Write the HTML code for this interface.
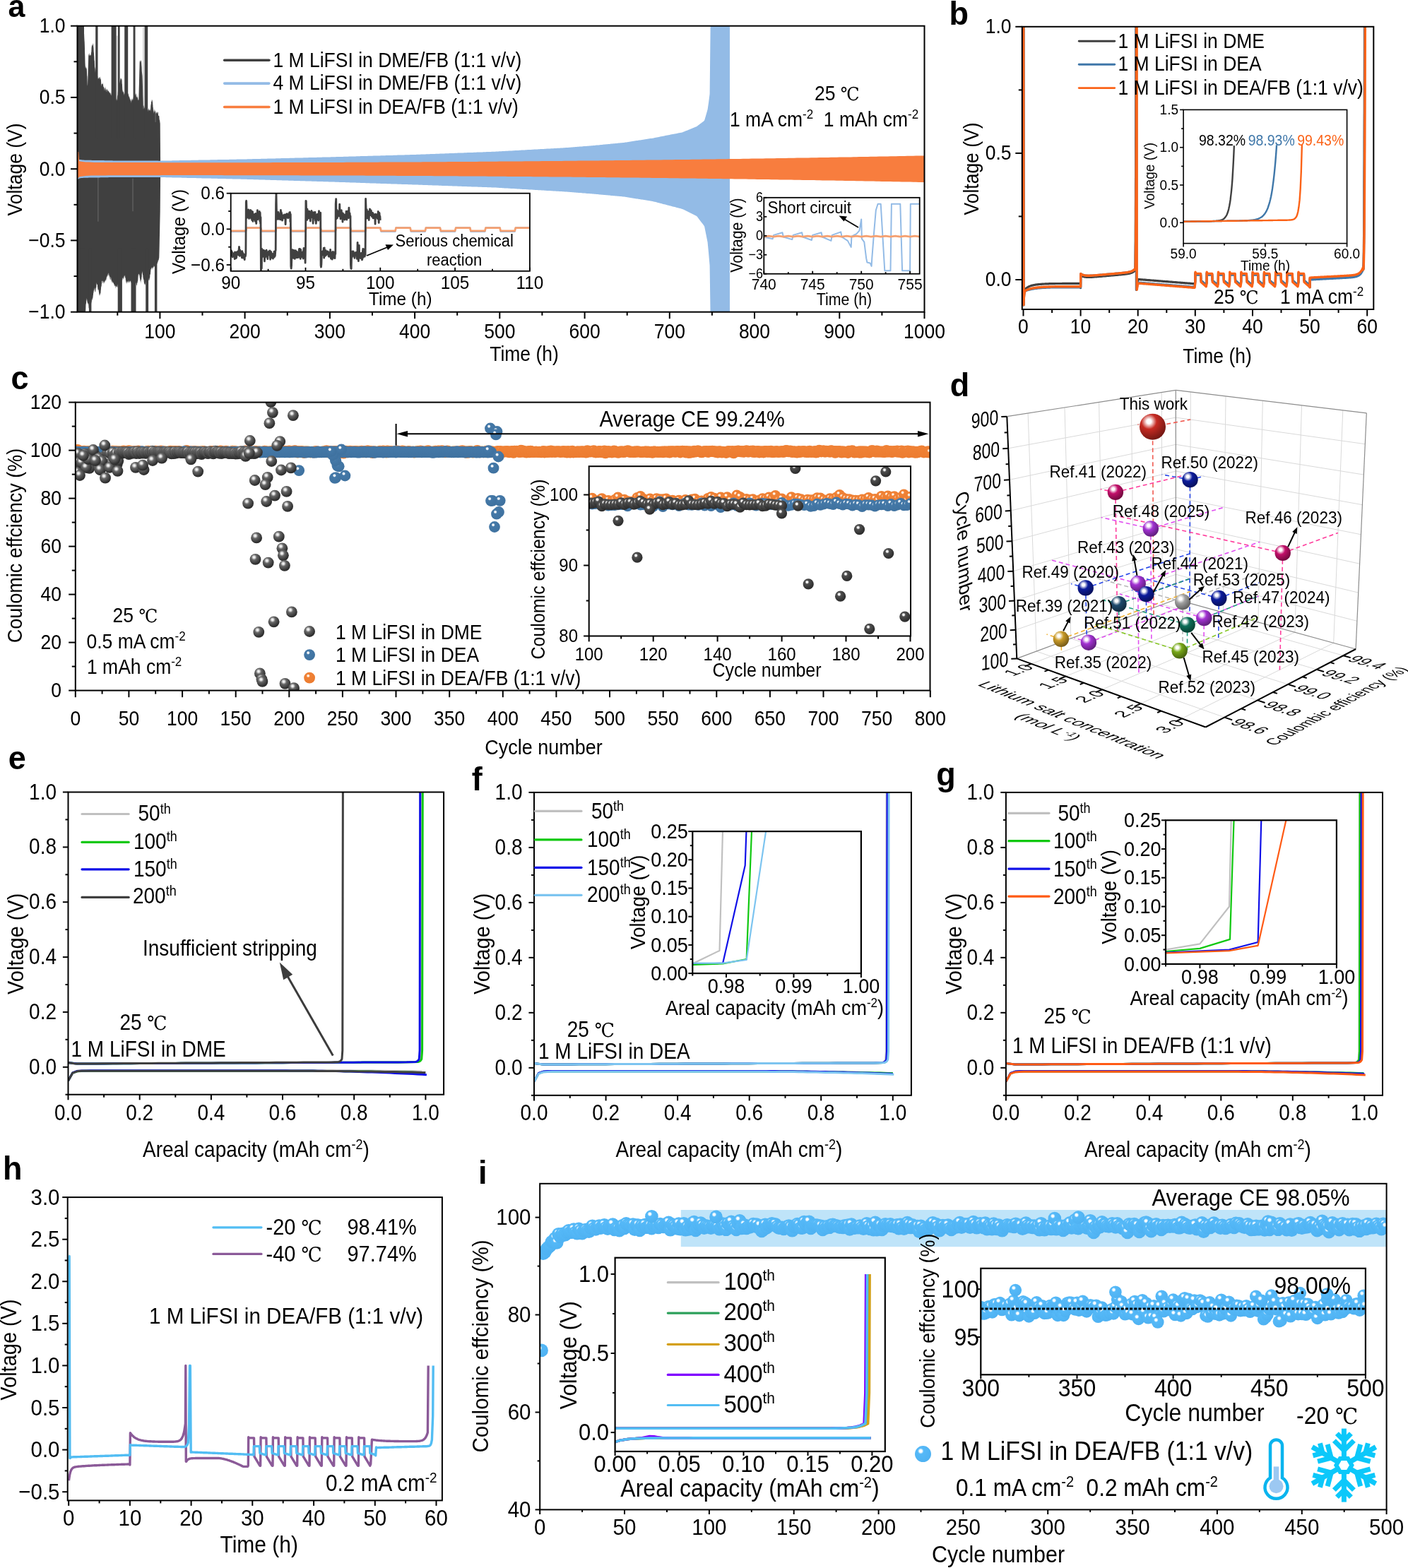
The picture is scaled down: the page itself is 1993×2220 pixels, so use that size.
<!DOCTYPE html><html><head><meta charset="utf-8"><style>html,body{margin:0;padding:0;background:#fff;overflow:hidden}svg{display:block}</style></head><body><svg width="1993" height="2220" viewBox="0 0 1993 2220"><defs><clipPath id="clipa"><rect x="109.5" y="36.7" width="1199" height="405"/></clipPath><clipPath id="clipa1"><rect x="326.7" y="273.7" width="423.2" height="110.1"/></clipPath><clipPath id="clipa2"><rect x="1081.3" y="279.8" width="220.4" height="107.9"/></clipPath><clipPath id="clipb"><rect x="1446.8" y="37.8" width="497.5" height="400.2"/></clipPath><clipPath id="clipbi"><rect x="1675.1" y="155.4" width="231.5" height="189.2"/></clipPath><radialGradient id="gG" cx="0.38" cy="0.32" r="0.62" fx="0.38" fy="0.32"><stop offset="0" stop-color="#f0f0f0"/><stop offset="0.12" stop-color="#f0f0f0"/><stop offset="0.4" stop-color="#666666"/><stop offset="1" stop-color="#2e2e2e"/></radialGradient><radialGradient id="gGd" cx="0.38" cy="0.32" r="0.62" fx="0.38" fy="0.32"><stop offset="0" stop-color="#ffffff"/><stop offset="0.12" stop-color="#ffffff"/><stop offset="0.3" stop-color="#505050"/><stop offset="1" stop-color="#2e2e2e"/></radialGradient><radialGradient id="gB" cx="0.38" cy="0.32" r="0.62" fx="0.38" fy="0.32"><stop offset="0" stop-color="#ffffff"/><stop offset="0.12" stop-color="#ffffff"/><stop offset="0.26" stop-color="#4579a8"/><stop offset="1" stop-color="#3f72a0"/></radialGradient><radialGradient id="gO" cx="0.38" cy="0.32" r="0.62" fx="0.38" fy="0.32"><stop offset="0" stop-color="#fff4ea"/><stop offset="0.12" stop-color="#fff4ea"/><stop offset="0.26" stop-color="#f08236"/><stop offset="1" stop-color="#ec7c30"/></radialGradient><clipPath id="clipc"><rect x="106.8" y="569.6" width="1209.7" height="408"/></clipPath><clipPath id="clipci"><rect x="833.7" y="660.2" width="455.3" height="240.3"/></clipPath><radialGradient id="gdThiswork" cx="0.36" cy="0.3" r="0.7" fx="0.36" fy="0.3"><stop offset="0" stop-color="#ffffff"/><stop offset="0.12" stop-color="#ffffff"/><stop offset="0.42" stop-color="#c62a22"/><stop offset="1" stop-color="#761914"/></radialGradient><radialGradient id="gdRef50" cx="0.36" cy="0.3" r="0.7" fx="0.36" fy="0.3"><stop offset="0" stop-color="#ffffff"/><stop offset="0.12" stop-color="#ffffff"/><stop offset="0.42" stop-color="#0c1c9c"/><stop offset="1" stop-color="#07105d"/></radialGradient><radialGradient id="gdRef41" cx="0.36" cy="0.3" r="0.7" fx="0.36" fy="0.3"><stop offset="0" stop-color="#ffffff"/><stop offset="0.12" stop-color="#ffffff"/><stop offset="0.42" stop-color="#c2106a"/><stop offset="1" stop-color="#74093f"/></radialGradient><radialGradient id="gdRef48" cx="0.36" cy="0.3" r="0.7" fx="0.36" fy="0.3"><stop offset="0" stop-color="#ffffff"/><stop offset="0.12" stop-color="#ffffff"/><stop offset="0.42" stop-color="#a232d2"/><stop offset="1" stop-color="#611e7e"/></radialGradient><radialGradient id="gdRef46" cx="0.36" cy="0.3" r="0.7" fx="0.36" fy="0.3"><stop offset="0" stop-color="#ffffff"/><stop offset="0.12" stop-color="#ffffff"/><stop offset="0.42" stop-color="#c2106a"/><stop offset="1" stop-color="#74093f"/></radialGradient><radialGradient id="gdRef43" cx="0.36" cy="0.3" r="0.7" fx="0.36" fy="0.3"><stop offset="0" stop-color="#ffffff"/><stop offset="0.12" stop-color="#ffffff"/><stop offset="0.42" stop-color="#a232d2"/><stop offset="1" stop-color="#611e7e"/></radialGradient><radialGradient id="gdRef44" cx="0.36" cy="0.3" r="0.7" fx="0.36" fy="0.3"><stop offset="0" stop-color="#ffffff"/><stop offset="0.12" stop-color="#ffffff"/><stop offset="0.42" stop-color="#0c1c9c"/><stop offset="1" stop-color="#07105d"/></radialGradient><radialGradient id="gdRef49" cx="0.36" cy="0.3" r="0.7" fx="0.36" fy="0.3"><stop offset="0" stop-color="#ffffff"/><stop offset="0.12" stop-color="#ffffff"/><stop offset="0.42" stop-color="#0c1c9c"/><stop offset="1" stop-color="#07105d"/></radialGradient><radialGradient id="gdRef53" cx="0.36" cy="0.3" r="0.7" fx="0.36" fy="0.3"><stop offset="0" stop-color="#ffffff"/><stop offset="0.12" stop-color="#ffffff"/><stop offset="0.42" stop-color="#a0a0a0"/><stop offset="1" stop-color="#606060"/></radialGradient><radialGradient id="gdRef47" cx="0.36" cy="0.3" r="0.7" fx="0.36" fy="0.3"><stop offset="0" stop-color="#ffffff"/><stop offset="0.12" stop-color="#ffffff"/><stop offset="0.42" stop-color="#0c1c9c"/><stop offset="1" stop-color="#07105d"/></radialGradient><radialGradient id="gdRef51" cx="0.36" cy="0.3" r="0.7" fx="0.36" fy="0.3"><stop offset="0" stop-color="#ffffff"/><stop offset="0.12" stop-color="#ffffff"/><stop offset="0.42" stop-color="#1e4a6c"/><stop offset="1" stop-color="#122c40"/></radialGradient><radialGradient id="gdRef39" cx="0.36" cy="0.3" r="0.7" fx="0.36" fy="0.3"><stop offset="0" stop-color="#ffffff"/><stop offset="0.12" stop-color="#ffffff"/><stop offset="0.42" stop-color="#c89a28"/><stop offset="1" stop-color="#785c18"/></radialGradient><radialGradient id="gdRef35" cx="0.36" cy="0.3" r="0.7" fx="0.36" fy="0.3"><stop offset="0" stop-color="#ffffff"/><stop offset="0.12" stop-color="#ffffff"/><stop offset="0.42" stop-color="#a232d2"/><stop offset="1" stop-color="#611e7e"/></radialGradient><radialGradient id="gdRef42" cx="0.36" cy="0.3" r="0.7" fx="0.36" fy="0.3"><stop offset="0" stop-color="#ffffff"/><stop offset="0.12" stop-color="#ffffff"/><stop offset="0.42" stop-color="#a232d2"/><stop offset="1" stop-color="#611e7e"/></radialGradient><radialGradient id="gdRef45" cx="0.36" cy="0.3" r="0.7" fx="0.36" fy="0.3"><stop offset="0" stop-color="#ffffff"/><stop offset="0.12" stop-color="#ffffff"/><stop offset="0.42" stop-color="#0e6e58"/><stop offset="1" stop-color="#084234"/></radialGradient><radialGradient id="gdRef52" cx="0.36" cy="0.3" r="0.7" fx="0.36" fy="0.3"><stop offset="0" stop-color="#ffffff"/><stop offset="0.12" stop-color="#ffffff"/><stop offset="0.42" stop-color="#78a818"/><stop offset="1" stop-color="#48640e"/></radialGradient><clipPath id="clipe"><rect x="96.5" y="1121.5" width="531.6" height="428.2"/></clipPath><clipPath id="clipf"><rect x="756" y="1121.9" width="533.9" height="428.9"/></clipPath><clipPath id="clipif"><rect x="980.3" y="1177.1" width="238.6" height="201"/></clipPath><clipPath id="clipg"><rect x="1423.9" y="1121.9" width="533.1" height="428.9"/></clipPath><clipPath id="clipig"><rect x="1650" y="1161.3" width="241.9" height="203.6"/></clipPath><clipPath id="cliph"><rect x="95.7" y="1695.1" width="530.2" height="429.3"/></clipPath><radialGradient id="gS" cx="0.36" cy="0.32" r="0.66" fx="0.36" fy="0.32"><stop offset="0" stop-color="#ffffff"/><stop offset="0.12" stop-color="#ffffff"/><stop offset="0.28" stop-color="#55b9f8"/><stop offset="1" stop-color="#4fb2f2"/></radialGradient><clipPath id="clipim"><rect x="764.2" y="1675.8" width="1198.4" height="461.6"/></clipPath><clipPath id="clipi1"><rect x="870.6" y="1780.7" width="382.2" height="274.3"/></clipPath><clipPath id="clipi2"><rect x="1388.3" y="1795.8" width="544.6" height="150.5"/></clipPath></defs><text x="11.6" y="23.6" font-size="43" font-weight="bold" fill="#000" font-family='"Liberation Sans", Arial, sans-serif' transform="translate(11.6 23.6) scale(1 1.03) translate(-11.6 -23.6)" >a</text>
<g clip-path="url(#clipa)">
<path d="M109.3 36.8 L109.5 37.7 L109.7 37 L109.9 34.5 L110.1 38.3 L110.4 37.6 L110.6 36.2 L110.8 38.1 L111 37.9 L111.2 37.9 L111.4 37.6 L111.6 38.6 L111.8 36.6 L112 37.7 L112.2 37.3 L112.4 39.3 L112.6 38.5 L112.8 38.1 L113 37.4 L113.3 38.4 L113.5 39 L113.7 38.7 L113.9 41.4 L114.1 41.1 L114.3 35 L114.5 36.5 L114.7 39.5 L114.9 39.2 L115.1 40.4 L115.3 40.6 L115.5 43.9 L115.7 38.6 L115.9 40 L116.2 44.2 L116.4 42 L116.6 42.1 L116.8 40.3 L117 38.6 L117.2 41.7 L117.4 41.8 L117.6 39.7 L117.8 40.7 L118 41.9 L118.2 40.6 L118.4 42.1 L118.6 42.6 L118.8 45.8 L119.1 48.2 L119.3 53.3 L119.5 57.2 L119.7 59.5 L119.9 64.7 L120.1 74.3 L120.3 79.3 L120.5 88.6 L120.7 92.4 L120.9 96.1 L121.1 95 L121.3 93.4 L121.5 95.3 L121.7 96.4 L122 97.1 L122.2 95.5 L122.4 95.7 L122.6 98.3 L122.8 97.6 L123 102.7 L123.2 107.5 L123.4 107.5 L123.6 114.6 L123.8 120.2 L124 121.7 L124.2 113.4 L124.4 108.6 L124.6 100.3 L124.8 94 L125.1 84.5 L125.3 75.2 L125.5 77.4 L125.7 76.9 L125.9 78.9 L126.1 77.9 L126.3 74.9 L126.5 75.6 L126.7 79.1 L126.9 78.8 L127.1 76.6 L127.3 77.6 L127.5 78.4 L127.7 78.4 L128 79.1 L128.2 78.1 L128.4 77.5 L128.6 77.2 L128.8 79.4 L129 73.9 L129.2 74.5 L129.4 71.9 L129.6 66.6 L129.8 66.6 L130 62.1 L130.2 64.6 L130.4 62.9 L130.6 64.2 L130.9 65.2 L131.1 63.8 L131.3 61.7 L131.5 60.6 L131.7 66 L131.9 62.9 L132.1 62 L132.3 66.3 L132.5 68.6 L132.7 73.2 L132.9 74.8 L133.1 77.7 L133.3 79.9 L133.5 85.3 L133.8 86.3 L134 92.5 L134.2 97.4 L134.4 95.8 L134.6 94.5 L134.8 99.8 L135 103.2 L135.2 97.5 L135.4 97.3 L135.6 100.6 L135.8 98.4 L136 99.2 L136.2 99.6 L136.4 101.3 L136.7 100.9 L136.9 103.2 L137.1 103.6 L137.3 103.6 L137.5 105.6 L137.7 105.7 L137.9 108.5 L138.1 107.7 L138.3 109 L138.5 113.2 L138.7 110.7 L138.9 110.7 L139.1 111.6 L139.3 110.1 L139.6 110.4 L139.8 111.5 L140 111.2 L140.2 108.8 L140.4 112.1 L140.6 109.8 L140.8 109 L141 109.3 L141.2 110.1 L141.4 113.5 L141.6 108.8 L141.8 111 L142 107.2 L142.2 110.8 L142.5 112.3 L142.7 112 L142.9 113 L143.1 116.1 L143.3 118.5 L143.5 120.1 L143.7 122.3 L143.9 119.4 L144.1 118.1 L144.3 118.8 L144.5 118.9 L144.7 119.2 L144.9 119 L145.1 119.3 L145.4 116.3 L145.6 120.4 L145.8 118.7 L146 118.3 L146.2 122 L146.4 123.7 L146.6 123 L146.8 123 L147 121.8 L147.2 128.8 L147.4 126.1 L147.6 123.4 L147.8 124.1 L148 125.6 L148.3 123 L148.5 126 L148.7 125 L148.9 127.9 L149.1 127.6 L149.3 121.6 L149.5 126.3 L149.7 123.6 L149.9 128.2 L150.1 126.8 L150.3 127.5 L150.5 124.9 L150.7 129.8 L150.9 130.3 L151.1 125.3 L151.4 127.7 L151.6 126.1 L151.8 127.3 L152 125.5 L152.2 130.9 L152.4 126.5 L152.6 127.9 L152.8 129.5 L153 127.8 L153.2 128.7 L153.4 128.5 L153.6 129.4 L153.8 128 L154 129.5 L154.3 130.1 L154.5 130.1 L154.7 131 L154.9 130.7 L155.1 132.7 L155.3 131.2 L155.5 131.8 L155.7 131.1 L155.9 131.6 L156.1 130.7 L156.3 133.9 L156.5 131.4 L156.7 132.3 L156.9 134.4 L157.2 134.7 L157.4 133.7 L157.6 131.2 L157.8 135.5 L158 135.5 L158.2 133 L158.4 136.9 L158.6 134.7 L158.8 134.3 L159 136.5 L159.2 136.4 L159.4 137.2 L159.6 134.5 L159.8 140.4 L160.1 136.7 L160.3 135.3 L160.5 139 L160.7 137.6 L160.9 138.9 L161.1 137.9 L161.3 138.6 L161.5 139.2 L161.7 137.8 L161.9 140.3 L162.1 138.6 L162.3 138.1 L162.5 139.8 L162.7 140.6 L163 139.6 L163.2 138.7 L163.4 141.4 L163.6 137.6 L163.8 139 L164 140.9 L164.2 138.7 L164.4 141.2 L164.6 141.2 L164.8 143 L165 140.1 L165.2 140.8 L165.4 141.1 L165.6 135.3 L165.9 143.2 L166.1 135.7 L166.3 134.4 L166.5 135.8 L166.7 133.1 L166.9 128.9 L167.1 131.7 L167.3 130.8 L167.5 127.4 L167.7 126.4 L167.9 126.5 L168.1 122.9 L168.3 123.9 L168.5 122.3 L168.8 119.6 L169 117.2 L169.2 117.8 L169.4 115.5 L169.6 117.4 L169.8 114.7 L170 114.5 L170.2 112.2 L170.4 111.2 L170.6 109.7 L170.8 112.3 L171 114.3 L171.2 111.1 L171.4 110.8 L171.7 111.7 L171.9 111.4 L172.1 111.3 L172.3 112.9 L172.5 112.4 L172.7 118.3 L172.9 119 L173.1 122.7 L173.3 126.8 L173.5 127.9 L173.7 131.3 L173.9 128.4 L174.1 128.6 L174.3 129.8 L174.5 130.8 L174.8 129.1 L175 131.9 L175.2 129.7 L175.4 135.3 L175.6 133.4 L175.8 132.5 L176 132 L176.2 132.9 L176.4 133.2 L176.6 131.8 L176.8 132 L177 133.2 L177.2 132.7 L177.4 135.1 L177.7 135.4 L177.9 133.6 L178.1 134.3 L178.3 131.3 L178.5 134.6 L178.7 133.5 L178.9 134.3 L179.1 136.2 L179.3 129.8 L179.5 134 L179.7 131.7 L179.9 134.5 L180.1 131.4 L180.3 132.7 L180.6 133.9 L180.8 134.6 L181 133.7 L181.2 132.2 L181.4 132.6 L181.6 135 L181.8 133.5 L182 131.4 L182.2 136.2 L182.4 136.1 L182.6 137.5 L182.8 136.1 L183 138.6 L183.2 136.1 L183.5 139.5 L183.7 138.3 L183.9 140.9 L184.1 141.7 L184.3 139.2 L184.5 140.6 L184.7 141.1 L184.9 143.3 L185.1 142.8 L185.3 139.9 L185.5 143 L185.7 143.8 L185.9 146.4 L186.1 139.8 L186.4 141.4 L186.6 144.1 L186.8 139.4 L187 139.3 L187.2 141.9 L187.4 142.4 L187.6 139.3 L187.8 141 L188 139.9 L188.2 142 L188.4 139.1 L188.6 140.5 L188.8 137 L189 137.9 L189.3 137.7 L189.5 139.5 L189.7 138.2 L189.9 135.7 L190.1 137.8 L190.3 137.6 L190.5 135.8 L190.7 135.3 L190.9 135.1 L191.1 132.3 L191.3 135.1 L191.5 134.9 L191.7 132.7 L191.9 135.1 L192.2 131.3 L192.4 133 L192.6 133.6 L192.8 138.1 L193 132.5 L193.2 136.5 L193.4 137.6 L193.6 137.1 L193.8 138.8 L194 135.6 L194.2 133.9 L194.4 139.4 L194.6 136.5 L194.8 138.4 L195.1 137.4 L195.3 141.5 L195.5 141.6 L195.7 139.4 L195.9 142.5 L196.1 141.6 L196.3 141.6 L196.5 133.9 L196.7 125.5 L196.9 118.9 L197.1 110.4 L197.3 101.3 L197.5 95.6 L197.7 84.9 L197.9 86.4 L198.2 86.6 L198.4 88.4 L198.6 85.1 L198.8 88.8 L199 86.2 L199.2 85.6 L199.4 84.8 L199.6 86.9 L199.8 86 L200 86.7 L200.2 89.2 L200.4 92.8 L200.6 95.1 L200.8 100.7 L201.1 103.7 L201.3 105.5 L201.5 107.2 L201.7 112.1 L201.9 119.1 L202.1 126.7 L202.3 135 L202.5 139.2 L202.7 143.4 L202.9 150.2 L203.1 149.4 L203.3 149.1 L203.5 150.2 L203.7 150.9 L204 153.8 L204.2 150.9 L204.4 153.2 L204.6 154 L204.8 151.4 L205 154 L205.2 152.7 L205.4 150.9 L205.6 152.2 L205.8 151.9 L206 151.6 L206.2 151.8 L206.4 152.5 L206.6 153.1 L206.9 151 L207.1 152.6 L207.3 150.2 L207.5 153.3 L207.7 154 L207.9 153.4 L208.1 153.7 L208.3 154.3 L208.5 152.4 L208.7 153.2 L208.9 154.6 L209.1 155.5 L209.3 154.7 L209.5 158.4 L209.8 154.1 L210 156 L210.2 156.6 L210.4 154.4 L210.6 153.4 L210.8 153 L211 155.3 L211.2 157.1 L211.4 155.8 L211.6 155.8 L211.8 155 L212 156.7 L212.2 152.4 L212.4 156.4 L212.7 156.2 L212.9 154 L213.1 158 L213.3 150.2 L213.5 148.8 L213.7 146.6 L213.9 148.5 L214.1 143.3 L214.3 144 L214.5 143.8 L214.7 143.3 L214.9 140.7 L215.1 141.8 L215.3 145.6 L215.6 140.7 L215.8 141.5 L216 142.6 L216.2 146.9 L216.4 148.7 L216.6 152.2 L216.8 151.9 L217 157.9 L217.2 157.4 L217.4 154 L217.6 159.3 L217.8 160.7 L218 155.7 L218.2 157.2 L218.5 159.6 L218.7 155 L218.9 154.3 L219.1 155.6 L219.3 156.9 L219.5 157 L219.7 159.1 L219.9 158.7 L220.1 156.3 L220.3 159.4 L220.5 161.6 L220.7 160.6 L220.9 160.3 L221.1 158.8 L221.4 160.4 L221.6 157.3 L221.8 160.2 L222 158.9 L222.2 161 L222.4 159.9 L222.6 157.4 L222.8 159.5 L223 161.4 L223.2 157.6 L223.4 159 L223.6 159.2 L223.8 158.5 L224 163.1 L224.2 164.2 L224.5 163.9 L224.7 163.5 L224.9 163.5 L225.1 164.5 L225.3 163.4 L225.5 167.6 L225.7 169.3 L225.9 170.6 L226.1 169.6 L226.3 172 L226.5 173.5 L226.7 175 L226.9 201.9 L227.1 228.8 L227.1 249.5 L226.9 274.4 L226.7 299.2 L226.5 308.7 L226.3 318.1 L226.1 329 L225.9 337.2 L225.7 347.8 L225.5 356.1 L225.3 363.8 L225.1 366 L224.9 366 L224.7 368 L224.5 367.9 L224.2 369.7 L224 367.6 L223.8 369.3 L223.6 370.4 L223.4 371.5 L223.2 371.6 L223 370.6 L222.8 373.7 L222.6 372.8 L222.4 373.9 L222.2 372.4 L222 373.6 L221.8 376.3 L221.6 373.7 L221.4 376.1 L221.1 378.2 L220.9 375.6 L220.7 374.9 L220.5 374 L220.3 377.8 L220.1 374.3 L219.9 378.5 L219.7 375.9 L219.5 377.7 L219.3 376.7 L219.1 376.3 L218.9 376.1 L218.7 378.5 L218.5 376.8 L218.2 377.5 L218 377.5 L217.8 375.3 L217.6 379.1 L217.4 378.3 L217.2 377.4 L217 378.5 L216.8 380.5 L216.6 378.8 L216.4 378 L216.2 382.7 L216 379 L215.8 382.2 L215.6 379.6 L215.3 378.9 L215.1 378.1 L214.9 379.5 L214.7 380.3 L214.5 382.6 L214.3 379.1 L214.1 378.7 L213.9 381 L213.7 381.7 L213.5 380.5 L213.3 384.1 L213.1 385.8 L212.9 389.2 L212.7 387.9 L212.4 389.1 L212.2 393 L212 393.9 L211.8 397.6 L211.6 397 L211.4 395.3 L211.2 392.6 L211 397 L210.8 393.2 L210.6 396.7 L210.4 396.4 L210.2 397.8 L210 395.7 L209.8 393.3 L209.5 398.4 L209.3 397.6 L209.1 396.1 L208.9 396.1 L208.7 396 L208.5 396.8 L208.3 400.1 L208.1 396.7 L207.9 399.9 L207.7 400.1 L207.5 399.9 L207.3 394.9 L207.1 399.7 L206.9 396.1 L206.6 399.9 L206.4 399.9 L206.2 400 L206 398.8 L205.8 403.7 L205.6 402.8 L205.4 402.6 L205.2 401.6 L205 405.6 L204.8 401.2 L204.6 401.8 L204.4 403.2 L204.2 401.6 L204 400.9 L203.7 398.4 L203.5 396.2 L203.3 395.7 L203.1 395.7 L202.9 393.8 L202.7 392.6 L202.5 395.9 L202.3 388.9 L202.1 390 L201.9 387.8 L201.7 387.2 L201.5 383.4 L201.3 385.4 L201.1 385.9 L200.8 388.1 L200.6 393.2 L200.4 391.9 L200.2 396 L200 395.8 L199.8 395.7 L199.6 402.1 L199.4 398.8 L199.2 395.4 L199 400 L198.8 397.7 L198.6 398.2 L198.4 396.2 L198.2 395.3 L197.9 393.3 L197.7 392.8 L197.5 388 L197.3 390.5 L197.1 389.5 L196.9 388.7 L196.7 387.5 L196.5 388.1 L196.3 387.8 L196.1 391.5 L195.9 387.8 L195.7 389.8 L195.5 392.4 L195.3 396 L195.1 397.9 L194.8 398.2 L194.6 400.9 L194.4 399.4 L194.2 401.5 L194 400.6 L193.8 406.3 L193.6 403.1 L193.4 403.5 L193.2 404 L193 403.7 L192.8 400.6 L192.6 400.1 L192.4 403.1 L192.2 400.1 L191.9 401.3 L191.7 401.4 L191.5 400.3 L191.3 401.7 L191.1 399.7 L190.9 402.9 L190.7 400.4 L190.5 402.3 L190.3 400 L190.1 400.4 L189.9 402.7 L189.7 399.4 L189.5 404.1 L189.3 401 L189 402.2 L188.8 401.9 L188.6 399.9 L188.4 401.2 L188.2 399.3 L188 397 L187.8 400.3 L187.6 401.8 L187.4 401.8 L187.2 401.4 L187 400.9 L186.8 401.4 L186.6 400.1 L186.4 397.5 L186.1 399.7 L185.9 401 L185.7 396.6 L185.5 400.8 L185.3 400.1 L185.1 399.6 L184.9 396.9 L184.7 398 L184.5 397.8 L184.3 398.4 L184.1 399.2 L183.9 398.5 L183.7 397.7 L183.5 399.1 L183.2 401 L183 398.4 L182.8 401.6 L182.6 398 L182.4 396.6 L182.2 400.6 L182 398.3 L181.8 399.4 L181.6 401.2 L181.4 397 L181.2 399.4 L181 397.2 L180.8 400.9 L180.6 399.5 L180.3 397.9 L180.1 399.4 L179.9 403 L179.7 397.9 L179.5 401.8 L179.3 400.2 L179.1 397.8 L178.9 400.3 L178.7 397.7 L178.5 401.5 L178.3 400 L178.1 396.1 L177.9 397.5 L177.7 393.6 L177.4 392.7 L177.2 394.6 L177 388.8 L176.8 391.4 L176.6 390.6 L176.4 394.1 L176.2 390 L176 390.6 L175.8 390.4 L175.6 392.3 L175.4 395.7 L175.2 391 L175 393.9 L174.8 394.9 L174.5 396 L174.3 393 L174.1 393.4 L173.9 394.3 L173.7 393.8 L173.5 392.2 L173.3 397.2 L173.1 396 L172.9 394.3 L172.7 396.5 L172.5 396.6 L172.3 397.3 L172.1 395.7 L171.9 396.1 L171.7 396 L171.4 400.9 L171.2 401.5 L171 399.5 L170.8 402.2 L170.6 399.1 L170.4 401.5 L170.2 402.1 L170 402 L169.8 400.6 L169.6 401.4 L169.4 407.9 L169.2 401.3 L169 404.7 L168.8 404.4 L168.5 402.6 L168.3 403.2 L168.1 402.3 L167.9 405.2 L167.7 404.8 L167.5 404.7 L167.3 403 L167.1 400.4 L166.9 404.2 L166.7 401.9 L166.5 406.5 L166.3 407 L166.1 406 L165.9 406.5 L165.6 405.3 L165.4 407.8 L165.2 403.8 L165 406.2 L164.8 405.8 L164.6 404.9 L164.4 407.1 L164.2 404.2 L164 407.5 L163.8 408.4 L163.6 406.6 L163.4 403.5 L163.2 405.6 L163 405.1 L162.7 405.1 L162.5 405.7 L162.3 403.6 L162.1 403.3 L161.9 405.2 L161.7 402.5 L161.5 401.8 L161.3 403.5 L161.1 402 L160.9 401.6 L160.7 400.5 L160.5 401.2 L160.3 399.4 L160.1 400.3 L159.8 400.3 L159.6 400.6 L159.4 399 L159.2 399.5 L159 397.2 L158.8 401.9 L158.6 399.6 L158.4 396.7 L158.2 398.4 L158 398.5 L157.8 399.1 L157.6 394.4 L157.4 392.8 L157.2 396.6 L156.9 395.4 L156.7 395.8 L156.5 397.6 L156.3 391.9 L156.1 392.4 L155.9 392.6 L155.7 396.2 L155.5 394.9 L155.3 392.2 L155.1 391.1 L154.9 389 L154.7 393.1 L154.5 389.7 L154.3 391 L154 386.3 L153.8 386.7 L153.6 387.5 L153.4 390.3 L153.2 389 L153 392.4 L152.8 389.9 L152.6 387.2 L152.4 390.7 L152.2 387.9 L152 391.4 L151.8 389.4 L151.6 392.7 L151.4 390.7 L151.1 392.4 L150.9 395.6 L150.7 396 L150.5 391.9 L150.3 393.6 L150.1 398.5 L149.9 396.5 L149.7 397.8 L149.5 395.6 L149.3 396 L149.1 398 L148.9 397.5 L148.7 397.7 L148.5 399.3 L148.3 399.7 L148 397.4 L147.8 400.6 L147.6 400 L147.4 399.5 L147.2 400.9 L147 402.2 L146.8 400.9 L146.6 398 L146.4 399.2 L146.2 397.6 L146 399.8 L145.8 401.4 L145.6 400.2 L145.4 400.7 L145.1 397.2 L144.9 398 L144.7 397.7 L144.5 398.3 L144.3 397.1 L144.1 402.3 L143.9 400.9 L143.7 404.6 L143.5 406.2 L143.3 405 L143.1 407.3 L142.9 410.1 L142.7 411 L142.5 414.5 L142.2 415.3 L142 416.8 L141.8 414.9 L141.6 416.9 L141.4 417.8 L141.2 417.2 L141 419.4 L140.8 416.2 L140.6 418.9 L140.4 416.7 L140.2 415.2 L140 413.5 L139.8 413.1 L139.6 409.9 L139.3 411.3 L139.1 409.3 L138.9 409.8 L138.7 411.1 L138.5 410.5 L138.3 405.1 L138.1 409.4 L137.9 401.4 L137.7 403 L137.5 402.6 L137.3 403.2 L137.1 402.9 L136.9 401.5 L136.7 400 L136.4 405.8 L136.2 407 L136 408 L135.8 407.2 L135.6 408.8 L135.4 410.9 L135.2 414 L135 412.2 L134.8 413.9 L134.6 412.6 L134.4 413.2 L134.2 409.3 L134 406.1 L133.8 411.6 L133.5 409 L133.3 408 L133.1 411.3 L132.9 410.8 L132.7 414.3 L132.5 411.5 L132.3 415.6 L132.1 414.7 L131.9 418.7 L131.7 417.7 L131.5 422 L131.3 421.1 L131.1 423.9 L130.9 425.2 L130.6 421.9 L130.4 424 L130.2 425.9 L130 422 L129.8 425.8 L129.6 428.3 L129.4 426.9 L129.2 430.2 L129 427.8 L128.8 424.7 L128.6 427.5 L128.4 429.6 L128.2 426.3 L128 430 L127.7 427.3 L127.5 433.1 L127.3 431.2 L127.1 430.2 L126.9 432.2 L126.7 433 L126.5 433.3 L126.3 433 L126.1 434.3 L125.9 436.2 L125.7 436.8 L125.5 433.3 L125.3 430.7 L125.1 429.6 L124.8 429.4 L124.6 429.7 L124.4 431.9 L124.2 429.3 L124 429.4 L123.8 428.3 L123.6 427 L123.4 427 L123.2 424.5 L123 423.5 L122.8 421.9 L122.6 426.3 L122.4 425.2 L122.2 424.1 L122 431.2 L121.7 429.1 L121.5 431.8 L121.3 437.7 L121.1 441.6 L120.9 439.1 L120.7 442.9 L120.5 440.7 L120.3 441 L120.1 441.6 L119.9 443.4 L119.7 444.9 L119.5 442.8 L119.3 443.3 L119.1 443.3 L118.8 441.7 L118.6 443.6 L118.4 442.3 L118.2 439.8 L118 442.1 L117.8 439.7 L117.6 445.7 L117.4 441.2 L117.2 439.8 L117 441.6 L116.8 442.1 L116.6 445.2 L116.4 442.6 L116.2 442.7 L115.9 445.2 L115.7 443.3 L115.5 440.7 L115.3 439.5 L115.1 442.7 L114.9 444.2 L114.7 441.2 L114.5 441.3 L114.3 439.6 L114.1 439.7 L113.9 441.5 L113.7 441.5 L113.5 437 L113.3 442.2 L113 440.3 L112.8 437.6 L112.6 440.6 L112.4 443.5 L112.2 440.9 L112 441.6 L111.8 443.7 L111.6 441.5 L111.4 443.2 L111.2 442.6 L111 441.9 L110.8 440 L110.6 439.1 L110.4 438.8 L110.1 442.2 L109.9 443.6 L109.7 443.2 L109.5 445.2 L109.3 442.8Z" stroke="none" stroke-width="0" fill="#404040" stroke-linejoin="round" />
<rect x="109.3" y="36.7" width="9.7" height="160" fill="#404040" stroke="none" stroke-width="0" />
<rect x="135.2" y="36.7" width="3.3" height="160" fill="#404040" stroke="none" stroke-width="0" />
<rect x="157.6" y="36.7" width="7" height="160" fill="#404040" stroke="none" stroke-width="0" />
<rect x="166.9" y="36.7" width="2.7" height="160" fill="#404040" stroke="none" stroke-width="0" />
<rect x="176.2" y="36.7" width="5" height="160" fill="#404040" stroke="none" stroke-width="0" />
<rect x="188.6" y="36.7" width="2.9" height="160" fill="#404040" stroke="none" stroke-width="0" />
<rect x="204.6" y="36.7" width="4.6" height="160" fill="#404040" stroke="none" stroke-width="0" />
<rect x="109.3" y="351.7" width="11.4" height="92" fill="#404040" stroke="none" stroke-width="0" />
<rect x="125.9" y="351.7" width="3.5" height="92" fill="#404040" stroke="none" stroke-width="0" />
<rect x="166.7" y="351.7" width="6.2" height="92" fill="#404040" stroke="none" stroke-width="0" />
<rect x="185.5" y="351.7" width="7" height="92" fill="#404040" stroke="none" stroke-width="0" />
<rect x="206.2" y="351.7" width="3.9" height="92" fill="#404040" stroke="none" stroke-width="0" />
<rect x="218.9" y="351.7" width="3.5" height="92" fill="#404040" stroke="none" stroke-width="0" />
<line x1="138.9" y1="249.5" x2="138.9" y2="313.7" stroke="#8a8a8a" stroke-width="0.6" />
<line x1="188" y1="252.6" x2="188" y2="299.2" stroke="#8a8a8a" stroke-width="0.6" />
<line x1="165.9" y1="50.7" x2="165.9" y2="141.8" stroke="#8a8a8a" stroke-width="0.6" />
<line x1="202.9" y1="38.3" x2="202.9" y2="154.2" stroke="#8a8a8a" stroke-width="0.6" />
<line x1="220.1" y1="158.4" x2="220.1" y2="172.9" stroke="#8a8a8a" stroke-width="0.6" />
<path d="M109.4 224 L110.9 225 L112.4 225.9 L113.9 226.1 L115.4 226.3 L116.9 226.5 L118.4 226.6 L119.9 226.7 L121.4 226.7 L122.9 226.7 L124.4 226.7 L125.9 226.8 L127.4 226.8 L128.9 226.8 L130.4 226.9 L131.9 226.9 L133.4 226.9 L134.9 226.9 L136.4 227 L137.9 227 L139.4 227 L140.8 227 L142.3 227.1 L143.8 227.1 L145.3 227.1 L146.8 227.1 L148.3 227.2 L149.8 227.2 L151.3 227.2 L152.8 227.2 L154.3 227.3 L155.8 227.3 L157.3 227.3 L158.8 227.3 L160.3 227.4 L161.8 227.4 L163.3 227.4 L164.8 227.4 L166.3 227.5 L167.8 227.5 L169.3 227.5 L170.8 227.5 L172.3 227.5 L173.8 227.5 L175.3 227.5 L176.8 227.5 L178.3 227.5 L179.8 227.5 L181.3 227.5 L182.8 227.5 L184.3 227.5 L185.8 227.5 L187.3 227.5 L188.8 227.5 L190.3 227.5 L191.7 227.5 L193.2 227.5 L194.7 227.6 L196.2 227.6 L197.7 227.6 L199.2 227.6 L200.7 227.6 L202.2 227.6 L203.7 227.6 L205.2 227.6 L206.7 227.6 L208.2 227.6 L209.7 227.6 L211.2 227.6 L212.7 227.6 L214.2 227.6 L215.7 227.6 L217.2 227.6 L218.7 227.6 L220.2 227.6 L221.7 227.6 L223.2 227.6 L224.7 227.7 L226.2 227.7 L227.7 227.6 L229.2 227.6 L230.7 227.6 L232.2 227.6 L233.7 227.5 L235.2 227.5 L236.7 227.5 L238.2 227.4 L239.7 227.4 L241.1 227.4 L242.6 227.4 L244.1 227.3 L245.6 227.3 L247.1 227.3 L248.6 227.2 L250.1 227.2 L251.6 227.2 L253.1 227.2 L254.6 227.1 L256.1 227.1 L257.6 227.1 L259.1 227.1 L260.6 227 L262.1 227 L263.6 227 L265.1 226.9 L266.6 226.9 L268.1 226.9 L269.6 226.9 L271.1 226.8 L272.6 226.8 L274.1 226.8 L275.6 226.7 L277.1 226.7 L278.6 226.7 L280.1 226.7 L281.6 226.6 L283.1 226.6 L284.6 226.6 L286.1 226.6 L287.6 226.5 L289.1 226.5 L290.5 226.5 L292 226.4 L293.5 226.4 L295 226.4 L296.5 226.4 L298 226.3 L299.5 226.3 L301 226.3 L302.5 226.2 L304 226.2 L305.5 226.2 L307 226.2 L308.5 226.1 L310 226.1 L311.5 226.1 L313 226.1 L314.5 226 L316 226 L317.5 226 L319 225.9 L320.5 225.9 L322 225.9 L323.5 225.9 L325 225.8 L326.5 225.8 L328 225.8 L329.5 225.7 L331 225.7 L332.5 225.7 L334 225.7 L335.5 225.6 L337 225.6 L338.5 225.6 L340 225.6 L341.4 225.5 L342.9 225.5 L344.4 225.5 L345.9 225.4 L347.4 225.4 L348.9 225.4 L350.4 225.3 L351.9 225.3 L353.4 225.3 L354.9 225.2 L356.4 225.2 L357.9 225.1 L359.4 225.1 L360.9 225.1 L362.4 225 L363.9 225 L365.4 225 L366.9 224.9 L368.4 224.9 L369.9 224.8 L371.4 224.8 L372.9 224.8 L374.4 224.7 L375.9 224.7 L377.4 224.7 L378.9 224.6 L380.4 224.6 L381.9 224.5 L383.4 224.5 L384.9 224.5 L386.4 224.4 L387.9 224.4 L389.4 224.4 L390.8 224.3 L392.3 224.3 L393.8 224.2 L395.3 224.2 L396.8 224.2 L398.3 224.1 L399.8 224.1 L401.3 224 L402.8 224 L404.3 224 L405.8 223.9 L407.3 223.9 L408.8 223.9 L410.3 223.8 L411.8 223.8 L413.3 223.7 L414.8 223.7 L416.3 223.7 L417.8 223.6 L419.3 223.6 L420.8 223.6 L422.3 223.5 L423.8 223.5 L425.3 223.4 L426.8 223.4 L428.3 223.4 L429.8 223.3 L431.3 223.3 L432.8 223.3 L434.3 223.2 L435.8 223.2 L437.3 223.1 L438.8 223.1 L440.2 223.1 L441.7 223 L443.2 223 L444.7 223 L446.2 222.9 L447.7 222.9 L449.2 222.8 L450.7 222.8 L452.2 222.8 L453.7 222.7 L455.2 222.7 L456.7 222.6 L458.2 222.6 L459.7 222.6 L461.2 222.5 L462.7 222.5 L464.2 222.5 L465.7 222.4 L467.2 222.4 L468.7 222.3 L470.2 222.3 L471.7 222.3 L473.2 222.2 L474.7 222.2 L476.2 222.1 L477.7 222.1 L479.2 222 L480.7 222 L482.2 222 L483.7 221.9 L485.2 221.9 L486.7 221.8 L488.2 221.8 L489.6 221.7 L491.1 221.7 L492.6 221.7 L494.1 221.6 L495.6 221.6 L497.1 221.5 L498.6 221.5 L500.1 221.4 L501.6 221.4 L503.1 221.4 L504.6 221.3 L506.1 221.3 L507.6 221.2 L509.1 221.2 L510.6 221.1 L512.1 221.1 L513.6 221.1 L515.1 221 L516.6 221 L518.1 220.9 L519.6 220.9 L521.1 220.8 L522.6 220.8 L524.1 220.8 L525.6 220.7 L527.1 220.7 L528.6 220.6 L530.1 220.6 L531.6 220.5 L533.1 220.5 L534.6 220.5 L536.1 220.4 L537.6 220.4 L539.1 220.3 L540.5 220.3 L542 220.2 L543.5 220.2 L545 220.2 L546.5 220.1 L548 220.1 L549.5 220 L551 220 L552.5 219.9 L554 219.9 L555.5 219.9 L557 219.8 L558.5 219.8 L560 219.7 L561.5 219.7 L563 219.6 L564.5 219.6 L566 219.6 L567.5 219.5 L569 219.5 L570.5 219.4 L572 219.4 L573.5 219.3 L575 219.3 L576.5 219.3 L578 219.2 L579.5 219.2 L581 219.1 L582.5 219.1 L584 219 L585.5 219 L587 219 L588.5 218.9 L589.9 218.8 L591.4 218.8 L592.9 218.7 L594.4 218.7 L595.9 218.6 L597.4 218.6 L598.9 218.5 L600.4 218.4 L601.9 218.4 L603.4 218.3 L604.9 218.3 L606.4 218.2 L607.9 218.2 L609.4 218.1 L610.9 218.1 L612.4 218 L613.9 217.9 L615.4 217.9 L616.9 217.8 L618.4 217.8 L619.9 217.7 L621.4 217.7 L622.9 217.6 L624.4 217.5 L625.9 217.5 L627.4 217.4 L628.9 217.4 L630.4 217.3 L631.9 217.3 L633.4 217.2 L634.9 217.2 L636.4 217.1 L637.9 217 L639.3 217 L640.8 216.9 L642.3 216.9 L643.8 216.8 L645.3 216.8 L646.8 216.7 L648.3 216.6 L649.8 216.6 L651.3 216.5 L652.8 216.5 L654.3 216.4 L655.8 216.4 L657.3 216.3 L658.8 216.3 L660.3 216.2 L661.8 216.1 L663.3 216.1 L664.8 216 L666.3 216 L667.8 215.9 L669.3 215.9 L670.8 215.8 L672.3 215.7 L673.8 215.7 L675.3 215.6 L676.8 215.6 L678.3 215.5 L679.8 215.5 L681.3 215.4 L682.8 215.4 L684.3 215.3 L685.8 215.2 L687.3 215.2 L688.8 215.1 L690.2 215.1 L691.7 215 L693.2 215 L694.7 214.9 L696.2 214.8 L697.7 214.8 L699.2 214.7 L700.7 214.7 L702.2 214.6 L703.7 214.5 L705.2 214.4 L706.7 214.3 L708.2 214.3 L709.7 214.2 L711.2 214.1 L712.7 214 L714.2 213.9 L715.7 213.8 L717.2 213.8 L718.7 213.7 L720.2 213.6 L721.7 213.5 L723.2 213.4 L724.7 213.4 L726.2 213.3 L727.7 213.2 L729.2 213.1 L730.7 213 L732.2 212.9 L733.7 212.9 L735.2 212.8 L736.7 212.7 L738.2 212.6 L739.6 212.5 L741.1 212.4 L742.6 212.4 L744.1 212.3 L745.6 212.2 L747.1 212.1 L748.6 212 L750.1 212 L751.6 211.9 L753.1 211.8 L754.6 211.7 L756.1 211.6 L757.6 211.5 L759.1 211.5 L760.6 211.4 L762.1 211.3 L763.6 211.2 L765.1 211.1 L766.6 211.1 L768.1 211 L769.6 210.9 L771.1 210.8 L772.6 210.7 L774.1 210.6 L775.6 210.6 L777.1 210.5 L778.6 210.4 L780.1 210.3 L781.6 210.2 L783.1 210.2 L784.6 210.1 L786.1 210 L787.6 209.9 L789 209.8 L790.5 209.7 L792 209.7 L793.5 209.6 L795 209.5 L796.5 209.4 L798 209.3 L799.5 209.3 L801 209.1 L802.5 209 L804 208.9 L805.5 208.8 L807 208.7 L808.5 208.5 L810 208.4 L811.5 208.3 L813 208.2 L814.5 208.1 L816 208 L817.5 207.8 L819 207.7 L820.5 207.6 L822 207.5 L823.5 207.4 L825 207.2 L826.5 207.1 L828 207 L829.5 206.9 L831 206.8 L832.5 206.7 L834 206.5 L835.5 206.4 L837 206.3 L838.4 206.2 L839.9 206.1 L841.4 205.9 L842.9 205.8 L844.4 205.6 L845.9 205.5 L847.4 205.4 L848.9 205.2 L850.4 205.1 L851.9 204.9 L853.4 204.8 L854.9 204.6 L856.4 204.5 L857.9 204.3 L859.4 204.2 L860.9 204.1 L862.4 203.9 L863.9 203.8 L865.4 203.6 L866.9 203.5 L868.4 203.3 L869.9 203.2 L871.4 203 L872.9 202.9 L874.4 202.8 L875.9 202.6 L877.4 202.5 L878.9 202.3 L880.4 202.2 L881.9 202 L883.4 201.9 L884.9 201.6 L886.4 201.4 L887.9 201.2 L889.3 200.9 L890.8 200.7 L892.3 200.5 L893.8 200.3 L895.3 200 L896.8 199.8 L898.3 199.6 L899.8 199.3 L901.3 199.1 L902.8 198.9 L904.3 198.6 L905.8 198.4 L907.3 198.2 L908.8 198 L910.3 197.7 L911.8 197.5 L913.3 197.3 L914.8 197 L916.3 196.8 L917.8 196.6 L919.3 196.3 L920.8 196.1 L922.3 195.9 L923.8 195.7 L925.3 195.4 L926.8 195.1 L928.3 194.8 L929.8 194.5 L931.3 194.2 L932.8 193.9 L934.3 193.6 L935.8 193.3 L937.3 193 L938.7 192.7 L940.2 192.4 L941.7 192.1 L943.2 191.8 L944.7 191.5 L946.2 191.2 L947.7 190.9 L949.2 190.6 L950.7 190.3 L952.2 190 L953.7 189.8 L955.2 189.5 L956.7 189.2 L958.2 188.9 L959.7 188.6 L961.2 188.3 L962.7 188 L964.2 187.7 L965.7 187.4 L967.2 186.8 L968.7 186.2 L970.2 185.6 L971.7 185 L973.2 184.4 L974.7 183.8 L976.2 183.2 L977.7 182.6 L979.2 181.9 L980.7 181.3 L982.2 180.7 L983.7 180.1 L985.2 179.5 L986.7 178.8 L988.1 177.6 L989.6 176.5 L991.1 175.3 L992.6 174.2 L994.1 173 L995.6 171.9 L997.1 170.6 L998.6 165.5 L1000.1 160.3 L1001.6 155.1 L1003.1 144.7 L1004.6 133.1 L1006.1 -3.8 L1033 -3.8 L1033 482.2 L1006.1 482.2 L1004.6 376.1 L1003.1 358.7 L1001.6 343.1 L1000.1 335.5 L998.6 327.9 L997.1 320.4 L995.6 318.3 L994.1 316.3 L992.6 314.4 L991.1 312.4 L989.6 310.4 L988.1 308.5 L986.7 306.5 L985.2 305.5 L983.7 304.7 L982.2 304 L980.7 303.2 L979.2 302.5 L977.7 301.8 L976.2 301 L974.7 300.3 L973.2 299.5 L971.7 298.8 L970.2 298.1 L968.7 297.3 L967.2 296.6 L965.7 295.9 L964.2 295.5 L962.7 295.1 L961.2 294.7 L959.7 294.3 L958.2 293.9 L956.7 293.5 L955.2 293.1 L953.7 292.8 L952.2 292.4 L950.7 292 L949.2 291.6 L947.7 291.2 L946.2 290.8 L944.7 290.4 L943.2 290 L941.7 289.6 L940.2 289.3 L938.7 288.9 L937.3 288.5 L935.8 288.1 L934.3 287.7 L932.8 287.3 L931.3 286.9 L929.8 286.5 L928.3 286.1 L926.8 285.7 L925.3 285.4 L923.8 285 L922.3 284.7 L920.8 284.5 L919.3 284.3 L917.8 284 L916.3 283.8 L914.8 283.5 L913.3 283.3 L911.8 283.1 L910.3 282.8 L908.8 282.6 L907.3 282.4 L905.8 282.1 L904.3 281.9 L902.8 281.6 L901.3 281.4 L899.8 281.2 L898.3 280.9 L896.8 280.7 L895.3 280.5 L893.8 280.2 L892.3 280 L890.8 279.7 L889.3 279.5 L887.9 279.3 L886.4 279 L884.9 278.8 L883.4 278.6 L881.9 278.4 L880.4 278.3 L878.9 278.1 L877.4 278 L875.9 277.8 L874.4 277.7 L872.9 277.6 L871.4 277.4 L869.9 277.3 L868.4 277.2 L866.9 277 L865.4 276.9 L863.9 276.8 L862.4 276.6 L860.9 276.5 L859.4 276.3 L857.9 276.2 L856.4 276.1 L854.9 275.9 L853.4 275.8 L851.9 275.7 L850.4 275.5 L848.9 275.4 L847.4 275.2 L845.9 275.1 L844.4 275 L842.9 274.8 L841.4 274.7 L839.9 274.6 L838.4 274.5 L837 274.3 L835.5 274.2 L834 274.1 L832.5 274 L831 273.9 L829.5 273.7 L828 273.6 L826.5 273.5 L825 273.4 L823.5 273.3 L822 273.1 L820.5 273 L819 272.9 L817.5 272.8 L816 272.7 L814.5 272.6 L813 272.4 L811.5 272.3 L810 272.2 L808.5 272.1 L807 272 L805.5 271.8 L804 271.7 L802.5 271.6 L801 271.5 L799.5 271.4 L798 271.3 L796.5 271.2 L795 271.1 L793.5 271 L792 270.9 L790.5 270.8 L789 270.8 L787.6 270.7 L786.1 270.6 L784.6 270.5 L783.1 270.4 L781.6 270.3 L780.1 270.2 L778.6 270.1 L777.1 270.1 L775.6 270 L774.1 269.9 L772.6 269.8 L771.1 269.7 L769.6 269.6 L768.1 269.5 L766.6 269.4 L765.1 269.3 L763.6 269.3 L762.1 269.2 L760.6 269.1 L759.1 269 L757.6 268.9 L756.1 268.8 L754.6 268.7 L753.1 268.6 L751.6 268.6 L750.1 268.5 L748.6 268.4 L747.1 268.3 L745.6 268.2 L744.1 268.1 L742.6 268 L741.1 267.9 L739.6 267.9 L738.2 267.8 L736.7 267.7 L735.2 267.6 L733.7 267.5 L732.2 267.4 L730.7 267.3 L729.2 267.2 L727.7 267.1 L726.2 267.1 L724.7 267 L723.2 266.9 L721.7 266.8 L720.2 266.7 L718.7 266.6 L717.2 266.5 L715.7 266.4 L714.2 266.4 L712.7 266.3 L711.2 266.2 L709.7 266.1 L708.2 266 L706.7 265.9 L705.2 265.8 L703.7 265.7 L702.2 265.6 L700.7 265.6 L699.2 265.5 L697.7 265.4 L696.2 265.4 L694.7 265.3 L693.2 265.3 L691.7 265.2 L690.2 265.2 L688.8 265.1 L687.3 265.1 L685.8 265 L684.3 265 L682.8 264.9 L681.3 264.8 L679.8 264.8 L678.3 264.7 L676.8 264.7 L675.3 264.6 L673.8 264.6 L672.3 264.5 L670.8 264.5 L669.3 264.4 L667.8 264.4 L666.3 264.3 L664.8 264.3 L663.3 264.2 L661.8 264.2 L660.3 264.1 L658.8 264 L657.3 264 L655.8 263.9 L654.3 263.9 L652.8 263.8 L651.3 263.8 L649.8 263.7 L648.3 263.7 L646.8 263.6 L645.3 263.6 L643.8 263.5 L642.3 263.5 L640.8 263.4 L639.3 263.3 L637.9 263.3 L636.4 263.2 L634.9 263.2 L633.4 263.1 L631.9 263.1 L630.4 263 L628.9 263 L627.4 262.9 L625.9 262.9 L624.4 262.8 L622.9 262.8 L621.4 262.7 L619.9 262.6 L618.4 262.6 L616.9 262.5 L615.4 262.5 L613.9 262.4 L612.4 262.4 L610.9 262.3 L609.4 262.3 L607.9 262.2 L606.4 262.2 L604.9 262.1 L603.4 262.1 L601.9 262 L600.4 262 L598.9 261.9 L597.4 261.8 L595.9 261.8 L594.4 261.7 L592.9 261.7 L591.4 261.6 L589.9 261.6 L588.5 261.5 L587 261.5 L585.5 261.4 L584 261.4 L582.5 261.3 L581 261.3 L579.5 261.2 L578 261.2 L576.5 261.1 L575 261.1 L573.5 261 L572 261 L570.5 260.9 L569 260.9 L567.5 260.8 L566 260.8 L564.5 260.7 L563 260.7 L561.5 260.6 L560 260.6 L558.5 260.5 L557 260.5 L555.5 260.4 L554 260.4 L552.5 260.3 L551 260.3 L549.5 260.2 L548 260.2 L546.5 260.1 L545 260.1 L543.5 260 L542 260 L540.5 259.9 L539.1 259.9 L537.6 259.8 L536.1 259.8 L534.6 259.7 L533.1 259.7 L531.6 259.6 L530.1 259.6 L528.6 259.5 L527.1 259.5 L525.6 259.4 L524.1 259.4 L522.6 259.3 L521.1 259.3 L519.6 259.2 L518.1 259.2 L516.6 259.1 L515.1 259 L513.6 259 L512.1 258.9 L510.6 258.9 L509.1 258.8 L507.6 258.8 L506.1 258.7 L504.6 258.7 L503.1 258.6 L501.6 258.6 L500.1 258.5 L498.6 258.5 L497.1 258.4 L495.6 258.4 L494.1 258.3 L492.6 258.3 L491.1 258.2 L489.6 258.2 L488.2 258.1 L486.7 258.1 L485.2 258 L483.7 258 L482.2 257.9 L480.7 257.9 L479.2 257.8 L477.7 257.8 L476.2 257.7 L474.7 257.7 L473.2 257.6 L471.7 257.6 L470.2 257.5 L468.7 257.5 L467.2 257.4 L465.7 257.4 L464.2 257.3 L462.7 257.3 L461.2 257.3 L459.7 257.2 L458.2 257.2 L456.7 257.1 L455.2 257.1 L453.7 257 L452.2 257 L450.7 256.9 L449.2 256.9 L447.7 256.8 L446.2 256.8 L444.7 256.8 L443.2 256.7 L441.7 256.7 L440.2 256.6 L438.8 256.6 L437.3 256.5 L435.8 256.5 L434.3 256.4 L432.8 256.4 L431.3 256.3 L429.8 256.3 L428.3 256.3 L426.8 256.2 L425.3 256.2 L423.8 256.1 L422.3 256.1 L420.8 256 L419.3 256 L417.8 255.9 L416.3 255.9 L414.8 255.8 L413.3 255.8 L411.8 255.8 L410.3 255.7 L408.8 255.7 L407.3 255.6 L405.8 255.6 L404.3 255.5 L402.8 255.5 L401.3 255.4 L399.8 255.4 L398.3 255.3 L396.8 255.3 L395.3 255.3 L393.8 255.2 L392.3 255.2 L390.8 255.1 L389.4 255.1 L387.9 255 L386.4 255 L384.9 254.9 L383.4 254.9 L381.9 254.8 L380.4 254.8 L378.9 254.8 L377.4 254.7 L375.9 254.7 L374.4 254.6 L372.9 254.6 L371.4 254.5 L369.9 254.5 L368.4 254.4 L366.9 254.4 L365.4 254.3 L363.9 254.3 L362.4 254.3 L360.9 254.2 L359.4 254.2 L357.9 254.1 L356.4 254.1 L354.9 254 L353.4 254 L351.9 253.9 L350.4 253.9 L348.9 253.8 L347.4 253.8 L345.9 253.8 L344.4 253.7 L342.9 253.7 L341.4 253.7 L340 253.6 L338.5 253.6 L337 253.6 L335.5 253.5 L334 253.5 L332.5 253.4 L331 253.4 L329.5 253.4 L328 253.3 L326.5 253.3 L325 253.3 L323.5 253.2 L322 253.2 L320.5 253.2 L319 253.1 L317.5 253.1 L316 253.1 L314.5 253 L313 253 L311.5 253 L310 252.9 L308.5 252.9 L307 252.8 L305.5 252.8 L304 252.8 L302.5 252.7 L301 252.7 L299.5 252.7 L298 252.6 L296.5 252.6 L295 252.6 L293.5 252.5 L292 252.5 L290.5 252.5 L289.1 252.4 L287.6 252.4 L286.1 252.4 L284.6 252.3 L283.1 252.3 L281.6 252.2 L280.1 252.2 L278.6 252.2 L277.1 252.1 L275.6 252.1 L274.1 252.1 L272.6 252 L271.1 252 L269.6 252 L268.1 251.9 L266.6 251.9 L265.1 251.9 L263.6 251.8 L262.1 251.8 L260.6 251.8 L259.1 251.7 L257.6 251.7 L256.1 251.6 L254.6 251.6 L253.1 251.6 L251.6 251.5 L250.1 251.5 L248.6 251.5 L247.1 251.4 L245.6 251.4 L244.1 251.4 L242.6 251.3 L241.1 251.3 L239.7 251.3 L238.2 251.2 L236.7 251.2 L235.2 251.2 L233.7 251.1 L232.2 251.1 L230.7 251 L229.2 251 L227.7 251 L226.2 250.9 L224.7 250.9 L223.2 250.9 L221.7 250.9 L220.2 250.9 L218.7 250.9 L217.2 250.9 L215.7 250.9 L214.2 250.9 L212.7 250.9 L211.2 250.9 L209.7 250.9 L208.2 250.9 L206.7 250.9 L205.2 250.9 L203.7 250.9 L202.2 250.9 L200.7 250.9 L199.2 250.9 L197.7 250.9 L196.2 250.9 L194.7 250.9 L193.2 250.9 L191.7 250.9 L190.3 250.9 L188.8 250.9 L187.3 250.9 L185.8 250.9 L184.3 250.9 L182.8 250.9 L181.3 250.9 L179.8 250.9 L178.3 250.9 L176.8 250.9 L175.3 250.9 L173.8 250.9 L172.3 250.9 L170.8 250.9 L169.3 250.9 L167.8 250.9 L166.3 250.9 L164.8 251 L163.3 251 L161.8 251 L160.3 251 L158.8 251.1 L157.3 251.1 L155.8 251.1 L154.3 251.1 L152.8 251.2 L151.3 251.2 L149.8 251.2 L148.3 251.2 L146.8 251.3 L145.3 251.3 L143.8 251.3 L142.3 251.3 L140.8 251.4 L139.4 251.4 L137.9 251.4 L136.4 251.4 L134.9 251.5 L133.4 251.5 L131.9 251.5 L130.4 251.5 L128.9 251.6 L127.4 251.6 L125.9 251.6 L124.4 251.7 L122.9 251.7 L121.4 251.7 L119.9 251.7 L118.4 251.8 L116.9 251.9 L115.4 252.1 L113.9 252.3 L112.4 252.5 L110.9 253.4 L109.4 254.4Z" stroke="none" stroke-width="0" fill="#93bbe6" stroke-linejoin="round" />
<path d="M109.4 227.7 L113.4 228.5 L117.4 229 L121.4 229.4 L125.5 229.6 L129.5 229.8 L133.5 229.9 L137.5 230 L141.5 230 L145.5 230 L149.5 230 L153.5 230.1 L157.5 230.1 L161.5 230.1 L165.6 230.1 L169.6 230.1 L173.6 230.1 L177.6 230.1 L181.6 230.1 L185.6 230.1 L189.6 230.1 L193.6 230.1 L197.6 230.1 L201.7 230.1 L205.7 230.1 L209.7 230.1 L213.7 230.1 L217.7 230.1 L221.7 230.1 L225.7 230.1 L229.7 230.3 L233.7 230.3 L237.7 230.3 L241.8 230.3 L245.8 230.3 L249.8 230.3 L253.8 230.3 L257.8 230.3 L261.8 230.3 L265.8 230.3 L269.8 230.3 L273.8 230.3 L277.8 230.3 L281.9 230.3 L285.9 230.3 L289.9 230.3 L293.9 230.3 L297.9 230.3 L301.9 230.3 L305.9 230.3 L309.9 230.3 L313.9 230.3 L317.9 230.2 L322 230.2 L326 230.2 L330 230.2 L334 230.2 L338 230.2 L342 230.2 L346 230.2 L350 230.2 L354 230.2 L358.1 230.2 L362.1 230.2 L366.1 230.2 L370.1 230.2 L374.1 230.2 L378.1 230.2 L382.1 230.2 L386.1 230.1 L390.1 230.1 L394.1 230.1 L398.2 230.1 L402.2 230.1 L406.2 230.1 L410.2 230.1 L414.2 230.1 L418.2 230.1 L422.2 230.1 L426.2 230 L430.2 230 L434.2 230 L438.3 230 L442.3 230 L446.3 230 L450.3 230 L454.3 230 L458.3 230 L462.3 229.9 L466.3 229.9 L470.3 229.9 L474.4 229.9 L478.4 229.9 L482.4 229.9 L486.4 229.9 L490.4 229.8 L494.4 229.8 L498.4 229.8 L502.4 229.8 L506.4 229.8 L510.4 229.8 L514.5 229.8 L518.5 229.7 L522.5 229.7 L526.5 229.7 L530.5 229.7 L534.5 229.7 L538.5 229.6 L542.5 229.6 L546.5 229.6 L550.5 229.6 L554.6 229.6 L558.6 229.6 L562.6 229.5 L566.6 229.5 L570.6 229.5 L574.6 229.5 L578.6 229.5 L582.6 229.4 L586.6 229.4 L590.7 229.4 L594.7 229.4 L598.7 229.3 L602.7 229.3 L606.7 229.3 L610.7 229.3 L614.7 229.2 L618.7 229.2 L622.7 229.2 L626.7 229.2 L630.8 229.2 L634.8 229.1 L638.8 229.1 L642.8 229.1 L646.8 229.1 L650.8 229 L654.8 229 L658.8 229 L662.8 228.9 L666.8 228.9 L670.9 228.9 L674.9 228.9 L678.9 228.8 L682.9 228.8 L686.9 228.8 L690.9 228.7 L694.9 228.7 L698.9 228.7 L702.9 228.7 L707 228.6 L711 228.6 L715 228.6 L719 228.5 L723 228.5 L727 228.5 L731 228.4 L735 228.4 L739 228.4 L743 228.3 L747.1 228.3 L751.1 228.3 L755.1 228.2 L759.1 228.2 L763.1 228.2 L767.1 228.1 L771.1 228.1 L775.1 228.1 L779.1 228 L783.1 228 L787.2 228 L791.2 227.9 L795.2 227.9 L799.2 227.8 L803.2 227.8 L807.2 227.8 L811.2 227.7 L815.2 227.7 L819.2 227.6 L823.3 227.6 L827.3 227.6 L831.3 227.5 L835.3 227.5 L839.3 227.4 L843.3 227.4 L847.3 227.4 L851.3 227.3 L855.3 227.3 L859.3 227.2 L863.4 227.2 L867.4 227.2 L871.4 227.1 L875.4 227.1 L879.4 227 L883.4 227 L887.4 226.9 L891.4 226.9 L895.4 226.8 L899.4 226.8 L903.5 226.8 L907.5 226.7 L911.5 226.7 L915.5 226.6 L919.5 226.6 L923.5 226.5 L927.5 226.5 L931.5 226.4 L935.5 226.4 L939.6 226.3 L943.6 226.3 L947.6 226.2 L951.6 226.2 L955.6 226.1 L959.6 226.1 L963.6 226 L967.6 226 L971.6 225.9 L975.6 225.9 L979.7 225.8 L983.7 225.8 L987.7 225.7 L991.7 225.7 L995.7 225.6 L999.7 225.6 L1003.7 225.5 L1007.7 225.4 L1011.7 225.4 L1015.7 225.3 L1019.8 225.3 L1023.8 225.2 L1027.8 225.2 L1031.8 225.1 L1035.8 225.1 L1039.8 225 L1043.8 224.9 L1047.8 224.9 L1051.8 224.8 L1055.8 224.8 L1059.9 224.7 L1063.9 224.6 L1067.9 224.6 L1071.9 224.5 L1075.9 224.5 L1079.9 224.4 L1083.9 224.3 L1087.9 224.3 L1091.9 224.2 L1096 224.2 L1100 224.1 L1104 224 L1108 224 L1112 223.9 L1116 223.8 L1120 223.8 L1124 223.7 L1128 223.6 L1132 223.6 L1136.1 223.5 L1140.1 223.5 L1144.1 223.4 L1148.1 223.3 L1152.1 223.3 L1156.1 223.2 L1160.1 223.1 L1164.1 223 L1168.1 223 L1172.1 222.9 L1176.2 222.8 L1180.2 222.8 L1184.2 222.7 L1188.2 222.6 L1192.2 222.6 L1196.2 222.5 L1200.2 222.4 L1204.2 222.4 L1208.2 222.3 L1212.3 222.2 L1216.3 222.1 L1220.3 222.1 L1224.3 222 L1228.3 221.9 L1232.3 221.8 L1236.3 221.8 L1240.3 221.7 L1244.3 221.6 L1248.3 221.5 L1252.4 221.5 L1256.4 221.4 L1260.4 221.3 L1264.4 221.2 L1268.4 221.2 L1272.4 221.1 L1276.4 221 L1280.4 220.9 L1284.4 220.8 L1288.4 220.8 L1292.5 220.7 L1296.5 220.6 L1300.5 220.5 L1304.5 220.4 L1308.5 220.4 L1308.5 258 L1304.5 258 L1300.5 257.9 L1296.5 257.8 L1292.5 257.7 L1288.4 257.6 L1284.4 257.6 L1280.4 257.5 L1276.4 257.4 L1272.4 257.3 L1268.4 257.2 L1264.4 257.2 L1260.4 257.1 L1256.4 257 L1252.4 256.9 L1248.3 256.9 L1244.3 256.8 L1240.3 256.7 L1236.3 256.6 L1232.3 256.6 L1228.3 256.5 L1224.3 256.4 L1220.3 256.3 L1216.3 256.3 L1212.3 256.2 L1208.2 256.1 L1204.2 256 L1200.2 256 L1196.2 255.9 L1192.2 255.8 L1188.2 255.8 L1184.2 255.7 L1180.2 255.6 L1176.2 255.6 L1172.1 255.5 L1168.1 255.4 L1164.1 255.4 L1160.1 255.3 L1156.1 255.2 L1152.1 255.1 L1148.1 255.1 L1144.1 255 L1140.1 254.9 L1136.1 254.9 L1132 254.8 L1128 254.8 L1124 254.7 L1120 254.6 L1116 254.6 L1112 254.5 L1108 254.4 L1104 254.4 L1100 254.3 L1096 254.2 L1091.9 254.2 L1087.9 254.1 L1083.9 254.1 L1079.9 254 L1075.9 253.9 L1071.9 253.9 L1067.9 253.8 L1063.9 253.8 L1059.9 253.7 L1055.8 253.6 L1051.8 253.6 L1047.8 253.5 L1043.8 253.5 L1039.8 253.4 L1035.8 253.3 L1031.8 253.3 L1027.8 253.2 L1023.8 253.2 L1019.8 253.1 L1015.7 253.1 L1011.7 253 L1007.7 253 L1003.7 252.9 L999.7 252.8 L995.7 252.8 L991.7 252.7 L987.7 252.7 L983.7 252.6 L979.7 252.6 L975.6 252.5 L971.6 252.5 L967.6 252.4 L963.6 252.4 L959.6 252.3 L955.6 252.3 L951.6 252.2 L947.6 252.2 L943.6 252.1 L939.6 252.1 L935.5 252 L931.5 252 L927.5 251.9 L923.5 251.9 L919.5 251.8 L915.5 251.8 L911.5 251.7 L907.5 251.7 L903.5 251.6 L899.4 251.6 L895.4 251.6 L891.4 251.5 L887.4 251.5 L883.4 251.4 L879.4 251.4 L875.4 251.3 L871.4 251.3 L867.4 251.2 L863.4 251.2 L859.3 251.2 L855.3 251.1 L851.3 251.1 L847.3 251 L843.3 251 L839.3 251 L835.3 250.9 L831.3 250.9 L827.3 250.8 L823.3 250.8 L819.2 250.8 L815.2 250.7 L811.2 250.7 L807.2 250.6 L803.2 250.6 L799.2 250.6 L795.2 250.5 L791.2 250.5 L787.2 250.4 L783.1 250.4 L779.1 250.4 L775.1 250.3 L771.1 250.3 L767.1 250.3 L763.1 250.2 L759.1 250.2 L755.1 250.2 L751.1 250.1 L747.1 250.1 L743 250.1 L739 250 L735 250 L731 250 L727 249.9 L723 249.9 L719 249.9 L715 249.8 L711 249.8 L707 249.8 L702.9 249.7 L698.9 249.7 L694.9 249.7 L690.9 249.7 L686.9 249.6 L682.9 249.6 L678.9 249.6 L674.9 249.5 L670.9 249.5 L666.8 249.5 L662.8 249.5 L658.8 249.4 L654.8 249.4 L650.8 249.4 L646.8 249.3 L642.8 249.3 L638.8 249.3 L634.8 249.3 L630.8 249.2 L626.7 249.2 L622.7 249.2 L618.7 249.2 L614.7 249.2 L610.7 249.1 L606.7 249.1 L602.7 249.1 L598.7 249.1 L594.7 249 L590.7 249 L586.6 249 L582.6 249 L578.6 248.9 L574.6 248.9 L570.6 248.9 L566.6 248.9 L562.6 248.9 L558.6 248.8 L554.6 248.8 L550.5 248.8 L546.5 248.8 L542.5 248.8 L538.5 248.8 L534.5 248.7 L530.5 248.7 L526.5 248.7 L522.5 248.7 L518.5 248.7 L514.5 248.6 L510.4 248.6 L506.4 248.6 L502.4 248.6 L498.4 248.6 L494.4 248.6 L490.4 248.6 L486.4 248.5 L482.4 248.5 L478.4 248.5 L474.4 248.5 L470.3 248.5 L466.3 248.5 L462.3 248.5 L458.3 248.4 L454.3 248.4 L450.3 248.4 L446.3 248.4 L442.3 248.4 L438.3 248.4 L434.2 248.4 L430.2 248.4 L426.2 248.4 L422.2 248.3 L418.2 248.3 L414.2 248.3 L410.2 248.3 L406.2 248.3 L402.2 248.3 L398.2 248.3 L394.1 248.3 L390.1 248.3 L386.1 248.3 L382.1 248.2 L378.1 248.2 L374.1 248.2 L370.1 248.2 L366.1 248.2 L362.1 248.2 L358.1 248.2 L354 248.2 L350 248.2 L346 248.2 L342 248.2 L338 248.2 L334 248.2 L330 248.2 L326 248.2 L322 248.2 L317.9 248.2 L313.9 248.1 L309.9 248.1 L305.9 248.1 L301.9 248.1 L297.9 248.1 L293.9 248.1 L289.9 248.1 L285.9 248.1 L281.9 248.1 L277.8 248.1 L273.8 248.1 L269.8 248.1 L265.8 248.1 L261.8 248.1 L257.8 248.1 L253.8 248.1 L249.8 248.1 L245.8 248.1 L241.8 248.1 L237.7 248.1 L233.7 248.1 L229.7 248.1 L225.7 248.3 L221.7 248.3 L217.7 248.3 L213.7 248.3 L209.7 248.3 L205.7 248.3 L201.7 248.3 L197.6 248.3 L193.6 248.3 L189.6 248.3 L185.6 248.3 L181.6 248.3 L177.6 248.3 L173.6 248.3 L169.6 248.3 L165.6 248.3 L161.5 248.3 L157.5 248.3 L153.5 248.3 L149.5 248.4 L145.5 248.4 L141.5 248.4 L137.5 248.4 L133.5 248.5 L129.5 248.6 L125.5 248.8 L121.4 249 L117.4 249.4 L113.4 249.9 L109.4 250.7Z" stroke="none" stroke-width="0" fill="#f87d3e" stroke-linejoin="round" />
<path d="M109.7 239.2 L109.7 214.9 L111.2 214.9 L112.2 229.1 L112.2 251.4 L109.7 251.4Z" stroke="none" stroke-width="0" fill="#f87d3e" stroke-linejoin="round" />
</g>
<rect x="109.5" y="36.7" width="1199" height="405" fill="none" stroke="#000" stroke-width="2" />
<line x1="109.5" y1="441.7" x2="100" y2="441.7" stroke="#000" stroke-width="2" />
<line x1="109.5" y1="340.4" x2="100" y2="340.4" stroke="#000" stroke-width="2" />
<line x1="109.5" y1="239.2" x2="100" y2="239.2" stroke="#000" stroke-width="2" />
<line x1="109.5" y1="137.9" x2="100" y2="137.9" stroke="#000" stroke-width="2" />
<line x1="109.5" y1="36.7" x2="100" y2="36.7" stroke="#000" stroke-width="2" />
<line x1="109.5" y1="391.1" x2="104.5" y2="391.1" stroke="#000" stroke-width="2" />
<line x1="109.5" y1="289.8" x2="104.5" y2="289.8" stroke="#000" stroke-width="2" />
<line x1="109.5" y1="188.6" x2="104.5" y2="188.6" stroke="#000" stroke-width="2" />
<line x1="109.5" y1="87.3" x2="104.5" y2="87.3" stroke="#000" stroke-width="2" />
<line x1="226.4" y1="441.7" x2="226.4" y2="451.2" stroke="#000" stroke-width="2" />
<line x1="346.6" y1="441.7" x2="346.6" y2="451.2" stroke="#000" stroke-width="2" />
<line x1="466.9" y1="441.7" x2="466.9" y2="451.2" stroke="#000" stroke-width="2" />
<line x1="587.1" y1="441.7" x2="587.1" y2="451.2" stroke="#000" stroke-width="2" />
<line x1="707.3" y1="441.7" x2="707.3" y2="451.2" stroke="#000" stroke-width="2" />
<line x1="827.6" y1="441.7" x2="827.6" y2="451.2" stroke="#000" stroke-width="2" />
<line x1="947.8" y1="441.7" x2="947.8" y2="451.2" stroke="#000" stroke-width="2" />
<line x1="1068" y1="441.7" x2="1068" y2="451.2" stroke="#000" stroke-width="2" />
<line x1="1188.3" y1="441.7" x2="1188.3" y2="451.2" stroke="#000" stroke-width="2" />
<line x1="1308.5" y1="441.7" x2="1308.5" y2="451.2" stroke="#000" stroke-width="2" />
<line x1="166.3" y1="441.7" x2="166.3" y2="446.7" stroke="#000" stroke-width="2" />
<line x1="286.5" y1="441.7" x2="286.5" y2="446.7" stroke="#000" stroke-width="2" />
<line x1="406.8" y1="441.7" x2="406.8" y2="446.7" stroke="#000" stroke-width="2" />
<line x1="527" y1="441.7" x2="527" y2="446.7" stroke="#000" stroke-width="2" />
<line x1="647.2" y1="441.7" x2="647.2" y2="446.7" stroke="#000" stroke-width="2" />
<line x1="767.4" y1="441.7" x2="767.4" y2="446.7" stroke="#000" stroke-width="2" />
<line x1="887.7" y1="441.7" x2="887.7" y2="446.7" stroke="#000" stroke-width="2" />
<line x1="1007.9" y1="441.7" x2="1007.9" y2="446.7" stroke="#000" stroke-width="2" />
<line x1="1128.1" y1="441.7" x2="1128.1" y2="446.7" stroke="#000" stroke-width="2" />
<line x1="1248.4" y1="441.7" x2="1248.4" y2="446.7" stroke="#000" stroke-width="2" />
<text x="226.4" y="479.5" font-size="26.5" text-anchor="middle" fill="#000" font-family='"Liberation Sans", Arial, sans-serif' transform="translate(226.4 479.5) scale(1 1.09) translate(-226.4 -479.5)" >100</text>
<text x="346.6" y="479.5" font-size="26.5" text-anchor="middle" fill="#000" font-family='"Liberation Sans", Arial, sans-serif' transform="translate(346.6 479.5) scale(1 1.09) translate(-346.6 -479.5)" >200</text>
<text x="466.9" y="479.5" font-size="26.5" text-anchor="middle" fill="#000" font-family='"Liberation Sans", Arial, sans-serif' transform="translate(466.9 479.5) scale(1 1.09) translate(-466.9 -479.5)" >300</text>
<text x="587.1" y="479.5" font-size="26.5" text-anchor="middle" fill="#000" font-family='"Liberation Sans", Arial, sans-serif' transform="translate(587.1 479.5) scale(1 1.09) translate(-587.1 -479.5)" >400</text>
<text x="707.3" y="479.5" font-size="26.5" text-anchor="middle" fill="#000" font-family='"Liberation Sans", Arial, sans-serif' transform="translate(707.3 479.5) scale(1 1.09) translate(-707.3 -479.5)" >500</text>
<text x="827.6" y="479.5" font-size="26.5" text-anchor="middle" fill="#000" font-family='"Liberation Sans", Arial, sans-serif' transform="translate(827.6 479.5) scale(1 1.09) translate(-827.6 -479.5)" >600</text>
<text x="947.8" y="479.5" font-size="26.5" text-anchor="middle" fill="#000" font-family='"Liberation Sans", Arial, sans-serif' transform="translate(947.8 479.5) scale(1 1.09) translate(-947.8 -479.5)" >700</text>
<text x="1068" y="479.5" font-size="26.5" text-anchor="middle" fill="#000" font-family='"Liberation Sans", Arial, sans-serif' transform="translate(1068 479.5) scale(1 1.09) translate(-1068 -479.5)" >800</text>
<text x="1188.3" y="479.5" font-size="26.5" text-anchor="middle" fill="#000" font-family='"Liberation Sans", Arial, sans-serif' transform="translate(1188.3 479.5) scale(1 1.09) translate(-1188.3 -479.5)" >900</text>
<text x="1308.5" y="479.5" font-size="26.5" text-anchor="middle" fill="#000" font-family='"Liberation Sans", Arial, sans-serif' transform="translate(1308.5 479.5) scale(1 1.09) translate(-1308.5 -479.5)" >1000</text>
<text x="92.5" y="46.2" font-size="26.5" text-anchor="end" fill="#000" font-family='"Liberation Sans", Arial, sans-serif' transform="translate(92.5 46.2) scale(1 1.09) translate(-92.5 -46.2)" >1.0</text>
<text x="92.5" y="147.5" font-size="26.5" text-anchor="end" fill="#000" font-family='"Liberation Sans", Arial, sans-serif' transform="translate(92.5 147.5) scale(1 1.09) translate(-92.5 -147.5)" >0.5</text>
<text x="92.5" y="248.7" font-size="26.5" text-anchor="end" fill="#000" font-family='"Liberation Sans", Arial, sans-serif' transform="translate(92.5 248.7) scale(1 1.09) translate(-92.5 -248.7)" >0.0</text>
<text x="92.5" y="350" font-size="26.5" text-anchor="end" fill="#000" font-family='"Liberation Sans", Arial, sans-serif' transform="translate(92.5 350) scale(1 1.09) translate(-92.5 -350)" >−0.5</text>
<text x="92.5" y="451.2" font-size="26.5" text-anchor="end" fill="#000" font-family='"Liberation Sans", Arial, sans-serif' transform="translate(92.5 451.2) scale(1 1.09) translate(-92.5 -451.2)" >−1.0</text>
<text x="31" y="240" font-size="26.5" text-anchor="middle" fill="#000" font-family='"Liberation Sans", Arial, sans-serif' transform="rotate(-90 31 240) translate(31 240) scale(1 1.09) translate(-31 -240)" >Voltage (V)</text>
<text x="742" y="511" font-size="26.5" text-anchor="middle" fill="#000" font-family='"Liberation Sans", Arial, sans-serif' transform="translate(742 511) scale(1 1.09) translate(-742 -511)" >Time (h)</text>
<line x1="317.7" y1="85.3" x2="380.9" y2="85.3" stroke="#404040" stroke-width="3.6" stroke-linecap="round"/>
<text x="386.5" y="94.6" font-size="26.5" fill="#000" font-family='"Liberation Sans", Arial, sans-serif' transform="translate(386.5 94.6) scale(1 1.09) translate(-386.5 -94.6)" >1 M LiFSI in DME/FB (1:1 v/v)</text>
<line x1="317.7" y1="118.1" x2="380.9" y2="118.1" stroke="#93bbe6" stroke-width="3.6" stroke-linecap="round"/>
<text x="386.5" y="127.4" font-size="26.5" fill="#000" font-family='"Liberation Sans", Arial, sans-serif' transform="translate(386.5 127.4) scale(1 1.09) translate(-386.5 -127.4)" >4 M LiFSI in DME/FB (1:1 v/v)</text>
<line x1="317.7" y1="151.5" x2="380.9" y2="151.5" stroke="#f87d3e" stroke-width="3.6" stroke-linecap="round"/>
<text x="386.5" y="160.8" font-size="26.5" fill="#000" font-family='"Liberation Sans", Arial, sans-serif' transform="translate(386.5 160.8) scale(1 1.09) translate(-386.5 -160.8)" >1 M LiFSI in DEA/FB (1:1 v/v)</text>
<text x="1153" y="142.3" font-size="26.5" fill="#000" font-family='"Liberation Sans", Arial, sans-serif' transform="translate(1153 142.3) scale(1 1.09) translate(-1153 -142.3)" >25 <tspan font-family='"DejaVu Serif", serif' font-size="23.9">℃</tspan></text>
<text x="1033" y="178.8" font-size="26.5" fill="#000" font-family='"Liberation Sans", Arial, sans-serif' transform="translate(1033 178.8) scale(1 1.09) translate(-1033 -178.8)" >1 mA cm<tspan dy="-10" font-size="17">-2</tspan><tspan dy="10">  1 mAh cm</tspan><tspan dy="-10" font-size="17">-2</tspan></text>
<rect x="326.7" y="273.7" width="423.2" height="110.1" fill="#fff" stroke="none" stroke-width="0" />
<g clip-path="url(#clipa1)">
<path d="M326.7 328.1 L327.8 328.1 L328.8 328.1 L329.9 328.1 L330.9 328.1 L332 328.1 L333 328.1 L334.1 328.1 L335.2 328.1 L336.2 328.1 L337.3 328.1 L338.3 328.1 L339.4 328.1 L340.5 328.1 L341.5 328.1 L342.6 328.1 L343.6 328.1 L344.7 328.1 L345.7 328.1 L346.8 328.1 L347.9 328.1 L348.9 322.2 L350 322.2 L351 322.2 L352.1 322.2 L353.1 322.2 L354.2 322.2 L355.3 322.2 L356.3 322.2 L357.4 322.2 L358.4 322.2 L359.5 322.2 L360.6 322.2 L361.6 322.2 L362.7 322.2 L363.7 322.2 L364.8 322.2 L365.8 322.2 L366.9 322.2 L368 322.2 L369 322.2 L370.1 328.1 L371.1 328.1 L372.2 328.1 L373.3 328.1 L374.3 328.1 L375.4 328.1 L376.4 328.1 L377.5 328.1 L378.5 328.1 L379.6 328.1 L380.7 328.1 L381.7 328.1 L382.8 328.1 L383.8 328.1 L384.9 328.1 L385.9 328.1 L387 328.1 L388.1 328.1 L389.1 328.1 L390.2 328.1 L391.2 322.2 L392.3 322.2 L393.4 322.2 L394.4 322.2 L395.5 322.2 L396.5 322.2 L397.6 322.2 L398.6 322.2 L399.7 322.2 L400.8 322.2 L401.8 322.2 L402.9 322.2 L403.9 322.2 L405 322.2 L406 322.2 L407.1 322.2 L408.2 322.2 L409.2 322.2 L410.3 322.2 L411.3 322.2 L412.4 328.1 L413.5 328.1 L414.5 328.1 L415.6 328.1 L416.6 328.1 L417.7 328.1 L418.7 328.1 L419.8 328.1 L420.9 328.1 L421.9 328.1 L423 328.1 L424 328.1 L425.1 328.1 L426.2 328.1 L427.2 328.1 L428.3 328.1 L429.3 328.1 L430.4 328.1 L431.4 328.1 L432.5 328.1 L433.6 322.2 L434.6 322.2 L435.7 322.2 L436.7 322.2 L437.8 322.2 L438.8 322.2 L439.9 322.2 L441 322.2 L442 322.2 L443.1 322.2 L444.1 322.2 L445.2 322.2 L446.3 322.2 L447.3 322.2 L448.4 322.2 L449.4 322.2 L450.5 322.2 L451.5 322.2 L452.6 322.2 L453.7 322.2 L454.7 328.1 L455.8 328.1 L456.8 328.1 L457.9 328.1 L458.9 328.1 L460 328.1 L461.1 328.1 L462.1 328.1 L463.2 328.1 L464.2 328.1 L465.3 328.1 L466.4 328.1 L467.4 328.1 L468.5 328.1 L469.5 328.1 L470.6 328.1 L471.6 328.1 L472.7 328.1 L473.8 328.1 L474.8 328.1 L475.9 322.2 L476.9 322.2 L478 322.2 L479.1 322.2 L480.1 322.2 L481.2 322.2 L482.2 322.2 L483.3 322.2 L484.3 322.2 L485.4 322.2 L486.5 322.2 L487.5 322.2 L488.6 322.2 L489.6 322.2 L490.7 322.2 L491.7 322.2 L492.8 322.2 L493.9 322.2 L494.9 322.2 L496 322.2 L497 328.1 L498.1 328.1 L499.2 328.1 L500.2 328.1 L501.3 328.1 L502.3 328.1 L503.4 328.1 L504.4 328.1 L505.5 328.1 L506.6 328.1 L507.6 328.1 L508.7 328.1 L509.7 328.1 L510.8 328.1 L511.8 328.1 L512.9 328.1 L514 328.1 L515 328.1 L516.1 328.1 L517.1 328.1 L518.2 322.2 L519.3 322.2 L520.3 322.2 L521.4 322.2 L522.4 322.2 L523.5 322.2 L524.5 322.2 L525.6 322.2 L526.7 322.2 L527.7 322.2 L528.8 322.2 L529.8 322.2 L530.9 322.2 L532 322.2 L533 322.2 L534.1 322.2 L535.1 322.2 L536.2 322.2 L537.2 322.2 L538.3 322.2 L539.4 328.1 L540.4 328.1 L541.5 328.1 L542.5 328.1 L543.6 328.1 L544.6 328.1 L545.7 328.1 L546.8 328.1 L547.8 328.1 L548.9 328.1 L549.9 328.1 L551 328.1 L552.1 328.1 L553.1 328.1 L554.2 328.1 L555.2 328.1 L556.3 328.1 L557.3 328.1 L558.4 328.1 L559.5 328.1 L560.5 322.2 L561.6 322.2 L562.6 322.2 L563.7 322.2 L564.7 322.2 L565.8 322.2 L566.9 322.2 L567.9 322.2 L569 322.2 L570 322.2 L571.1 322.2 L572.2 322.2 L573.2 322.2 L574.3 322.2 L575.3 322.2 L576.4 322.2 L577.4 322.2 L578.5 322.2 L579.6 322.2 L580.6 322.2 L581.7 328.1 L582.7 328.1 L583.8 328.1 L584.9 328.1 L585.9 328.1 L587 328.1 L588 328.1 L589.1 328.1 L590.1 328.1 L591.2 328.1 L592.3 328.1 L593.3 328.1 L594.4 328.1 L595.4 328.1 L596.5 328.1 L597.5 328.1 L598.6 328.1 L599.7 328.1 L600.7 328.1 L601.8 328.1 L602.8 322.2 L603.9 322.2 L605 322.2 L606 322.2 L607.1 322.2 L608.1 322.2 L609.2 322.2 L610.2 322.2 L611.3 322.2 L612.4 322.2 L613.4 322.2 L614.5 322.2 L615.5 322.2 L616.6 322.2 L617.6 322.2 L618.7 322.2 L619.8 322.2 L620.8 322.2 L621.9 322.2 L622.9 322.2 L624 328.1 L625.1 328.1 L626.1 328.1 L627.2 328.1 L628.2 328.1 L629.3 328.1 L630.3 328.1 L631.4 328.1 L632.5 328.1 L633.5 328.1 L634.6 328.1 L635.6 328.1 L636.7 328.1 L637.8 328.1 L638.8 328.1 L639.9 328.1 L640.9 328.1 L642 328.1 L643 328.1 L644.1 328.1 L645.2 322.2 L646.2 322.2 L647.3 322.2 L648.3 322.2 L649.4 322.2 L650.4 322.2 L651.5 322.2 L652.6 322.2 L653.6 322.2 L654.7 322.2 L655.7 322.2 L656.8 322.2 L657.9 322.2 L658.9 322.2 L660 322.2 L661 322.2 L662.1 322.2 L663.1 322.2 L664.2 322.2 L665.3 322.2 L666.3 328.1 L667.4 328.1 L668.4 328.1 L669.5 328.1 L670.5 328.1 L671.6 328.1 L672.7 328.1 L673.7 328.1 L674.8 328.1 L675.8 328.1 L676.9 328.1 L678 328.1 L679 328.1 L680.1 328.1 L681.1 328.1 L682.2 328.1 L683.2 328.1 L684.3 328.1 L685.4 328.1 L686.4 328.1 L687.5 322.2 L688.5 322.2 L689.6 322.2 L690.7 322.2 L691.7 322.2 L692.8 322.2 L693.8 322.2 L694.9 322.2 L695.9 322.2 L697 322.2 L698.1 322.2 L699.1 322.2 L700.2 322.2 L701.2 322.2 L702.3 322.2 L703.3 322.2 L704.4 322.2 L705.5 322.2 L706.5 322.2 L707.6 322.2 L708.6 328.1 L709.7 328.1 L710.8 328.1 L711.8 328.1 L712.9 328.1 L713.9 328.1 L715 328.1 L716 328.1 L717.1 328.1 L718.2 328.1 L719.2 328.1 L720.3 328.1 L721.3 328.1 L722.4 328.1 L723.4 328.1 L724.5 328.1 L725.6 328.1 L726.6 328.1 L727.7 328.1 L728.7 328.1 L729.8 322.2 L730.9 322.2 L731.9 322.2 L733 322.2 L734 322.2 L735.1 322.2 L736.1 322.2 L737.2 322.2 L738.3 322.2 L739.3 322.2 L740.4 322.2 L741.4 322.2 L742.5 322.2 L743.6 322.2 L744.6 322.2 L745.7 322.2 L746.7 322.2 L747.8 322.2 L748.8 322.2 L749.9 322.2" stroke="#93bbe6" stroke-width="2" fill="none" stroke-linejoin="round" />
<path d="M326.7 326.9 L327.8 326.9 L328.8 326.9 L329.9 326.9 L330.9 326.9 L332 326.9 L333 326.9 L334.1 326.9 L335.2 326.9 L336.2 326.9 L337.3 326.9 L338.3 326.9 L339.4 326.9 L340.5 326.9 L341.5 326.9 L342.6 326.9 L343.6 326.9 L344.7 326.9 L345.7 326.9 L346.8 326.9 L347.9 326.9 L348.9 322.7 L350 322.7 L351 322.7 L352.1 322.7 L353.1 322.7 L354.2 322.7 L355.3 322.7 L356.3 322.7 L357.4 322.7 L358.4 322.7 L359.5 322.7 L360.6 322.7 L361.6 322.7 L362.7 322.7 L363.7 322.7 L364.8 322.7 L365.8 322.7 L366.9 322.7 L368 322.7 L369 322.7 L370.1 326.9 L371.1 326.9 L372.2 326.9 L373.3 326.9 L374.3 326.9 L375.4 326.9 L376.4 326.9 L377.5 326.9 L378.5 326.9 L379.6 326.9 L380.7 326.9 L381.7 326.9 L382.8 326.9 L383.8 326.9 L384.9 326.9 L385.9 326.9 L387 326.9 L388.1 326.9 L389.1 326.9 L390.2 326.9 L391.2 322.7 L392.3 322.7 L393.4 322.7 L394.4 322.7 L395.5 322.7 L396.5 322.7 L397.6 322.7 L398.6 322.7 L399.7 322.7 L400.8 322.7 L401.8 322.7 L402.9 322.7 L403.9 322.7 L405 322.7 L406 322.7 L407.1 322.7 L408.2 322.7 L409.2 322.7 L410.3 322.7 L411.3 322.7 L412.4 326.9 L413.5 326.9 L414.5 326.9 L415.6 326.9 L416.6 326.9 L417.7 326.9 L418.7 326.9 L419.8 326.9 L420.9 326.9 L421.9 326.9 L423 326.9 L424 326.9 L425.1 326.9 L426.2 326.9 L427.2 326.9 L428.3 326.9 L429.3 326.9 L430.4 326.9 L431.4 326.9 L432.5 326.9 L433.6 322.7 L434.6 322.7 L435.7 322.7 L436.7 322.7 L437.8 322.7 L438.8 322.7 L439.9 322.7 L441 322.7 L442 322.7 L443.1 322.7 L444.1 322.7 L445.2 322.7 L446.3 322.7 L447.3 322.7 L448.4 322.7 L449.4 322.7 L450.5 322.7 L451.5 322.7 L452.6 322.7 L453.7 322.7 L454.7 326.9 L455.8 326.9 L456.8 326.9 L457.9 326.9 L458.9 326.9 L460 326.9 L461.1 326.9 L462.1 326.9 L463.2 326.9 L464.2 326.9 L465.3 326.9 L466.4 326.9 L467.4 326.9 L468.5 326.9 L469.5 326.9 L470.6 326.9 L471.6 326.9 L472.7 326.9 L473.8 326.9 L474.8 326.9 L475.9 322.7 L476.9 322.7 L478 322.7 L479.1 322.7 L480.1 322.7 L481.2 322.7 L482.2 322.7 L483.3 322.7 L484.3 322.7 L485.4 322.7 L486.5 322.7 L487.5 322.7 L488.6 322.7 L489.6 322.7 L490.7 322.7 L491.7 322.7 L492.8 322.7 L493.9 322.7 L494.9 322.7 L496 322.7 L497 326.9 L498.1 326.9 L499.2 326.9 L500.2 326.9 L501.3 326.9 L502.3 326.9 L503.4 326.9 L504.4 326.9 L505.5 326.9 L506.6 326.9 L507.6 326.9 L508.7 326.9 L509.7 326.9 L510.8 326.9 L511.8 326.9 L512.9 326.9 L514 326.9 L515 326.9 L516.1 326.9 L517.1 326.9 L518.2 322.7 L519.3 322.7 L520.3 322.7 L521.4 322.7 L522.4 322.7 L523.5 322.7 L524.5 322.7 L525.6 322.7 L526.7 322.7 L527.7 322.7 L528.8 322.7 L529.8 322.7 L530.9 322.7 L532 322.7 L533 322.7 L534.1 322.7 L535.1 322.7 L536.2 322.7 L537.2 322.7 L538.3 322.7 L539.4 326.9 L540.4 326.9 L541.5 326.9 L542.5 326.9 L543.6 326.9 L544.6 326.9 L545.7 326.9 L546.8 326.9 L547.8 326.9 L548.9 326.9 L549.9 326.9 L551 326.9 L552.1 326.9 L553.1 326.9 L554.2 326.9 L555.2 326.9 L556.3 326.9 L557.3 326.9 L558.4 326.9 L559.5 326.9 L560.5 322.7 L561.6 322.7 L562.6 322.7 L563.7 322.7 L564.7 322.7 L565.8 322.7 L566.9 322.7 L567.9 322.7 L569 322.7 L570 322.7 L571.1 322.7 L572.2 322.7 L573.2 322.7 L574.3 322.7 L575.3 322.7 L576.4 322.7 L577.4 322.7 L578.5 322.7 L579.6 322.7 L580.6 322.7 L581.7 326.9 L582.7 326.9 L583.8 326.9 L584.9 326.9 L585.9 326.9 L587 326.9 L588 326.9 L589.1 326.9 L590.1 326.9 L591.2 326.9 L592.3 326.9 L593.3 326.9 L594.4 326.9 L595.4 326.9 L596.5 326.9 L597.5 326.9 L598.6 326.9 L599.7 326.9 L600.7 326.9 L601.8 326.9 L602.8 322.7 L603.9 322.7 L605 322.7 L606 322.7 L607.1 322.7 L608.1 322.7 L609.2 322.7 L610.2 322.7 L611.3 322.7 L612.4 322.7 L613.4 322.7 L614.5 322.7 L615.5 322.7 L616.6 322.7 L617.6 322.7 L618.7 322.7 L619.8 322.7 L620.8 322.7 L621.9 322.7 L622.9 322.7 L624 326.9 L625.1 326.9 L626.1 326.9 L627.2 326.9 L628.2 326.9 L629.3 326.9 L630.3 326.9 L631.4 326.9 L632.5 326.9 L633.5 326.9 L634.6 326.9 L635.6 326.9 L636.7 326.9 L637.8 326.9 L638.8 326.9 L639.9 326.9 L640.9 326.9 L642 326.9 L643 326.9 L644.1 326.9 L645.2 322.7 L646.2 322.7 L647.3 322.7 L648.3 322.7 L649.4 322.7 L650.4 322.7 L651.5 322.7 L652.6 322.7 L653.6 322.7 L654.7 322.7 L655.7 322.7 L656.8 322.7 L657.9 322.7 L658.9 322.7 L660 322.7 L661 322.7 L662.1 322.7 L663.1 322.7 L664.2 322.7 L665.3 322.7 L666.3 326.9 L667.4 326.9 L668.4 326.9 L669.5 326.9 L670.5 326.9 L671.6 326.9 L672.7 326.9 L673.7 326.9 L674.8 326.9 L675.8 326.9 L676.9 326.9 L678 326.9 L679 326.9 L680.1 326.9 L681.1 326.9 L682.2 326.9 L683.2 326.9 L684.3 326.9 L685.4 326.9 L686.4 326.9 L687.5 322.7 L688.5 322.7 L689.6 322.7 L690.7 322.7 L691.7 322.7 L692.8 322.7 L693.8 322.7 L694.9 322.7 L695.9 322.7 L697 322.7 L698.1 322.7 L699.1 322.7 L700.2 322.7 L701.2 322.7 L702.3 322.7 L703.3 322.7 L704.4 322.7 L705.5 322.7 L706.5 322.7 L707.6 322.7 L708.6 326.9 L709.7 326.9 L710.8 326.9 L711.8 326.9 L712.9 326.9 L713.9 326.9 L715 326.9 L716 326.9 L717.1 326.9 L718.2 326.9 L719.2 326.9 L720.3 326.9 L721.3 326.9 L722.4 326.9 L723.4 326.9 L724.5 326.9 L725.6 326.9 L726.6 326.9 L727.7 326.9 L728.7 326.9 L729.8 322.7 L730.9 322.7 L731.9 322.7 L733 322.7 L734 322.7 L735.1 322.7 L736.1 322.7 L737.2 322.7 L738.3 322.7 L739.3 322.7 L740.4 322.7 L741.4 322.7 L742.5 322.7 L743.6 322.7 L744.6 322.7 L745.7 322.7 L746.7 322.7 L747.8 322.7 L748.8 322.7 L749.9 322.7" stroke="#f5a070" stroke-width="2.8" fill="none" stroke-linejoin="round" />
<path d="M326.7 363.2 L327.1 360.9 L327.5 355 L328 362.1 L328.4 356.6 L328.8 358.7 L329.2 363.8 L329.7 358.9 L330.1 360.2 L330.5 362.5 L330.9 362.8 L331.4 360.1 L331.8 358.1 L332.2 366.7 L332.6 356.8 L333 359.7 L333.5 361.1 L333.9 361.5 L334.3 365.5 L334.7 364.5 L335.2 356.8 L335.6 358.7 L336 359.7 L336.4 358.7 L336.9 355.7 L337.3 356.7 L337.7 361.2 L338.1 353.7 L338.5 349.5 L339 356.2 L339.4 362.4 L339.8 354.1 L340.2 359 L340.7 357.2 L341.1 360.4 L341.5 359.4 L341.9 356 L342.4 364.9 L342.8 355.7 L343.2 363.9 L343.6 358 L344.1 365.2 L344.5 364.9 L344.9 359.8 L345.3 360 L345.7 362 L346.2 367.6 L346.6 361.3 L347 361.8 L347.4 362.8 L347.9 359.1 L348.3 285.9 L348.7 284.3 L349.1 297 L349.6 308.3 L350 304.4 L350.4 307.2 L350.8 304.4 L351.2 306 L351.7 296.8 L352.1 303.7 L352.5 309.3 L352.9 305 L353.4 306.8 L353.8 303.8 L354.2 303.2 L354.6 297.5 L355.1 304.7 L355.5 309.2 L355.9 302 L356.3 298.9 L356.7 311.7 L357.2 301 L357.6 299.8 L358 313.4 L358.4 307.9 L358.9 309.2 L359.3 307.1 L359.7 304.2 L360.1 303.4 L360.6 311 L361 309.2 L361.4 313.3 L361.8 302.4 L362.2 302.6 L362.7 316.5 L363.1 308.2 L363.5 307.1 L363.9 306.9 L364.4 297.6 L364.8 310.7 L365.2 305.2 L365.6 309.3 L366.1 305 L366.5 305.4 L366.9 305 L367.3 299.3 L367.8 312.9 L368.2 301.2 L368.6 316.3 L369 307.5 L369.4 383.5 L369.9 375.9 L370.3 380 L370.7 352.5 L371.1 358.4 L371.6 360.4 L372 363.4 L372.4 360.2 L372.8 360.6 L373.3 354.2 L373.7 354.9 L374.1 359.4 L374.5 369.9 L374.9 355.3 L375.4 364.4 L375.8 362.1 L376.2 357.9 L376.6 362.6 L377.1 354.2 L377.5 356.4 L377.9 362.8 L378.3 359.4 L378.8 366.6 L379.2 361.2 L379.6 361.2 L380 358.6 L380.4 355.9 L380.9 356.4 L381.3 360 L381.7 361.1 L382.1 354.9 L382.6 367.3 L383 359.7 L383.4 365.4 L383.8 356.7 L384.3 361.3 L384.7 360.5 L385.1 364.5 L385.5 360 L385.9 359.4 L386.4 366.1 L386.8 361.2 L387.2 359.5 L387.6 364.3 L388.1 356.2 L388.5 363.6 L388.9 359.1 L389.3 362.3 L389.8 355.3 L390.2 354.2 L390.6 289.1 L391 273.2 L391.4 295.5 L391.9 309.2 L392.3 310.3 L392.7 307.6 L393.1 302.3 L393.6 310.2 L394 300.3 L394.4 302.8 L394.8 302.6 L395.3 310.1 L395.7 308.1 L396.1 308.1 L396.5 306.5 L397 310.8 L397.4 297.4 L397.8 302.5 L398.2 300.6 L398.6 302.3 L399.1 306.6 L399.5 312.1 L399.9 310.9 L400.3 304.8 L400.8 308.7 L401.2 308.1 L401.6 307.6 L402 307.8 L402.5 303.8 L402.9 308.9 L403.3 304.3 L403.7 306.4 L404.1 317.7 L404.6 305 L405 303.4 L405.4 306.5 L405.8 302.9 L406.3 302.6 L406.7 303 L407.1 308.4 L407.5 308.5 L408 308.5 L408.4 303.5 L408.8 303.7 L409.2 305.6 L409.6 300.9 L410.1 305.9 L410.5 300.5 L410.9 313.9 L411.3 303.4 L411.8 377 L412.2 380.2 L412.6 375.3 L413 358.9 L413.5 360.6 L413.9 353.7 L414.3 361.8 L414.7 356.8 L415.1 365.3 L415.6 359.8 L416 354.4 L416.4 358 L416.8 359.9 L417.3 366.4 L417.7 356.9 L418.1 356.4 L418.5 354.6 L419 358.9 L419.4 356.3 L419.8 364.8 L420.2 356.3 L420.7 360 L421.1 364.3 L421.5 364.6 L421.9 361.9 L422.3 359.6 L422.8 364.1 L423.2 355.3 L423.6 352.3 L424 359.4 L424.5 352.5 L424.9 357.6 L425.3 366.4 L425.7 353.5 L426.2 357.7 L426.6 362.1 L427 363.6 L427.4 362.8 L427.8 357.9 L428.3 357.1 L428.7 358.3 L429.1 366 L429.5 357.2 L430 351.3 L430.4 356.3 L430.8 356.6 L431.2 364.3 L431.7 360.3 L432.1 372.2 L432.5 349.4 L432.9 284.4 L433.3 284.6 L433.8 308.3 L434.2 298.1 L434.6 311.4 L435 296.1 L435.5 304.8 L435.9 308.6 L436.3 299 L436.7 309.2 L437.2 300 L437.6 299.1 L438 299.3 L438.4 307.4 L438.8 300.5 L439.3 313 L439.7 303.8 L440.1 307 L440.5 303.8 L441 298.5 L441.4 306.4 L441.8 300.4 L442.2 308.2 L442.7 305.3 L443.1 316.3 L443.5 303.3 L443.9 309.5 L444.3 300.6 L444.8 305.9 L445.2 308.8 L445.6 307.5 L446 300.4 L446.5 312.4 L446.9 309 L447.3 316.4 L447.7 310.7 L448.2 304.6 L448.6 306.6 L449 303.4 L449.4 310.5 L449.9 307.3 L450.3 307.9 L450.7 312.2 L451.1 302.1 L451.5 298.6 L452 306.3 L452.4 309.9 L452.8 309.7 L453.2 310.8 L453.7 301.1 L454.1 375.7 L454.5 378.2 L454.9 374.2 L455.4 359.1 L455.8 356.5 L456.2 359.1 L456.6 355.8 L457 355.7 L457.5 360.8 L457.9 356.6 L458.3 351.2 L458.7 365.2 L459.2 350.9 L459.6 362.4 L460 359.3 L460.4 362.4 L460.9 357 L461.3 354.6 L461.7 361.2 L462.1 357.9 L462.5 360 L463 357.5 L463.4 359.5 L463.8 355.9 L464.2 359 L464.7 356.6 L465.1 362.7 L465.5 363.2 L465.9 360.1 L466.4 362.2 L466.8 360.3 L467.2 363.1 L467.6 353.3 L468 362.1 L468.5 366 L468.9 361.4 L469.3 361 L469.7 358.5 L470.2 367.2 L470.6 356.6 L471 357.9 L471.4 356.4 L471.9 361.8 L472.3 365.2 L472.7 363.6 L473.1 357.6 L473.6 358 L474 365.6 L474.4 356.2 L474.8 359.7 L475.2 288.6 L475.7 281.6 L476.1 309.8 L476.5 303.1 L476.9 297.1 L477.4 308.6 L477.8 298.7 L478.2 300.9 L478.6 304.2 L479.1 303.4 L479.5 303.1 L479.9 305.9 L480.3 303.9 L480.7 289.1 L481.2 300.8 L481.6 304.7 L482 309.8 L482.4 306.4 L482.9 302.9 L483.3 297.7 L483.7 304.8 L484.1 306.9 L484.6 308.2 L485 314.2 L485.4 302 L485.8 305.5 L486.2 309.2 L486.7 305.2 L487.1 303.9 L487.5 304.5 L487.9 311.1 L488.4 310.3 L488.8 308.5 L489.2 309.7 L489.6 305.7 L490.1 299.2 L490.5 307.8 L490.9 311 L491.3 300.8 L491.7 303.9 L492.2 299 L492.6 298.8 L493 306 L493.4 308.5 L493.9 294.2 L494.3 303.2 L494.7 302.3 L495.1 301.8 L495.6 307.4 L496 305.9 L496.4 374.9 L496.8 380.1 L497.2 380.4 L497.7 358.6 L498.1 364.7 L498.5 358.1 L498.9 355.9 L499.4 361.2 L499.8 359.8 L500.2 356 L500.6 362.3 L501.1 360.9 L501.5 360.2 L501.9 365.3 L502.3 361.2 L502.8 357.9 L503.2 358 L503.6 360.8 L504 357.5 L504.4 358.2 L504.9 361.1 L505.3 366.4 L505.7 364.6 L506.1 343.4 L506.6 354.7 L507 363.8 L507.4 369.6 L507.8 362.3 L508.3 347.3 L508.7 359.8 L509.1 361.5 L509.5 361.2 L509.9 361.5 L510.4 365.6 L510.8 360.3 L511.2 358.3 L511.6 361.1 L512.1 358.8 L512.5 367.9 L512.9 366.6 L513.3 356.7 L513.8 352.5 L514.2 364.3 L514.6 361.6 L515 353 L515.4 361.6 L515.9 355.4 L516.3 363.2 L516.7 356.7 L517.1 361 L517.6 281.4 L518 292.4 L518.4 308.1 L518.8 301.5 L519.3 296.6 L519.7 309 L520.1 300.5 L520.5 305.2 L520.9 299.4 L521.4 301.3 L521.8 303.7 L522.2 311.5 L522.6 304.6 L523.1 301.2 L523.5 295.8 L523.9 304.5 L524.3 301.5 L524.8 304.7 L525.2 297.9 L525.6 299.9 L526 303.9 L526.5 306.7 L526.9 305.3 L527.3 304.4 L527.7 301.4 L528.1 308.9 L528.6 308.7 L529 303.8 L529.4 303.7 L529.8 307.9 L530.3 308.8 L530.7 305.6 L531.1 317.1 L531.5 303.1 L532 307.7 L532.4 306.3 L532.8 305.9 L533.2 303.9 L533.6 305.6 L534.1 308.1 L534.5 309.5 L534.9 304.3 L535.3 299.3 L535.8 307.7 L536.2 315.4 L536.6 304.8 L537 301.3 L537.5 307.9 L537.9 306.1 L538.3 311.8" stroke="#404040" stroke-width="2.8" fill="none" stroke-linejoin="round" />
</g>
<rect x="326.7" y="273.7" width="423.2" height="110.1" fill="none" stroke="#000" stroke-width="1.8" />
<line x1="326.7" y1="273.7" x2="320.7" y2="273.7" stroke="#000" stroke-width="1.8" />
<line x1="326.7" y1="324.4" x2="320.7" y2="324.4" stroke="#000" stroke-width="1.8" />
<line x1="326.7" y1="375" x2="320.7" y2="375" stroke="#000" stroke-width="1.8" />
<line x1="326.7" y1="299" x2="323.2" y2="299" stroke="#000" stroke-width="1.8" />
<line x1="326.7" y1="349.7" x2="323.2" y2="349.7" stroke="#000" stroke-width="1.8" />
<line x1="326.7" y1="383.8" x2="326.7" y2="378.8" stroke="#000" stroke-width="1.8" />
<line x1="432.5" y1="383.8" x2="432.5" y2="378.8" stroke="#000" stroke-width="1.8" />
<line x1="538.3" y1="383.8" x2="538.3" y2="378.8" stroke="#000" stroke-width="1.8" />
<line x1="644.1" y1="383.8" x2="644.1" y2="378.8" stroke="#000" stroke-width="1.8" />
<line x1="749.9" y1="383.8" x2="749.9" y2="378.8" stroke="#000" stroke-width="1.8" />
<line x1="379.6" y1="383.8" x2="379.6" y2="380.8" stroke="#000" stroke-width="1.8" />
<line x1="485.4" y1="383.8" x2="485.4" y2="380.8" stroke="#000" stroke-width="1.8" />
<line x1="591.2" y1="383.8" x2="591.2" y2="380.8" stroke="#000" stroke-width="1.8" />
<line x1="697" y1="383.8" x2="697" y2="380.8" stroke="#000" stroke-width="1.8" />
<text x="326.7" y="409.2" font-size="24.3" text-anchor="middle" fill="#000" font-family='"Liberation Sans", Arial, sans-serif' transform="translate(326.7 409.2) scale(1 1.09) translate(-326.7 -409.2)" >90</text>
<text x="432.5" y="409.2" font-size="24.3" text-anchor="middle" fill="#000" font-family='"Liberation Sans", Arial, sans-serif' transform="translate(432.5 409.2) scale(1 1.09) translate(-432.5 -409.2)" >95</text>
<text x="538.3" y="409.2" font-size="24.3" text-anchor="middle" fill="#000" font-family='"Liberation Sans", Arial, sans-serif' transform="translate(538.3 409.2) scale(1 1.09) translate(-538.3 -409.2)" >100</text>
<text x="644.1" y="409.2" font-size="24.3" text-anchor="middle" fill="#000" font-family='"Liberation Sans", Arial, sans-serif' transform="translate(644.1 409.2) scale(1 1.09) translate(-644.1 -409.2)" >105</text>
<text x="749.9" y="409.2" font-size="24.3" text-anchor="middle" fill="#000" font-family='"Liberation Sans", Arial, sans-serif' transform="translate(749.9 409.2) scale(1 1.09) translate(-749.9 -409.2)" >110</text>
<text x="318" y="282.4" font-size="24.3" text-anchor="end" fill="#000" font-family='"Liberation Sans", Arial, sans-serif' transform="translate(318 282.4) scale(1 1.09) translate(-318 -282.4)" >0.6</text>
<text x="318" y="333.1" font-size="24.3" text-anchor="end" fill="#000" font-family='"Liberation Sans", Arial, sans-serif' transform="translate(318 333.1) scale(1 1.09) translate(-318 -333.1)" >0.0</text>
<text x="318" y="383.7" font-size="24.3" text-anchor="end" fill="#000" font-family='"Liberation Sans", Arial, sans-serif' transform="translate(318 383.7) scale(1 1.09) translate(-318 -383.7)" >−0.6</text>
<text x="262" y="328" font-size="24.3" text-anchor="middle" fill="#000" font-family='"Liberation Sans", Arial, sans-serif' transform="rotate(-90 262 328) translate(262 328) scale(1 1.09) translate(-262 -328)" >Voltage (V)</text>
<text x="566.8" y="431.8" font-size="24.3" text-anchor="middle" fill="#000" font-family='"Liberation Sans", Arial, sans-serif' transform="translate(566.8 431.8) scale(1 1.09) translate(-566.8 -431.8)" >Time (h)</text>
<line x1="519" y1="362" x2="552" y2="348.5" stroke="#000" stroke-width="1.8" />
<path d="M557 346.5 L545.5 346.3 L549 354 Z" fill="#000"/>
<text x="559.5" y="348.8" font-size="22" fill="#000" font-family='"Liberation Sans", Arial, sans-serif' transform="translate(559.5 348.8) scale(1 1.09) translate(-559.5 -348.8)" >Serious chemical</text>
<text x="643" y="376.5" font-size="22" text-anchor="middle" fill="#000" font-family='"Liberation Sans", Arial, sans-serif' transform="translate(643 376.5) scale(1 1.09) translate(-643 -376.5)" >reaction</text>
<rect x="1081.3" y="279.8" width="220.4" height="107.9" fill="#fff" stroke="none" stroke-width="0" />
<g clip-path="url(#clipa2)">
<path d="M1081.3 335.5 L1093.7 338.2 L1095.1 332.9 L1107.5 329.3 L1108.9 335.5 L1121.3 339.1 L1122.7 332.9 L1135.1 329.3 L1136.4 335.5 L1148.9 340 L1150.2 332.9 L1162.6 329.3 L1164 335.5 L1176.4 340.9 L1177.8 332.9 L1190.2 328.4 L1191.6 335.5 L1199.9 340.9 L1204.7 349.9 L1205.4 334.6 L1212.3 331.1 L1216.4 326.6 L1219.2 310.4 L1219.9 338.2 L1223.3 342.7 L1226.1 365.2 L1227.4 371.5 L1231.6 372.4 L1233.6 376.9 L1234.3 365.2 L1237.1 329.3 L1239.8 297.8 L1242.6 288.8 L1246.7 288.8 L1252.3 383.2 L1260.5 383.2 L1261.9 288.8 L1274.3 288.8 L1277.1 383.2 L1288.1 383.2 L1288.8 288.8 L1301.9 288.8" stroke="#93bbe6" stroke-width="2" fill="none" stroke-linejoin="round" />
<path d="M1081.3 335.2 L1088.2 334.1 L1095.1 335.2 L1102 334.1 L1108.9 335.2 L1115.8 334.1 L1122.7 335.2 L1129.6 334.1 L1136.4 335.2 L1143.3 334.1 L1150.2 335.2 L1157.1 334.1 L1164 335.2 L1170.9 334.1 L1177.8 335.2 L1184.7 334.1 L1191.6 335.2 L1198.5 334.1 L1205.4 335.2 L1212.3 334.1 L1219.2 335.2 L1226.1 334.1 L1233 335.2 L1239.8 334.1 L1246.7 335.2 L1253.6 334.1 L1260.5 335.2 L1267.4 334.1 L1274.3 335.2 L1281.2 334.1 L1288.1 335.2 L1295 334.1 L1301.9 335.2" stroke="#f5a070" stroke-width="2.8" fill="none" stroke-linejoin="round" />
</g>
<rect x="1081.3" y="279.8" width="220.4" height="107.9" fill="none" stroke="#000" stroke-width="1.8" />
<line x1="1081.3" y1="279.8" x2="1085.3" y2="279.8" stroke="#000" stroke-width="1.8" />
<line x1="1081.3" y1="306.8" x2="1085.3" y2="306.8" stroke="#000" stroke-width="1.8" />
<line x1="1081.3" y1="333.8" x2="1085.3" y2="333.8" stroke="#000" stroke-width="1.8" />
<line x1="1081.3" y1="360.7" x2="1085.3" y2="360.7" stroke="#000" stroke-width="1.8" />
<line x1="1081.3" y1="387.7" x2="1085.3" y2="387.7" stroke="#000" stroke-width="1.8" />
<line x1="1081.3" y1="387.7" x2="1081.3" y2="383.7" stroke="#000" stroke-width="1.8" />
<line x1="1150.2" y1="387.7" x2="1150.2" y2="383.7" stroke="#000" stroke-width="1.8" />
<line x1="1219.2" y1="387.7" x2="1219.2" y2="383.7" stroke="#000" stroke-width="1.8" />
<line x1="1288.1" y1="387.7" x2="1288.1" y2="383.7" stroke="#000" stroke-width="1.8" />
<line x1="1115.8" y1="387.7" x2="1115.8" y2="385.2" stroke="#000" stroke-width="1.8" />
<line x1="1184.7" y1="387.7" x2="1184.7" y2="385.2" stroke="#000" stroke-width="1.8" />
<line x1="1253.6" y1="387.7" x2="1253.6" y2="385.2" stroke="#000" stroke-width="1.8" />
<text x="1081.3" y="410" font-size="21" text-anchor="middle" fill="#000" font-family='"Liberation Sans", Arial, sans-serif' transform="translate(1081.3 410) scale(1 1.09) translate(-1081.3 -410)" >740</text>
<text x="1150.2" y="410" font-size="21" text-anchor="middle" fill="#000" font-family='"Liberation Sans", Arial, sans-serif' transform="translate(1150.2 410) scale(1 1.09) translate(-1150.2 -410)" >745</text>
<text x="1219.2" y="410" font-size="21" text-anchor="middle" fill="#000" font-family='"Liberation Sans", Arial, sans-serif' transform="translate(1219.2 410) scale(1 1.09) translate(-1219.2 -410)" >750</text>
<text x="1288.1" y="410" font-size="21" text-anchor="middle" fill="#000" font-family='"Liberation Sans", Arial, sans-serif' transform="translate(1288.1 410) scale(1 1.09) translate(-1288.1 -410)" >755</text>
<text x="1080" y="286.3" font-size="18" text-anchor="end" fill="#000" font-family='"Liberation Sans", Arial, sans-serif' transform="translate(1080 286.3) scale(1 1.09) translate(-1080 -286.3)" >6</text>
<text x="1080" y="313.3" font-size="18" text-anchor="end" fill="#000" font-family='"Liberation Sans", Arial, sans-serif' transform="translate(1080 313.3) scale(1 1.09) translate(-1080 -313.3)" >3</text>
<text x="1080" y="340.2" font-size="18" text-anchor="end" fill="#000" font-family='"Liberation Sans", Arial, sans-serif' transform="translate(1080 340.2) scale(1 1.09) translate(-1080 -340.2)" >0</text>
<text x="1080" y="367.2" font-size="18" text-anchor="end" fill="#000" font-family='"Liberation Sans", Arial, sans-serif' transform="translate(1080 367.2) scale(1 1.09) translate(-1080 -367.2)" >−3</text>
<text x="1080" y="394.2" font-size="18" text-anchor="end" fill="#000" font-family='"Liberation Sans", Arial, sans-serif' transform="translate(1080 394.2) scale(1 1.09) translate(-1080 -394.2)" >−6</text>
<text x="1051.5" y="333" font-size="21.3" text-anchor="middle" fill="#000" font-family='"Liberation Sans", Arial, sans-serif' transform="rotate(-90 1051.5 333) translate(1051.5 333) scale(1 1.09) translate(-1051.5 -333)" >Voltage (V)</text>
<text x="1195" y="432" font-size="21.3" text-anchor="middle" fill="#000" font-family='"Liberation Sans", Arial, sans-serif' transform="translate(1195 432) scale(1 1.09) translate(-1195 -432)" >Time (h)</text>
<text x="1086.4" y="302" font-size="22.5" fill="#000" font-family='"Liberation Sans", Arial, sans-serif' transform="translate(1086.4 302) scale(1 1.09) translate(-1086.4 -302)" >Short circuit</text>
<line x1="1215" y1="322" x2="1193" y2="309" stroke="#000" stroke-width="1.8" />
<path d="M1187.5 305.5 L1199 306.5 L1194.5 313.5 Z" fill="#000"/>
<text x="1343.4" y="35.3" font-size="45" font-weight="bold" fill="#000" font-family='"Liberation Sans", Arial, sans-serif' transform="translate(1343.4 35.3) scale(1 1.03) translate(-1343.4 -35.3)" >b</text>
<g clip-path="url(#clipb)">
<path d="M1448.7 -69.7 L1449 431.8 L1449.1 425.4 L1449.7 415.7 L1450.4 411.8 L1451.1 410 L1451.8 409 L1452.5 408.2 L1453.1 407.7 L1453.8 407.2 L1454.5 406.7 L1455.2 406.4 L1455.8 406 L1456.5 405.7 L1457.2 405.4 L1457.9 405.1 L1458.5 404.9 L1459.2 404.6 L1459.9 404.4 L1460.6 404.2 L1461.3 404.1 L1461.9 403.9 L1462.6 403.8 L1463.3 403.6 L1464 403.5 L1464.6 403.4 L1465.3 403.2 L1466 403.1 L1466.7 403 L1467.3 402.9 L1468 402.8 L1468.7 402.8 L1469.4 402.7 L1470.1 402.6 L1470.7 402.5 L1471.4 402.5 L1472.1 402.4 L1472.8 402.4 L1473.4 402.3 L1474.1 402.3 L1474.8 402.2 L1475.5 402.2 L1476.1 402.1 L1476.8 402.1 L1477.5 402 L1478.2 402 L1478.9 402 L1479.5 401.9 L1480.2 401.9 L1480.9 401.9 L1481.6 401.8 L1482.2 401.8 L1482.9 401.8 L1483.6 401.8 L1484.3 401.8 L1484.9 401.7 L1485.6 401.7 L1486.3 401.7 L1487 401.7 L1487.7 401.7 L1488.3 401.6 L1489 401.6 L1489.7 401.6 L1490.4 401.6 L1491 401.6 L1491.7 401.6 L1492.4 401.6 L1493.1 401.6 L1493.7 401.5 L1494.4 401.5 L1495.1 401.5 L1495.8 401.5 L1496.4 401.5 L1497.1 401.5 L1497.8 401.5 L1498.5 401.5 L1499.2 401.5 L1499.8 401.5 L1500.5 401.5 L1501.2 401.5 L1501.9 401.5 L1502.5 401.5 L1503.2 401.5 L1503.9 401.4 L1504.6 401.4 L1505.2 401.4 L1505.9 401.4 L1506.6 401.4 L1507.3 401.4 L1508 401.4 L1508.6 401.4 L1509.3 401.4 L1510 401.4 L1510.7 401.4 L1511.3 401.4 L1512 401.4 L1512.7 401.4 L1513.4 401.4 L1514 401.4 L1514.7 401.4 L1515.4 401.4 L1516.1 401.4 L1516.8 401.4 L1517.4 401.4 L1518.1 401.4 L1518.8 401.4 L1519.5 401.4 L1520.1 401.4 L1520.8 401.4 L1521.5 401.4 L1522.2 401.4 L1522.8 401.4 L1523.5 401.4 L1524.2 401.4 L1524.9 401.4 L1525.6 401.4 L1526.2 401.4 L1526.9 401.4 L1527.6 401.4 L1528.3 401.4 L1528.9 401.4 L1529.6 401.4 L1529.6 407.6 L1529.8 389.7 L1530.4 390.1 L1531.1 390.5 L1531.7 390.9 L1532.4 391.2 L1533 391.4 L1533.7 391.6 L1534.3 391.8 L1534.9 391.9 L1535.6 392.1 L1536.2 392.2 L1536.9 392.2 L1537.5 392.3 L1538.2 392.4 L1538.8 392.4 L1539.5 392.4 L1540.1 392.4 L1540.8 392.4 L1541.4 392.4 L1542.1 392.4 L1542.7 392.4 L1543.3 392.4 L1544 392.4 L1544.6 392.3 L1545.3 392.3 L1545.9 392.3 L1546.6 392.2 L1547.2 392.2 L1547.9 392.1 L1548.5 392.1 L1549.2 392 L1549.8 392 L1550.5 392 L1551.1 391.9 L1551.7 391.9 L1552.4 391.8 L1553 391.7 L1553.7 391.7 L1554.3 391.6 L1555 391.6 L1555.6 391.5 L1556.3 391.5 L1556.9 391.4 L1557.6 391.4 L1558.2 391.3 L1558.9 391.3 L1559.5 391.2 L1560.2 391.1 L1560.8 391.1 L1561.4 391 L1562.1 391 L1562.7 390.9 L1563.4 390.9 L1564 390.8 L1564.7 390.8 L1565.3 390.7 L1566 390.6 L1566.6 390.6 L1567.3 390.5 L1567.9 390.5 L1568.6 390.4 L1569.2 390.4 L1569.8 390.3 L1570.5 390.2 L1571.1 390.2 L1571.8 390.1 L1572.4 390.1 L1573.1 390 L1573.7 390 L1574.4 389.9 L1575 389.8 L1575.7 389.8 L1576.3 389.7 L1577 389.7 L1577.6 389.6 L1578.2 389.6 L1578.9 389.5 L1579.5 389.4 L1580.2 389.4 L1580.8 389.3 L1581.5 389.3 L1582.1 389.2 L1582.8 389.1 L1583.4 389.1 L1584.1 389 L1584.7 389 L1585.4 388.9 L1586 388.8 L1586.6 388.8 L1587.3 388.7 L1587.9 388.7 L1588.6 388.6 L1589.2 388.5 L1589.9 388.5 L1590.5 388.4 L1591.2 388.3 L1591.8 388.2 L1592.5 388.2 L1593.1 388.1 L1593.8 388 L1594.4 387.9 L1595 387.8 L1595.7 387.7 L1596.3 387.6 L1597 387.5 L1597.6 387.4 L1598.3 387.2 L1598.9 387.1 L1599.6 386.9 L1600.2 386.7 L1600.9 386.5 L1601.5 386.3 L1602.2 386 L1602.8 385.7 L1603.4 385.4 L1604.1 385 L1604.7 384.6 L1605.4 384 L1606 383.4 L1606.7 382.7 L1606.7 381.7 L1606.7 381.7 L1606.8 381.6 L1606.8 381.3 L1606.8 380.7 L1606.9 379.8 L1606.9 378.5 L1607 376.6 L1607 374.2 L1607.1 371 L1607.1 367 L1607.1 362.1 L1607.2 356.3 L1607.2 349.4 L1607.3 341.4 L1607.3 332.1 L1607.3 321.5 L1607.4 309.5 L1607.4 296 L1607.5 280.9 L1607.5 264.2 L1607.6 245.7 L1607.6 225.3 L1607.6 203 L1607.7 178.6 L1607.7 152.2 L1607.8 123.5 L1607.8 92.6 L1607.9 59.3 L1607.9 23.5 L1607.9 -33.8 L1608.3 -33.8 L1608.4 410.3 L1610.7 395.4 L1611.7 395.5 L1612.8 395.6 L1613.8 395.7 L1614.8 395.8 L1615.8 395.8 L1616.8 395.9 L1617.8 396 L1618.9 396.1 L1619.9 396.2 L1620.9 396.2 L1621.9 396.3 L1622.9 396.4 L1623.9 396.5 L1625 396.6 L1626 396.6 L1627 396.7 L1628 396.8 L1629 396.9 L1630 397 L1631.1 397 L1632.1 397.1 L1633.1 397.2 L1634.1 397.3 L1635.1 397.4 L1636.1 397.4 L1637.2 397.5 L1638.2 397.6 L1639.2 397.7 L1640.2 397.8 L1641.2 397.9 L1642.2 397.9 L1643.3 398 L1644.3 398.1 L1645.3 398.2 L1646.3 398.3 L1647.3 398.3 L1648.3 398.4 L1649.4 398.5 L1650.4 398.6 L1651.4 398.7 L1652.4 398.7 L1653.4 398.8 L1654.4 398.9 L1655.5 399 L1656.5 399.1 L1657.5 399.1 L1658.5 399.2 L1659.5 399.3 L1660.5 399.4 L1661.6 399.5 L1662.6 399.5 L1663.6 399.6 L1664.6 399.7 L1665.6 399.8 L1666.6 399.9 L1667.7 400 L1668.7 400 L1669.7 400.1 L1670.7 400.2 L1671.7 400.3 L1672.7 400.4 L1673.8 400.4 L1674.8 400.5 L1675.8 400.6 L1676.8 400.7 L1677.8 400.8 L1678.8 400.8 L1679.9 400.9 L1680.9 401 L1681.9 401.1 L1682.9 401.2 L1683.9 401.2 L1684.9 401.3 L1686 401.4 L1687 401.5 L1688 401.6 L1689 401.6 L1690 401.7 L1691 401.8 L1691.8 398.9 L1692 386.7 L1693.1 388.8 L1699.6 388.8 L1700 397.1 L1707.3 403.5 L1708.1 398.9 L1708.2 386.7 L1709.3 388.8 L1715.8 388.8 L1716.2 397.1 L1723.5 403.5 L1724.3 398.9 L1724.5 386.7 L1725.5 388.8 L1732 388.8 L1732.4 397.1 L1739.7 403.5 L1740.5 398.9 L1740.7 386.7 L1741.7 388.8 L1748.2 388.8 L1748.6 397.1 L1755.9 403.5 L1756.7 398.9 L1756.9 386.7 L1758 388.8 L1764.4 388.8 L1764.9 397.1 L1772.2 403.5 L1773 398.9 L1773.1 386.7 L1774.2 388.8 L1780.7 388.8 L1781.1 397.1 L1788.4 403.5 L1789.2 398.9 L1789.4 386.7 L1790.4 388.8 L1796.9 388.8 L1797.3 397.1 L1804.6 403.5 L1805.4 398.9 L1805.6 386.7 L1806.6 388.8 L1813.1 388.8 L1813.5 397.1 L1820.8 403.5 L1821.6 398.9 L1821.8 386.7 L1822.9 388.8 L1829.3 388.8 L1829.7 397.1 L1837 403.5 L1837.9 398.9 L1838 386.7 L1839.1 388.8 L1845.6 388.8 L1846 397.1 L1853.3 403.5 L1854.1 406.7 L1854.1 394.6 L1854.8 394.5 L1855.6 394.5 L1856.4 394.4 L1857.1 394.4 L1857.9 394.4 L1858.7 394.3 L1859.4 394.3 L1860.2 394.2 L1860.9 394.2 L1861.7 394.2 L1862.5 394.1 L1863.2 394.1 L1864 394 L1864.8 394 L1865.5 394 L1866.3 393.9 L1867 393.9 L1867.8 393.8 L1868.6 393.8 L1869.3 393.8 L1870.1 393.7 L1870.8 393.7 L1871.6 393.6 L1872.4 393.6 L1873.1 393.6 L1873.9 393.5 L1874.7 393.5 L1875.4 393.4 L1876.2 393.4 L1876.9 393.4 L1877.7 393.3 L1878.5 393.3 L1879.2 393.2 L1880 393.2 L1880.8 393.2 L1881.5 393.1 L1882.3 393.1 L1883 393 L1883.8 393 L1884.6 393 L1885.3 392.9 L1886.1 392.9 L1886.8 392.8 L1887.6 392.8 L1888.4 392.7 L1889.1 392.7 L1889.9 392.7 L1890.7 392.6 L1891.4 392.6 L1892.2 392.5 L1892.9 392.5 L1893.7 392.5 L1894.5 392.4 L1895.2 392.4 L1896 392.3 L1896.8 392.3 L1897.5 392.3 L1898.3 392.2 L1899 392.2 L1899.8 392.1 L1900.6 392.1 L1901.3 392.1 L1902.1 392 L1902.9 392 L1903.6 391.9 L1904.4 391.9 L1905.1 391.8 L1905.9 391.8 L1906.7 391.7 L1907.4 391.7 L1908.2 391.6 L1908.9 391.6 L1909.7 391.5 L1910.5 391.5 L1911.2 391.4 L1912 391.4 L1912.8 391.3 L1913.5 391.2 L1914.3 391.1 L1915 391 L1915.8 390.9 L1916.6 390.8 L1917.3 390.7 L1918.1 390.5 L1918.9 390.4 L1919.6 390.2 L1920.4 389.9 L1921.1 389.7 L1921.9 389.3 L1922.7 389 L1923.4 388.5 L1924.2 388 L1924.9 387.3 L1925.7 386.6 L1926.5 385.7 L1927.2 384.6 L1928 383.3 L1928.8 381.7 L1929.5 379.8 L1929.5 381.7 L1929.6 381.7 L1929.7 381.6 L1929.7 381.3 L1929.8 380.7 L1929.9 379.8 L1929.9 378.5 L1930 376.6 L1930.1 374.2 L1930.2 371 L1930.2 367 L1930.3 362.1 L1930.4 356.3 L1930.4 349.4 L1930.5 341.4 L1930.6 332.1 L1930.6 321.5 L1930.7 309.5 L1930.8 296 L1930.9 280.9 L1930.9 264.2 L1931 245.7 L1931.1 225.3 L1931.1 203 L1931.2 178.6 L1931.3 152.2 L1931.3 123.5 L1931.4 92.6 L1931.5 59.3 L1931.5 23.5 L1931.5 -33.8" stroke="#404040" stroke-width="3.2" fill="none" stroke-linejoin="round" />
<path d="M1448.7 -69.7 L1449 431.8 L1449.1 425.8 L1449.7 416.9 L1450.4 413.6 L1451.1 412.4 L1451.8 411.8 L1452.5 411.5 L1453.1 411.2 L1453.8 411 L1454.5 410.8 L1455.2 410.6 L1455.8 410.4 L1456.5 410.3 L1457.2 410.1 L1457.9 409.9 L1458.5 409.8 L1459.2 409.6 L1459.9 409.5 L1460.6 409.3 L1461.3 409.2 L1461.9 409.1 L1462.6 408.9 L1463.3 408.8 L1464 408.7 L1464.6 408.6 L1465.3 408.5 L1466 408.4 L1466.7 408.3 L1467.3 408.3 L1468 408.2 L1468.7 408.1 L1469.4 408 L1470.1 408 L1470.7 407.9 L1471.4 407.8 L1472.1 407.8 L1472.8 407.7 L1473.4 407.7 L1474.1 407.6 L1474.8 407.6 L1475.5 407.5 L1476.1 407.5 L1476.8 407.4 L1477.5 407.4 L1478.2 407.4 L1478.9 407.3 L1479.5 407.3 L1480.2 407.3 L1480.9 407.2 L1481.6 407.2 L1482.2 407.2 L1482.9 407.2 L1483.6 407.1 L1484.3 407.1 L1484.9 407.1 L1485.6 407.1 L1486.3 407.1 L1487 407 L1487.7 407 L1488.3 407 L1489 407 L1489.7 407 L1490.4 407 L1491 407 L1491.7 407 L1492.4 406.9 L1493.1 406.9 L1493.7 406.9 L1494.4 406.9 L1495.1 406.9 L1495.8 406.9 L1496.4 406.9 L1497.1 406.9 L1497.8 406.9 L1498.5 406.9 L1499.2 406.9 L1499.8 406.9 L1500.5 406.8 L1501.2 406.8 L1501.9 406.8 L1502.5 406.8 L1503.2 406.8 L1503.9 406.8 L1504.6 406.8 L1505.2 406.8 L1505.9 406.8 L1506.6 406.8 L1507.3 406.8 L1508 406.8 L1508.6 406.8 L1509.3 406.8 L1510 406.8 L1510.7 406.8 L1511.3 406.8 L1512 406.8 L1512.7 406.8 L1513.4 406.8 L1514 406.8 L1514.7 406.8 L1515.4 406.8 L1516.1 406.8 L1516.8 406.8 L1517.4 406.8 L1518.1 406.8 L1518.8 406.8 L1519.5 406.8 L1520.1 406.8 L1520.8 406.8 L1521.5 406.8 L1522.2 406.8 L1522.8 406.8 L1523.5 406.8 L1524.2 406.8 L1524.9 406.8 L1525.6 406.8 L1526.2 406.8 L1526.9 406.8 L1527.6 406.8 L1528.3 406.8 L1528.9 406.8 L1529.6 406.8 L1529.6 405.4 L1529.8 387.5 L1530.4 388 L1531.1 388.4 L1531.7 388.7 L1532.4 389 L1533 389.3 L1533.7 389.5 L1534.3 389.6 L1534.9 389.8 L1535.6 389.9 L1536.2 390 L1536.9 390.1 L1537.5 390.2 L1538.2 390.2 L1538.8 390.2 L1539.5 390.3 L1540.1 390.3 L1540.8 390.3 L1541.4 390.3 L1542.1 390.3 L1542.7 390.3 L1543.3 390.2 L1544 390.2 L1544.6 390.2 L1545.3 390.1 L1545.9 390.1 L1546.6 390.1 L1547.2 390 L1547.9 390 L1548.5 389.9 L1549.2 389.9 L1549.8 389.9 L1550.5 389.8 L1551.1 389.8 L1551.7 389.7 L1552.4 389.6 L1553 389.6 L1553.7 389.5 L1554.3 389.5 L1555 389.4 L1555.6 389.4 L1556.3 389.3 L1556.9 389.3 L1557.6 389.2 L1558.2 389.2 L1558.9 389.1 L1559.5 389.1 L1560.2 389 L1560.8 388.9 L1561.4 388.9 L1562.1 388.8 L1562.7 388.8 L1563.4 388.7 L1564 388.7 L1564.7 388.6 L1565.3 388.5 L1566 388.5 L1566.6 388.4 L1567.3 388.4 L1567.9 388.3 L1568.6 388.3 L1569.2 388.2 L1569.8 388.1 L1570.5 388.1 L1571.1 388 L1571.8 388 L1572.4 387.9 L1573.1 387.9 L1573.7 387.8 L1574.4 387.7 L1575 387.7 L1575.7 387.6 L1576.3 387.6 L1577 387.5 L1577.6 387.5 L1578.2 387.4 L1578.9 387.3 L1579.5 387.3 L1580.2 387.2 L1580.8 387.2 L1581.5 387.1 L1582.1 387.1 L1582.8 387 L1583.4 386.9 L1584.1 386.9 L1584.7 386.8 L1585.4 386.8 L1586 386.7 L1586.6 386.6 L1587.3 386.6 L1587.9 386.5 L1588.6 386.4 L1589.2 386.4 L1589.9 386.3 L1590.5 386.2 L1591.2 386.2 L1591.8 386.1 L1592.5 386 L1593.1 385.9 L1593.8 385.9 L1594.4 385.8 L1595 385.7 L1595.7 385.6 L1596.3 385.5 L1597 385.4 L1597.6 385.2 L1598.3 385.1 L1598.9 384.9 L1599.6 384.8 L1600.2 384.6 L1600.9 384.4 L1601.5 384.2 L1602.2 383.9 L1602.8 383.6 L1603.4 383.2 L1604.1 382.9 L1604.7 382.4 L1605.4 381.9 L1606 381.3 L1606.7 380.6 L1606.7 381.7 L1606.7 381.7 L1606.8 381.6 L1606.8 381.3 L1606.9 380.7 L1607 379.8 L1607 378.5 L1607.1 376.6 L1607.1 374.2 L1607.2 371 L1607.2 367 L1607.3 362.1 L1607.3 356.3 L1607.4 349.4 L1607.5 341.4 L1607.5 332.1 L1607.6 321.5 L1607.6 309.5 L1607.7 296 L1607.7 280.9 L1607.8 264.2 L1607.9 245.7 L1607.9 225.3 L1608 203 L1608 178.6 L1608.1 152.2 L1608.1 123.5 L1608.2 92.6 L1608.2 59.3 L1608.3 23.5 L1608.3 -33.8 L1608.7 -33.8 L1608.8 410.3 L1610.7 400 L1611.7 400.1 L1612.8 400.2 L1613.8 400.3 L1614.8 400.3 L1615.8 400.4 L1616.8 400.5 L1617.8 400.6 L1618.9 400.7 L1619.9 400.7 L1620.9 400.8 L1621.9 400.9 L1622.9 401 L1623.9 401.1 L1625 401.1 L1626 401.2 L1627 401.3 L1628 401.4 L1629 401.5 L1630 401.5 L1631.1 401.6 L1632.1 401.7 L1633.1 401.8 L1634.1 401.9 L1635.1 402 L1636.1 402 L1637.2 402.1 L1638.2 402.2 L1639.2 402.3 L1640.2 402.4 L1641.2 402.4 L1642.2 402.5 L1643.3 402.6 L1644.3 402.7 L1645.3 402.8 L1646.3 402.8 L1647.3 402.9 L1648.3 403 L1649.4 403.1 L1650.4 403.2 L1651.4 403.2 L1652.4 403.3 L1653.4 403.4 L1654.4 403.5 L1655.5 403.6 L1656.5 403.6 L1657.5 403.7 L1658.5 403.8 L1659.5 403.9 L1660.5 404 L1661.6 404.1 L1662.6 404.1 L1663.6 404.2 L1664.6 404.3 L1665.6 404.4 L1666.6 404.5 L1667.7 404.5 L1668.7 404.6 L1669.7 404.7 L1670.7 404.8 L1671.7 404.9 L1672.7 404.9 L1673.8 405 L1674.8 405.1 L1675.8 405.2 L1676.8 405.3 L1677.8 405.3 L1678.8 405.4 L1679.9 405.5 L1680.9 405.6 L1681.9 405.7 L1682.9 405.7 L1683.9 405.8 L1684.9 405.9 L1686 406 L1687 406.1 L1688 406.2 L1689 406.2 L1690 406.3 L1691 406.4 L1691.8 398.9 L1692 386.7 L1693.1 388.8 L1699.6 388.8 L1700 397.1 L1707.3 403.5 L1708.1 398.9 L1708.2 386.7 L1709.3 388.8 L1715.8 388.8 L1716.2 397.1 L1723.5 403.5 L1724.3 398.9 L1724.5 386.7 L1725.5 388.8 L1732 388.8 L1732.4 397.1 L1739.7 403.5 L1740.5 398.9 L1740.7 386.7 L1741.7 388.8 L1748.2 388.8 L1748.6 397.1 L1755.9 403.5 L1756.7 398.9 L1756.9 386.7 L1758 388.8 L1764.4 388.8 L1764.9 397.1 L1772.2 403.5 L1773 398.9 L1773.1 386.7 L1774.2 388.8 L1780.7 388.8 L1781.1 397.1 L1788.4 403.5 L1789.2 398.9 L1789.4 386.7 L1790.4 388.8 L1796.9 388.8 L1797.3 397.1 L1804.6 403.5 L1805.4 398.9 L1805.6 386.7 L1806.6 388.8 L1813.1 388.8 L1813.5 397.1 L1820.8 403.5 L1821.6 398.9 L1821.8 386.7 L1822.9 388.8 L1829.3 388.8 L1829.7 397.1 L1837 403.5 L1837.9 398.9 L1838 386.7 L1839.1 388.8 L1845.6 388.8 L1846 397.1 L1853.3 403.5 L1854.1 406.7 L1854.1 396 L1854.8 396 L1855.6 395.9 L1856.4 395.9 L1857.1 395.8 L1857.9 395.8 L1858.7 395.8 L1859.4 395.7 L1860.2 395.7 L1860.9 395.6 L1861.7 395.6 L1862.5 395.6 L1863.2 395.5 L1864 395.5 L1864.8 395.4 L1865.5 395.4 L1866.3 395.4 L1867 395.3 L1867.8 395.3 L1868.6 395.2 L1869.3 395.2 L1870.1 395.2 L1870.8 395.1 L1871.6 395.1 L1872.4 395 L1873.1 395 L1873.9 395 L1874.7 394.9 L1875.4 394.9 L1876.2 394.8 L1876.9 394.8 L1877.7 394.7 L1878.5 394.7 L1879.2 394.7 L1880 394.6 L1880.8 394.6 L1881.5 394.5 L1882.3 394.5 L1883 394.5 L1883.8 394.4 L1884.6 394.4 L1885.3 394.3 L1886.1 394.3 L1886.8 394.3 L1887.6 394.2 L1888.4 394.2 L1889.1 394.1 L1889.9 394.1 L1890.7 394.1 L1891.4 394 L1892.2 394 L1892.9 393.9 L1893.7 393.9 L1894.5 393.9 L1895.2 393.8 L1896 393.8 L1896.8 393.7 L1897.5 393.7 L1898.3 393.7 L1899 393.6 L1899.8 393.6 L1900.6 393.5 L1901.3 393.5 L1902.1 393.4 L1902.9 393.4 L1903.6 393.4 L1904.4 393.3 L1905.1 393.3 L1905.9 393.2 L1906.7 393.2 L1907.4 393.1 L1908.2 393.1 L1908.9 393 L1909.7 393 L1910.5 392.9 L1911.2 392.9 L1912 392.8 L1912.8 392.7 L1913.5 392.6 L1914.3 392.6 L1915 392.5 L1915.8 392.4 L1916.6 392.2 L1917.3 392.1 L1918.1 392 L1918.9 391.8 L1919.6 391.6 L1920.4 391.4 L1921.1 391.1 L1921.9 390.8 L1922.7 390.4 L1923.4 389.9 L1924.2 389.4 L1924.9 388.8 L1925.7 388 L1926.5 387.1 L1927.2 386 L1928 384.7 L1928.8 383.1 L1929.5 381.3 L1929.5 381.7 L1929.6 381.7 L1929.7 381.6 L1929.8 381.3 L1929.9 380.7 L1929.9 379.8 L1930 378.5 L1930.1 376.6 L1930.2 374.2 L1930.3 371 L1930.4 367 L1930.4 362.1 L1930.5 356.3 L1930.6 349.4 L1930.7 341.4 L1930.8 332.1 L1930.9 321.5 L1930.9 309.5 L1931 296 L1931.1 280.9 L1931.2 264.2 L1931.3 245.7 L1931.4 225.3 L1931.5 203 L1931.5 178.6 L1931.6 152.2 L1931.7 123.5 L1931.8 92.6 L1931.9 59.3 L1932 23.5 L1932 -33.8" stroke="#3f77a9" stroke-width="3.2" fill="none" stroke-linejoin="round" />
<path d="M1448.7 -69.7 L1449 431.8 L1449.1 425.9 L1449.7 416.9 L1450.4 413.5 L1451.1 412 L1451.8 411.4 L1452.5 410.9 L1453.1 410.6 L1453.8 410.3 L1454.5 410.1 L1455.2 409.8 L1455.8 409.6 L1456.5 409.4 L1457.2 409.2 L1457.9 409 L1458.5 408.8 L1459.2 408.6 L1459.9 408.5 L1460.6 408.3 L1461.3 408.2 L1461.9 408 L1462.6 407.9 L1463.3 407.8 L1464 407.7 L1464.6 407.6 L1465.3 407.5 L1466 407.4 L1466.7 407.3 L1467.3 407.2 L1468 407.1 L1468.7 407 L1469.4 407 L1470.1 406.9 L1470.7 406.8 L1471.4 406.8 L1472.1 406.7 L1472.8 406.6 L1473.4 406.6 L1474.1 406.5 L1474.8 406.5 L1475.5 406.5 L1476.1 406.4 L1476.8 406.4 L1477.5 406.3 L1478.2 406.3 L1478.9 406.3 L1479.5 406.2 L1480.2 406.2 L1480.9 406.2 L1481.6 406.1 L1482.2 406.1 L1482.9 406.1 L1483.6 406.1 L1484.3 406.1 L1484.9 406 L1485.6 406 L1486.3 406 L1487 406 L1487.7 406 L1488.3 405.9 L1489 405.9 L1489.7 405.9 L1490.4 405.9 L1491 405.9 L1491.7 405.9 L1492.4 405.9 L1493.1 405.9 L1493.7 405.8 L1494.4 405.8 L1495.1 405.8 L1495.8 405.8 L1496.4 405.8 L1497.1 405.8 L1497.8 405.8 L1498.5 405.8 L1499.2 405.8 L1499.8 405.8 L1500.5 405.8 L1501.2 405.8 L1501.9 405.8 L1502.5 405.8 L1503.2 405.8 L1503.9 405.7 L1504.6 405.7 L1505.2 405.7 L1505.9 405.7 L1506.6 405.7 L1507.3 405.7 L1508 405.7 L1508.6 405.7 L1509.3 405.7 L1510 405.7 L1510.7 405.7 L1511.3 405.7 L1512 405.7 L1512.7 405.7 L1513.4 405.7 L1514 405.7 L1514.7 405.7 L1515.4 405.7 L1516.1 405.7 L1516.8 405.7 L1517.4 405.7 L1518.1 405.7 L1518.8 405.7 L1519.5 405.7 L1520.1 405.7 L1520.8 405.7 L1521.5 405.7 L1522.2 405.7 L1522.8 405.7 L1523.5 405.7 L1524.2 405.7 L1524.9 405.7 L1525.6 405.7 L1526.2 405.7 L1526.9 405.7 L1527.6 405.7 L1528.3 405.7 L1528.9 405.7 L1529.6 405.7 L1529.6 405.4 L1529.8 387.5 L1530.4 388 L1531.1 388.4 L1531.7 388.7 L1532.4 389 L1533 389.3 L1533.7 389.5 L1534.3 389.6 L1534.9 389.8 L1535.6 389.9 L1536.2 390 L1536.9 390.1 L1537.5 390.2 L1538.2 390.2 L1538.8 390.2 L1539.5 390.3 L1540.1 390.3 L1540.8 390.3 L1541.4 390.3 L1542.1 390.3 L1542.7 390.3 L1543.3 390.2 L1544 390.2 L1544.6 390.2 L1545.3 390.1 L1545.9 390.1 L1546.6 390.1 L1547.2 390 L1547.9 390 L1548.5 389.9 L1549.2 389.9 L1549.8 389.9 L1550.5 389.8 L1551.1 389.8 L1551.7 389.7 L1552.4 389.6 L1553 389.6 L1553.7 389.5 L1554.3 389.5 L1555 389.4 L1555.6 389.4 L1556.3 389.3 L1556.9 389.3 L1557.6 389.2 L1558.2 389.2 L1558.9 389.1 L1559.5 389.1 L1560.2 389 L1560.8 388.9 L1561.4 388.9 L1562.1 388.8 L1562.7 388.8 L1563.4 388.7 L1564 388.7 L1564.7 388.6 L1565.3 388.5 L1566 388.5 L1566.6 388.4 L1567.3 388.4 L1567.9 388.3 L1568.6 388.3 L1569.2 388.2 L1569.8 388.1 L1570.5 388.1 L1571.1 388 L1571.8 388 L1572.4 387.9 L1573.1 387.9 L1573.7 387.8 L1574.4 387.7 L1575 387.7 L1575.7 387.6 L1576.3 387.6 L1577 387.5 L1577.6 387.5 L1578.2 387.4 L1578.9 387.3 L1579.5 387.3 L1580.2 387.2 L1580.8 387.2 L1581.5 387.1 L1582.1 387.1 L1582.8 387 L1583.4 386.9 L1584.1 386.9 L1584.7 386.8 L1585.4 386.8 L1586 386.7 L1586.6 386.6 L1587.3 386.6 L1587.9 386.5 L1588.6 386.4 L1589.2 386.4 L1589.9 386.3 L1590.5 386.2 L1591.2 386.2 L1591.8 386.1 L1592.5 386 L1593.1 385.9 L1593.8 385.9 L1594.4 385.8 L1595 385.7 L1595.7 385.6 L1596.3 385.5 L1597 385.4 L1597.6 385.2 L1598.3 385.1 L1598.9 384.9 L1599.6 384.8 L1600.2 384.6 L1600.9 384.4 L1601.5 384.2 L1602.2 383.9 L1602.8 383.6 L1603.4 383.2 L1604.1 382.9 L1604.7 382.4 L1605.4 381.9 L1606 381.3 L1606.7 380.6 L1606.7 381.7 L1606.7 381.7 L1606.8 381.6 L1606.9 381.3 L1607 380.7 L1607 379.8 L1607.1 378.5 L1607.2 376.6 L1607.2 374.2 L1607.3 371 L1607.4 367 L1607.4 362.1 L1607.5 356.3 L1607.6 349.4 L1607.7 341.4 L1607.7 332.1 L1607.8 321.5 L1607.9 309.5 L1607.9 296 L1608 280.9 L1608.1 264.2 L1608.1 245.7 L1608.2 225.3 L1608.3 203 L1608.4 178.6 L1608.4 152.2 L1608.5 123.5 L1608.6 92.6 L1608.6 59.3 L1608.7 23.5 L1608.7 -33.8 L1609.1 -33.8 L1609.2 410.3 L1610.7 401 L1611.7 401.1 L1612.8 401.2 L1613.8 401.3 L1614.8 401.3 L1615.8 401.4 L1616.8 401.5 L1617.8 401.6 L1618.9 401.7 L1619.9 401.7 L1620.9 401.8 L1621.9 401.9 L1622.9 402 L1623.9 402.1 L1625 402.1 L1626 402.2 L1627 402.3 L1628 402.4 L1629 402.5 L1630 402.5 L1631.1 402.6 L1632.1 402.7 L1633.1 402.8 L1634.1 402.9 L1635.1 403 L1636.1 403 L1637.2 403.1 L1638.2 403.2 L1639.2 403.3 L1640.2 403.4 L1641.2 403.4 L1642.2 403.5 L1643.3 403.6 L1644.3 403.7 L1645.3 403.8 L1646.3 403.8 L1647.3 403.9 L1648.3 404 L1649.4 404.1 L1650.4 404.2 L1651.4 404.2 L1652.4 404.3 L1653.4 404.4 L1654.4 404.5 L1655.5 404.6 L1656.5 404.7 L1657.5 404.7 L1658.5 404.8 L1659.5 404.9 L1660.5 405 L1661.6 405.1 L1662.6 405.1 L1663.6 405.2 L1664.6 405.3 L1665.6 405.4 L1666.6 405.5 L1667.7 405.5 L1668.7 405.6 L1669.7 405.7 L1670.7 405.8 L1671.7 405.9 L1672.7 405.9 L1673.8 406 L1674.8 406.1 L1675.8 406.2 L1676.8 406.3 L1677.8 406.3 L1678.8 406.4 L1679.9 406.5 L1680.9 406.6 L1681.9 406.7 L1682.9 406.8 L1683.9 406.8 L1684.9 406.9 L1686 407 L1687 407.1 L1688 407.2 L1689 407.2 L1690 407.3 L1691 407.4 L1691.8 401 L1692 385.3 L1693.1 387.4 L1699.6 387.4 L1700 399.2 L1707.3 405.7 L1708.1 401 L1708.2 385.3 L1709.3 387.4 L1715.8 387.4 L1716.2 399.2 L1723.5 405.7 L1724.3 401 L1724.5 385.3 L1725.5 387.4 L1732 387.4 L1732.4 399.2 L1739.7 405.7 L1740.5 401 L1740.7 385.3 L1741.7 387.4 L1748.2 387.4 L1748.6 399.2 L1755.9 405.7 L1756.7 401 L1756.9 385.3 L1758 387.4 L1764.4 387.4 L1764.9 399.2 L1772.2 405.7 L1773 401 L1773.1 385.3 L1774.2 387.4 L1780.7 387.4 L1781.1 399.2 L1788.4 405.7 L1789.2 401 L1789.4 385.3 L1790.4 387.4 L1796.9 387.4 L1797.3 399.2 L1804.6 405.7 L1805.4 401 L1805.6 385.3 L1806.6 387.4 L1813.1 387.4 L1813.5 399.2 L1820.8 405.7 L1821.6 401 L1821.8 385.3 L1822.9 387.4 L1829.3 387.4 L1829.7 399.2 L1837 405.7 L1837.9 401 L1838 385.3 L1839.1 387.4 L1845.6 387.4 L1846 399.2 L1853.3 405.7 L1854.1 406.7 L1854.1 393.1 L1854.8 393.1 L1855.6 393.1 L1856.4 393 L1857.1 393 L1857.9 392.9 L1858.7 392.9 L1859.4 392.9 L1860.2 392.8 L1860.9 392.8 L1861.7 392.7 L1862.5 392.7 L1863.2 392.6 L1864 392.6 L1864.8 392.6 L1865.5 392.5 L1866.3 392.5 L1867 392.4 L1867.8 392.4 L1868.6 392.4 L1869.3 392.3 L1870.1 392.3 L1870.8 392.2 L1871.6 392.2 L1872.4 392.2 L1873.1 392.1 L1873.9 392.1 L1874.7 392 L1875.4 392 L1876.2 392 L1876.9 391.9 L1877.7 391.9 L1878.5 391.8 L1879.2 391.8 L1880 391.8 L1880.8 391.7 L1881.5 391.7 L1882.3 391.6 L1883 391.6 L1883.8 391.6 L1884.6 391.5 L1885.3 391.5 L1886.1 391.4 L1886.8 391.4 L1887.6 391.4 L1888.4 391.3 L1889.1 391.3 L1889.9 391.2 L1890.7 391.2 L1891.4 391.2 L1892.2 391.1 L1892.9 391.1 L1893.7 391 L1894.5 391 L1895.2 391 L1896 390.9 L1896.8 390.9 L1897.5 390.8 L1898.3 390.8 L1899 390.7 L1899.8 390.7 L1900.6 390.7 L1901.3 390.6 L1902.1 390.6 L1902.9 390.5 L1903.6 390.5 L1904.4 390.4 L1905.1 390.4 L1905.9 390.4 L1906.7 390.3 L1907.4 390.3 L1908.2 390.2 L1908.9 390.2 L1909.7 390.1 L1910.5 390 L1911.2 390 L1912 389.9 L1912.8 389.9 L1913.5 389.8 L1914.3 389.7 L1915 389.6 L1915.8 389.5 L1916.6 389.4 L1917.3 389.3 L1918.1 389.1 L1918.9 388.9 L1919.6 388.7 L1920.4 388.5 L1921.1 388.2 L1921.9 387.9 L1922.7 387.5 L1923.4 387.1 L1924.2 386.5 L1924.9 385.9 L1925.7 385.1 L1926.5 384.2 L1927.2 383.1 L1928 381.8 L1928.8 380.3 L1929.5 378.4 L1929.5 381.7 L1929.6 381.7 L1929.7 381.6 L1929.8 381.3 L1929.9 380.7 L1930 379.8 L1930.1 378.5 L1930.2 376.6 L1930.3 374.2 L1930.4 371 L1930.5 367 L1930.6 362.1 L1930.7 356.3 L1930.8 349.4 L1930.9 341.4 L1931 332.1 L1931.1 321.5 L1931.2 309.5 L1931.3 296 L1931.4 280.9 L1931.5 264.2 L1931.6 245.7 L1931.7 225.3 L1931.8 203 L1931.9 178.6 L1932 152.2 L1932.1 123.5 L1932.2 92.6 L1932.3 59.3 L1932.4 23.5 L1932.4 -33.8" stroke="#fb6318" stroke-width="3.4" fill="none" stroke-linejoin="round" />
</g>
<rect x="1446.8" y="37.8" width="497.5" height="400.2" fill="none" stroke="#000" stroke-width="2" />
<line x1="1446.8" y1="396" x2="1437.3" y2="396" stroke="#000" stroke-width="2" />
<line x1="1446.8" y1="216.9" x2="1437.3" y2="216.9" stroke="#000" stroke-width="2" />
<line x1="1446.8" y1="37.8" x2="1437.3" y2="37.8" stroke="#000" stroke-width="2" />
<line x1="1446.8" y1="306.4" x2="1441.8" y2="306.4" stroke="#000" stroke-width="2" />
<line x1="1446.8" y1="127.4" x2="1441.8" y2="127.4" stroke="#000" stroke-width="2" />
<line x1="1448.5" y1="438" x2="1448.5" y2="447.5" stroke="#000" stroke-width="2" />
<line x1="1529.6" y1="438" x2="1529.6" y2="447.5" stroke="#000" stroke-width="2" />
<line x1="1610.7" y1="438" x2="1610.7" y2="447.5" stroke="#000" stroke-width="2" />
<line x1="1691.8" y1="438" x2="1691.8" y2="447.5" stroke="#000" stroke-width="2" />
<line x1="1773" y1="438" x2="1773" y2="447.5" stroke="#000" stroke-width="2" />
<line x1="1854.1" y1="438" x2="1854.1" y2="447.5" stroke="#000" stroke-width="2" />
<line x1="1935.2" y1="438" x2="1935.2" y2="447.5" stroke="#000" stroke-width="2" />
<line x1="1489.1" y1="438" x2="1489.1" y2="443" stroke="#000" stroke-width="2" />
<line x1="1570.2" y1="438" x2="1570.2" y2="443" stroke="#000" stroke-width="2" />
<line x1="1651.3" y1="438" x2="1651.3" y2="443" stroke="#000" stroke-width="2" />
<line x1="1732.4" y1="438" x2="1732.4" y2="443" stroke="#000" stroke-width="2" />
<line x1="1813.5" y1="438" x2="1813.5" y2="443" stroke="#000" stroke-width="2" />
<line x1="1894.6" y1="438" x2="1894.6" y2="443" stroke="#000" stroke-width="2" />
<text x="1448.5" y="472.2" font-size="26.5" text-anchor="middle" fill="#000" font-family='"Liberation Sans", Arial, sans-serif' transform="translate(1448.5 472.2) scale(1 1.09) translate(-1448.5 -472.2)" >0</text>
<text x="1529.6" y="472.2" font-size="26.5" text-anchor="middle" fill="#000" font-family='"Liberation Sans", Arial, sans-serif' transform="translate(1529.6 472.2) scale(1 1.09) translate(-1529.6 -472.2)" >10</text>
<text x="1610.7" y="472.2" font-size="26.5" text-anchor="middle" fill="#000" font-family='"Liberation Sans", Arial, sans-serif' transform="translate(1610.7 472.2) scale(1 1.09) translate(-1610.7 -472.2)" >20</text>
<text x="1691.8" y="472.2" font-size="26.5" text-anchor="middle" fill="#000" font-family='"Liberation Sans", Arial, sans-serif' transform="translate(1691.8 472.2) scale(1 1.09) translate(-1691.8 -472.2)" >30</text>
<text x="1773" y="472.2" font-size="26.5" text-anchor="middle" fill="#000" font-family='"Liberation Sans", Arial, sans-serif' transform="translate(1773 472.2) scale(1 1.09) translate(-1773 -472.2)" >40</text>
<text x="1854.1" y="472.2" font-size="26.5" text-anchor="middle" fill="#000" font-family='"Liberation Sans", Arial, sans-serif' transform="translate(1854.1 472.2) scale(1 1.09) translate(-1854.1 -472.2)" >50</text>
<text x="1935.2" y="472.2" font-size="26.5" text-anchor="middle" fill="#000" font-family='"Liberation Sans", Arial, sans-serif' transform="translate(1935.2 472.2) scale(1 1.09) translate(-1935.2 -472.2)" >60</text>
<text x="1431.5" y="47.3" font-size="26.5" text-anchor="end" fill="#000" font-family='"Liberation Sans", Arial, sans-serif' transform="translate(1431.5 47.3) scale(1 1.09) translate(-1431.5 -47.3)" >1.0</text>
<text x="1431.5" y="226.4" font-size="26.5" text-anchor="end" fill="#000" font-family='"Liberation Sans", Arial, sans-serif' transform="translate(1431.5 226.4) scale(1 1.09) translate(-1431.5 -226.4)" >0.5</text>
<text x="1431.5" y="405.5" font-size="26.5" text-anchor="end" fill="#000" font-family='"Liberation Sans", Arial, sans-serif' transform="translate(1431.5 405.5) scale(1 1.09) translate(-1431.5 -405.5)" >0.0</text>
<text x="1385" y="239" font-size="26.5" text-anchor="middle" fill="#000" font-family='"Liberation Sans", Arial, sans-serif' transform="rotate(-90 1385 239) translate(1385 239) scale(1 1.09) translate(-1385 -239)" >Voltage (V)</text>
<text x="1723" y="514" font-size="26.5" text-anchor="middle" fill="#000" font-family='"Liberation Sans", Arial, sans-serif' transform="translate(1723 514) scale(1 1.09) translate(-1723 -514)" >Time (h)</text>
<line x1="1527.3" y1="58.3" x2="1577.7" y2="58.3" stroke="#404040" stroke-width="2.9" stroke-linecap="round"/>
<text x="1582.5" y="67.6" font-size="26.5" fill="#000" font-family='"Liberation Sans", Arial, sans-serif' transform="translate(1582.5 67.6) scale(1 1.09) translate(-1582.5 -67.6)" >1 M LiFSI in DME</text>
<line x1="1527.3" y1="91.2" x2="1577.7" y2="91.2" stroke="#3f77a9" stroke-width="2.9" stroke-linecap="round"/>
<text x="1582.5" y="100.5" font-size="26.5" fill="#000" font-family='"Liberation Sans", Arial, sans-serif' transform="translate(1582.5 100.5) scale(1 1.09) translate(-1582.5 -100.5)" >1 M LiFSI in DEA</text>
<line x1="1527.3" y1="124.6" x2="1577.7" y2="124.6" stroke="#fb6318" stroke-width="2.9" stroke-linecap="round"/>
<text x="1582.5" y="133.9" font-size="26.5" fill="#000" font-family='"Liberation Sans", Arial, sans-serif' transform="translate(1582.5 133.9) scale(1 1.09) translate(-1582.5 -133.9)" >1 M LiFSI in DEA/FB (1:1 v/v)</text>
<text x="1718" y="430.3" font-size="26.5" fill="#000" font-family='"Liberation Sans", Arial, sans-serif' transform="translate(1718 430.3) scale(1 1.09) translate(-1718 -430.3)" >25 <tspan font-family='"DejaVu Serif", serif' font-size="23.9">℃</tspan></text>
<text x="1812" y="430.3" font-size="26.5" fill="#000" font-family='"Liberation Sans", Arial, sans-serif' transform="translate(1812 430.3) scale(1 1.09) translate(-1812 -430.3)" >1 mA cm<tspan dy="-10" font-size="17">-2</tspan></text>
<rect x="1675.1" y="155.4" width="231.5" height="189.2" fill="#fff" stroke="none" stroke-width="0" />
<g clip-path="url(#clipbi)">
<path d="M1675.1 313.7 L1675.6 313.7 L1676.1 313.7 L1676.5 313.7 L1677 313.7 L1677.5 313.7 L1678 313.7 L1678.5 313.7 L1679 313.6 L1679.4 313.6 L1679.9 313.6 L1680.4 313.6 L1680.9 313.6 L1681.4 313.6 L1681.8 313.6 L1682.3 313.6 L1682.8 313.6 L1683.3 313.6 L1683.8 313.6 L1684.3 313.6 L1684.7 313.6 L1685.2 313.6 L1685.7 313.6 L1686.2 313.5 L1686.7 313.5 L1687.1 313.5 L1687.6 313.5 L1688.1 313.5 L1688.6 313.5 L1689.1 313.5 L1689.5 313.5 L1690 313.5 L1690.5 313.5 L1691 313.5 L1691.5 313.5 L1692 313.5 L1692.4 313.5 L1692.9 313.5 L1693.4 313.4 L1693.9 313.4 L1694.4 313.4 L1694.8 313.4 L1695.3 313.4 L1695.8 313.4 L1696.3 313.4 L1696.8 313.4 L1697.3 313.4 L1697.7 313.4 L1698.2 313.4 L1698.7 313.4 L1699.2 313.4 L1699.7 313.4 L1700.1 313.4 L1700.6 313.3 L1701.1 313.3 L1701.6 313.3 L1702.1 313.3 L1702.6 313.3 L1703 313.3 L1703.5 313.3 L1704 313.3 L1704.5 313.3 L1705 313.3 L1705.4 313.3 L1705.9 313.3 L1706.4 313.3 L1706.9 313.3 L1707.4 313.2 L1707.9 313.2 L1708.3 313.2 L1708.8 313.2 L1709.3 313.2 L1709.8 313.2 L1710.3 313.2 L1710.7 313.2 L1711.2 313.2 L1711.7 313.2 L1712.2 313.2 L1712.7 313.2 L1713.1 313.1 L1713.6 313.1 L1714.1 313.1 L1714.6 313.1 L1715.1 313.1 L1715.6 313.1 L1716 313.1 L1716.5 313.1 L1717 313 L1717.5 313 L1718 313 L1718.4 313 L1718.9 313 L1719.4 312.9 L1719.9 312.9 L1720.4 312.9 L1720.9 312.9 L1721.3 312.8 L1721.8 312.8 L1722.3 312.8 L1722.8 312.7 L1723.3 312.7 L1723.7 312.6 L1724.2 312.6 L1724.7 312.5 L1725.2 312.4 L1725.7 312.3 L1726.2 312.3 L1726.6 312.2 L1727.1 312 L1727.6 311.9 L1728.1 311.8 L1728.6 311.6 L1729 311.5 L1729.5 311.3 L1730 311.1 L1730.5 310.8 L1731 310.6 L1731.5 310.3 L1731.9 310 L1732.4 309.6 L1732.9 309.2 L1733.4 308.7 L1733.9 308.2 L1734.3 307.6 L1734.8 306.9 L1735.3 306.2 L1735.8 305.4 L1736.3 304.5 L1736.8 303.4 L1737.2 302.3 L1737.7 301 L1738.2 299.5 L1738.7 297.9 L1739.2 296 L1739.6 294 L1740.1 291.7 L1740.6 289.1 L1741.1 286.2 L1741.6 282.9 L1742 279.2 L1742.5 275.1 L1743 270.5 L1743.5 265.3 L1744 259.5 L1744.5 252.9 L1744.9 245.6 L1745.4 237.4 L1745.9 228.1 L1746.4 217.8 L1746.9 206.1" stroke="#404040" stroke-width="2.4" fill="none" stroke-linejoin="round" />
<path d="M1675.1 313.7 L1676 313.7 L1676.9 313.7 L1677.8 313.7 L1678.6 313.7 L1679.5 313.6 L1680.4 313.6 L1681.3 313.6 L1682.2 313.6 L1683.1 313.6 L1684 313.6 L1684.8 313.6 L1685.7 313.6 L1686.6 313.5 L1687.5 313.5 L1688.4 313.5 L1689.3 313.5 L1690.2 313.5 L1691 313.5 L1691.9 313.5 L1692.8 313.5 L1693.7 313.4 L1694.6 313.4 L1695.5 313.4 L1696.4 313.4 L1697.2 313.4 L1698.1 313.4 L1699 313.4 L1699.9 313.4 L1700.8 313.3 L1701.7 313.3 L1702.6 313.3 L1703.4 313.3 L1704.3 313.3 L1705.2 313.3 L1706.1 313.3 L1707 313.3 L1707.9 313.2 L1708.8 313.2 L1709.6 313.2 L1710.5 313.2 L1711.4 313.2 L1712.3 313.2 L1713.2 313.2 L1714.1 313.2 L1715 313.2 L1715.8 313.1 L1716.7 313.1 L1717.6 313.1 L1718.5 313.1 L1719.4 313.1 L1720.3 313.1 L1721.2 313.1 L1722 313.1 L1722.9 313 L1723.8 313 L1724.7 313 L1725.6 313 L1726.5 313 L1727.4 313 L1728.2 313 L1729.1 313 L1730 312.9 L1730.9 312.9 L1731.8 312.9 L1732.7 312.9 L1733.5 312.9 L1734.4 312.9 L1735.3 312.9 L1736.2 312.9 L1737.1 312.8 L1738 312.8 L1738.9 312.8 L1739.7 312.8 L1740.6 312.8 L1741.5 312.8 L1742.4 312.8 L1743.3 312.7 L1744.2 312.7 L1745.1 312.7 L1745.9 312.7 L1746.8 312.7 L1747.7 312.7 L1748.6 312.7 L1749.5 312.6 L1750.4 312.6 L1751.3 312.6 L1752.1 312.6 L1753 312.6 L1753.9 312.6 L1754.8 312.5 L1755.7 312.5 L1756.6 312.5 L1757.5 312.5 L1758.3 312.5 L1759.2 312.4 L1760.1 312.4 L1761 312.4 L1761.9 312.3 L1762.8 312.3 L1763.7 312.3 L1764.5 312.2 L1765.4 312.2 L1766.3 312.1 L1767.2 312.1 L1768.1 312 L1769 312 L1769.9 311.9 L1770.7 311.8 L1771.6 311.7 L1772.5 311.6 L1773.4 311.5 L1774.3 311.4 L1775.2 311.2 L1776.1 311.1 L1776.9 310.9 L1777.8 310.7 L1778.7 310.5 L1779.6 310.2 L1780.5 309.9 L1781.4 309.6 L1782.3 309.2 L1783.1 308.8 L1784 308.3 L1784.9 307.8 L1785.8 307.2 L1786.7 306.5 L1787.6 305.7 L1788.5 304.8 L1789.3 303.8 L1790.2 302.7 L1791.1 301.4 L1792 299.9 L1792.9 298.2 L1793.8 296.3 L1794.7 294.2 L1795.5 291.7 L1796.4 288.9 L1797.3 285.8 L1798.2 282.2 L1799.1 278.2 L1800 273.5 L1800.9 268.3 L1801.7 262.4 L1802.6 255.6 L1803.5 247.9 L1804.4 239.2 L1805.3 229.3 L1806.2 218.1 L1807.1 205.3" stroke="#3f77a9" stroke-width="2.4" fill="none" stroke-linejoin="round" />
<path d="M1675.1 313.7 L1676.2 313.7 L1677.4 313.7 L1678.5 313.7 L1679.6 313.6 L1680.7 313.6 L1681.9 313.6 L1683 313.6 L1684.1 313.6 L1685.2 313.6 L1686.4 313.5 L1687.5 313.5 L1688.6 313.5 L1689.7 313.5 L1690.9 313.5 L1692 313.5 L1693.1 313.5 L1694.2 313.4 L1695.4 313.4 L1696.5 313.4 L1697.6 313.4 L1698.8 313.4 L1699.9 313.4 L1701 313.3 L1702.1 313.3 L1703.3 313.3 L1704.4 313.3 L1705.5 313.3 L1706.6 313.3 L1707.8 313.2 L1708.9 313.2 L1710 313.2 L1711.1 313.2 L1712.3 313.2 L1713.4 313.2 L1714.5 313.2 L1715.7 313.1 L1716.8 313.1 L1717.9 313.1 L1719 313.1 L1720.2 313.1 L1721.3 313.1 L1722.4 313 L1723.5 313 L1724.7 313 L1725.8 313 L1726.9 313 L1728 313 L1729.2 313 L1730.3 312.9 L1731.4 312.9 L1732.5 312.9 L1733.7 312.9 L1734.8 312.9 L1735.9 312.9 L1737.1 312.8 L1738.2 312.8 L1739.3 312.8 L1740.4 312.8 L1741.6 312.8 L1742.7 312.8 L1743.8 312.8 L1744.9 312.7 L1746.1 312.7 L1747.2 312.7 L1748.3 312.7 L1749.4 312.7 L1750.6 312.7 L1751.7 312.6 L1752.8 312.6 L1753.9 312.6 L1755.1 312.6 L1756.2 312.6 L1757.3 312.6 L1758.5 312.5 L1759.6 312.5 L1760.7 312.5 L1761.8 312.5 L1763 312.5 L1764.1 312.5 L1765.2 312.5 L1766.3 312.4 L1767.5 312.4 L1768.6 312.4 L1769.7 312.4 L1770.8 312.4 L1772 312.4 L1773.1 312.3 L1774.2 312.3 L1775.4 312.3 L1776.5 312.3 L1777.6 312.3 L1778.7 312.3 L1779.9 312.3 L1781 312.2 L1782.1 312.2 L1783.2 312.2 L1784.4 312.2 L1785.5 312.2 L1786.6 312.2 L1787.7 312.1 L1788.9 312.1 L1790 312.1 L1791.1 312.1 L1792.2 312.1 L1793.4 312.1 L1794.5 312.1 L1795.6 312 L1796.8 312 L1797.9 312 L1799 312 L1800.1 312 L1801.3 312 L1802.4 311.9 L1803.5 311.9 L1804.6 311.9 L1805.8 311.9 L1806.9 311.9 L1808 311.9 L1809.1 311.8 L1810.3 311.8 L1811.4 311.8 L1812.5 311.8 L1813.7 311.8 L1814.8 311.8 L1815.9 311.8 L1817 311.7 L1818.2 311.7 L1819.3 311.7 L1820.4 311.7 L1821.5 311.7 L1822.7 311.6 L1823.8 311.6 L1824.9 311.5 L1826 311.5 L1827.2 311.4 L1828.3 311.2 L1829.4 311 L1830.5 310.7 L1831.7 310.3 L1832.8 309.5 L1833.9 308.4 L1835.1 306.7 L1836.2 304 L1837.3 299.8 L1838.4 293.3 L1839.6 283.2 L1840.7 267.4 L1841.8 242.9 L1842.9 204.8" stroke="#fb6318" stroke-width="2.4" fill="none" stroke-linejoin="round" />
</g>
<rect x="1675.1" y="155.4" width="231.5" height="189.2" fill="none" stroke="#000" stroke-width="1.6" />
<line x1="1675.1" y1="315.3" x2="1670.1" y2="315.3" stroke="#000" stroke-width="1.6" />
<line x1="1675.1" y1="262" x2="1670.1" y2="262" stroke="#000" stroke-width="1.6" />
<line x1="1675.1" y1="208.7" x2="1670.1" y2="208.7" stroke="#000" stroke-width="1.6" />
<line x1="1675.1" y1="155.4" x2="1670.1" y2="155.4" stroke="#000" stroke-width="1.6" />
<line x1="1675.1" y1="288.7" x2="1672.1" y2="288.7" stroke="#000" stroke-width="1.6" />
<line x1="1675.1" y1="235.4" x2="1672.1" y2="235.4" stroke="#000" stroke-width="1.6" />
<line x1="1675.1" y1="182.1" x2="1672.1" y2="182.1" stroke="#000" stroke-width="1.6" />
<line x1="1675.1" y1="344.6" x2="1675.1" y2="349.6" stroke="#000" stroke-width="1.6" />
<line x1="1790.8" y1="344.6" x2="1790.8" y2="349.6" stroke="#000" stroke-width="1.6" />
<line x1="1906.6" y1="344.6" x2="1906.6" y2="349.6" stroke="#000" stroke-width="1.6" />
<line x1="1733" y1="344.6" x2="1733" y2="347.6" stroke="#000" stroke-width="1.6" />
<line x1="1848.7" y1="344.6" x2="1848.7" y2="347.6" stroke="#000" stroke-width="1.6" />
<text x="1675.1" y="366.5" font-size="19" text-anchor="middle" fill="#000" font-family='"Liberation Sans", Arial, sans-serif' transform="translate(1675.1 366.5) scale(1 1.09) translate(-1675.1 -366.5)" >59.0</text>
<text x="1790.8" y="366.5" font-size="19" text-anchor="middle" fill="#000" font-family='"Liberation Sans", Arial, sans-serif' transform="translate(1790.8 366.5) scale(1 1.09) translate(-1790.8 -366.5)" >59.5</text>
<text x="1906.6" y="366.5" font-size="19" text-anchor="middle" fill="#000" font-family='"Liberation Sans", Arial, sans-serif' transform="translate(1906.6 366.5) scale(1 1.09) translate(-1906.6 -366.5)" >60.0</text>
<text x="1668" y="322.1" font-size="19" text-anchor="end" fill="#000" font-family='"Liberation Sans", Arial, sans-serif' transform="translate(1668 322.1) scale(1 1.09) translate(-1668 -322.1)" >0.0</text>
<text x="1668" y="268.8" font-size="19" text-anchor="end" fill="#000" font-family='"Liberation Sans", Arial, sans-serif' transform="translate(1668 268.8) scale(1 1.09) translate(-1668 -268.8)" >0.5</text>
<text x="1668" y="215.5" font-size="19" text-anchor="end" fill="#000" font-family='"Liberation Sans", Arial, sans-serif' transform="translate(1668 215.5) scale(1 1.09) translate(-1668 -215.5)" >1.0</text>
<text x="1668" y="162.2" font-size="19" text-anchor="end" fill="#000" font-family='"Liberation Sans", Arial, sans-serif' transform="translate(1668 162.2) scale(1 1.09) translate(-1668 -162.2)" >1.5</text>
<text x="1634.5" y="249" font-size="19" text-anchor="middle" fill="#000" font-family='"Liberation Sans", Arial, sans-serif' transform="rotate(-90 1634.5 249) translate(1634.5 249) scale(1 1.09) translate(-1634.5 -249)" >Voltage (V)</text>
<text x="1791" y="382.7" font-size="19" text-anchor="middle" fill="#000" font-family='"Liberation Sans", Arial, sans-serif' transform="translate(1791 382.7) scale(1 1.09) translate(-1791 -382.7)" >Time (h)</text>
<text x="1697" y="205.6" font-size="19.5" fill="#000" font-family='"Liberation Sans", Arial, sans-serif' transform="translate(1697 205.6) scale(1 1.09) translate(-1697 -205.6)" >98.32%</text>
<text x="1766.7" y="205.6" font-size="19.5" fill="#3f77a9" font-family='"Liberation Sans", Arial, sans-serif' transform="translate(1766.7 205.6) scale(1 1.09) translate(-1766.7 -205.6)" >98.93%</text>
<text x="1836.2" y="205.6" font-size="19.5" fill="#fb6318" font-family='"Liberation Sans", Arial, sans-serif' transform="translate(1836.2 205.6) scale(1 1.09) translate(-1836.2 -205.6)" >99.43%</text>
<text x="15.5" y="551" font-size="45" font-weight="bold" fill="#000" font-family='"Liberation Sans", Arial, sans-serif' transform="translate(15.5 551) scale(1 1.03) translate(-15.5 -551)" >c</text>
<g clip-path="url(#clipc)">
<g fill="url(#gO)"><circle cx="108.3" cy="638.3" r="7.9"/><circle cx="109.8" cy="636.9" r="7.9"/><circle cx="111.3" cy="637.9" r="7.9"/><circle cx="112.8" cy="638.6" r="7.9"/><circle cx="114.4" cy="639" r="7.9"/><circle cx="115.9" cy="640.1" r="7.9"/><circle cx="117.4" cy="639.4" r="7.9"/><circle cx="118.9" cy="638.6" r="7.9"/><circle cx="120.4" cy="639.8" r="7.9"/><circle cx="121.9" cy="639.9" r="7.9"/><circle cx="123.4" cy="639.1" r="7.9"/><circle cx="124.9" cy="639.2" r="7.9"/><circle cx="126.5" cy="639.4" r="7.9"/><circle cx="128" cy="640.1" r="7.9"/><circle cx="129.5" cy="639.5" r="7.9"/><circle cx="131" cy="639" r="7.9"/><circle cx="132.5" cy="640.4" r="7.9"/><circle cx="134" cy="639.8" r="7.9"/><circle cx="135.5" cy="640.8" r="7.9"/><circle cx="137.1" cy="640.3" r="7.9"/><circle cx="138.6" cy="640.7" r="7.9"/><circle cx="140.1" cy="639.6" r="7.9"/><circle cx="141.6" cy="640.3" r="7.9"/><circle cx="143.1" cy="639.3" r="7.9"/><circle cx="144.6" cy="639.4" r="7.9"/><circle cx="146.1" cy="639.6" r="7.9"/><circle cx="147.6" cy="641.2" r="7.9"/><circle cx="149.2" cy="639.8" r="7.9"/><circle cx="150.7" cy="639.5" r="7.9"/><circle cx="152.2" cy="639.4" r="7.9"/><circle cx="153.7" cy="640.5" r="7.9"/><circle cx="155.2" cy="639.8" r="7.9"/><circle cx="156.7" cy="640.1" r="7.9"/><circle cx="158.2" cy="640" r="7.9"/><circle cx="159.7" cy="638.7" r="7.9"/><circle cx="161.2" cy="640" r="7.9"/><circle cx="162.8" cy="639.5" r="7.9"/><circle cx="164.3" cy="638.9" r="7.9"/><circle cx="165.8" cy="639.9" r="7.9"/><circle cx="167.3" cy="639.5" r="7.9"/><circle cx="168.8" cy="639.4" r="7.9"/><circle cx="170.3" cy="639.4" r="7.9"/><circle cx="171.8" cy="640.3" r="7.9"/><circle cx="173.3" cy="639.4" r="7.9"/><circle cx="174.9" cy="638.5" r="7.9"/><circle cx="176.4" cy="640.5" r="7.9"/><circle cx="177.9" cy="638.9" r="7.9"/><circle cx="179.4" cy="639.4" r="7.9"/><circle cx="180.9" cy="639.9" r="7.9"/><circle cx="182.4" cy="638.1" r="7.9"/><circle cx="183.9" cy="639" r="7.9"/><circle cx="185.4" cy="640.3" r="7.9"/><circle cx="187" cy="639.4" r="7.9"/><circle cx="188.5" cy="639.1" r="7.9"/><circle cx="190" cy="639.6" r="7.9"/><circle cx="191.5" cy="639" r="7.9"/><circle cx="193" cy="639.5" r="7.9"/><circle cx="194.5" cy="639" r="7.9"/><circle cx="196" cy="638.5" r="7.9"/><circle cx="197.6" cy="639.9" r="7.9"/><circle cx="199.1" cy="639.3" r="7.9"/><circle cx="200.6" cy="639.8" r="7.9"/><circle cx="202.1" cy="639.4" r="7.9"/><circle cx="203.6" cy="640.3" r="7.9"/><circle cx="205.1" cy="639.9" r="7.9"/><circle cx="206.6" cy="639.6" r="7.9"/><circle cx="208.1" cy="638.9" r="7.9"/><circle cx="209.6" cy="638.7" r="7.9"/><circle cx="211.2" cy="640.4" r="7.9"/><circle cx="212.7" cy="640" r="7.9"/><circle cx="214.2" cy="639" r="7.9"/><circle cx="215.7" cy="640.8" r="7.9"/><circle cx="217.2" cy="639.8" r="7.9"/><circle cx="218.7" cy="639.5" r="7.9"/><circle cx="220.2" cy="638.6" r="7.9"/><circle cx="221.8" cy="639" r="7.9"/><circle cx="223.3" cy="639.7" r="7.9"/><circle cx="224.8" cy="639.7" r="7.9"/><circle cx="226.3" cy="639.6" r="7.9"/><circle cx="227.8" cy="638.4" r="7.9"/><circle cx="229.3" cy="639.8" r="7.9"/><circle cx="230.8" cy="639.7" r="7.9"/><circle cx="232.3" cy="639.2" r="7.9"/><circle cx="233.8" cy="639.6" r="7.9"/><circle cx="235.4" cy="639.6" r="7.9"/><circle cx="236.9" cy="640.2" r="7.9"/><circle cx="238.4" cy="639.5" r="7.9"/><circle cx="239.9" cy="639.8" r="7.9"/><circle cx="241.4" cy="638.7" r="7.9"/><circle cx="242.9" cy="639" r="7.9"/><circle cx="244.4" cy="639.5" r="7.9"/><circle cx="245.9" cy="639" r="7.9"/><circle cx="247.5" cy="639.7" r="7.9"/><circle cx="249" cy="638.8" r="7.9"/><circle cx="250.5" cy="639.5" r="7.9"/><circle cx="252" cy="639.1" r="7.9"/><circle cx="253.5" cy="640.3" r="7.9"/><circle cx="255" cy="639.2" r="7.9"/><circle cx="256.5" cy="640.6" r="7.9"/><circle cx="258.1" cy="640.9" r="7.9"/><circle cx="259.6" cy="639.7" r="7.9"/><circle cx="261.1" cy="640.1" r="7.9"/><circle cx="262.6" cy="639.4" r="7.9"/><circle cx="264.1" cy="637.9" r="7.9"/><circle cx="265.6" cy="640" r="7.9"/><circle cx="267.1" cy="639.9" r="7.9"/><circle cx="268.6" cy="639.3" r="7.9"/><circle cx="270.1" cy="639.1" r="7.9"/><circle cx="271.7" cy="639.6" r="7.9"/><circle cx="273.2" cy="639.6" r="7.9"/><circle cx="274.7" cy="639" r="7.9"/><circle cx="276.2" cy="639.1" r="7.9"/><circle cx="277.7" cy="640.2" r="7.9"/><circle cx="279.2" cy="639.5" r="7.9"/><circle cx="280.7" cy="639.4" r="7.9"/><circle cx="282.2" cy="640.2" r="7.9"/><circle cx="283.8" cy="639.3" r="7.9"/><circle cx="285.3" cy="640.1" r="7.9"/><circle cx="286.8" cy="638.8" r="7.9"/><circle cx="288.3" cy="639.3" r="7.9"/><circle cx="289.8" cy="639.4" r="7.9"/><circle cx="291.3" cy="639.9" r="7.9"/><circle cx="292.8" cy="639.6" r="7.9"/><circle cx="294.4" cy="640.8" r="7.9"/><circle cx="295.9" cy="640.2" r="7.9"/><circle cx="297.4" cy="639.2" r="7.9"/><circle cx="298.9" cy="640.9" r="7.9"/><circle cx="300.4" cy="638.9" r="7.9"/><circle cx="301.9" cy="640.7" r="7.9"/><circle cx="303.4" cy="639" r="7.9"/><circle cx="304.9" cy="640" r="7.9"/><circle cx="306.4" cy="638.9" r="7.9"/><circle cx="308" cy="639.4" r="7.9"/><circle cx="309.5" cy="640.5" r="7.9"/><circle cx="311" cy="638.6" r="7.9"/><circle cx="312.5" cy="638.5" r="7.9"/><circle cx="314" cy="639.5" r="7.9"/><circle cx="315.5" cy="639.7" r="7.9"/><circle cx="317" cy="639.6" r="7.9"/><circle cx="318.6" cy="640.1" r="7.9"/><circle cx="320.1" cy="638.7" r="7.9"/><circle cx="321.6" cy="639.8" r="7.9"/><circle cx="323.1" cy="639.5" r="7.9"/><circle cx="324.6" cy="640" r="7.9"/><circle cx="326.1" cy="639.9" r="7.9"/><circle cx="327.6" cy="640.3" r="7.9"/><circle cx="329.1" cy="638.6" r="7.9"/><circle cx="330.6" cy="639.6" r="7.9"/><circle cx="332.2" cy="638.8" r="7.9"/><circle cx="333.7" cy="639.5" r="7.9"/><circle cx="335.2" cy="639.9" r="7.9"/><circle cx="336.7" cy="639.7" r="7.9"/><circle cx="338.2" cy="639.9" r="7.9"/><circle cx="339.7" cy="639.5" r="7.9"/><circle cx="341.2" cy="639.7" r="7.9"/><circle cx="342.8" cy="639.7" r="7.9"/><circle cx="344.3" cy="640.4" r="7.9"/><circle cx="345.8" cy="640" r="7.9"/><circle cx="347.3" cy="638.3" r="7.9"/><circle cx="348.8" cy="639.9" r="7.9"/><circle cx="350.3" cy="640.2" r="7.9"/><circle cx="351.8" cy="639.2" r="7.9"/><circle cx="353.3" cy="638.5" r="7.9"/><circle cx="354.9" cy="640.5" r="7.9"/><circle cx="356.4" cy="639.6" r="7.9"/><circle cx="357.9" cy="639.9" r="7.9"/><circle cx="359.4" cy="640.7" r="7.9"/><circle cx="360.9" cy="639" r="7.9"/><circle cx="362.4" cy="639.5" r="7.9"/><circle cx="363.9" cy="639.4" r="7.9"/><circle cx="365.4" cy="640" r="7.9"/><circle cx="366.9" cy="639.2" r="7.9"/><circle cx="368.5" cy="639.8" r="7.9"/><circle cx="370" cy="639.6" r="7.9"/><circle cx="371.5" cy="640.2" r="7.9"/><circle cx="373" cy="640.3" r="7.9"/><circle cx="374.5" cy="638.6" r="7.9"/><circle cx="376" cy="639.8" r="7.9"/><circle cx="377.5" cy="639.3" r="7.9"/><circle cx="379.1" cy="639.5" r="7.9"/><circle cx="380.6" cy="639.8" r="7.9"/><circle cx="382.1" cy="639.8" r="7.9"/><circle cx="383.6" cy="639" r="7.9"/><circle cx="385.1" cy="639.7" r="7.9"/><circle cx="386.6" cy="639.6" r="7.9"/><circle cx="388.1" cy="639.5" r="7.9"/><circle cx="389.6" cy="638.7" r="7.9"/><circle cx="391.2" cy="639" r="7.9"/><circle cx="392.7" cy="639.2" r="7.9"/><circle cx="394.2" cy="639.9" r="7.9"/><circle cx="395.7" cy="640.4" r="7.9"/><circle cx="397.2" cy="638.8" r="7.9"/><circle cx="398.7" cy="638.8" r="7.9"/><circle cx="400.2" cy="639.6" r="7.9"/><circle cx="401.7" cy="639.1" r="7.9"/><circle cx="403.2" cy="638.9" r="7.9"/><circle cx="404.8" cy="638.9" r="7.9"/><circle cx="406.3" cy="638.8" r="7.9"/><circle cx="407.8" cy="639.8" r="7.9"/><circle cx="409.3" cy="638.4" r="7.9"/><circle cx="410.8" cy="640.3" r="7.9"/><circle cx="412.3" cy="638.9" r="7.9"/><circle cx="413.8" cy="639.1" r="7.9"/><circle cx="415.4" cy="638.9" r="7.9"/><circle cx="416.9" cy="638.2" r="7.9"/><circle cx="418.4" cy="638.5" r="7.9"/><circle cx="419.9" cy="640.2" r="7.9"/><circle cx="421.4" cy="640.6" r="7.9"/><circle cx="422.9" cy="638.9" r="7.9"/><circle cx="424.4" cy="640.2" r="7.9"/><circle cx="425.9" cy="639.5" r="7.9"/><circle cx="427.4" cy="638.9" r="7.9"/><circle cx="429" cy="640.6" r="7.9"/><circle cx="430.5" cy="640.9" r="7.9"/><circle cx="432" cy="639.3" r="7.9"/><circle cx="433.5" cy="639.4" r="7.9"/><circle cx="435" cy="639.6" r="7.9"/><circle cx="436.5" cy="639.4" r="7.9"/><circle cx="438" cy="640.1" r="7.9"/><circle cx="439.6" cy="640.5" r="7.9"/><circle cx="441.1" cy="639.6" r="7.9"/><circle cx="442.6" cy="640.1" r="7.9"/><circle cx="444.1" cy="640.6" r="7.9"/><circle cx="445.6" cy="639.1" r="7.9"/><circle cx="447.1" cy="639.5" r="7.9"/><circle cx="448.6" cy="639.2" r="7.9"/><circle cx="450.1" cy="640.1" r="7.9"/><circle cx="451.7" cy="639.9" r="7.9"/><circle cx="453.2" cy="640.1" r="7.9"/><circle cx="454.7" cy="640.1" r="7.9"/><circle cx="456.2" cy="639.3" r="7.9"/><circle cx="457.7" cy="640" r="7.9"/><circle cx="459.2" cy="639.2" r="7.9"/><circle cx="460.7" cy="639.2" r="7.9"/><circle cx="462.2" cy="638.1" r="7.9"/><circle cx="463.8" cy="640.4" r="7.9"/><circle cx="465.3" cy="638.9" r="7.9"/><circle cx="466.8" cy="639.5" r="7.9"/><circle cx="468.3" cy="639.5" r="7.9"/><circle cx="469.8" cy="640.5" r="7.9"/><circle cx="471.3" cy="639.8" r="7.9"/><circle cx="472.8" cy="639" r="7.9"/><circle cx="474.3" cy="639.5" r="7.9"/><circle cx="475.9" cy="639.4" r="7.9"/><circle cx="477.4" cy="639.7" r="7.9"/><circle cx="478.9" cy="638.7" r="7.9"/><circle cx="480.4" cy="639.5" r="7.9"/><circle cx="481.9" cy="641" r="7.9"/><circle cx="483.4" cy="639.9" r="7.9"/><circle cx="484.9" cy="640.8" r="7.9"/><circle cx="486.4" cy="641.7" r="7.9"/><circle cx="487.9" cy="639.8" r="7.9"/><circle cx="489.5" cy="638.6" r="7.9"/><circle cx="491" cy="639.4" r="7.9"/><circle cx="492.5" cy="640.3" r="7.9"/><circle cx="494" cy="640.1" r="7.9"/><circle cx="495.5" cy="638.7" r="7.9"/><circle cx="497" cy="639.4" r="7.9"/><circle cx="498.5" cy="639.4" r="7.9"/><circle cx="500.1" cy="639.5" r="7.9"/><circle cx="501.6" cy="639.4" r="7.9"/><circle cx="503.1" cy="638.9" r="7.9"/><circle cx="504.6" cy="639.1" r="7.9"/><circle cx="506.1" cy="639.3" r="7.9"/><circle cx="507.6" cy="640.2" r="7.9"/><circle cx="509.1" cy="639.1" r="7.9"/><circle cx="510.6" cy="639.9" r="7.9"/><circle cx="512.1" cy="638.7" r="7.9"/><circle cx="513.7" cy="640.3" r="7.9"/><circle cx="515.2" cy="639.6" r="7.9"/><circle cx="516.7" cy="639.5" r="7.9"/><circle cx="518.2" cy="640.4" r="7.9"/><circle cx="519.7" cy="638.3" r="7.9"/><circle cx="521.2" cy="638.5" r="7.9"/><circle cx="522.7" cy="639.8" r="7.9"/><circle cx="524.2" cy="638.9" r="7.9"/><circle cx="525.8" cy="639.2" r="7.9"/><circle cx="527.3" cy="641.2" r="7.9"/><circle cx="528.8" cy="639.3" r="7.9"/><circle cx="530.3" cy="639.5" r="7.9"/><circle cx="531.8" cy="639.4" r="7.9"/><circle cx="533.3" cy="640.2" r="7.9"/><circle cx="534.8" cy="639.7" r="7.9"/><circle cx="536.4" cy="639.6" r="7.9"/><circle cx="537.9" cy="638.7" r="7.9"/><circle cx="539.4" cy="639.2" r="7.9"/><circle cx="540.9" cy="639.5" r="7.9"/><circle cx="542.4" cy="638.4" r="7.9"/><circle cx="543.9" cy="639.8" r="7.9"/><circle cx="545.4" cy="639.7" r="7.9"/><circle cx="546.9" cy="640.7" r="7.9"/><circle cx="548.4" cy="638.4" r="7.9"/><circle cx="550" cy="638.8" r="7.9"/><circle cx="551.5" cy="638.8" r="7.9"/><circle cx="553" cy="639" r="7.9"/><circle cx="554.5" cy="639.4" r="7.9"/><circle cx="556" cy="639.3" r="7.9"/><circle cx="557.5" cy="639.6" r="7.9"/><circle cx="559" cy="639.6" r="7.9"/><circle cx="560.5" cy="639.4" r="7.9"/><circle cx="562.1" cy="638.4" r="7.9"/><circle cx="563.6" cy="639.1" r="7.9"/><circle cx="565.1" cy="639.5" r="7.9"/><circle cx="566.6" cy="639.9" r="7.9"/><circle cx="568.1" cy="639.9" r="7.9"/><circle cx="569.6" cy="638.4" r="7.9"/><circle cx="571.1" cy="639.1" r="7.9"/><circle cx="572.6" cy="639.4" r="7.9"/><circle cx="574.2" cy="639.7" r="7.9"/><circle cx="575.7" cy="640.2" r="7.9"/><circle cx="577.2" cy="639.5" r="7.9"/><circle cx="578.7" cy="638.9" r="7.9"/><circle cx="580.2" cy="639.7" r="7.9"/><circle cx="581.7" cy="639.6" r="7.9"/><circle cx="583.2" cy="639.6" r="7.9"/><circle cx="584.8" cy="639.4" r="7.9"/><circle cx="586.3" cy="640.6" r="7.9"/><circle cx="587.8" cy="639.6" r="7.9"/><circle cx="589.3" cy="640.1" r="7.9"/><circle cx="590.8" cy="638.9" r="7.9"/><circle cx="592.3" cy="640" r="7.9"/><circle cx="593.8" cy="639.1" r="7.9"/><circle cx="595.3" cy="638.4" r="7.9"/><circle cx="596.9" cy="639.7" r="7.9"/><circle cx="598.4" cy="639.9" r="7.9"/><circle cx="599.9" cy="639.3" r="7.9"/><circle cx="601.4" cy="639.5" r="7.9"/><circle cx="602.9" cy="640.1" r="7.9"/><circle cx="604.4" cy="639.2" r="7.9"/><circle cx="605.9" cy="638.1" r="7.9"/><circle cx="607.4" cy="639.6" r="7.9"/><circle cx="608.9" cy="639.6" r="7.9"/><circle cx="610.5" cy="640.2" r="7.9"/><circle cx="612" cy="639.3" r="7.9"/><circle cx="613.5" cy="640.3" r="7.9"/><circle cx="615" cy="640.2" r="7.9"/><circle cx="616.5" cy="638.6" r="7.9"/><circle cx="618" cy="640.1" r="7.9"/><circle cx="619.5" cy="638.7" r="7.9"/><circle cx="621" cy="638.4" r="7.9"/><circle cx="622.6" cy="639.3" r="7.9"/><circle cx="624.1" cy="639.1" r="7.9"/><circle cx="625.6" cy="638.1" r="7.9"/><circle cx="627.1" cy="639.6" r="7.9"/><circle cx="628.6" cy="639.9" r="7.9"/><circle cx="630.1" cy="640.4" r="7.9"/><circle cx="631.6" cy="639.4" r="7.9"/><circle cx="633.1" cy="638.5" r="7.9"/><circle cx="634.7" cy="638.8" r="7.9"/><circle cx="636.2" cy="640.1" r="7.9"/><circle cx="637.7" cy="640.1" r="7.9"/><circle cx="639.2" cy="639.8" r="7.9"/><circle cx="640.7" cy="639.3" r="7.9"/><circle cx="642.2" cy="639.6" r="7.9"/><circle cx="643.7" cy="639.3" r="7.9"/><circle cx="645.2" cy="639.3" r="7.9"/><circle cx="646.8" cy="639.7" r="7.9"/><circle cx="648.3" cy="639.5" r="7.9"/><circle cx="649.8" cy="639.3" r="7.9"/><circle cx="651.3" cy="639.5" r="7.9"/><circle cx="652.8" cy="639.1" r="7.9"/><circle cx="654.3" cy="638.2" r="7.9"/><circle cx="655.8" cy="639.1" r="7.9"/><circle cx="657.3" cy="639.4" r="7.9"/><circle cx="658.9" cy="640.6" r="7.9"/><circle cx="660.4" cy="639.2" r="7.9"/><circle cx="661.9" cy="640.8" r="7.9"/><circle cx="663.4" cy="640.4" r="7.9"/><circle cx="664.9" cy="638.9" r="7.9"/><circle cx="666.4" cy="639" r="7.9"/><circle cx="667.9" cy="639.6" r="7.9"/><circle cx="669.4" cy="640.6" r="7.9"/><circle cx="671" cy="639.7" r="7.9"/><circle cx="672.5" cy="639.9" r="7.9"/><circle cx="674" cy="639" r="7.9"/><circle cx="675.5" cy="637.9" r="7.9"/><circle cx="677" cy="639.3" r="7.9"/><circle cx="678.5" cy="640" r="7.9"/><circle cx="680" cy="640.3" r="7.9"/><circle cx="681.5" cy="639.5" r="7.9"/><circle cx="683.1" cy="639.6" r="7.9"/><circle cx="684.6" cy="640.3" r="7.9"/><circle cx="686.1" cy="639.4" r="7.9"/><circle cx="687.6" cy="640.3" r="7.9"/><circle cx="689.1" cy="638.7" r="7.9"/><circle cx="690.6" cy="638.7" r="7.9"/><circle cx="692.1" cy="638.7" r="7.9"/><circle cx="693.6" cy="639.8" r="7.9"/><circle cx="695.2" cy="639.1" r="7.9"/><circle cx="696.7" cy="639.6" r="7.9"/><circle cx="698.2" cy="639.7" r="7.9"/><circle cx="699.7" cy="639.7" r="7.9"/><circle cx="701.2" cy="640.4" r="7.9"/><circle cx="702.7" cy="640.5" r="7.9"/><circle cx="704.2" cy="638.9" r="7.9"/><circle cx="705.8" cy="639.6" r="7.9"/><circle cx="707.3" cy="639.3" r="7.9"/><circle cx="708.8" cy="638.8" r="7.9"/><circle cx="710.3" cy="640.6" r="7.9"/><circle cx="711.8" cy="640" r="7.9"/><circle cx="713.3" cy="639.4" r="7.9"/><circle cx="714.8" cy="639.2" r="7.9"/><circle cx="716.3" cy="639.7" r="7.9"/><circle cx="717.8" cy="638.8" r="7.9"/><circle cx="719.4" cy="639.3" r="7.9"/><circle cx="720.9" cy="640.3" r="7.9"/><circle cx="722.4" cy="640.1" r="7.9"/><circle cx="723.9" cy="638.9" r="7.9"/><circle cx="725.4" cy="639.2" r="7.9"/><circle cx="726.9" cy="640.8" r="7.9"/><circle cx="728.4" cy="638.6" r="7.9"/><circle cx="729.9" cy="639.1" r="7.9"/><circle cx="731.5" cy="638.6" r="7.9"/><circle cx="733" cy="639.7" r="7.9"/><circle cx="734.5" cy="639.7" r="7.9"/><circle cx="736" cy="640.2" r="7.9"/><circle cx="737.5" cy="637.7" r="7.9"/><circle cx="739" cy="639.6" r="7.9"/><circle cx="740.5" cy="638.4" r="7.9"/><circle cx="742" cy="639.9" r="7.9"/><circle cx="743.6" cy="639.4" r="7.9"/><circle cx="745.1" cy="640.6" r="7.9"/><circle cx="746.6" cy="639.7" r="7.9"/><circle cx="748.1" cy="638.8" r="7.9"/><circle cx="749.6" cy="640.3" r="7.9"/><circle cx="751.1" cy="638.7" r="7.9"/><circle cx="752.6" cy="639.2" r="7.9"/><circle cx="754.1" cy="640.2" r="7.9"/><circle cx="755.7" cy="639.8" r="7.9"/><circle cx="757.2" cy="639.8" r="7.9"/><circle cx="758.7" cy="639.5" r="7.9"/><circle cx="760.2" cy="639.8" r="7.9"/><circle cx="761.7" cy="640" r="7.9"/><circle cx="763.2" cy="639.7" r="7.9"/><circle cx="764.7" cy="640.2" r="7.9"/><circle cx="766.2" cy="640.3" r="7.9"/><circle cx="767.8" cy="639.5" r="7.9"/><circle cx="769.3" cy="638.9" r="7.9"/><circle cx="770.8" cy="640.5" r="7.9"/><circle cx="772.3" cy="639.5" r="7.9"/><circle cx="773.8" cy="639.9" r="7.9"/><circle cx="775.3" cy="640.1" r="7.9"/><circle cx="776.8" cy="638.9" r="7.9"/><circle cx="778.3" cy="639.8" r="7.9"/><circle cx="779.9" cy="638.5" r="7.9"/><circle cx="781.4" cy="640" r="7.9"/><circle cx="782.9" cy="639.2" r="7.9"/><circle cx="784.4" cy="639.6" r="7.9"/><circle cx="785.9" cy="640" r="7.9"/><circle cx="787.4" cy="639.1" r="7.9"/><circle cx="788.9" cy="639.6" r="7.9"/><circle cx="790.4" cy="639.1" r="7.9"/><circle cx="792" cy="639.5" r="7.9"/><circle cx="793.5" cy="640.2" r="7.9"/><circle cx="795" cy="639.5" r="7.9"/><circle cx="796.5" cy="639.4" r="7.9"/><circle cx="798" cy="638.8" r="7.9"/><circle cx="799.5" cy="640.1" r="7.9"/><circle cx="801" cy="639.5" r="7.9"/><circle cx="802.5" cy="640.6" r="7.9"/><circle cx="804.1" cy="639" r="7.9"/><circle cx="805.6" cy="640.2" r="7.9"/><circle cx="807.1" cy="640.7" r="7.9"/><circle cx="808.6" cy="639.5" r="7.9"/><circle cx="810.1" cy="638.7" r="7.9"/><circle cx="811.6" cy="640.5" r="7.9"/><circle cx="813.1" cy="640.2" r="7.9"/><circle cx="814.6" cy="640" r="7.9"/><circle cx="816.2" cy="640.2" r="7.9"/><circle cx="817.7" cy="639.2" r="7.9"/><circle cx="819.2" cy="640" r="7.9"/><circle cx="820.7" cy="640" r="7.9"/><circle cx="822.2" cy="639.1" r="7.9"/><circle cx="823.7" cy="640" r="7.9"/><circle cx="825.2" cy="639.2" r="7.9"/><circle cx="826.8" cy="640.1" r="7.9"/><circle cx="828.3" cy="640.3" r="7.9"/><circle cx="829.8" cy="640.7" r="7.9"/><circle cx="831.3" cy="638.2" r="7.9"/><circle cx="832.8" cy="639.7" r="7.9"/><circle cx="834.3" cy="639.3" r="7.9"/><circle cx="835.8" cy="639.5" r="7.9"/><circle cx="837.3" cy="639.4" r="7.9"/><circle cx="838.8" cy="639.4" r="7.9"/><circle cx="840.4" cy="638.2" r="7.9"/><circle cx="841.9" cy="640.2" r="7.9"/><circle cx="843.4" cy="640.5" r="7.9"/><circle cx="844.9" cy="640.2" r="7.9"/><circle cx="846.4" cy="640.4" r="7.9"/><circle cx="847.9" cy="639" r="7.9"/><circle cx="849.4" cy="638.9" r="7.9"/><circle cx="850.9" cy="640.1" r="7.9"/><circle cx="852.5" cy="640.4" r="7.9"/><circle cx="854" cy="639.7" r="7.9"/><circle cx="855.5" cy="638.5" r="7.9"/><circle cx="857" cy="641.4" r="7.9"/><circle cx="858.5" cy="639.1" r="7.9"/><circle cx="860" cy="640.2" r="7.9"/><circle cx="861.5" cy="638.8" r="7.9"/><circle cx="863" cy="640.2" r="7.9"/><circle cx="864.6" cy="639.7" r="7.9"/><circle cx="866.1" cy="640.5" r="7.9"/><circle cx="867.6" cy="640.1" r="7.9"/><circle cx="869.1" cy="638.5" r="7.9"/><circle cx="870.6" cy="638.9" r="7.9"/><circle cx="872.1" cy="639.7" r="7.9"/><circle cx="873.6" cy="640.1" r="7.9"/><circle cx="875.1" cy="640.8" r="7.9"/><circle cx="876.7" cy="639.7" r="7.9"/><circle cx="878.2" cy="639.5" r="7.9"/><circle cx="879.7" cy="639.5" r="7.9"/><circle cx="881.2" cy="639.5" r="7.9"/><circle cx="882.7" cy="640.2" r="7.9"/><circle cx="884.2" cy="639.5" r="7.9"/><circle cx="885.7" cy="639.5" r="7.9"/><circle cx="887.2" cy="638.6" r="7.9"/><circle cx="888.8" cy="638.2" r="7.9"/><circle cx="890.3" cy="639.6" r="7.9"/><circle cx="891.8" cy="640" r="7.9"/><circle cx="893.3" cy="639.5" r="7.9"/><circle cx="894.8" cy="639.9" r="7.9"/><circle cx="896.3" cy="640" r="7.9"/><circle cx="897.8" cy="639.5" r="7.9"/><circle cx="899.3" cy="640.2" r="7.9"/><circle cx="900.9" cy="639.1" r="7.9"/><circle cx="902.4" cy="639.5" r="7.9"/><circle cx="903.9" cy="639.3" r="7.9"/><circle cx="905.4" cy="639.6" r="7.9"/><circle cx="906.9" cy="640" r="7.9"/><circle cx="908.4" cy="640.1" r="7.9"/><circle cx="909.9" cy="639.6" r="7.9"/><circle cx="911.4" cy="639.8" r="7.9"/><circle cx="913" cy="639.3" r="7.9"/><circle cx="914.5" cy="639.5" r="7.9"/><circle cx="916" cy="640.4" r="7.9"/><circle cx="917.5" cy="639.4" r="7.9"/><circle cx="919" cy="640.4" r="7.9"/><circle cx="920.5" cy="639.9" r="7.9"/><circle cx="922" cy="639.7" r="7.9"/><circle cx="923.5" cy="640.9" r="7.9"/><circle cx="925.1" cy="639.4" r="7.9"/><circle cx="926.6" cy="639.4" r="7.9"/><circle cx="928.1" cy="639.6" r="7.9"/><circle cx="929.6" cy="639.8" r="7.9"/><circle cx="931.1" cy="639.7" r="7.9"/><circle cx="932.6" cy="640.1" r="7.9"/><circle cx="934.1" cy="639.7" r="7.9"/><circle cx="935.6" cy="639.8" r="7.9"/><circle cx="937.2" cy="639.4" r="7.9"/><circle cx="938.7" cy="640.3" r="7.9"/><circle cx="940.2" cy="639.3" r="7.9"/><circle cx="941.7" cy="639.4" r="7.9"/><circle cx="943.2" cy="639.6" r="7.9"/><circle cx="944.7" cy="639.8" r="7.9"/><circle cx="946.2" cy="639.1" r="7.9"/><circle cx="947.8" cy="640.6" r="7.9"/><circle cx="949.3" cy="639.2" r="7.9"/><circle cx="950.8" cy="639.3" r="7.9"/><circle cx="952.3" cy="639.3" r="7.9"/><circle cx="953.8" cy="639.2" r="7.9"/><circle cx="955.3" cy="639.9" r="7.9"/><circle cx="956.8" cy="639.6" r="7.9"/><circle cx="958.3" cy="639" r="7.9"/><circle cx="959.8" cy="639.2" r="7.9"/><circle cx="961.4" cy="639.3" r="7.9"/><circle cx="962.9" cy="640.5" r="7.9"/><circle cx="964.4" cy="639.1" r="7.9"/><circle cx="965.9" cy="638.7" r="7.9"/><circle cx="967.4" cy="638.8" r="7.9"/><circle cx="968.9" cy="639.3" r="7.9"/><circle cx="970.4" cy="640.5" r="7.9"/><circle cx="971.9" cy="638.8" r="7.9"/><circle cx="973.5" cy="639.6" r="7.9"/><circle cx="975" cy="641.2" r="7.9"/><circle cx="976.5" cy="639.2" r="7.9"/><circle cx="978" cy="640.5" r="7.9"/><circle cx="979.5" cy="640.4" r="7.9"/><circle cx="981" cy="639.9" r="7.9"/><circle cx="982.5" cy="638.6" r="7.9"/><circle cx="984" cy="639.7" r="7.9"/><circle cx="985.6" cy="639.3" r="7.9"/><circle cx="987.1" cy="638.3" r="7.9"/><circle cx="988.6" cy="638.4" r="7.9"/><circle cx="990.1" cy="639.5" r="7.9"/><circle cx="991.6" cy="639.6" r="7.9"/><circle cx="993.1" cy="640.3" r="7.9"/><circle cx="994.6" cy="639.9" r="7.9"/><circle cx="996.1" cy="639.2" r="7.9"/><circle cx="997.7" cy="639.2" r="7.9"/><circle cx="999.2" cy="639.4" r="7.9"/><circle cx="1000.7" cy="638.8" r="7.9"/><circle cx="1002.2" cy="640" r="7.9"/><circle cx="1003.7" cy="639.5" r="7.9"/><circle cx="1005.2" cy="639" r="7.9"/><circle cx="1006.7" cy="639.1" r="7.9"/><circle cx="1008.2" cy="638.7" r="7.9"/><circle cx="1009.8" cy="639.2" r="7.9"/><circle cx="1011.3" cy="639.7" r="7.9"/><circle cx="1012.8" cy="639.2" r="7.9"/><circle cx="1014.3" cy="640.2" r="7.9"/><circle cx="1015.8" cy="640.6" r="7.9"/><circle cx="1017.3" cy="639.1" r="7.9"/><circle cx="1018.8" cy="639.5" r="7.9"/><circle cx="1020.3" cy="639.3" r="7.9"/><circle cx="1021.9" cy="640.6" r="7.9"/><circle cx="1023.4" cy="639.7" r="7.9"/><circle cx="1024.9" cy="639.9" r="7.9"/><circle cx="1026.4" cy="640.1" r="7.9"/><circle cx="1027.9" cy="641" r="7.9"/><circle cx="1029.4" cy="639.7" r="7.9"/><circle cx="1030.9" cy="638.9" r="7.9"/><circle cx="1032.5" cy="639.2" r="7.9"/><circle cx="1034" cy="639.9" r="7.9"/><circle cx="1035.5" cy="639.5" r="7.9"/><circle cx="1037" cy="639" r="7.9"/><circle cx="1038.5" cy="641.3" r="7.9"/><circle cx="1040" cy="639.6" r="7.9"/><circle cx="1041.5" cy="639.1" r="7.9"/><circle cx="1043" cy="639" r="7.9"/><circle cx="1044.5" cy="638.3" r="7.9"/><circle cx="1046.1" cy="638.7" r="7.9"/><circle cx="1047.6" cy="639.3" r="7.9"/><circle cx="1049.1" cy="639.3" r="7.9"/><circle cx="1050.6" cy="638.9" r="7.9"/><circle cx="1052.1" cy="639.8" r="7.9"/><circle cx="1053.6" cy="639.5" r="7.9"/><circle cx="1055.1" cy="638.9" r="7.9"/><circle cx="1056.7" cy="638.1" r="7.9"/><circle cx="1058.2" cy="639.6" r="7.9"/><circle cx="1059.7" cy="639.5" r="7.9"/><circle cx="1061.2" cy="639.3" r="7.9"/><circle cx="1062.7" cy="638.6" r="7.9"/><circle cx="1064.2" cy="639.5" r="7.9"/><circle cx="1065.7" cy="638.5" r="7.9"/><circle cx="1067.2" cy="640.1" r="7.9"/><circle cx="1068.8" cy="639.6" r="7.9"/><circle cx="1070.3" cy="639.6" r="7.9"/><circle cx="1071.8" cy="638.9" r="7.9"/><circle cx="1073.3" cy="638.8" r="7.9"/><circle cx="1074.8" cy="640.5" r="7.9"/><circle cx="1076.3" cy="640.1" r="7.9"/><circle cx="1077.8" cy="639.2" r="7.9"/><circle cx="1079.3" cy="639.9" r="7.9"/><circle cx="1080.8" cy="640.5" r="7.9"/><circle cx="1082.4" cy="638.8" r="7.9"/><circle cx="1083.9" cy="639.1" r="7.9"/><circle cx="1085.4" cy="639.1" r="7.9"/><circle cx="1086.9" cy="639.8" r="7.9"/><circle cx="1088.4" cy="638.8" r="7.9"/><circle cx="1089.9" cy="639.6" r="7.9"/><circle cx="1091.4" cy="638.7" r="7.9"/><circle cx="1093" cy="640.1" r="7.9"/><circle cx="1094.5" cy="640.1" r="7.9"/><circle cx="1096" cy="639.3" r="7.9"/><circle cx="1097.5" cy="639.9" r="7.9"/><circle cx="1099" cy="639" r="7.9"/><circle cx="1100.5" cy="639.3" r="7.9"/><circle cx="1102" cy="640.1" r="7.9"/><circle cx="1103.5" cy="639.4" r="7.9"/><circle cx="1105" cy="639.7" r="7.9"/><circle cx="1106.6" cy="638.8" r="7.9"/><circle cx="1108.1" cy="639.9" r="7.9"/><circle cx="1109.6" cy="639.8" r="7.9"/><circle cx="1111.1" cy="638.6" r="7.9"/><circle cx="1112.6" cy="637.9" r="7.9"/><circle cx="1114.1" cy="638.1" r="7.9"/><circle cx="1115.6" cy="639.4" r="7.9"/><circle cx="1117.2" cy="639.3" r="7.9"/><circle cx="1118.7" cy="638.4" r="7.9"/><circle cx="1120.2" cy="639.6" r="7.9"/><circle cx="1121.7" cy="640.1" r="7.9"/><circle cx="1123.2" cy="639.4" r="7.9"/><circle cx="1124.7" cy="639.2" r="7.9"/><circle cx="1126.2" cy="640" r="7.9"/><circle cx="1127.7" cy="640.6" r="7.9"/><circle cx="1129.2" cy="640.4" r="7.9"/><circle cx="1130.8" cy="639" r="7.9"/><circle cx="1132.3" cy="640" r="7.9"/><circle cx="1133.8" cy="639.6" r="7.9"/><circle cx="1135.3" cy="639.3" r="7.9"/><circle cx="1136.8" cy="639" r="7.9"/><circle cx="1138.3" cy="639.7" r="7.9"/><circle cx="1139.8" cy="639.1" r="7.9"/><circle cx="1141.3" cy="640.1" r="7.9"/><circle cx="1142.9" cy="639.7" r="7.9"/><circle cx="1144.4" cy="640.2" r="7.9"/><circle cx="1145.9" cy="638.7" r="7.9"/><circle cx="1147.4" cy="639.5" r="7.9"/><circle cx="1148.9" cy="640" r="7.9"/><circle cx="1150.4" cy="639.7" r="7.9"/><circle cx="1151.9" cy="639.6" r="7.9"/><circle cx="1153.5" cy="639" r="7.9"/><circle cx="1155" cy="640.6" r="7.9"/><circle cx="1156.5" cy="640.2" r="7.9"/><circle cx="1158" cy="639.7" r="7.9"/><circle cx="1159.5" cy="637.7" r="7.9"/><circle cx="1161" cy="638.8" r="7.9"/><circle cx="1162.5" cy="639.5" r="7.9"/><circle cx="1164" cy="639" r="7.9"/><circle cx="1165.5" cy="638.1" r="7.9"/><circle cx="1167.1" cy="639.6" r="7.9"/><circle cx="1168.6" cy="639.7" r="7.9"/><circle cx="1170.1" cy="638.6" r="7.9"/><circle cx="1171.6" cy="639.1" r="7.9"/><circle cx="1173.1" cy="639" r="7.9"/><circle cx="1174.6" cy="639.8" r="7.9"/><circle cx="1176.1" cy="638.2" r="7.9"/><circle cx="1177.6" cy="638.3" r="7.9"/><circle cx="1179.2" cy="639.1" r="7.9"/><circle cx="1180.7" cy="639" r="7.9"/><circle cx="1182.2" cy="640.8" r="7.9"/><circle cx="1183.7" cy="639" r="7.9"/><circle cx="1185.2" cy="639.6" r="7.9"/><circle cx="1186.7" cy="639.2" r="7.9"/><circle cx="1188.2" cy="639" r="7.9"/><circle cx="1189.8" cy="639.7" r="7.9"/><circle cx="1191.3" cy="640.6" r="7.9"/><circle cx="1192.8" cy="639.2" r="7.9"/><circle cx="1194.3" cy="640" r="7.9"/><circle cx="1195.8" cy="639.7" r="7.9"/><circle cx="1197.3" cy="639.9" r="7.9"/><circle cx="1198.8" cy="639.7" r="7.9"/><circle cx="1200.3" cy="641" r="7.9"/><circle cx="1201.8" cy="638.6" r="7.9"/><circle cx="1203.4" cy="639.3" r="7.9"/><circle cx="1204.9" cy="638.7" r="7.9"/><circle cx="1206.4" cy="638.1" r="7.9"/><circle cx="1207.9" cy="639.5" r="7.9"/><circle cx="1209.4" cy="640.7" r="7.9"/><circle cx="1210.9" cy="640.1" r="7.9"/><circle cx="1212.4" cy="640.3" r="7.9"/><circle cx="1214" cy="639.8" r="7.9"/><circle cx="1215.5" cy="639.4" r="7.9"/><circle cx="1217" cy="640.8" r="7.9"/><circle cx="1218.5" cy="639.2" r="7.9"/><circle cx="1220" cy="640.5" r="7.9"/><circle cx="1221.5" cy="639.3" r="7.9"/><circle cx="1223" cy="639.5" r="7.9"/><circle cx="1224.5" cy="639.7" r="7.9"/><circle cx="1226" cy="639.5" r="7.9"/><circle cx="1227.6" cy="639.8" r="7.9"/><circle cx="1229.1" cy="639.9" r="7.9"/><circle cx="1230.6" cy="640.6" r="7.9"/><circle cx="1232.1" cy="639.5" r="7.9"/><circle cx="1233.6" cy="638.2" r="7.9"/><circle cx="1235.1" cy="638.1" r="7.9"/><circle cx="1236.6" cy="638.6" r="7.9"/><circle cx="1238.1" cy="639" r="7.9"/><circle cx="1239.7" cy="639.9" r="7.9"/><circle cx="1241.2" cy="638.5" r="7.9"/><circle cx="1242.7" cy="639.5" r="7.9"/><circle cx="1244.2" cy="639.5" r="7.9"/><circle cx="1245.7" cy="639.7" r="7.9"/><circle cx="1247.2" cy="639.4" r="7.9"/><circle cx="1248.7" cy="639.8" r="7.9"/><circle cx="1250.2" cy="639.5" r="7.9"/><circle cx="1251.8" cy="640.2" r="7.9"/><circle cx="1253.3" cy="639.7" r="7.9"/><circle cx="1254.8" cy="637.9" r="7.9"/><circle cx="1256.3" cy="639.5" r="7.9"/><circle cx="1257.8" cy="639.6" r="7.9"/><circle cx="1259.3" cy="639.1" r="7.9"/><circle cx="1260.8" cy="639" r="7.9"/><circle cx="1262.3" cy="640.2" r="7.9"/><circle cx="1263.9" cy="639.6" r="7.9"/><circle cx="1265.4" cy="638.8" r="7.9"/><circle cx="1266.9" cy="639.3" r="7.9"/><circle cx="1268.4" cy="639.4" r="7.9"/><circle cx="1269.9" cy="638.4" r="7.9"/><circle cx="1271.4" cy="639.9" r="7.9"/><circle cx="1272.9" cy="639.4" r="7.9"/><circle cx="1274.5" cy="639.8" r="7.9"/><circle cx="1276" cy="638.5" r="7.9"/><circle cx="1277.5" cy="640.8" r="7.9"/><circle cx="1279" cy="639.9" r="7.9"/><circle cx="1280.5" cy="639.8" r="7.9"/><circle cx="1282" cy="639" r="7.9"/><circle cx="1283.5" cy="639.1" r="7.9"/><circle cx="1285" cy="638.5" r="7.9"/><circle cx="1286.5" cy="640.5" r="7.9"/><circle cx="1288.1" cy="639" r="7.9"/><circle cx="1289.6" cy="639.7" r="7.9"/><circle cx="1291.1" cy="639.9" r="7.9"/><circle cx="1292.6" cy="639.1" r="7.9"/><circle cx="1294.1" cy="640.1" r="7.9"/><circle cx="1295.6" cy="640.9" r="7.9"/><circle cx="1297.1" cy="639.7" r="7.9"/><circle cx="1298.6" cy="640.5" r="7.9"/><circle cx="1300.2" cy="639.9" r="7.9"/><circle cx="1301.7" cy="639.2" r="7.9"/><circle cx="1303.2" cy="639.3" r="7.9"/><circle cx="1304.7" cy="638.4" r="7.9"/><circle cx="1306.2" cy="639.6" r="7.9"/><circle cx="1307.7" cy="640.5" r="7.9"/><circle cx="1309.2" cy="640" r="7.9"/><circle cx="1310.8" cy="640.1" r="7.9"/><circle cx="1312.3" cy="640.3" r="7.9"/><circle cx="1313.8" cy="639.2" r="7.9"/><circle cx="1315.3" cy="639.9" r="7.9"/><circle cx="1316.8" cy="640.8" r="7.9"/></g>
<g fill="url(#gB)"><circle cx="109.5" cy="663.9" r="7.9"/><circle cx="108.3" cy="639.7" r="7.9"/><circle cx="109.8" cy="640" r="7.9"/><circle cx="111.3" cy="639.9" r="7.9"/><circle cx="112.8" cy="639.9" r="7.9"/><circle cx="114.4" cy="639.8" r="7.9"/><circle cx="115.9" cy="640" r="7.9"/><circle cx="117.4" cy="639.6" r="7.9"/><circle cx="118.9" cy="639.8" r="7.9"/><circle cx="120.4" cy="639.8" r="7.9"/><circle cx="121.9" cy="639.8" r="7.9"/><circle cx="123.4" cy="640.5" r="7.9"/><circle cx="124.9" cy="640" r="7.9"/><circle cx="126.5" cy="640.1" r="7.9"/><circle cx="128" cy="639.9" r="7.9"/><circle cx="129.5" cy="640.4" r="7.9"/><circle cx="131" cy="639.4" r="7.9"/><circle cx="132.5" cy="639.9" r="7.9"/><circle cx="134" cy="640.4" r="7.9"/><circle cx="135.5" cy="640.6" r="7.9"/><circle cx="137.1" cy="640.1" r="7.9"/><circle cx="138.6" cy="640" r="7.9"/><circle cx="140.1" cy="640.2" r="7.9"/><circle cx="141.6" cy="639.9" r="7.9"/><circle cx="143.1" cy="640.2" r="7.9"/><circle cx="144.6" cy="639.8" r="7.9"/><circle cx="146.1" cy="640.2" r="7.9"/><circle cx="147.6" cy="640" r="7.9"/><circle cx="149.2" cy="639.6" r="7.9"/><circle cx="150.7" cy="639.1" r="7.9"/><circle cx="152.2" cy="640.3" r="7.9"/><circle cx="153.7" cy="640.1" r="7.9"/><circle cx="155.2" cy="640.3" r="7.9"/><circle cx="156.7" cy="639.7" r="7.9"/><circle cx="158.2" cy="640.4" r="7.9"/><circle cx="159.7" cy="640.1" r="7.9"/><circle cx="161.2" cy="640" r="7.9"/><circle cx="162.8" cy="640.3" r="7.9"/><circle cx="164.3" cy="640.3" r="7.9"/><circle cx="165.8" cy="640.1" r="7.9"/><circle cx="167.3" cy="640.7" r="7.9"/><circle cx="168.8" cy="640.5" r="7.9"/><circle cx="170.3" cy="640.1" r="7.9"/><circle cx="171.8" cy="639.9" r="7.9"/><circle cx="173.3" cy="640" r="7.9"/><circle cx="174.9" cy="640.6" r="7.9"/><circle cx="176.4" cy="640.1" r="7.9"/><circle cx="177.9" cy="639.7" r="7.9"/><circle cx="179.4" cy="639.8" r="7.9"/><circle cx="180.9" cy="640" r="7.9"/><circle cx="182.4" cy="640.3" r="7.9"/><circle cx="183.9" cy="639.8" r="7.9"/><circle cx="185.4" cy="640.2" r="7.9"/><circle cx="187" cy="640.4" r="7.9"/><circle cx="188.5" cy="640.3" r="7.9"/><circle cx="190" cy="639.5" r="7.9"/><circle cx="191.5" cy="639.9" r="7.9"/><circle cx="193" cy="639.6" r="7.9"/><circle cx="194.5" cy="640.1" r="7.9"/><circle cx="196" cy="639.7" r="7.9"/><circle cx="197.6" cy="640.2" r="7.9"/><circle cx="199.1" cy="640" r="7.9"/><circle cx="200.6" cy="639.1" r="7.9"/><circle cx="202.1" cy="639.7" r="7.9"/><circle cx="203.6" cy="640.2" r="7.9"/><circle cx="205.1" cy="640" r="7.9"/><circle cx="206.6" cy="639.9" r="7.9"/><circle cx="208.1" cy="639.6" r="7.9"/><circle cx="209.6" cy="640.1" r="7.9"/><circle cx="211.2" cy="640.6" r="7.9"/><circle cx="212.7" cy="640.1" r="7.9"/><circle cx="214.2" cy="640" r="7.9"/><circle cx="215.7" cy="639.9" r="7.9"/><circle cx="217.2" cy="639.5" r="7.9"/><circle cx="218.7" cy="639.9" r="7.9"/><circle cx="220.2" cy="639.7" r="7.9"/><circle cx="221.8" cy="640.4" r="7.9"/><circle cx="223.3" cy="639.7" r="7.9"/><circle cx="224.8" cy="639.3" r="7.9"/><circle cx="226.3" cy="639.7" r="7.9"/><circle cx="227.8" cy="639.9" r="7.9"/><circle cx="229.3" cy="639.9" r="7.9"/><circle cx="230.8" cy="639.4" r="7.9"/><circle cx="232.3" cy="640.3" r="7.9"/><circle cx="233.8" cy="640" r="7.9"/><circle cx="235.4" cy="639.8" r="7.9"/><circle cx="236.9" cy="639.7" r="7.9"/><circle cx="238.4" cy="640.1" r="7.9"/><circle cx="239.9" cy="639.9" r="7.9"/><circle cx="241.4" cy="640.1" r="7.9"/><circle cx="242.9" cy="639.9" r="7.9"/><circle cx="244.4" cy="640" r="7.9"/><circle cx="245.9" cy="640.4" r="7.9"/><circle cx="247.5" cy="640" r="7.9"/><circle cx="249" cy="639.7" r="7.9"/><circle cx="250.5" cy="640.3" r="7.9"/><circle cx="252" cy="640.1" r="7.9"/><circle cx="253.5" cy="639.8" r="7.9"/><circle cx="255" cy="640.3" r="7.9"/><circle cx="256.5" cy="639.9" r="7.9"/><circle cx="258.1" cy="640.3" r="7.9"/><circle cx="259.6" cy="639.6" r="7.9"/><circle cx="261.1" cy="639.2" r="7.9"/><circle cx="262.6" cy="639.3" r="7.9"/><circle cx="264.1" cy="640.1" r="7.9"/><circle cx="265.6" cy="639.7" r="7.9"/><circle cx="267.1" cy="639.9" r="7.9"/><circle cx="268.6" cy="639.9" r="7.9"/><circle cx="270.1" cy="639.5" r="7.9"/><circle cx="271.7" cy="640.4" r="7.9"/><circle cx="273.2" cy="639.6" r="7.9"/><circle cx="274.7" cy="640" r="7.9"/><circle cx="276.2" cy="639.5" r="7.9"/><circle cx="277.7" cy="639.9" r="7.9"/><circle cx="279.2" cy="640.2" r="7.9"/><circle cx="280.7" cy="639.9" r="7.9"/><circle cx="282.2" cy="639.7" r="7.9"/><circle cx="283.8" cy="640" r="7.9"/><circle cx="285.3" cy="639.8" r="7.9"/><circle cx="286.8" cy="640.2" r="7.9"/><circle cx="288.3" cy="640.7" r="7.9"/><circle cx="289.8" cy="639.7" r="7.9"/><circle cx="291.3" cy="639.7" r="7.9"/><circle cx="292.8" cy="639.9" r="7.9"/><circle cx="294.4" cy="640" r="7.9"/><circle cx="295.9" cy="639.6" r="7.9"/><circle cx="297.4" cy="640.1" r="7.9"/><circle cx="298.9" cy="640.2" r="7.9"/><circle cx="300.4" cy="640" r="7.9"/><circle cx="301.9" cy="639.6" r="7.9"/><circle cx="303.4" cy="640.5" r="7.9"/><circle cx="304.9" cy="639.6" r="7.9"/><circle cx="306.4" cy="640.2" r="7.9"/><circle cx="308" cy="640.4" r="7.9"/><circle cx="309.5" cy="639.6" r="7.9"/><circle cx="311" cy="640" r="7.9"/><circle cx="312.5" cy="640.4" r="7.9"/><circle cx="314" cy="640.1" r="7.9"/><circle cx="315.5" cy="639.7" r="7.9"/><circle cx="317" cy="639.6" r="7.9"/><circle cx="318.6" cy="640.1" r="7.9"/><circle cx="320.1" cy="639.8" r="7.9"/><circle cx="321.6" cy="639.7" r="7.9"/><circle cx="323.1" cy="640.2" r="7.9"/><circle cx="324.6" cy="639.9" r="7.9"/><circle cx="326.1" cy="640" r="7.9"/><circle cx="327.6" cy="640.2" r="7.9"/><circle cx="329.1" cy="640.1" r="7.9"/><circle cx="330.6" cy="640" r="7.9"/><circle cx="332.2" cy="640" r="7.9"/><circle cx="333.7" cy="640.2" r="7.9"/><circle cx="335.2" cy="640.1" r="7.9"/><circle cx="336.7" cy="639.6" r="7.9"/><circle cx="338.2" cy="639.9" r="7.9"/><circle cx="339.7" cy="639.7" r="7.9"/><circle cx="341.2" cy="639.6" r="7.9"/><circle cx="342.8" cy="639.8" r="7.9"/><circle cx="344.3" cy="639.2" r="7.9"/><circle cx="345.8" cy="640.3" r="7.9"/><circle cx="347.3" cy="639.7" r="7.9"/><circle cx="348.8" cy="640.1" r="7.9"/><circle cx="350.3" cy="639.3" r="7.9"/><circle cx="351.8" cy="639.4" r="7.9"/><circle cx="353.3" cy="640.6" r="7.9"/><circle cx="354.9" cy="640.3" r="7.9"/><circle cx="356.4" cy="639.8" r="7.9"/><circle cx="357.9" cy="639.7" r="7.9"/><circle cx="359.4" cy="639.7" r="7.9"/><circle cx="360.9" cy="640" r="7.9"/><circle cx="362.4" cy="639.8" r="7.9"/><circle cx="363.9" cy="639.8" r="7.9"/><circle cx="365.4" cy="640" r="7.9"/><circle cx="366.9" cy="639.6" r="7.9"/><circle cx="368.5" cy="640.7" r="7.9"/><circle cx="370" cy="639.8" r="7.9"/><circle cx="371.5" cy="640.3" r="7.9"/><circle cx="373" cy="639.7" r="7.9"/><circle cx="374.5" cy="640.1" r="7.9"/><circle cx="376" cy="640.3" r="7.9"/><circle cx="377.5" cy="639.9" r="7.9"/><circle cx="379.1" cy="640.3" r="7.9"/><circle cx="380.6" cy="640.3" r="7.9"/><circle cx="382.1" cy="640.5" r="7.9"/><circle cx="383.6" cy="640" r="7.9"/><circle cx="385.1" cy="639.8" r="7.9"/><circle cx="386.6" cy="639.6" r="7.9"/><circle cx="388.1" cy="640" r="7.9"/><circle cx="389.6" cy="639.6" r="7.9"/><circle cx="391.2" cy="640" r="7.9"/><circle cx="392.7" cy="640" r="7.9"/><circle cx="394.2" cy="639.8" r="7.9"/><circle cx="395.7" cy="639.6" r="7.9"/><circle cx="397.2" cy="640.1" r="7.9"/><circle cx="398.7" cy="640.1" r="7.9"/><circle cx="400.2" cy="640" r="7.9"/><circle cx="401.7" cy="640" r="7.9"/><circle cx="403.2" cy="640.3" r="7.9"/><circle cx="404.8" cy="639.6" r="7.9"/><circle cx="406.3" cy="640.1" r="7.9"/><circle cx="407.8" cy="639.8" r="7.9"/><circle cx="409.3" cy="640.3" r="7.9"/><circle cx="410.8" cy="639.9" r="7.9"/><circle cx="412.3" cy="639.8" r="7.9"/><circle cx="413.8" cy="640.1" r="7.9"/><circle cx="415.4" cy="639.3" r="7.9"/><circle cx="416.9" cy="639.9" r="7.9"/><circle cx="418.4" cy="639.4" r="7.9"/><circle cx="419.9" cy="639.7" r="7.9"/><circle cx="421.4" cy="640.2" r="7.9"/><circle cx="422.9" cy="640.1" r="7.9"/><circle cx="424.4" cy="639.8" r="7.9"/><circle cx="425.9" cy="640" r="7.9"/><circle cx="427.4" cy="640" r="7.9"/><circle cx="429" cy="640.1" r="7.9"/><circle cx="430.5" cy="640.6" r="7.9"/><circle cx="432" cy="640.1" r="7.9"/><circle cx="433.5" cy="640.7" r="7.9"/><circle cx="435" cy="639.9" r="7.9"/><circle cx="436.5" cy="640.2" r="7.9"/><circle cx="438" cy="640.2" r="7.9"/><circle cx="439.6" cy="640.1" r="7.9"/><circle cx="441.1" cy="639.9" r="7.9"/><circle cx="442.6" cy="640.5" r="7.9"/><circle cx="444.1" cy="640.6" r="7.9"/><circle cx="445.6" cy="640.3" r="7.9"/><circle cx="447.1" cy="640.7" r="7.9"/><circle cx="448.6" cy="640.3" r="7.9"/><circle cx="450.1" cy="639.4" r="7.9"/><circle cx="451.7" cy="640.3" r="7.9"/><circle cx="453.2" cy="639.8" r="7.9"/><circle cx="454.7" cy="640.4" r="7.9"/><circle cx="456.2" cy="639.9" r="7.9"/><circle cx="457.7" cy="640.1" r="7.9"/><circle cx="459.2" cy="640" r="7.9"/><circle cx="460.7" cy="639.8" r="7.9"/><circle cx="462.2" cy="639.4" r="7.9"/><circle cx="463.8" cy="639.9" r="7.9"/><circle cx="465.3" cy="639.9" r="7.9"/><circle cx="466.8" cy="640.3" r="7.9"/><circle cx="468.3" cy="639.8" r="7.9"/><circle cx="469.8" cy="640.1" r="7.9"/><circle cx="471.3" cy="639.7" r="7.9"/><circle cx="472.8" cy="640" r="7.9"/><circle cx="474.3" cy="639.4" r="7.9"/><circle cx="475.9" cy="640.7" r="7.9"/><circle cx="477.4" cy="640.1" r="7.9"/><circle cx="478.9" cy="639.7" r="7.9"/><circle cx="480.4" cy="640.1" r="7.9"/><circle cx="481.9" cy="640.2" r="7.9"/><circle cx="483.4" cy="640.1" r="7.9"/><circle cx="484.9" cy="640.4" r="7.9"/><circle cx="486.4" cy="639.9" r="7.9"/><circle cx="487.9" cy="639.2" r="7.9"/><circle cx="489.5" cy="639.6" r="7.9"/><circle cx="491" cy="640.4" r="7.9"/><circle cx="492.5" cy="640.3" r="7.9"/><circle cx="494" cy="640.1" r="7.9"/><circle cx="495.5" cy="639.6" r="7.9"/><circle cx="497" cy="640.3" r="7.9"/><circle cx="498.5" cy="640.2" r="7.9"/><circle cx="500.1" cy="639.7" r="7.9"/><circle cx="501.6" cy="639.7" r="7.9"/><circle cx="503.1" cy="640.1" r="7.9"/><circle cx="504.6" cy="640.4" r="7.9"/><circle cx="506.1" cy="640.5" r="7.9"/><circle cx="507.6" cy="640.2" r="7.9"/><circle cx="509.1" cy="640.7" r="7.9"/><circle cx="510.6" cy="639.7" r="7.9"/><circle cx="512.1" cy="640.2" r="7.9"/><circle cx="513.7" cy="639.8" r="7.9"/><circle cx="515.2" cy="639.3" r="7.9"/><circle cx="516.7" cy="639.6" r="7.9"/><circle cx="518.2" cy="640.4" r="7.9"/><circle cx="519.7" cy="639.7" r="7.9"/><circle cx="521.2" cy="639.6" r="7.9"/><circle cx="522.7" cy="640.2" r="7.9"/><circle cx="524.2" cy="640.3" r="7.9"/><circle cx="525.8" cy="640" r="7.9"/><circle cx="527.3" cy="640.5" r="7.9"/><circle cx="528.8" cy="639.5" r="7.9"/><circle cx="530.3" cy="640.8" r="7.9"/><circle cx="531.8" cy="640.4" r="7.9"/><circle cx="533.3" cy="640.1" r="7.9"/><circle cx="534.8" cy="640.1" r="7.9"/><circle cx="536.4" cy="639.9" r="7.9"/><circle cx="537.9" cy="639.9" r="7.9"/><circle cx="539.4" cy="640.1" r="7.9"/><circle cx="540.9" cy="639.6" r="7.9"/><circle cx="542.4" cy="640.7" r="7.9"/><circle cx="543.9" cy="640" r="7.9"/><circle cx="545.4" cy="640.2" r="7.9"/><circle cx="546.9" cy="639.9" r="7.9"/><circle cx="548.4" cy="639.9" r="7.9"/><circle cx="550" cy="640.3" r="7.9"/><circle cx="551.5" cy="640.2" r="7.9"/><circle cx="553" cy="639.7" r="7.9"/><circle cx="554.5" cy="639.9" r="7.9"/><circle cx="556" cy="640.2" r="7.9"/><circle cx="557.5" cy="639.3" r="7.9"/><circle cx="559" cy="639.2" r="7.9"/><circle cx="560.5" cy="640.5" r="7.9"/><circle cx="562.1" cy="639.9" r="7.9"/><circle cx="563.6" cy="639.1" r="7.9"/><circle cx="565.1" cy="639.7" r="7.9"/><circle cx="566.6" cy="639.9" r="7.9"/><circle cx="568.1" cy="640.1" r="7.9"/><circle cx="569.6" cy="640.2" r="7.9"/><circle cx="571.1" cy="640.1" r="7.9"/><circle cx="572.6" cy="640.2" r="7.9"/><circle cx="574.2" cy="639.7" r="7.9"/><circle cx="575.7" cy="640.1" r="7.9"/><circle cx="577.2" cy="640.1" r="7.9"/><circle cx="578.7" cy="640.4" r="7.9"/><circle cx="580.2" cy="640" r="7.9"/><circle cx="581.7" cy="640.3" r="7.9"/><circle cx="583.2" cy="640" r="7.9"/><circle cx="584.8" cy="639.6" r="7.9"/><circle cx="586.3" cy="639.9" r="7.9"/><circle cx="587.8" cy="639.8" r="7.9"/><circle cx="589.3" cy="639.9" r="7.9"/><circle cx="590.8" cy="640" r="7.9"/><circle cx="592.3" cy="640" r="7.9"/><circle cx="593.8" cy="640.1" r="7.9"/><circle cx="595.3" cy="639.7" r="7.9"/><circle cx="596.9" cy="640.3" r="7.9"/><circle cx="598.4" cy="639.5" r="7.9"/><circle cx="599.9" cy="640" r="7.9"/><circle cx="601.4" cy="640.2" r="7.9"/><circle cx="602.9" cy="640.1" r="7.9"/><circle cx="604.4" cy="640.2" r="7.9"/><circle cx="605.9" cy="639.9" r="7.9"/><circle cx="607.4" cy="640.2" r="7.9"/><circle cx="608.9" cy="639.6" r="7.9"/><circle cx="610.5" cy="640.2" r="7.9"/><circle cx="612" cy="640.8" r="7.9"/><circle cx="613.5" cy="640.2" r="7.9"/><circle cx="615" cy="640.7" r="7.9"/><circle cx="616.5" cy="640" r="7.9"/><circle cx="618" cy="639.6" r="7.9"/><circle cx="619.5" cy="639.8" r="7.9"/><circle cx="621" cy="640.4" r="7.9"/><circle cx="622.6" cy="640.2" r="7.9"/><circle cx="624.1" cy="639.4" r="7.9"/><circle cx="625.6" cy="639.9" r="7.9"/><circle cx="627.1" cy="640" r="7.9"/><circle cx="628.6" cy="639.6" r="7.9"/><circle cx="630.1" cy="639.1" r="7.9"/><circle cx="631.6" cy="639.5" r="7.9"/><circle cx="633.1" cy="639.9" r="7.9"/><circle cx="634.7" cy="639.9" r="7.9"/><circle cx="636.2" cy="639.8" r="7.9"/><circle cx="637.7" cy="640.2" r="7.9"/><circle cx="639.2" cy="640.3" r="7.9"/><circle cx="640.7" cy="640" r="7.9"/><circle cx="642.2" cy="640.3" r="7.9"/><circle cx="643.7" cy="640" r="7.9"/><circle cx="645.2" cy="639.9" r="7.9"/><circle cx="646.8" cy="639.2" r="7.9"/><circle cx="648.3" cy="640.3" r="7.9"/><circle cx="649.8" cy="640" r="7.9"/><circle cx="651.3" cy="640" r="7.9"/><circle cx="652.8" cy="639.8" r="7.9"/><circle cx="654.3" cy="639.6" r="7.9"/><circle cx="655.8" cy="640.1" r="7.9"/><circle cx="657.3" cy="640.3" r="7.9"/><circle cx="658.9" cy="640.5" r="7.9"/><circle cx="660.4" cy="640.3" r="7.9"/><circle cx="661.9" cy="639.8" r="7.9"/><circle cx="663.4" cy="640" r="7.9"/><circle cx="664.9" cy="640.3" r="7.9"/><circle cx="666.4" cy="640.1" r="7.9"/><circle cx="667.9" cy="640" r="7.9"/><circle cx="669.4" cy="639.8" r="7.9"/><circle cx="671" cy="640.2" r="7.9"/><circle cx="672.5" cy="640.1" r="7.9"/><circle cx="674" cy="640.6" r="7.9"/><circle cx="675.5" cy="640.4" r="7.9"/><circle cx="677" cy="639.4" r="7.9"/><circle cx="678.5" cy="640.7" r="7.9"/><circle cx="680" cy="640.1" r="7.9"/><circle cx="681.5" cy="639.9" r="7.9"/><circle cx="683.1" cy="640.1" r="7.9"/><circle cx="684.6" cy="640.3" r="7.9"/><circle cx="686.1" cy="640" r="7.9"/><circle cx="687.6" cy="640" r="7.9"/><circle cx="689.1" cy="640" r="7.9"/><circle cx="690.6" cy="640.6" r="7.9"/><circle cx="692.1" cy="640" r="7.9"/><circle cx="693.6" cy="640.3" r="7.9"/><circle cx="695.2" cy="640.2" r="7.9"/></g>
<g fill="url(#gB)"><circle cx="423.2" cy="666.1" r="7.9"/><circle cx="474" cy="676.9" r="7.9"/><circle cx="475" cy="652" r="7.9"/><circle cx="477.5" cy="659.3" r="7.9"/><circle cx="475.3" cy="676.1" r="7.9"/><circle cx="488.4" cy="673.5" r="7.9"/><circle cx="479.7" cy="660.3" r="7.9"/><circle cx="475.3" cy="652.3" r="7.9"/><circle cx="471.3" cy="644.4" r="7.9"/><circle cx="483.2" cy="636.5" r="7.9"/><circle cx="468.7" cy="639.2" r="7.9"/><circle cx="694" cy="606.5" r="7.9"/><circle cx="703.5" cy="611" r="7.9"/><circle cx="702" cy="615.4" r="7.9"/><circle cx="705.5" cy="646.5" r="7.9"/><circle cx="698.5" cy="662.7" r="7.9"/><circle cx="697" cy="708.8" r="7.9"/><circle cx="707.7" cy="708.8" r="7.9"/><circle cx="695" cy="709" r="7.9"/><circle cx="706" cy="725" r="7.9"/><circle cx="703" cy="727.7" r="7.9"/><circle cx="700" cy="746" r="7.9"/><circle cx="691.6" cy="638.1" r="7.9"/></g>
<g fill="url(#gG)"><circle cx="108.3" cy="647.6" r="7.9"/><circle cx="109.8" cy="646.1" r="7.9"/><circle cx="111.3" cy="646.3" r="7.9"/><circle cx="112.8" cy="656.5" r="7.9"/><circle cx="114.4" cy="645.1" r="7.9"/><circle cx="115.9" cy="645.3" r="7.9"/><circle cx="117.4" cy="645.9" r="7.9"/><circle cx="118.9" cy="658.4" r="7.9"/><circle cx="120.4" cy="642.6" r="7.9"/><circle cx="121.9" cy="647.5" r="7.9"/><circle cx="123.4" cy="654.6" r="7.9"/><circle cx="124.9" cy="660.3" r="7.9"/><circle cx="126.5" cy="662.9" r="7.9"/><circle cx="128" cy="650.8" r="7.9"/><circle cx="129.5" cy="648.6" r="7.9"/><circle cx="131" cy="650" r="7.9"/><circle cx="132.5" cy="649.4" r="7.9"/><circle cx="134" cy="643.5" r="7.9"/><circle cx="135.5" cy="651.6" r="7.9"/><circle cx="137.1" cy="647.6" r="7.9"/><circle cx="138.6" cy="648.1" r="7.9"/><circle cx="140.1" cy="661.3" r="7.9"/><circle cx="141.6" cy="664.9" r="7.9"/><circle cx="143.1" cy="648.3" r="7.9"/><circle cx="144.6" cy="655.9" r="7.9"/><circle cx="146.1" cy="647.7" r="7.9"/><circle cx="147.6" cy="653.8" r="7.9"/><circle cx="149.2" cy="655.1" r="7.9"/><circle cx="150.7" cy="654.5" r="7.9"/><circle cx="152.2" cy="640.9" r="7.9"/><circle cx="153.7" cy="650.7" r="7.9"/><circle cx="155.2" cy="641.5" r="7.9"/><circle cx="156.7" cy="658.7" r="7.9"/><circle cx="158.2" cy="654.5" r="7.9"/><circle cx="159.7" cy="640.6" r="7.9"/><circle cx="161.2" cy="648.9" r="7.9"/><circle cx="162.8" cy="643.7" r="7.9"/><circle cx="164.3" cy="642" r="7.9"/><circle cx="165.8" cy="657.1" r="7.9"/><circle cx="167.3" cy="652.4" r="7.9"/><circle cx="168.8" cy="640.2" r="7.9"/><circle cx="170.3" cy="641.3" r="7.9"/><circle cx="171.8" cy="641.8" r="7.9"/><circle cx="173.3" cy="639.8" r="7.9"/><circle cx="174.9" cy="640.4" r="7.9"/><circle cx="176.4" cy="640.8" r="7.9"/><circle cx="177.9" cy="640.2" r="7.9"/><circle cx="179.4" cy="640.1" r="7.9"/><circle cx="180.9" cy="640.7" r="7.9"/><circle cx="182.4" cy="643.1" r="7.9"/><circle cx="183.9" cy="641.6" r="7.9"/><circle cx="185.4" cy="641.4" r="7.9"/><circle cx="187" cy="641.8" r="7.9"/><circle cx="188.5" cy="640.8" r="7.9"/><circle cx="190" cy="640" r="7.9"/><circle cx="191.5" cy="641.4" r="7.9"/><circle cx="193" cy="642" r="7.9"/><circle cx="194.5" cy="639.3" r="7.9"/><circle cx="196" cy="641.4" r="7.9"/><circle cx="197.6" cy="642" r="7.9"/><circle cx="199.1" cy="640.8" r="7.9"/><circle cx="200.6" cy="640.6" r="7.9"/><circle cx="202.1" cy="641.6" r="7.9"/><circle cx="203.6" cy="640.3" r="7.9"/><circle cx="205.1" cy="641.4" r="7.9"/><circle cx="206.6" cy="641.8" r="7.9"/><circle cx="208.1" cy="640.8" r="7.9"/><circle cx="209.6" cy="640.3" r="7.9"/><circle cx="211.2" cy="641.5" r="7.9"/><circle cx="212.7" cy="640.7" r="7.9"/><circle cx="214.2" cy="641.1" r="7.9"/><circle cx="215.7" cy="638.6" r="7.9"/><circle cx="217.2" cy="641.6" r="7.9"/><circle cx="218.7" cy="639.8" r="7.9"/><circle cx="220.2" cy="641" r="7.9"/><circle cx="221.8" cy="641.1" r="7.9"/><circle cx="223.3" cy="640.4" r="7.9"/><circle cx="224.8" cy="640.2" r="7.9"/><circle cx="226.3" cy="639.9" r="7.9"/><circle cx="227.8" cy="640.7" r="7.9"/><circle cx="229.3" cy="641.5" r="7.9"/><circle cx="230.8" cy="641.5" r="7.9"/><circle cx="232.3" cy="640.6" r="7.9"/><circle cx="233.8" cy="640.5" r="7.9"/><circle cx="235.4" cy="639.8" r="7.9"/><circle cx="236.9" cy="640.6" r="7.9"/><circle cx="238.4" cy="640.1" r="7.9"/><circle cx="239.9" cy="639.7" r="7.9"/><circle cx="241.4" cy="640.9" r="7.9"/><circle cx="242.9" cy="642.3" r="7.9"/><circle cx="244.4" cy="642" r="7.9"/><circle cx="245.9" cy="642.2" r="7.9"/><circle cx="247.5" cy="639.6" r="7.9"/><circle cx="249" cy="641.7" r="7.9"/><circle cx="250.5" cy="640" r="7.9"/><circle cx="252" cy="640.5" r="7.9"/><circle cx="253.5" cy="639.5" r="7.9"/><circle cx="255" cy="640.1" r="7.9"/><circle cx="256.5" cy="641.1" r="7.9"/><circle cx="258.1" cy="641.2" r="7.9"/><circle cx="259.6" cy="640.9" r="7.9"/><circle cx="261.1" cy="640.9" r="7.9"/><circle cx="262.6" cy="641.5" r="7.9"/><circle cx="264.1" cy="641" r="7.9"/><circle cx="265.6" cy="639.6" r="7.9"/><circle cx="267.1" cy="642.4" r="7.9"/><circle cx="268.6" cy="640.8" r="7.9"/><circle cx="270.1" cy="641.8" r="7.9"/><circle cx="271.7" cy="640.8" r="7.9"/><circle cx="273.2" cy="640.3" r="7.9"/><circle cx="274.7" cy="641" r="7.9"/><circle cx="276.2" cy="640.3" r="7.9"/><circle cx="277.7" cy="642.4" r="7.9"/><circle cx="279.2" cy="640.1" r="7.9"/><circle cx="280.7" cy="641.5" r="7.9"/><circle cx="282.2" cy="640.5" r="7.9"/><circle cx="283.8" cy="640.8" r="7.9"/><circle cx="285.3" cy="643.2" r="7.9"/><circle cx="286.8" cy="641.6" r="7.9"/><circle cx="288.3" cy="640.8" r="7.9"/><circle cx="289.8" cy="639.7" r="7.9"/><circle cx="291.3" cy="640.8" r="7.9"/><circle cx="292.8" cy="640.8" r="7.9"/><circle cx="294.4" cy="642.2" r="7.9"/><circle cx="295.9" cy="639.8" r="7.9"/><circle cx="297.4" cy="639.5" r="7.9"/><circle cx="298.9" cy="641" r="7.9"/><circle cx="300.4" cy="641.2" r="7.9"/><circle cx="301.9" cy="642.4" r="7.9"/><circle cx="303.4" cy="640.2" r="7.9"/><circle cx="304.9" cy="638.7" r="7.9"/><circle cx="306.4" cy="640.4" r="7.9"/><circle cx="308" cy="639.9" r="7.9"/><circle cx="309.5" cy="640.5" r="7.9"/><circle cx="311" cy="641.8" r="7.9"/><circle cx="312.5" cy="639.9" r="7.9"/><circle cx="314" cy="642" r="7.9"/><circle cx="315.5" cy="641.2" r="7.9"/><circle cx="317" cy="640.8" r="7.9"/><circle cx="318.6" cy="640.2" r="7.9"/><circle cx="320.1" cy="640.6" r="7.9"/><circle cx="321.6" cy="640.7" r="7.9"/><circle cx="323.1" cy="641.6" r="7.9"/><circle cx="324.6" cy="642.1" r="7.9"/><circle cx="326.1" cy="640.9" r="7.9"/><circle cx="327.6" cy="641.6" r="7.9"/><circle cx="329.1" cy="642.1" r="7.9"/><circle cx="330.6" cy="642.1" r="7.9"/><circle cx="332.2" cy="641.4" r="7.9"/><circle cx="333.7" cy="642.6" r="7.9"/><circle cx="335.2" cy="642.1" r="7.9"/><circle cx="336.7" cy="642.4" r="7.9"/><circle cx="338.2" cy="640.8" r="7.9"/><circle cx="339.7" cy="640.7" r="7.9"/><circle cx="341.2" cy="639.3" r="7.9"/><circle cx="342.8" cy="642.3" r="7.9"/><circle cx="344.3" cy="641.6" r="7.9"/><circle cx="345.8" cy="640.2" r="7.9"/><circle cx="347.3" cy="641.2" r="7.9"/><circle cx="348.8" cy="641.3" r="7.9"/><circle cx="350.3" cy="639.5" r="7.9"/><circle cx="351.8" cy="641.3" r="7.9"/><circle cx="353.3" cy="642" r="7.9"/><circle cx="354.9" cy="642.1" r="7.9"/><circle cx="356.4" cy="640.7" r="7.9"/><circle cx="357.9" cy="640.7" r="7.9"/><circle cx="359.4" cy="642.2" r="7.9"/><circle cx="360.9" cy="641.8" r="7.9"/><circle cx="362.4" cy="640.5" r="7.9"/><circle cx="363.9" cy="640.5" r="7.9"/><circle cx="110.4" cy="642" r="7.9"/><circle cx="109.6" cy="655" r="7.9"/><circle cx="109.6" cy="668.5" r="7.9"/><circle cx="115.4" cy="655" r="7.9"/><circle cx="122" cy="662" r="7.9"/><circle cx="125" cy="650" r="7.9"/><circle cx="131.9" cy="637" r="7.9"/><circle cx="140" cy="648.7" r="7.9"/><circle cx="144" cy="652.8" r="7.9"/><circle cx="141.7" cy="665" r="7.9"/><circle cx="149" cy="676.7" r="7.9"/><circle cx="155" cy="661.9" r="7.9"/><circle cx="166.5" cy="666.8" r="7.9"/><circle cx="162.4" cy="650.3" r="7.9"/><circle cx="148.3" cy="630.5" r="7.9"/><circle cx="192" cy="661.9" r="7.9"/><circle cx="203.6" cy="665" r="7.9"/><circle cx="202" cy="658.6" r="7.9"/><circle cx="216" cy="652" r="7.9"/><circle cx="229" cy="648.7" r="7.9"/><circle cx="270.3" cy="650.3" r="7.9"/><circle cx="280.2" cy="667.6" r="7.9"/><circle cx="113" cy="673" r="7.9"/><circle cx="118" cy="645" r="7.9"/><circle cx="135" cy="652" r="7.9"/><circle cx="383.4" cy="569.1" r="7.9"/><circle cx="385.9" cy="584.1" r="7.9"/><circle cx="381.4" cy="599.2" r="7.9"/><circle cx="414.9" cy="588.2" r="7.9"/><circle cx="353.8" cy="624" r="7.9"/><circle cx="396.3" cy="625.1" r="7.9"/><circle cx="392.2" cy="630.9" r="7.9"/><circle cx="347.6" cy="645.8" r="7.9"/><circle cx="352.8" cy="641.7" r="7.9"/><circle cx="384.3" cy="653" r="7.9"/><circle cx="398" cy="665.5" r="7.9"/><circle cx="411.8" cy="662.4" r="7.9"/><circle cx="360.7" cy="680" r="7.9"/><circle cx="378.7" cy="675.8" r="7.9"/><circle cx="375.6" cy="686.2" r="7.9"/><circle cx="389" cy="701.7" r="7.9"/><circle cx="405.6" cy="695.9" r="7.9"/><circle cx="351.1" cy="712.7" r="7.9"/><circle cx="377.2" cy="710" r="7.9"/><circle cx="407.1" cy="716.9" r="7.9"/><circle cx="363.1" cy="761.4" r="7.9"/><circle cx="394.8" cy="759.7" r="7.9"/><circle cx="399.4" cy="776.3" r="7.9"/><circle cx="400.9" cy="786.3" r="7.9"/><circle cx="402.9" cy="800.8" r="7.9"/><circle cx="361.5" cy="791.8" r="7.9"/><circle cx="379.7" cy="796.6" r="7.9"/><circle cx="412.9" cy="866.4" r="7.9"/><circle cx="387.6" cy="880.3" r="7.9"/><circle cx="366.3" cy="894.8" r="7.9"/><circle cx="367.9" cy="953.4" r="7.9"/><circle cx="370.4" cy="961.7" r="7.9"/><circle cx="371.4" cy="964.8" r="7.9"/><circle cx="403.5" cy="967.9" r="7.9"/><circle cx="416" cy="974.2" r="7.9"/></g>
</g>
<rect x="106.8" y="569.6" width="1209.7" height="408" fill="none" stroke="#000" stroke-width="2" />
<line x1="106.8" y1="977.6" x2="97.2" y2="977.6" stroke="#000" stroke-width="2" />
<line x1="106.8" y1="909.6" x2="97.2" y2="909.6" stroke="#000" stroke-width="2" />
<line x1="106.8" y1="841.6" x2="97.2" y2="841.6" stroke="#000" stroke-width="2" />
<line x1="106.8" y1="773.6" x2="97.2" y2="773.6" stroke="#000" stroke-width="2" />
<line x1="106.8" y1="705.6" x2="97.2" y2="705.6" stroke="#000" stroke-width="2" />
<line x1="106.8" y1="637.6" x2="97.2" y2="637.6" stroke="#000" stroke-width="2" />
<line x1="106.8" y1="569.6" x2="97.2" y2="569.6" stroke="#000" stroke-width="2" />
<line x1="106.8" y1="943.6" x2="101.8" y2="943.6" stroke="#000" stroke-width="2" />
<line x1="106.8" y1="875.6" x2="101.8" y2="875.6" stroke="#000" stroke-width="2" />
<line x1="106.8" y1="807.6" x2="101.8" y2="807.6" stroke="#000" stroke-width="2" />
<line x1="106.8" y1="739.6" x2="101.8" y2="739.6" stroke="#000" stroke-width="2" />
<line x1="106.8" y1="671.6" x2="101.8" y2="671.6" stroke="#000" stroke-width="2" />
<line x1="106.8" y1="603.6" x2="101.8" y2="603.6" stroke="#000" stroke-width="2" />
<line x1="106.8" y1="977.6" x2="106.8" y2="987.2" stroke="#000" stroke-width="2" />
<line x1="182.4" y1="977.6" x2="182.4" y2="987.2" stroke="#000" stroke-width="2" />
<line x1="258.1" y1="977.6" x2="258.1" y2="987.2" stroke="#000" stroke-width="2" />
<line x1="333.7" y1="977.6" x2="333.7" y2="987.2" stroke="#000" stroke-width="2" />
<line x1="409.3" y1="977.6" x2="409.3" y2="987.2" stroke="#000" stroke-width="2" />
<line x1="484.9" y1="977.6" x2="484.9" y2="987.2" stroke="#000" stroke-width="2" />
<line x1="560.5" y1="977.6" x2="560.5" y2="987.2" stroke="#000" stroke-width="2" />
<line x1="636.2" y1="977.6" x2="636.2" y2="987.2" stroke="#000" stroke-width="2" />
<line x1="711.8" y1="977.6" x2="711.8" y2="987.2" stroke="#000" stroke-width="2" />
<line x1="787.4" y1="977.6" x2="787.4" y2="987.2" stroke="#000" stroke-width="2" />
<line x1="863" y1="977.6" x2="863" y2="987.2" stroke="#000" stroke-width="2" />
<line x1="938.7" y1="977.6" x2="938.7" y2="987.2" stroke="#000" stroke-width="2" />
<line x1="1014.3" y1="977.6" x2="1014.3" y2="987.2" stroke="#000" stroke-width="2" />
<line x1="1089.9" y1="977.6" x2="1089.9" y2="987.2" stroke="#000" stroke-width="2" />
<line x1="1165.5" y1="977.6" x2="1165.5" y2="987.2" stroke="#000" stroke-width="2" />
<line x1="1241.2" y1="977.6" x2="1241.2" y2="987.2" stroke="#000" stroke-width="2" />
<line x1="1316.8" y1="977.6" x2="1316.8" y2="987.2" stroke="#000" stroke-width="2" />
<line x1="144.6" y1="977.6" x2="144.6" y2="982.6" stroke="#000" stroke-width="2" />
<line x1="220.2" y1="977.6" x2="220.2" y2="982.6" stroke="#000" stroke-width="2" />
<line x1="295.9" y1="977.6" x2="295.9" y2="982.6" stroke="#000" stroke-width="2" />
<line x1="371.5" y1="977.6" x2="371.5" y2="982.6" stroke="#000" stroke-width="2" />
<line x1="447.1" y1="977.6" x2="447.1" y2="982.6" stroke="#000" stroke-width="2" />
<line x1="522.7" y1="977.6" x2="522.7" y2="982.6" stroke="#000" stroke-width="2" />
<line x1="598.4" y1="977.6" x2="598.4" y2="982.6" stroke="#000" stroke-width="2" />
<line x1="674" y1="977.6" x2="674" y2="982.6" stroke="#000" stroke-width="2" />
<line x1="749.6" y1="977.6" x2="749.6" y2="982.6" stroke="#000" stroke-width="2" />
<line x1="825.2" y1="977.6" x2="825.2" y2="982.6" stroke="#000" stroke-width="2" />
<line x1="900.9" y1="977.6" x2="900.9" y2="982.6" stroke="#000" stroke-width="2" />
<line x1="976.5" y1="977.6" x2="976.5" y2="982.6" stroke="#000" stroke-width="2" />
<line x1="1052.1" y1="977.6" x2="1052.1" y2="982.6" stroke="#000" stroke-width="2" />
<line x1="1127.7" y1="977.6" x2="1127.7" y2="982.6" stroke="#000" stroke-width="2" />
<line x1="1203.4" y1="977.6" x2="1203.4" y2="982.6" stroke="#000" stroke-width="2" />
<line x1="1279" y1="977.6" x2="1279" y2="982.6" stroke="#000" stroke-width="2" />
<text x="106.8" y="1027.5" font-size="26.5" text-anchor="middle" fill="#000" font-family='"Liberation Sans", Arial, sans-serif' transform="translate(106.8 1027.5) scale(1 1.09) translate(-106.8 -1027.5)" >0</text>
<text x="182.4" y="1027.5" font-size="26.5" text-anchor="middle" fill="#000" font-family='"Liberation Sans", Arial, sans-serif' transform="translate(182.4 1027.5) scale(1 1.09) translate(-182.4 -1027.5)" >50</text>
<text x="258.1" y="1027.5" font-size="26.5" text-anchor="middle" fill="#000" font-family='"Liberation Sans", Arial, sans-serif' transform="translate(258.1 1027.5) scale(1 1.09) translate(-258.1 -1027.5)" >100</text>
<text x="333.7" y="1027.5" font-size="26.5" text-anchor="middle" fill="#000" font-family='"Liberation Sans", Arial, sans-serif' transform="translate(333.7 1027.5) scale(1 1.09) translate(-333.7 -1027.5)" >150</text>
<text x="409.3" y="1027.5" font-size="26.5" text-anchor="middle" fill="#000" font-family='"Liberation Sans", Arial, sans-serif' transform="translate(409.3 1027.5) scale(1 1.09) translate(-409.3 -1027.5)" >200</text>
<text x="484.9" y="1027.5" font-size="26.5" text-anchor="middle" fill="#000" font-family='"Liberation Sans", Arial, sans-serif' transform="translate(484.9 1027.5) scale(1 1.09) translate(-484.9 -1027.5)" >250</text>
<text x="560.5" y="1027.5" font-size="26.5" text-anchor="middle" fill="#000" font-family='"Liberation Sans", Arial, sans-serif' transform="translate(560.5 1027.5) scale(1 1.09) translate(-560.5 -1027.5)" >300</text>
<text x="636.2" y="1027.5" font-size="26.5" text-anchor="middle" fill="#000" font-family='"Liberation Sans", Arial, sans-serif' transform="translate(636.2 1027.5) scale(1 1.09) translate(-636.2 -1027.5)" >350</text>
<text x="711.8" y="1027.5" font-size="26.5" text-anchor="middle" fill="#000" font-family='"Liberation Sans", Arial, sans-serif' transform="translate(711.8 1027.5) scale(1 1.09) translate(-711.8 -1027.5)" >400</text>
<text x="787.4" y="1027.5" font-size="26.5" text-anchor="middle" fill="#000" font-family='"Liberation Sans", Arial, sans-serif' transform="translate(787.4 1027.5) scale(1 1.09) translate(-787.4 -1027.5)" >450</text>
<text x="863" y="1027.5" font-size="26.5" text-anchor="middle" fill="#000" font-family='"Liberation Sans", Arial, sans-serif' transform="translate(863 1027.5) scale(1 1.09) translate(-863 -1027.5)" >500</text>
<text x="938.7" y="1027.5" font-size="26.5" text-anchor="middle" fill="#000" font-family='"Liberation Sans", Arial, sans-serif' transform="translate(938.7 1027.5) scale(1 1.09) translate(-938.7 -1027.5)" >550</text>
<text x="1014.3" y="1027.5" font-size="26.5" text-anchor="middle" fill="#000" font-family='"Liberation Sans", Arial, sans-serif' transform="translate(1014.3 1027.5) scale(1 1.09) translate(-1014.3 -1027.5)" >600</text>
<text x="1089.9" y="1027.5" font-size="26.5" text-anchor="middle" fill="#000" font-family='"Liberation Sans", Arial, sans-serif' transform="translate(1089.9 1027.5) scale(1 1.09) translate(-1089.9 -1027.5)" >650</text>
<text x="1165.5" y="1027.5" font-size="26.5" text-anchor="middle" fill="#000" font-family='"Liberation Sans", Arial, sans-serif' transform="translate(1165.5 1027.5) scale(1 1.09) translate(-1165.5 -1027.5)" >700</text>
<text x="1241.2" y="1027.5" font-size="26.5" text-anchor="middle" fill="#000" font-family='"Liberation Sans", Arial, sans-serif' transform="translate(1241.2 1027.5) scale(1 1.09) translate(-1241.2 -1027.5)" >750</text>
<text x="1316.8" y="1027.5" font-size="26.5" text-anchor="middle" fill="#000" font-family='"Liberation Sans", Arial, sans-serif' transform="translate(1316.8 1027.5) scale(1 1.09) translate(-1316.8 -1027.5)" >800</text>
<text x="87" y="987.1" font-size="26.5" text-anchor="end" fill="#000" font-family='"Liberation Sans", Arial, sans-serif' transform="translate(87 987.1) scale(1 1.09) translate(-87 -987.1)" >0</text>
<text x="87" y="919.1" font-size="26.5" text-anchor="end" fill="#000" font-family='"Liberation Sans", Arial, sans-serif' transform="translate(87 919.1) scale(1 1.09) translate(-87 -919.1)" >20</text>
<text x="87" y="851.1" font-size="26.5" text-anchor="end" fill="#000" font-family='"Liberation Sans", Arial, sans-serif' transform="translate(87 851.1) scale(1 1.09) translate(-87 -851.1)" >40</text>
<text x="87" y="783.1" font-size="26.5" text-anchor="end" fill="#000" font-family='"Liberation Sans", Arial, sans-serif' transform="translate(87 783.1) scale(1 1.09) translate(-87 -783.1)" >60</text>
<text x="87" y="715.1" font-size="26.5" text-anchor="end" fill="#000" font-family='"Liberation Sans", Arial, sans-serif' transform="translate(87 715.1) scale(1 1.09) translate(-87 -715.1)" >80</text>
<text x="87" y="647.1" font-size="26.5" text-anchor="end" fill="#000" font-family='"Liberation Sans", Arial, sans-serif' transform="translate(87 647.1) scale(1 1.09) translate(-87 -647.1)" >100</text>
<text x="87" y="579.1" font-size="26.5" text-anchor="end" fill="#000" font-family='"Liberation Sans", Arial, sans-serif' transform="translate(87 579.1) scale(1 1.09) translate(-87 -579.1)" >120</text>
<text x="30.8" y="772.6" font-size="27" text-anchor="middle" fill="#000" font-family='"Liberation Sans", Arial, sans-serif' transform="rotate(-90 30.8 772.6) translate(30.8 772.6) scale(1 1.09) translate(-30.8 -772.6)" >Coulomic effciency (%)</text>
<text x="769.6" y="1068.4" font-size="27" text-anchor="middle" fill="#000" font-family='"Liberation Sans", Arial, sans-serif' transform="translate(769.6 1068.4) scale(1 1.09) translate(-769.6 -1068.4)" >Cycle number</text>
<line x1="560.6" y1="600" x2="560.6" y2="630.7" stroke="#000" stroke-width="2" />
<line x1="568" y1="614.3" x2="1305" y2="614.3" stroke="#000" stroke-width="2" />
<path d="M561.5 614.3 L577 610 L577 618.6 Z" fill="#000"/>
<path d="M1314.5 614.3 L1299 610 L1299 618.6 Z" fill="#000"/>
<text x="848.5" y="603.6" font-size="29" fill="#000" font-family='"Liberation Sans", Arial, sans-serif' transform="translate(848.5 603.6) scale(1 1.09) translate(-848.5 -603.6)" >Average CE 99.24%</text>
<text x="159.6" y="881.5" font-size="26.5" fill="#000" font-family='"Liberation Sans", Arial, sans-serif' transform="translate(159.6 881.5) scale(1 1.09) translate(-159.6 -881.5)" >25 <tspan font-family='"DejaVu Serif", serif' font-size="23.9">℃</tspan></text>
<text x="122.5" y="918" font-size="26.5" fill="#000" font-family='"Liberation Sans", Arial, sans-serif' transform="translate(122.5 918) scale(1 1.09) translate(-122.5 -918)" >0.5 mA cm<tspan dy="-10" font-size="17">-2</tspan></text>
<text x="123" y="953.8" font-size="26.5" fill="#000" font-family='"Liberation Sans", Arial, sans-serif' transform="translate(123 953.8) scale(1 1.09) translate(-123 -953.8)" >1 mAh cm<tspan dy="-10" font-size="17">-2</tspan></text>
<g fill="url(#gG)"><circle cx="438.1" cy="894" r="7.9"/></g>
<g fill="url(#gB)"><circle cx="438.1" cy="927.1" r="7.9"/></g>
<g fill="url(#gO)"><circle cx="438.1" cy="959.7" r="7.9"/></g>
<text x="475" y="904.6" font-size="26.5" fill="#000" font-family='"Liberation Sans", Arial, sans-serif' transform="translate(475 904.6) scale(1 1.09) translate(-475 -904.6)" >1 M LiFSI in DME</text>
<text x="475" y="937.3" font-size="26.5" fill="#000" font-family='"Liberation Sans", Arial, sans-serif' transform="translate(475 937.3) scale(1 1.09) translate(-475 -937.3)" >1 M LiFSI in DEA</text>
<text x="475" y="970" font-size="26.5" fill="#000" font-family='"Liberation Sans", Arial, sans-serif' transform="translate(475 970) scale(1 1.09) translate(-475 -970)" >1 M LiFSI in DEA/FB (1:1 v/v)</text>
<rect x="833.7" y="660.2" width="455.3" height="240.3" fill="#fff" stroke="none" stroke-width="0" />
<g clip-path="url(#clipci)">
<g fill="url(#gO)"><circle cx="833.7" cy="708.1" r="7.6"/><circle cx="838.2" cy="705.3" r="7.6"/><circle cx="842.8" cy="709.7" r="7.6"/><circle cx="847.3" cy="708.7" r="7.6"/><circle cx="851.9" cy="705.9" r="7.6"/><circle cx="856.4" cy="710.6" r="7.6"/><circle cx="861" cy="708.5" r="7.6"/><circle cx="865.5" cy="710.8" r="7.6"/><circle cx="870.1" cy="707.6" r="7.6"/><circle cx="874.6" cy="704.2" r="7.6"/><circle cx="879.2" cy="709.5" r="7.6"/><circle cx="883.7" cy="707.3" r="7.6"/><circle cx="888.3" cy="709.7" r="7.6"/><circle cx="892.8" cy="710.3" r="7.6"/><circle cx="897.4" cy="710.4" r="7.6"/><circle cx="901.9" cy="704.5" r="7.6"/><circle cx="906.5" cy="702.5" r="7.6"/><circle cx="911" cy="706.6" r="7.6"/><circle cx="915.6" cy="709.2" r="7.6"/><circle cx="920.1" cy="706.1" r="7.6"/><circle cx="924.7" cy="708.3" r="7.6"/><circle cx="929.2" cy="705.8" r="7.6"/><circle cx="933.8" cy="706.9" r="7.6"/><circle cx="938.3" cy="706.9" r="7.6"/><circle cx="942.9" cy="706.2" r="7.6"/><circle cx="947.4" cy="708.8" r="7.6"/><circle cx="951.9" cy="708.4" r="7.6"/><circle cx="956.5" cy="711.2" r="7.6"/><circle cx="961" cy="708.4" r="7.6"/><circle cx="965.6" cy="710.5" r="7.6"/><circle cx="970.1" cy="707.7" r="7.6"/><circle cx="974.7" cy="709.5" r="7.6"/><circle cx="979.2" cy="707.1" r="7.6"/><circle cx="983.8" cy="706.3" r="7.6"/><circle cx="988.3" cy="710.4" r="7.6"/><circle cx="992.9" cy="709.1" r="7.6"/><circle cx="997.4" cy="709.4" r="7.6"/><circle cx="1002" cy="705.6" r="7.6"/><circle cx="1006.5" cy="703.5" r="7.6"/><circle cx="1011.1" cy="705.3" r="7.6"/><circle cx="1015.6" cy="708" r="7.6"/><circle cx="1020.2" cy="704" r="7.6"/><circle cx="1024.7" cy="710.5" r="7.6"/><circle cx="1029.3" cy="703.8" r="7.6"/><circle cx="1033.8" cy="708.6" r="7.6"/><circle cx="1038.4" cy="713.2" r="7.6"/><circle cx="1042.9" cy="701.2" r="7.6"/><circle cx="1047.5" cy="703.6" r="7.6"/><circle cx="1052" cy="709.3" r="7.6"/><circle cx="1056.6" cy="706.6" r="7.6"/><circle cx="1061.1" cy="707.5" r="7.6"/><circle cx="1065.6" cy="706.8" r="7.6"/><circle cx="1070.2" cy="710.2" r="7.6"/><circle cx="1074.7" cy="708.4" r="7.6"/><circle cx="1079.3" cy="705.9" r="7.6"/><circle cx="1083.8" cy="706.4" r="7.6"/><circle cx="1088.4" cy="704.2" r="7.6"/><circle cx="1092.9" cy="706.7" r="7.6"/><circle cx="1097.5" cy="701.7" r="7.6"/><circle cx="1102" cy="708.4" r="7.6"/><circle cx="1106.6" cy="706.2" r="7.6"/><circle cx="1111.1" cy="711" r="7.6"/><circle cx="1115.7" cy="709.5" r="7.6"/><circle cx="1120.2" cy="703.8" r="7.6"/><circle cx="1124.8" cy="708.8" r="7.6"/><circle cx="1129.3" cy="705.5" r="7.6"/><circle cx="1133.9" cy="706.8" r="7.6"/><circle cx="1138.4" cy="709" r="7.6"/><circle cx="1143" cy="707.4" r="7.6"/><circle cx="1147.5" cy="707.8" r="7.6"/><circle cx="1152.1" cy="707.7" r="7.6"/><circle cx="1156.6" cy="704.9" r="7.6"/><circle cx="1161.2" cy="705.1" r="7.6"/><circle cx="1165.7" cy="707.8" r="7.6"/><circle cx="1170.3" cy="708.5" r="7.6"/><circle cx="1174.8" cy="705.9" r="7.6"/><circle cx="1179.3" cy="706.7" r="7.6"/><circle cx="1183.9" cy="704.2" r="7.6"/><circle cx="1188.4" cy="700.6" r="7.6"/><circle cx="1193" cy="704.6" r="7.6"/><circle cx="1197.5" cy="706.5" r="7.6"/><circle cx="1202.1" cy="706.8" r="7.6"/><circle cx="1206.6" cy="708.2" r="7.6"/><circle cx="1211.2" cy="708.3" r="7.6"/><circle cx="1215.7" cy="708.5" r="7.6"/><circle cx="1220.3" cy="707.2" r="7.6"/><circle cx="1224.8" cy="707.2" r="7.6"/><circle cx="1229.4" cy="704.6" r="7.6"/><circle cx="1233.9" cy="707.1" r="7.6"/><circle cx="1238.5" cy="706.7" r="7.6"/><circle cx="1243" cy="708.9" r="7.6"/><circle cx="1247.6" cy="702.6" r="7.6"/><circle cx="1252.1" cy="705" r="7.6"/><circle cx="1256.7" cy="702.2" r="7.6"/><circle cx="1261.2" cy="704.4" r="7.6"/><circle cx="1265.8" cy="702.8" r="7.6"/><circle cx="1270.3" cy="706.6" r="7.6"/><circle cx="1274.9" cy="704.5" r="7.6"/><circle cx="1279.4" cy="700.1" r="7.6"/><circle cx="1284" cy="708.7" r="7.6"/><circle cx="1288.5" cy="703.4" r="7.6"/></g>
<g fill="url(#gB)"><circle cx="833.7" cy="712" r="7.6"/><circle cx="838.2" cy="713.9" r="7.6"/><circle cx="842.8" cy="713.4" r="7.6"/><circle cx="847.3" cy="712.6" r="7.6"/><circle cx="851.9" cy="715.5" r="7.6"/><circle cx="856.4" cy="713.9" r="7.6"/><circle cx="861" cy="715.8" r="7.6"/><circle cx="865.5" cy="715.5" r="7.6"/><circle cx="870.1" cy="715.4" r="7.6"/><circle cx="874.6" cy="714.7" r="7.6"/><circle cx="879.2" cy="714.3" r="7.6"/><circle cx="883.7" cy="713.8" r="7.6"/><circle cx="888.3" cy="716.7" r="7.6"/><circle cx="892.8" cy="711.5" r="7.6"/><circle cx="897.4" cy="712.7" r="7.6"/><circle cx="901.9" cy="713.4" r="7.6"/><circle cx="906.5" cy="715" r="7.6"/><circle cx="911" cy="714.6" r="7.6"/><circle cx="915.6" cy="713.7" r="7.6"/><circle cx="920.1" cy="713.9" r="7.6"/><circle cx="924.7" cy="717.1" r="7.6"/><circle cx="929.2" cy="713.4" r="7.6"/><circle cx="933.8" cy="710" r="7.6"/><circle cx="938.3" cy="717.3" r="7.6"/><circle cx="942.9" cy="713" r="7.6"/><circle cx="947.4" cy="713.9" r="7.6"/><circle cx="951.9" cy="714.7" r="7.6"/><circle cx="956.5" cy="712.4" r="7.6"/><circle cx="961" cy="716.3" r="7.6"/><circle cx="965.6" cy="714.2" r="7.6"/><circle cx="970.1" cy="712.2" r="7.6"/><circle cx="974.7" cy="714.8" r="7.6"/><circle cx="979.2" cy="715.1" r="7.6"/><circle cx="983.8" cy="714.3" r="7.6"/><circle cx="988.3" cy="715.2" r="7.6"/><circle cx="992.9" cy="712.1" r="7.6"/><circle cx="997.4" cy="715.9" r="7.6"/><circle cx="1002" cy="713.2" r="7.6"/><circle cx="1006.5" cy="716.4" r="7.6"/><circle cx="1011.1" cy="713.5" r="7.6"/><circle cx="1015.6" cy="714.7" r="7.6"/><circle cx="1020.2" cy="718.5" r="7.6"/><circle cx="1024.7" cy="714.5" r="7.6"/><circle cx="1029.3" cy="716.1" r="7.6"/><circle cx="1033.8" cy="715.2" r="7.6"/><circle cx="1038.4" cy="712.1" r="7.6"/><circle cx="1042.9" cy="716.2" r="7.6"/><circle cx="1047.5" cy="716.1" r="7.6"/><circle cx="1052" cy="712.3" r="7.6"/><circle cx="1056.6" cy="714.3" r="7.6"/><circle cx="1061.1" cy="712.1" r="7.6"/><circle cx="1065.6" cy="714" r="7.6"/><circle cx="1070.2" cy="715.9" r="7.6"/><circle cx="1074.7" cy="714.6" r="7.6"/><circle cx="1079.3" cy="712.6" r="7.6"/><circle cx="1083.8" cy="713" r="7.6"/><circle cx="1088.4" cy="714.5" r="7.6"/><circle cx="1092.9" cy="714.4" r="7.6"/><circle cx="1097.5" cy="714.7" r="7.6"/><circle cx="1102" cy="715.4" r="7.6"/><circle cx="1106.6" cy="711.5" r="7.6"/><circle cx="1111.1" cy="714.5" r="7.6"/><circle cx="1115.7" cy="716.2" r="7.6"/><circle cx="1120.2" cy="715.2" r="7.6"/><circle cx="1124.8" cy="713.4" r="7.6"/><circle cx="1129.3" cy="713.5" r="7.6"/><circle cx="1133.9" cy="714.7" r="7.6"/><circle cx="1138.4" cy="715.5" r="7.6"/><circle cx="1143" cy="714.5" r="7.6"/><circle cx="1147.5" cy="717.1" r="7.6"/><circle cx="1152.1" cy="716.5" r="7.6"/><circle cx="1156.6" cy="713.3" r="7.6"/><circle cx="1161.2" cy="715.2" r="7.6"/><circle cx="1165.7" cy="713.9" r="7.6"/><circle cx="1170.3" cy="712.6" r="7.6"/><circle cx="1174.8" cy="713.5" r="7.6"/><circle cx="1179.3" cy="714.5" r="7.6"/><circle cx="1183.9" cy="711.2" r="7.6"/><circle cx="1188.4" cy="713.5" r="7.6"/><circle cx="1193" cy="715" r="7.6"/><circle cx="1197.5" cy="713.4" r="7.6"/><circle cx="1202.1" cy="713.9" r="7.6"/><circle cx="1206.6" cy="715.8" r="7.6"/><circle cx="1211.2" cy="714.4" r="7.6"/><circle cx="1215.7" cy="714.8" r="7.6"/><circle cx="1220.3" cy="717.5" r="7.6"/><circle cx="1224.8" cy="714.8" r="7.6"/><circle cx="1229.4" cy="714.9" r="7.6"/><circle cx="1233.9" cy="715.2" r="7.6"/><circle cx="1238.5" cy="717" r="7.6"/><circle cx="1243" cy="715" r="7.6"/><circle cx="1247.6" cy="714.6" r="7.6"/><circle cx="1252.1" cy="714.3" r="7.6"/><circle cx="1256.7" cy="716.3" r="7.6"/><circle cx="1261.2" cy="713.5" r="7.6"/><circle cx="1265.8" cy="716.4" r="7.6"/><circle cx="1270.3" cy="714.8" r="7.6"/><circle cx="1274.9" cy="712.5" r="7.6"/><circle cx="1279.4" cy="715.6" r="7.6"/><circle cx="1284" cy="715.3" r="7.6"/><circle cx="1288.5" cy="712.8" r="7.6"/></g>
<g fill="url(#gGd)"><circle cx="833.7" cy="712.8" r="7.6"/><circle cx="838.2" cy="712.7" r="7.6"/><circle cx="842.8" cy="711.6" r="7.6"/><circle cx="847.3" cy="710" r="7.6"/><circle cx="851.9" cy="716.7" r="7.6"/><circle cx="856.4" cy="713.9" r="7.6"/><circle cx="861" cy="714.3" r="7.6"/><circle cx="865.5" cy="714.5" r="7.6"/><circle cx="870.1" cy="714.1" r="7.6"/><circle cx="874.6" cy="714.1" r="7.6"/><circle cx="879.2" cy="711.8" r="7.6"/><circle cx="883.7" cy="714.3" r="7.6"/><circle cx="888.3" cy="712.2" r="7.6"/><circle cx="892.8" cy="711.7" r="7.6"/><circle cx="897.4" cy="714.1" r="7.6"/><circle cx="901.9" cy="712.3" r="7.6"/><circle cx="906.5" cy="709.3" r="7.6"/><circle cx="911" cy="712" r="7.6"/><circle cx="915.6" cy="714" r="7.6"/><circle cx="920.1" cy="712.9" r="7.6"/><circle cx="924.7" cy="714.7" r="7.6"/><circle cx="929.2" cy="712.3" r="7.6"/><circle cx="933.8" cy="711.1" r="7.6"/><circle cx="938.3" cy="714.6" r="7.6"/><circle cx="942.9" cy="713.4" r="7.6"/><circle cx="947.4" cy="710.7" r="7.6"/><circle cx="951.9" cy="714.1" r="7.6"/><circle cx="956.5" cy="712.7" r="7.6"/><circle cx="961" cy="715.2" r="7.6"/><circle cx="965.6" cy="714.8" r="7.6"/><circle cx="970.1" cy="714.2" r="7.6"/><circle cx="974.7" cy="708.9" r="7.6"/><circle cx="979.2" cy="714.1" r="7.6"/><circle cx="983.8" cy="714.4" r="7.6"/><circle cx="988.3" cy="714.5" r="7.6"/><circle cx="992.9" cy="713.7" r="7.6"/><circle cx="997.4" cy="712.1" r="7.6"/><circle cx="1002" cy="713.1" r="7.6"/><circle cx="1006.5" cy="709.4" r="7.6"/><circle cx="1011.1" cy="713.1" r="7.6"/><circle cx="1015.6" cy="710.7" r="7.6"/><circle cx="1020.2" cy="713.1" r="7.6"/><circle cx="1024.7" cy="712.5" r="7.6"/><circle cx="1029.3" cy="716.6" r="7.6"/><circle cx="1033.8" cy="714" r="7.6"/><circle cx="1038.4" cy="713.9" r="7.6"/><circle cx="1042.9" cy="714.3" r="7.6"/><circle cx="1047.5" cy="718.2" r="7.6"/><circle cx="1052" cy="712.2" r="7.6"/><circle cx="1056.6" cy="714.7" r="7.6"/><circle cx="1061.1" cy="714.9" r="7.6"/><circle cx="1065.6" cy="714.6" r="7.6"/><circle cx="1070.2" cy="714.5" r="7.6"/><circle cx="1074.7" cy="713.3" r="7.6"/><circle cx="1079.3" cy="716.7" r="7.6"/><circle cx="1083.8" cy="716.1" r="7.6"/><circle cx="1088.4" cy="713.7" r="7.6"/><circle cx="1092.9" cy="714" r="7.6"/><circle cx="1097.5" cy="715.1" r="7.6"/><circle cx="1102" cy="715.5" r="7.6"/><circle cx="1106.6" cy="716.1" r="7.6"/><circle cx="875" cy="737.3" r="7.6"/><circle cx="901.9" cy="789.2" r="7.6"/><circle cx="919.7" cy="721.2" r="7.6"/><circle cx="1125.8" cy="663.5" r="7.6"/><circle cx="1129.6" cy="716.2" r="7.6"/><circle cx="1106.5" cy="726.9" r="7.6"/><circle cx="1144.2" cy="826.9" r="7.6"/><circle cx="1189.6" cy="844.2" r="7.6"/><circle cx="1198.8" cy="815.4" r="7.6"/><circle cx="1216.5" cy="749.6" r="7.6"/><circle cx="1230.8" cy="890.4" r="7.6"/><circle cx="1239.6" cy="680.8" r="7.6"/><circle cx="1253.8" cy="668" r="7.6"/><circle cx="1257.7" cy="783.5" r="7.6"/><circle cx="1280.8" cy="873.1" r="7.6"/></g>
</g>
<rect x="833.7" y="660.2" width="455.3" height="240.3" fill="none" stroke="#000" stroke-width="2" />
<line x1="833.7" y1="900.5" x2="826.1" y2="900.5" stroke="#000" stroke-width="2" />
<line x1="833.7" y1="800.5" x2="826.1" y2="800.5" stroke="#000" stroke-width="2" />
<line x1="833.7" y1="700.5" x2="826.1" y2="700.5" stroke="#000" stroke-width="2" />
<line x1="833.7" y1="850.5" x2="829.7" y2="850.5" stroke="#000" stroke-width="2" />
<line x1="833.7" y1="750.5" x2="829.7" y2="750.5" stroke="#000" stroke-width="2" />
<line x1="833.7" y1="900.5" x2="833.7" y2="908.4" stroke="#000" stroke-width="2" />
<line x1="924.7" y1="900.5" x2="924.7" y2="908.4" stroke="#000" stroke-width="2" />
<line x1="1015.6" y1="900.5" x2="1015.6" y2="908.4" stroke="#000" stroke-width="2" />
<line x1="1106.6" y1="900.5" x2="1106.6" y2="908.4" stroke="#000" stroke-width="2" />
<line x1="1197.5" y1="900.5" x2="1197.5" y2="908.4" stroke="#000" stroke-width="2" />
<line x1="1288.5" y1="900.5" x2="1288.5" y2="908.4" stroke="#000" stroke-width="2" />
<line x1="879.2" y1="900.5" x2="879.2" y2="904.5" stroke="#000" stroke-width="2" />
<line x1="970.1" y1="900.5" x2="970.1" y2="904.5" stroke="#000" stroke-width="2" />
<line x1="1061.1" y1="900.5" x2="1061.1" y2="904.5" stroke="#000" stroke-width="2" />
<line x1="1152.1" y1="900.5" x2="1152.1" y2="904.5" stroke="#000" stroke-width="2" />
<line x1="1243" y1="900.5" x2="1243" y2="904.5" stroke="#000" stroke-width="2" />
<text x="833.7" y="934.8" font-size="24" text-anchor="middle" fill="#000" font-family='"Liberation Sans", Arial, sans-serif' transform="translate(833.7 934.8) scale(1 1.09) translate(-833.7 -934.8)" >100</text>
<text x="924.7" y="934.8" font-size="24" text-anchor="middle" fill="#000" font-family='"Liberation Sans", Arial, sans-serif' transform="translate(924.7 934.8) scale(1 1.09) translate(-924.7 -934.8)" >120</text>
<text x="1015.6" y="934.8" font-size="24" text-anchor="middle" fill="#000" font-family='"Liberation Sans", Arial, sans-serif' transform="translate(1015.6 934.8) scale(1 1.09) translate(-1015.6 -934.8)" >140</text>
<text x="1106.6" y="934.8" font-size="24" text-anchor="middle" fill="#000" font-family='"Liberation Sans", Arial, sans-serif' transform="translate(1106.6 934.8) scale(1 1.09) translate(-1106.6 -934.8)" >160</text>
<text x="1197.5" y="934.8" font-size="24" text-anchor="middle" fill="#000" font-family='"Liberation Sans", Arial, sans-serif' transform="translate(1197.5 934.8) scale(1 1.09) translate(-1197.5 -934.8)" >180</text>
<text x="1288.5" y="934.8" font-size="24" text-anchor="middle" fill="#000" font-family='"Liberation Sans", Arial, sans-serif' transform="translate(1288.5 934.8) scale(1 1.09) translate(-1288.5 -934.8)" >200</text>
<text x="818" y="909.1" font-size="24" text-anchor="end" fill="#000" font-family='"Liberation Sans", Arial, sans-serif' transform="translate(818 909.1) scale(1 1.09) translate(-818 -909.1)" >80</text>
<text x="818" y="809.1" font-size="24" text-anchor="end" fill="#000" font-family='"Liberation Sans", Arial, sans-serif' transform="translate(818 809.1) scale(1 1.09) translate(-818 -809.1)" >90</text>
<text x="818" y="709.1" font-size="24" text-anchor="end" fill="#000" font-family='"Liberation Sans", Arial, sans-serif' transform="translate(818 709.1) scale(1 1.09) translate(-818 -709.1)" >100</text>
<text x="770.7" y="806" font-size="25" text-anchor="middle" fill="#000" font-family='"Liberation Sans", Arial, sans-serif' transform="rotate(-90 770.7 806) translate(770.7 806) scale(1 1.09) translate(-770.7 -806)" >Coulomic effciency (%)</text>
<text x="1085.5" y="958.5" font-size="25" text-anchor="middle" fill="#000" font-family='"Liberation Sans", Arial, sans-serif' transform="translate(1085.5 958.5) scale(1 1.09) translate(-1085.5 -958.5)" >Cycle number</text>
<text x="1344.7" y="560.9" font-size="45" font-weight="bold" fill="#000" font-family='"Liberation Sans", Arial, sans-serif' transform="translate(1344.7 560.9) scale(1 1.03) translate(-1344.7 -560.9)" >d</text>
<line x1="1467.1" y1="922.1" x2="1455.1" y2="585" stroke="#d9d9d9" stroke-width="1" />
<line x1="1515.8" y1="904" x2="1507" y2="576.9" stroke="#d9d9d9" stroke-width="1" />
<line x1="1561.6" y1="887" x2="1555.6" y2="569.3" stroke="#d9d9d9" stroke-width="1" />
<line x1="1604.7" y1="870.9" x2="1601.3" y2="562.2" stroke="#d9d9d9" stroke-width="1" />
<line x1="1645.3" y1="855.8" x2="1644.2" y2="555.5" stroke="#d9d9d9" stroke-width="1" />
<line x1="1437.7" y1="891.8" x2="1664.4" y2="813.3" stroke="#d9d9d9" stroke-width="1" />
<line x1="1436" y1="850.5" x2="1664.4" y2="777.4" stroke="#d9d9d9" stroke-width="1" />
<line x1="1434.3" y1="808.7" x2="1664.4" y2="741.1" stroke="#d9d9d9" stroke-width="1" />
<line x1="1432.5" y1="766.2" x2="1664.4" y2="704.3" stroke="#d9d9d9" stroke-width="1" />
<line x1="1430.8" y1="723" x2="1664.4" y2="667.1" stroke="#d9d9d9" stroke-width="1" />
<line x1="1429" y1="679.3" x2="1664.4" y2="629.3" stroke="#d9d9d9" stroke-width="1" />
<line x1="1427.2" y1="634.8" x2="1664.3" y2="591.1" stroke="#d9d9d9" stroke-width="1" />
<line x1="1684.3" y1="854.2" x2="1685.3" y2="554.9" stroke="#d9d9d9" stroke-width="1" />
<line x1="1731.4" y1="867.2" x2="1735" y2="560.8" stroke="#d9d9d9" stroke-width="1" />
<line x1="1780.9" y1="880.9" x2="1787.3" y2="567.1" stroke="#d9d9d9" stroke-width="1" />
<line x1="1832.9" y1="895.2" x2="1842.5" y2="573.8" stroke="#d9d9d9" stroke-width="1" />
<line x1="1887.7" y1="910.4" x2="1900.8" y2="580.8" stroke="#d9d9d9" stroke-width="1" />
<line x1="1664.4" y1="813.3" x2="1920.9" y2="879.3" stroke="#d9d9d9" stroke-width="1" />
<line x1="1664.4" y1="777.4" x2="1922.8" y2="839.1" stroke="#d9d9d9" stroke-width="1" />
<line x1="1664.4" y1="741.1" x2="1924.6" y2="798.2" stroke="#d9d9d9" stroke-width="1" />
<line x1="1664.4" y1="704.3" x2="1926.5" y2="756.8" stroke="#d9d9d9" stroke-width="1" />
<line x1="1664.4" y1="667.1" x2="1928.4" y2="714.7" stroke="#d9d9d9" stroke-width="1" />
<line x1="1664.4" y1="629.3" x2="1930.4" y2="672.1" stroke="#d9d9d9" stroke-width="1" />
<line x1="1664.3" y1="591.1" x2="1932.3" y2="628.7" stroke="#d9d9d9" stroke-width="1" />
<line x1="1459.8" y1="939.9" x2="1684.3" y2="854.2" stroke="#d9d9d9" stroke-width="1" />
<line x1="1508.5" y1="957.5" x2="1731.4" y2="867.2" stroke="#d9d9d9" stroke-width="1" />
<line x1="1560" y1="976.3" x2="1780.9" y2="880.9" stroke="#d9d9d9" stroke-width="1" />
<line x1="1614.7" y1="996.2" x2="1832.9" y2="895.2" stroke="#d9d9d9" stroke-width="1" />
<line x1="1672.9" y1="1017.3" x2="1887.7" y2="910.4" stroke="#d9d9d9" stroke-width="1" />
<line x1="1467.1" y1="922.1" x2="1733.3" y2="1015.6" stroke="#d9d9d9" stroke-width="1" />
<line x1="1515.8" y1="904" x2="1779.8" y2="991.4" stroke="#d9d9d9" stroke-width="1" />
<line x1="1561.6" y1="887" x2="1823.2" y2="968.9" stroke="#d9d9d9" stroke-width="1" />
<line x1="1604.7" y1="870.9" x2="1863.6" y2="947.9" stroke="#d9d9d9" stroke-width="1" />
<line x1="1645.3" y1="855.8" x2="1901.4" y2="928.2" stroke="#d9d9d9" stroke-width="1" />
<line x1="1425.3" y1="589.7" x2="1664.3" y2="552.4" stroke="#8c8c8c" stroke-width="1.2" />
<line x1="1664.3" y1="552.4" x2="1934.3" y2="584.8" stroke="#8c8c8c" stroke-width="1.2" />
<line x1="1664.4" y1="848.7" x2="1664.3" y2="552.4" stroke="#8c8c8c" stroke-width="1.2" />
<line x1="1919.1" y1="919" x2="1934.3" y2="584.8" stroke="#8c8c8c" stroke-width="1.2" />
<line x1="1439.3" y1="932.4" x2="1664.4" y2="848.7" stroke="#8c8c8c" stroke-width="1.2" />
<line x1="1664.4" y1="848.7" x2="1919.1" y2="919" stroke="#8c8c8c" stroke-width="1.2" />
<line x1="1631.5" y1="604.2" x2="1633.1" y2="873.8" stroke="#f05a50" stroke-width="1.6" stroke-dasharray="6 4"/>
<line x1="1631.5" y1="604.2" x2="1610.4" y2="601" stroke="#f05a50" stroke-width="1.6" stroke-dasharray="6 4"/>
<line x1="1631.5" y1="604.2" x2="1685.2" y2="594" stroke="#f05a50" stroke-width="1.6" stroke-dasharray="6 4"/>
<line x1="1684.5" y1="679.2" x2="1683.9" y2="866.8" stroke="#2848e8" stroke-width="1.6" stroke-dasharray="6 4"/>
<line x1="1684.5" y1="679.2" x2="1644.6" y2="671.8" stroke="#2848e8" stroke-width="1.6" stroke-dasharray="6 4"/>
<line x1="1684.5" y1="679.2" x2="1704.1" y2="674.2" stroke="#2848e8" stroke-width="1.6" stroke-dasharray="6 4"/>
<line x1="1578.9" y1="696.9" x2="1581.8" y2="893.3" stroke="#ff3c9c" stroke-width="1.6" stroke-dasharray="6 4"/>
<line x1="1578.9" y1="696.9" x2="1557.9" y2="692.6" stroke="#ff3c9c" stroke-width="1.6" stroke-dasharray="6 4"/>
<line x1="1578.9" y1="696.9" x2="1684.9" y2="670.8" stroke="#ff3c9c" stroke-width="1.6" stroke-dasharray="6 4"/>
<line x1="1628.8" y1="748.5" x2="1629.9" y2="908.4" stroke="#e050f0" stroke-width="1.6" stroke-dasharray="6 4"/>
<line x1="1628.8" y1="748.5" x2="1558.7" y2="732.5" stroke="#e050f0" stroke-width="1.6" stroke-dasharray="6 4"/>
<line x1="1628.8" y1="748.5" x2="1733.2" y2="718.1" stroke="#e050f0" stroke-width="1.6" stroke-dasharray="6 4"/>
<line x1="1815.7" y1="782.9" x2="1811.4" y2="948.4" stroke="#ff3c9c" stroke-width="1.6" stroke-dasharray="6 4"/>
<line x1="1815.7" y1="782.9" x2="1581.2" y2="730.4" stroke="#ff3c9c" stroke-width="1.6" stroke-dasharray="6 4"/>
<line x1="1815.7" y1="782.9" x2="1893.9" y2="754.4" stroke="#ff3c9c" stroke-width="1.6" stroke-dasharray="6 4"/>
<line x1="1610.7" y1="826.2" x2="1612" y2="953.8" stroke="#e050f0" stroke-width="1.6" stroke-dasharray="6 4"/>
<line x1="1610.7" y1="826.2" x2="1488.1" y2="792.9" stroke="#e050f0" stroke-width="1.6" stroke-dasharray="6 4"/>
<line x1="1610.7" y1="826.2" x2="1783.2" y2="767.2" stroke="#e050f0" stroke-width="1.6" stroke-dasharray="6 4"/>
<line x1="1622.4" y1="841.2" x2="1622.7" y2="877.7" stroke="#2848e8" stroke-width="1.6" stroke-dasharray="6 4"/>
<line x1="1622.4" y1="841.2" x2="1602.1" y2="835.6" stroke="#2848e8" stroke-width="1.6" stroke-dasharray="6 4"/>
<line x1="1622.4" y1="841.2" x2="1684.4" y2="819.2" stroke="#2848e8" stroke-width="1.6" stroke-dasharray="6 4"/>
<line x1="1536.7" y1="832.4" x2="1538.5" y2="909.8" stroke="#2848e8" stroke-width="1.6" stroke-dasharray="6 4"/>
<line x1="1536.7" y1="832.4" x2="1516.1" y2="826.5" stroke="#2848e8" stroke-width="1.6" stroke-dasharray="6 4"/>
<line x1="1536.7" y1="832.4" x2="1684.6" y2="783.7" stroke="#2848e8" stroke-width="1.6" stroke-dasharray="6 4"/>
<line x1="1674.1" y1="852.1" x2="1674" y2="927.1" stroke="#b8b8b8" stroke-width="1.6" stroke-dasharray="6 4"/>
<line x1="1674.1" y1="852.1" x2="1553.5" y2="818.8" stroke="#b8b8b8" stroke-width="1.6" stroke-dasharray="6 4"/>
<line x1="1674.1" y1="852.1" x2="1782.3" y2="811.3" stroke="#b8b8b8" stroke-width="1.6" stroke-dasharray="6 4"/>
<line x1="1725.3" y1="847" x2="1724.7" y2="905.1" stroke="#2848e8" stroke-width="1.6" stroke-dasharray="6 4"/>
<line x1="1725.3" y1="847" x2="1606.2" y2="815.2" stroke="#2848e8" stroke-width="1.6" stroke-dasharray="6 4"/>
<line x1="1725.3" y1="847" x2="1782" y2="825" stroke="#2848e8" stroke-width="1.6" stroke-dasharray="6 4"/>
<line x1="1583.5" y1="855.1" x2="1584" y2="892.5" stroke="#20907a" stroke-width="1.6" stroke-dasharray="6 4"/>
<line x1="1583.5" y1="855.1" x2="1563.1" y2="849.1" stroke="#20907a" stroke-width="1.6" stroke-dasharray="6 4"/>
<line x1="1583.5" y1="855.1" x2="1684.4" y2="819.2" stroke="#20907a" stroke-width="1.6" stroke-dasharray="6 4"/>
<line x1="1501.9" y1="904.8" x2="1502.5" y2="923.6" stroke="#f0b030" stroke-width="1.6" stroke-dasharray="6 4"/>
<line x1="1501.9" y1="904.8" x2="1481.5" y2="898" stroke="#f0b030" stroke-width="1.6" stroke-dasharray="6 4"/>
<line x1="1501.9" y1="904.8" x2="1684.4" y2="837.5" stroke="#f0b030" stroke-width="1.6" stroke-dasharray="6 4"/>
<line x1="1540.9" y1="909.7" x2="1540.9" y2="908.9" stroke="#e050f0" stroke-width="1.6" stroke-dasharray="6 4"/>
<line x1="1540.9" y1="909.7" x2="1520.5" y2="903" stroke="#e050f0" stroke-width="1.6" stroke-dasharray="6 4"/>
<line x1="1540.9" y1="909.7" x2="1684.3" y2="854.9" stroke="#e050f0" stroke-width="1.6" stroke-dasharray="6 4"/>
<line x1="1704.3" y1="875" x2="1704" y2="914.1" stroke="#e050f0" stroke-width="1.6" stroke-dasharray="6 4"/>
<line x1="1704.3" y1="875" x2="1585.1" y2="841.1" stroke="#e050f0" stroke-width="1.6" stroke-dasharray="6 4"/>
<line x1="1704.3" y1="875" x2="1781.6" y2="843.9" stroke="#e050f0" stroke-width="1.6" stroke-dasharray="6 4"/>
<line x1="1680.6" y1="884.6" x2="1680.5" y2="924.2" stroke="#20a080" stroke-width="1.6" stroke-dasharray="6 4"/>
<line x1="1680.6" y1="884.6" x2="1560.9" y2="849.5" stroke="#20a080" stroke-width="1.6" stroke-dasharray="6 4"/>
<line x1="1680.6" y1="884.6" x2="1781.6" y2="843.9" stroke="#20a080" stroke-width="1.6" stroke-dasharray="6 4"/>
<line x1="1669.6" y1="921.3" x2="1669.6" y2="929" stroke="#88c828" stroke-width="1.6" stroke-dasharray="6 4"/>
<line x1="1669.6" y1="921.3" x2="1550.2" y2="883.9" stroke="#88c828" stroke-width="1.6" stroke-dasharray="6 4"/>
<line x1="1669.6" y1="921.3" x2="1781" y2="873.8" stroke="#88c828" stroke-width="1.6" stroke-dasharray="6 4"/>
<line x1="1439.3" y1="932.4" x2="1425.3" y2="589.7" stroke="#000" stroke-width="2" />
<line x1="1439.3" y1="932.4" x2="1706.5" y2="1029.5" stroke="#000" stroke-width="2" />
<line x1="1706.5" y1="1029.5" x2="1919.1" y2="919" stroke="#000" stroke-width="2" />
<line x1="1431.3" y1="932.8" x2="1439.3" y2="932.4" stroke="#000" stroke-width="2" />
<text transform="matrix(0.77 -0.128 0 1 1427.3 943.2)" font-size="30" text-anchor="end" font-family='"Liberation Sans", Arial, sans-serif'>100</text>
<line x1="1434" y1="912.4" x2="1438.5" y2="912.2" stroke="#000" stroke-width="2" />
<line x1="1429.7" y1="892.2" x2="1437.7" y2="891.8" stroke="#000" stroke-width="2" />
<text transform="matrix(0.77 -0.128 0 1 1425.7 902.6)" font-size="30" text-anchor="end" font-family='"Liberation Sans", Arial, sans-serif'>200</text>
<line x1="1432.3" y1="871.5" x2="1436.8" y2="871.2" stroke="#000" stroke-width="2" />
<line x1="1428" y1="850.9" x2="1436" y2="850.5" stroke="#000" stroke-width="2" />
<text transform="matrix(0.77 -0.128 0 1 1424.0 861.3)" font-size="30" text-anchor="end" font-family='"Liberation Sans", Arial, sans-serif'>300</text>
<line x1="1430.6" y1="829.9" x2="1435.1" y2="829.7" stroke="#000" stroke-width="2" />
<line x1="1426.3" y1="809.1" x2="1434.3" y2="808.7" stroke="#000" stroke-width="2" />
<text transform="matrix(0.77 -0.128 0 1 1422.3 819.5)" font-size="30" text-anchor="end" font-family='"Liberation Sans", Arial, sans-serif'>400</text>
<line x1="1428.9" y1="787.7" x2="1433.4" y2="787.5" stroke="#000" stroke-width="2" />
<line x1="1424.5" y1="766.6" x2="1432.5" y2="766.2" stroke="#000" stroke-width="2" />
<text transform="matrix(0.77 -0.128 0 1 1420.5 777.0)" font-size="30" text-anchor="end" font-family='"Liberation Sans", Arial, sans-serif'>500</text>
<line x1="1427.2" y1="744.9" x2="1431.7" y2="744.7" stroke="#000" stroke-width="2" />
<line x1="1422.8" y1="723.4" x2="1430.8" y2="723" stroke="#000" stroke-width="2" />
<text transform="matrix(0.77 -0.128 0 1 1418.8 733.8)" font-size="30" text-anchor="end" font-family='"Liberation Sans", Arial, sans-serif'>600</text>
<line x1="1425.4" y1="701.5" x2="1429.9" y2="701.2" stroke="#000" stroke-width="2" />
<line x1="1421" y1="679.7" x2="1429" y2="679.3" stroke="#000" stroke-width="2" />
<text transform="matrix(0.77 -0.128 0 1 1417.0 690.1)" font-size="30" text-anchor="end" font-family='"Liberation Sans", Arial, sans-serif'>700</text>
<line x1="1423.6" y1="657.3" x2="1428.1" y2="657.1" stroke="#000" stroke-width="2" />
<line x1="1419.2" y1="635.2" x2="1427.2" y2="634.8" stroke="#000" stroke-width="2" />
<text transform="matrix(0.77 -0.128 0 1 1415.2 645.6)" font-size="30" text-anchor="end" font-family='"Liberation Sans", Arial, sans-serif'>800</text>
<line x1="1421.7" y1="612.5" x2="1426.2" y2="612.3" stroke="#000" stroke-width="2" />
<line x1="1417.3" y1="590.1" x2="1425.3" y2="589.7" stroke="#000" stroke-width="2" />
<text transform="matrix(0.77 -0.128 0 1 1413.3 600.5)" font-size="30" text-anchor="end" font-family='"Liberation Sans", Arial, sans-serif'>900</text>
<line x1="1459.8" y1="939.9" x2="1450.6" y2="943.4" stroke="#000" stroke-width="2" />
<line x1="1483.8" y1="948.6" x2="1478.5" y2="950.6" stroke="#000" stroke-width="2" />
<line x1="1508.5" y1="957.5" x2="1499.3" y2="961.3" stroke="#000" stroke-width="2" />
<line x1="1533.9" y1="966.8" x2="1528.7" y2="969" stroke="#000" stroke-width="2" />
<line x1="1560" y1="976.3" x2="1550.9" y2="980.2" stroke="#000" stroke-width="2" />
<line x1="1587" y1="986.1" x2="1581.8" y2="988.4" stroke="#000" stroke-width="2" />
<line x1="1614.7" y1="996.2" x2="1605.7" y2="1000.3" stroke="#000" stroke-width="2" />
<line x1="1643.4" y1="1006.5" x2="1638.2" y2="1009" stroke="#000" stroke-width="2" />
<line x1="1672.9" y1="1017.3" x2="1663.9" y2="1021.7" stroke="#000" stroke-width="2" />
<text transform="matrix(0.9343 -0.3564 0.9399 0.3414 1449.4 951.5)" font-size="24" text-anchor="middle" font-family='"Liberation Sans", Arial, sans-serif' >1.0</text>
<text transform="matrix(0.9268 -0.3755 0.9399 0.3414 1498.2 969.7)" font-size="24" text-anchor="middle" font-family='"Liberation Sans", Arial, sans-serif' >1.5</text>
<text transform="matrix(0.9180 -0.3966 0.9399 0.3414 1550.1 989.0)" font-size="24" text-anchor="middle" font-family='"Liberation Sans", Arial, sans-serif' >2.0</text>
<text transform="matrix(0.9076 -0.4198 0.9399 0.3414 1605.1 1009.5)" font-size="24" text-anchor="middle" font-family='"Liberation Sans", Arial, sans-serif' >2.5</text>
<text transform="matrix(0.8952 -0.4456 0.9399 0.3414 1663.6 1031.3)" font-size="24" text-anchor="middle" font-family='"Liberation Sans", Arial, sans-serif' >3.0</text>
<line x1="1733.3" y1="1015.6" x2="1744.2" y2="1019.4" stroke="#000" stroke-width="2" />
<line x1="1757" y1="1003.3" x2="1763.1" y2="1005.4" stroke="#000" stroke-width="2" />
<line x1="1779.8" y1="991.4" x2="1790.5" y2="995" stroke="#000" stroke-width="2" />
<line x1="1801.9" y1="980" x2="1807.9" y2="981.9" stroke="#000" stroke-width="2" />
<line x1="1823.2" y1="968.9" x2="1833.7" y2="972.2" stroke="#000" stroke-width="2" />
<line x1="1843.7" y1="958.2" x2="1849.7" y2="960" stroke="#000" stroke-width="2" />
<line x1="1863.6" y1="947.9" x2="1874" y2="951" stroke="#000" stroke-width="2" />
<line x1="1882.8" y1="937.9" x2="1888.7" y2="939.6" stroke="#000" stroke-width="2" />
<line x1="1901.4" y1="928.2" x2="1911.7" y2="931.1" stroke="#000" stroke-width="2" />
<text transform="matrix(0.9435 0.3314 -0.8874 0.4610 1761.9 1032.1)" font-size="24" text-anchor="middle" font-family='"Liberation Sans", Arial, sans-serif' >98.6</text>
<text transform="matrix(0.9493 0.3144 -0.8874 0.4610 1808.0 1007.1)" font-size="24" text-anchor="middle" font-family='"Liberation Sans", Arial, sans-serif' >98.8</text>
<text transform="matrix(0.9543 0.2989 -0.8874 0.4610 1850.8 983.8)" font-size="24" text-anchor="middle" font-family='"Liberation Sans", Arial, sans-serif' >99.0</text>
<text transform="matrix(0.9586 0.2849 -0.8874 0.4610 1890.7 962.0)" font-size="24" text-anchor="middle" font-family='"Liberation Sans", Arial, sans-serif' >99.2</text>
<text transform="matrix(0.9623 0.2721 -0.8874 0.4610 1928.0 941.7)" font-size="24" text-anchor="middle" font-family='"Liberation Sans", Arial, sans-serif' >99.4</text>
<text transform="matrix(0.9252 0.3795 -0.9360 0.3510 1510.1 1022.1)" font-size="24.4" text-anchor="middle" font-family='"Liberation Sans", Arial, sans-serif' >Lithium salt concentration</text>
<text transform="matrix(0.9252 0.3795 -0.9360 0.3510 1476.1 1032.1)" font-size="24.4" text-anchor="middle" font-family='"Liberation Sans", Arial, sans-serif' >(mol L<tspan dy="-8" font-size="15">-1</tspan><tspan dy="8">)</tspan></text>
<text transform="matrix(0.8721 -0.4894 1.0810 0.3910 1899.5 1002.3)" font-size="20" text-anchor="middle" font-family='"Liberation Sans", Arial, sans-serif' >Coulombic efficiency (%)</text>
<text transform="matrix(0.0350 1.0000 -0.9400 0.3400 1356.0 784.0)" font-size="27.5" text-anchor="middle" font-family='"Liberation Sans", Arial, sans-serif' >Cycle number</text>
<circle cx="1631.5" cy="604.2" r="18.5" fill="url(#gdThiswork)"/>
<circle cx="1684.5" cy="679.2" r="11.2" fill="url(#gdRef50)"/>
<circle cx="1578.9" cy="696.9" r="11.2" fill="url(#gdRef41)"/>
<circle cx="1628.8" cy="748.5" r="11.2" fill="url(#gdRef48)"/>
<circle cx="1815.7" cy="782.9" r="11.2" fill="url(#gdRef46)"/>
<circle cx="1610.7" cy="826.2" r="11.2" fill="url(#gdRef43)"/>
<circle cx="1622.4" cy="841.2" r="11.2" fill="url(#gdRef44)"/>
<circle cx="1536.7" cy="832.4" r="11.2" fill="url(#gdRef49)"/>
<circle cx="1674.1" cy="852.1" r="11.2" fill="url(#gdRef53)"/>
<circle cx="1725.3" cy="847.0" r="11.2" fill="url(#gdRef47)"/>
<circle cx="1583.5" cy="855.1" r="11.2" fill="url(#gdRef51)"/>
<circle cx="1501.9" cy="904.8" r="11.2" fill="url(#gdRef39)"/>
<circle cx="1540.9" cy="909.7" r="11.2" fill="url(#gdRef35)"/>
<circle cx="1704.3" cy="875.0" r="11.2" fill="url(#gdRef42)"/>
<circle cx="1680.6" cy="884.6" r="11.2" fill="url(#gdRef45)"/>
<circle cx="1669.6" cy="921.3" r="11.2" fill="url(#gdRef52)"/>
<text x="1584.8" y="579.6" font-size="22.5" fill="#000" font-family='"Liberation Sans", Arial, sans-serif' transform="translate(1584.8 579.6) scale(1 1.04) translate(-1584.8 -579.6)" >This work</text>
<text x="1485.5" y="676.3" font-size="22.5" fill="#000" font-family='"Liberation Sans", Arial, sans-serif' transform="translate(1485.5 676.3) scale(1 1.04) translate(-1485.5 -676.3)" >Ref.41 (2022)</text>
<text x="1574.8" y="731.6" font-size="22.5" fill="#000" font-family='"Liberation Sans", Arial, sans-serif' transform="translate(1574.8 731.6) scale(1 1.04) translate(-1574.8 -731.6)" >Ref.48 (2025)</text>
<text x="1525" y="782.6" font-size="22.5" fill="#000" font-family='"Liberation Sans", Arial, sans-serif' transform="translate(1525 782.6) scale(1 1.04) translate(-1525 -782.6)" >Ref.43 (2023)</text>
<text x="1643.6" y="662.9" font-size="22.5" fill="#000" font-family='"Liberation Sans", Arial, sans-serif' transform="translate(1643.6 662.9) scale(1 1.04) translate(-1643.6 -662.9)" >Ref.50 (2022)</text>
<text x="1762.4" y="741" font-size="22.5" fill="#000" font-family='"Liberation Sans", Arial, sans-serif' transform="translate(1762.4 741) scale(1 1.04) translate(-1762.4 -741)" >Ref.46 (2023)</text>
<text x="1629.6" y="806" font-size="22.5" fill="#000" font-family='"Liberation Sans", Arial, sans-serif' transform="translate(1629.6 806) scale(1 1.04) translate(-1629.6 -806)" >Ref.44 (2021)</text>
<text x="1688.8" y="828.9" font-size="22.5" fill="#000" font-family='"Liberation Sans", Arial, sans-serif' transform="translate(1688.8 828.9) scale(1 1.04) translate(-1688.8 -828.9)" >Ref.53 (2025)</text>
<text x="1745" y="853.7" font-size="22.5" fill="#000" font-family='"Liberation Sans", Arial, sans-serif' transform="translate(1745 853.7) scale(1 1.04) translate(-1745 -853.7)" >Ref.47 (2024)</text>
<text x="1715.4" y="888.2" font-size="22.5" fill="#000" font-family='"Liberation Sans", Arial, sans-serif' transform="translate(1715.4 888.2) scale(1 1.04) translate(-1715.4 -888.2)" >Ref.42 (2023)</text>
<text x="1534" y="890.5" font-size="22.5" fill="#000" font-family='"Liberation Sans", Arial, sans-serif' transform="translate(1534 890.5) scale(1 1.04) translate(-1534 -890.5)" >Ref.51 (2022)</text>
<text x="1446.6" y="818.5" font-size="22.5" fill="#000" font-family='"Liberation Sans", Arial, sans-serif' transform="translate(1446.6 818.5) scale(1 1.04) translate(-1446.6 -818.5)" >Ref.49 (2020)</text>
<text x="1437.7" y="866" font-size="22.5" fill="#000" font-family='"Liberation Sans", Arial, sans-serif' transform="translate(1437.7 866) scale(1 1.04) translate(-1437.7 -866)" >Ref.39 (2021)</text>
<text x="1492.7" y="945.9" font-size="22.5" fill="#000" font-family='"Liberation Sans", Arial, sans-serif' transform="translate(1492.7 945.9) scale(1 1.04) translate(-1492.7 -945.9)" >Ref.35 (2022)</text>
<text x="1701.5" y="938.3" font-size="22.5" fill="#000" font-family='"Liberation Sans", Arial, sans-serif' transform="translate(1701.5 938.3) scale(1 1.04) translate(-1701.5 -938.3)" >Ref.45 (2023)</text>
<text x="1639.5" y="981.1" font-size="22.5" fill="#000" font-family='"Liberation Sans", Arial, sans-serif' transform="translate(1639.5 981.1) scale(1 1.04) translate(-1639.5 -981.1)" >Ref.52 (2023)</text>
<line x1="1823.1" y1="774.4" x2="1832.9" y2="753.5" stroke="#000" stroke-width="2" />
<path d="M1836.3 746.3 L1835.7 756.0 L1829.2 752.9 Z" fill="#000"/>
<line x1="1609.5" y1="814.8" x2="1605.6" y2="792.8" stroke="#000" stroke-width="2" />
<path d="M1604.2 784.9 L1609.3 793.1 L1602.2 794.4 Z" fill="#000"/>
<line x1="1632.6" y1="838.6" x2="1646.2" y2="814.2" stroke="#000" stroke-width="2" />
<path d="M1650.1 807.2 L1648.9 816.8 L1642.6 813.3 Z" fill="#000"/>
<line x1="1683.3" y1="848.9" x2="1699.1" y2="834.8" stroke="#000" stroke-width="2" />
<path d="M1705.1 829.5 L1700.8 838.2 L1696.0 832.8 Z" fill="#000"/>
<line x1="1505.1" y1="893.2" x2="1511.9" y2="880.1" stroke="#000" stroke-width="2" />
<path d="M1515.6 873.0 L1514.6 882.6 L1508.3 879.3 Z" fill="#000"/>
<line x1="1686.2" y1="895.8" x2="1699.7" y2="913.3" stroke="#000" stroke-width="2" />
<path d="M1704.6 919.6 L1696.2 914.7 L1701.9 910.3 Z" fill="#000"/>
<line x1="1675.6" y1="931" x2="1683.1" y2="956.7" stroke="#000" stroke-width="2" />
<path d="M1685.3 964.4 L1679.3 956.8 L1686.2 954.8 Z" fill="#000"/>
<text x="11.8" y="1089" font-size="45" font-weight="bold" fill="#000" font-family='"Liberation Sans", Arial, sans-serif' transform="translate(11.8 1089) scale(1 1.03) translate(-11.8 -1089)" >e</text>
<g clip-path="url(#clipe)">
<path d="M96.5 1530.2 L102.8 1518.5 L109.2 1516.1 L115.5 1515.6 L121.9 1515.5 L128.2 1515.4 L134.5 1515.4 L140.9 1515.4 L147.2 1515.4 L153.6 1515.4 L159.9 1515.4 L166.2 1515.4 L172.6 1515.4 L178.9 1515.4 L185.3 1515.4 L191.6 1515.4 L197.9 1515.4 L204.3 1515.4 L210.6 1515.4 L217 1515.4 L223.3 1515.4 L229.6 1515.4 L236 1515.4 L242.3 1515.4 L248.7 1515.4 L255 1515.4 L261.3 1515.4 L267.7 1515.4 L274 1515.4 L280.4 1515.4 L286.7 1515.4 L293 1515.4 L299.4 1515.4 L305.7 1515.4 L312.1 1515.4 L318.4 1515.4 L324.7 1515.4 L331.1 1515.4 L337.4 1515.4 L343.8 1515.4 L350.1 1515.4 L356.4 1515.4 L362.8 1515.4 L369.1 1515.4 L375.4 1515.4 L381.8 1515.4 L388.1 1515.4 L394.5 1515.4 L400.8 1515.4 L407.1 1515.4 L413.5 1515.5 L419.8 1515.5 L426.2 1515.5 L432.5 1515.5 L438.8 1515.5 L445.2 1515.5 L451.5 1515.6 L457.9 1515.6 L464.2 1515.6 L470.5 1515.6 L476.9 1515.7 L483.2 1515.7 L489.6 1515.8 L495.9 1515.8 L502.2 1515.9 L508.6 1515.9 L514.9 1516 L521.3 1516 L527.6 1516.1 L533.9 1516.2 L540.3 1516.2 L546.6 1516.3 L553 1516.4 L559.3 1516.5 L565.6 1516.5 L572 1516.6 L578.3 1516.7 L584.7 1516.8 L591 1516.9 L597.3 1517" stroke="#c0c0c0" stroke-width="3" fill="none" stroke-linejoin="round" />
<path d="M96.5 1530.2 L102.8 1519.1 L109.2 1516.8 L115.5 1516.4 L121.9 1516.2 L128.2 1516.2 L134.5 1516.2 L140.9 1516.2 L147.2 1516.2 L153.6 1516.2 L159.9 1516.2 L166.2 1516.2 L172.6 1516.2 L178.9 1516.2 L185.3 1516.2 L191.6 1516.2 L197.9 1516.2 L204.3 1516.2 L210.6 1516.2 L217 1516.2 L223.3 1516.2 L229.6 1516.2 L236 1516.2 L242.3 1516.2 L248.7 1516.2 L255 1516.2 L261.3 1516.2 L267.7 1516.2 L274 1516.2 L280.4 1516.2 L286.7 1516.2 L293 1516.2 L299.4 1516.2 L305.7 1516.2 L312.1 1516.2 L318.4 1516.2 L324.7 1516.2 L331.1 1516.2 L337.4 1516.2 L343.8 1516.2 L350.1 1516.2 L356.4 1516.2 L362.8 1516.2 L369.1 1516.2 L375.4 1516.2 L381.8 1516.2 L388.1 1516.2 L394.5 1516.2 L400.8 1516.2 L407.1 1516.2 L413.5 1516.2 L419.8 1516.2 L426.2 1516.3 L432.5 1516.3 L438.8 1516.3 L445.2 1516.3 L451.5 1516.4 L457.9 1516.4 L464.2 1516.5 L470.5 1516.5 L476.9 1516.6 L483.2 1516.6 L489.6 1516.7 L495.9 1516.8 L502.2 1516.8 L508.6 1516.9 L514.9 1517 L521.3 1517.1 L527.6 1517.2 L533.9 1517.3 L540.3 1517.4 L546.6 1517.5 L553 1517.6 L559.3 1517.7 L565.6 1517.9 L572 1518 L578.3 1518.1 L584.7 1518.3 L591 1518.4 L597.3 1518.6" stroke="#10c810" stroke-width="3" fill="none" stroke-linejoin="round" />
<path d="M96.5 1530.2 L102.9 1518.8 L109.3 1516.4 L115.8 1516 L122.2 1515.9 L128.6 1515.8 L135 1515.8 L141.5 1515.8 L147.9 1515.8 L154.3 1515.8 L160.7 1515.8 L167.2 1515.8 L173.6 1515.8 L180 1515.8 L186.4 1515.8 L192.8 1515.8 L199.3 1515.8 L205.7 1515.8 L212.1 1515.8 L218.5 1515.8 L225 1515.8 L231.4 1515.8 L237.8 1515.8 L244.2 1515.8 L250.7 1515.8 L257.1 1515.8 L263.5 1515.8 L269.9 1515.8 L276.3 1515.8 L282.8 1515.8 L289.2 1515.8 L295.6 1515.8 L302 1515.8 L308.5 1515.8 L314.9 1515.8 L321.3 1515.8 L327.7 1515.8 L334.2 1515.8 L340.6 1515.8 L347 1515.8 L353.4 1515.8 L359.8 1515.8 L366.3 1515.8 L372.7 1515.8 L379.1 1515.8 L385.5 1515.8 L392 1515.8 L398.4 1515.8 L404.8 1515.8 L411.2 1515.9 L417.7 1515.9 L424.1 1515.9 L430.5 1516 L436.9 1516 L443.3 1516.1 L449.8 1516.2 L456.2 1516.3 L462.6 1516.4 L469 1516.5 L475.5 1516.6 L481.9 1516.8 L488.3 1516.9 L494.7 1517.1 L501.1 1517.3 L507.6 1517.5 L514 1517.7 L520.4 1517.9 L526.8 1518.1 L533.3 1518.3 L539.7 1518.6 L546.1 1518.8 L552.5 1519.1 L559 1519.4 L565.4 1519.7 L571.8 1520 L578.2 1520.3 L584.6 1520.6 L591.1 1521 L597.5 1521.3 L603.9 1521.7" stroke="#1010e8" stroke-width="3" fill="none" stroke-linejoin="round" />
<path d="M96.5 1530.2 L102.9 1519.1 L109.3 1516.8 L115.7 1516.3 L122.1 1516.2 L128.5 1516.2 L134.9 1516.2 L141.3 1516.2 L147.7 1516.2 L154.1 1516.2 L160.5 1516.2 L166.9 1516.2 L173.3 1516.2 L179.7 1516.2 L186.2 1516.2 L192.6 1516.2 L199 1516.2 L205.4 1516.2 L211.8 1516.2 L218.2 1516.2 L224.6 1516.2 L231 1516.2 L237.4 1516.2 L243.8 1516.2 L250.2 1516.2 L256.6 1516.2 L263 1516.2 L269.4 1516.2 L275.8 1516.2 L282.2 1516.2 L288.6 1516.2 L295 1516.2 L301.4 1516.2 L307.8 1516.2 L314.2 1516.2 L320.6 1516.2 L327 1516.2 L333.4 1516.2 L339.8 1516.2 L346.2 1516.2 L352.7 1516.2 L359.1 1516.2 L365.5 1516.2 L371.9 1516.2 L378.3 1516.2 L384.7 1516.2 L391.1 1516.2 L397.5 1516.2 L403.9 1516.2 L410.3 1516.2 L416.7 1516.2 L423.1 1516.3 L429.5 1516.3 L435.9 1516.3 L442.3 1516.3 L448.7 1516.4 L455.1 1516.4 L461.5 1516.4 L467.9 1516.5 L474.3 1516.5 L480.7 1516.6 L487.1 1516.7 L493.5 1516.7 L499.9 1516.8 L506.3 1516.9 L512.7 1516.9 L519.2 1517 L525.6 1517.1 L532 1517.2 L538.4 1517.3 L544.8 1517.4 L551.2 1517.5 L557.6 1517.6 L564 1517.8 L570.4 1517.9 L576.8 1518 L583.2 1518.1 L589.6 1518.3 L596 1518.4 L602.4 1518.6" stroke="#404040" stroke-width="3" fill="none" stroke-linejoin="round" />
<path d="M96.5 1504.5 L109.2 1506 L121.9 1506 L134.6 1505.9 L147.2 1505.9 L159.9 1505.8 L172.6 1505.7 L185.3 1505.7 L198 1505.6 L210.7 1505.6 L223.4 1505.5 L236.1 1505.4 L248.7 1505.4 L261.4 1505.3 L274.1 1505.3 L286.8 1505.2 L299.5 1505.2 L312.2 1505.1 L324.9 1505 L337.5 1505 L350.2 1504.9 L362.9 1504.9 L375.6 1504.8 L388.3 1504.7 L401 1504.7 L413.7 1504.6 L426.3 1504.6 L439 1504.5 L451.7 1504.4 L464.4 1504.4 L477.1 1504.3 L489.8 1504.3 L502.5 1504.2 L515.2 1504.1 L527.8 1504.1 L540.5 1504 L553.2 1504 L565.9 1503.9 L578.6 1503.8 L591.3 1503.4 L591.3 1503.4 L591.5 1503.4 L591.8 1503.3 L592.1 1503.2 L592.3 1503.1 L592.6 1503 L592.9 1502.9 L593.1 1502.8 L593.4 1502.7 L593.7 1502.5 L593.9 1502.3 L594.2 1502.1 L594.5 1501.9 L594.7 1501.7 L595 1501.4 L595.3 1501 L595.5 1500.6 L595.8 1500.2 L596.1 1499.7 L596.3 1499.1 L597.1 1487.4 L597.8 1043.6" stroke="#c0c0c0" stroke-width="3" fill="none" stroke-linejoin="round" />
<path d="M96.5 1504.5 L109.2 1506 L121.9 1506 L134.6 1505.9 L147.3 1505.9 L160 1505.8 L172.7 1505.7 L185.4 1505.7 L198.1 1505.6 L210.8 1505.6 L223.5 1505.5 L236.2 1505.4 L248.9 1505.4 L261.6 1505.3 L274.3 1505.3 L287 1505.2 L299.7 1505.2 L312.4 1505.1 L325.1 1505 L337.8 1505 L350.5 1504.9 L363.2 1504.9 L375.9 1504.8 L388.6 1504.7 L401.3 1504.7 L414 1504.6 L426.7 1504.6 L439.4 1504.5 L452.1 1504.4 L464.8 1504.4 L477.5 1504.3 L490.2 1504.3 L502.9 1504.2 L515.6 1504.1 L528.3 1504.1 L541 1504 L553.7 1504 L566.4 1503.9 L579.1 1503.8 L591.8 1503.4 L591.8 1503.4 L592 1503.4 L592.3 1503.3 L592.6 1503.2 L592.8 1503.1 L593.1 1503 L593.4 1502.9 L593.6 1502.8 L593.9 1502.7 L594.2 1502.5 L594.4 1502.3 L594.7 1502.1 L595 1501.9 L595.2 1501.7 L595.5 1501.4 L595.8 1501 L596 1500.6 L596.3 1500.2 L596.6 1499.7 L596.8 1499.1 L597.6 1487.4 L598.4 1043.6" stroke="#10c810" stroke-width="3" fill="none" stroke-linejoin="round" />
<path d="M96.5 1504.5 L109.1 1506 L121.7 1506 L134.3 1505.9 L146.9 1505.9 L159.5 1505.8 L172.2 1505.7 L184.8 1505.7 L197.4 1505.6 L210 1505.6 L222.6 1505.5 L235.2 1505.4 L247.8 1505.4 L260.4 1505.3 L273 1505.3 L285.6 1505.2 L298.2 1505.2 L310.8 1505.1 L323.5 1505 L336.1 1505 L348.7 1504.9 L361.3 1504.9 L373.9 1504.8 L386.5 1504.7 L399.1 1504.7 L411.7 1504.6 L424.3 1504.6 L436.9 1504.5 L449.5 1504.4 L462.1 1504.4 L474.8 1504.3 L487.4 1504.3 L500 1504.2 L512.6 1504.1 L525.2 1504.1 L537.8 1504 L550.4 1504 L563 1503.9 L575.6 1503.8 L588.2 1503.4 L588.2 1503.4 L588.5 1503.4 L588.8 1503.3 L589 1503.2 L589.3 1503.1 L589.6 1503 L589.8 1502.9 L590.1 1502.8 L590.4 1502.7 L590.6 1502.5 L590.9 1502.3 L591.2 1502.1 L591.4 1501.9 L591.7 1501.7 L592 1501.4 L592.2 1501 L592.5 1500.6 L592.8 1500.2 L593 1499.7 L593.3 1499.1 L594.1 1487.4 L594.8 1043.6" stroke="#1010e8" stroke-width="3" fill="none" stroke-linejoin="round" />
<path d="M96.5 1504.5 L106.3 1506 L116.1 1506 L125.9 1505.9 L135.7 1505.9 L145.5 1505.8 L155.3 1505.7 L165.1 1505.7 L175 1505.6 L184.8 1505.6 L194.6 1505.5 L204.4 1505.5 L214.2 1505.4 L224 1505.3 L233.8 1505.3 L243.6 1505.2 L253.4 1505.2 L263.2 1505.1 L273 1505 L282.8 1505 L292.6 1504.9 L302.4 1504.9 L312.2 1504.8 L322.1 1504.7 L331.9 1504.7 L341.7 1504.6 L351.5 1504.6 L361.3 1504.5 L371.1 1504.4 L380.9 1504.4 L390.7 1504.3 L400.5 1504.3 L410.3 1504.2 L420.1 1504.2 L429.9 1504.1 L439.7 1504 L449.5 1504 L459.3 1503.9 L469.2 1503.9 L479 1503.4 L479 1503.4 L479.2 1503.4 L479.5 1503.3 L479.8 1503.2 L480 1503.1 L480.3 1503 L480.6 1502.9 L480.8 1502.8 L481.1 1502.7 L481.4 1502.5 L481.6 1502.4 L481.9 1502.1 L482.2 1501.9 L482.4 1501.7 L482.7 1501.4 L483 1501 L483.2 1500.6 L483.5 1500.2 L483.8 1499.7 L484 1499.1 L484.8 1487.4 L485.5 1043.6" stroke="#404040" stroke-width="3" fill="none" stroke-linejoin="round" />
</g>
<rect x="96.5" y="1121.5" width="531.6" height="428.2" fill="none" stroke="#000" stroke-width="2" />
<line x1="96.5" y1="1510.8" x2="88.9" y2="1510.8" stroke="#000" stroke-width="2" />
<line x1="96.5" y1="1432.9" x2="88.9" y2="1432.9" stroke="#000" stroke-width="2" />
<line x1="96.5" y1="1355.1" x2="88.9" y2="1355.1" stroke="#000" stroke-width="2" />
<line x1="96.5" y1="1277.2" x2="88.9" y2="1277.2" stroke="#000" stroke-width="2" />
<line x1="96.5" y1="1199.4" x2="88.9" y2="1199.4" stroke="#000" stroke-width="2" />
<line x1="96.5" y1="1121.5" x2="88.9" y2="1121.5" stroke="#000" stroke-width="2" />
<line x1="96.5" y1="1471.8" x2="92.5" y2="1471.8" stroke="#000" stroke-width="2" />
<line x1="96.5" y1="1394" x2="92.5" y2="1394" stroke="#000" stroke-width="2" />
<line x1="96.5" y1="1316.1" x2="92.5" y2="1316.1" stroke="#000" stroke-width="2" />
<line x1="96.5" y1="1238.3" x2="92.5" y2="1238.3" stroke="#000" stroke-width="2" />
<line x1="96.5" y1="1160.4" x2="92.5" y2="1160.4" stroke="#000" stroke-width="2" />
<line x1="96.5" y1="1549.7" x2="92.5" y2="1549.7" stroke="#000" stroke-width="2" />
<line x1="96.5" y1="1549.7" x2="96.5" y2="1557.3" stroke="#000" stroke-width="2" />
<line x1="197.7" y1="1549.7" x2="197.7" y2="1557.3" stroke="#000" stroke-width="2" />
<line x1="298.9" y1="1549.7" x2="298.9" y2="1557.3" stroke="#000" stroke-width="2" />
<line x1="400" y1="1549.7" x2="400" y2="1557.3" stroke="#000" stroke-width="2" />
<line x1="501.2" y1="1549.7" x2="501.2" y2="1557.3" stroke="#000" stroke-width="2" />
<line x1="602.4" y1="1549.7" x2="602.4" y2="1557.3" stroke="#000" stroke-width="2" />
<line x1="147.1" y1="1549.7" x2="147.1" y2="1553.7" stroke="#000" stroke-width="2" />
<line x1="248.3" y1="1549.7" x2="248.3" y2="1553.7" stroke="#000" stroke-width="2" />
<line x1="349.4" y1="1549.7" x2="349.4" y2="1553.7" stroke="#000" stroke-width="2" />
<line x1="450.6" y1="1549.7" x2="450.6" y2="1553.7" stroke="#000" stroke-width="2" />
<line x1="551.8" y1="1549.7" x2="551.8" y2="1553.7" stroke="#000" stroke-width="2" />
<text x="96.5" y="1585.7" font-size="28" text-anchor="middle" fill="#000" font-family='"Liberation Sans", Arial, sans-serif' transform="translate(96.5 1585.7) scale(1 1.09) translate(-96.5 -1585.7)" >0.0</text>
<text x="197.7" y="1585.7" font-size="28" text-anchor="middle" fill="#000" font-family='"Liberation Sans", Arial, sans-serif' transform="translate(197.7 1585.7) scale(1 1.09) translate(-197.7 -1585.7)" >0.2</text>
<text x="298.9" y="1585.7" font-size="28" text-anchor="middle" fill="#000" font-family='"Liberation Sans", Arial, sans-serif' transform="translate(298.9 1585.7) scale(1 1.09) translate(-298.9 -1585.7)" >0.4</text>
<text x="400" y="1585.7" font-size="28" text-anchor="middle" fill="#000" font-family='"Liberation Sans", Arial, sans-serif' transform="translate(400 1585.7) scale(1 1.09) translate(-400 -1585.7)" >0.6</text>
<text x="501.2" y="1585.7" font-size="28" text-anchor="middle" fill="#000" font-family='"Liberation Sans", Arial, sans-serif' transform="translate(501.2 1585.7) scale(1 1.09) translate(-501.2 -1585.7)" >0.8</text>
<text x="602.4" y="1585.7" font-size="28" text-anchor="middle" fill="#000" font-family='"Liberation Sans", Arial, sans-serif' transform="translate(602.4 1585.7) scale(1 1.09) translate(-602.4 -1585.7)" >1.0</text>
<text x="80" y="1520.9" font-size="28" text-anchor="end" fill="#000" font-family='"Liberation Sans", Arial, sans-serif' transform="translate(80 1520.9) scale(1 1.09) translate(-80 -1520.9)" >0.0</text>
<text x="80" y="1443" font-size="28" text-anchor="end" fill="#000" font-family='"Liberation Sans", Arial, sans-serif' transform="translate(80 1443) scale(1 1.09) translate(-80 -1443)" >0.2</text>
<text x="80" y="1365.1" font-size="28" text-anchor="end" fill="#000" font-family='"Liberation Sans", Arial, sans-serif' transform="translate(80 1365.1) scale(1 1.09) translate(-80 -1365.1)" >0.4</text>
<text x="80" y="1287.3" font-size="28" text-anchor="end" fill="#000" font-family='"Liberation Sans", Arial, sans-serif' transform="translate(80 1287.3) scale(1 1.09) translate(-80 -1287.3)" >0.6</text>
<text x="80" y="1209.4" font-size="28" text-anchor="end" fill="#000" font-family='"Liberation Sans", Arial, sans-serif' transform="translate(80 1209.4) scale(1 1.09) translate(-80 -1209.4)" >0.8</text>
<text x="80" y="1131.6" font-size="28" text-anchor="end" fill="#000" font-family='"Liberation Sans", Arial, sans-serif' transform="translate(80 1131.6) scale(1 1.09) translate(-80 -1131.6)" >1.0</text>
<text x="33.2" y="1336.2" font-size="29" text-anchor="middle" fill="#000" font-family='"Liberation Sans", Arial, sans-serif' transform="rotate(-90 33.2 1336.2) translate(33.2 1336.2) scale(1 1.09) translate(-33.2 -1336.2)" >Voltage (V)</text>
<text x="362.4" y="1637.7" font-size="28" text-anchor="middle" fill="#000" font-family='"Liberation Sans", Arial, sans-serif' transform="translate(362.4 1637.7) scale(1 1.09) translate(-362.4 -1637.7)" >Areal capacity (mAh cm<tspan dy="-10" font-size="18">-2</tspan><tspan dy="10">)</tspan></text>
<line x1="116" y1="1152.5" x2="182.2" y2="1152.5" stroke="#c0c0c0" stroke-width="3.2" stroke-linecap="round"/>
<line x1="116" y1="1192.4" x2="182.2" y2="1192.4" stroke="#10c810" stroke-width="3.2" stroke-linecap="round"/>
<line x1="116" y1="1230.8" x2="182.2" y2="1230.8" stroke="#1010e8" stroke-width="3.2" stroke-linecap="round"/>
<line x1="116" y1="1270.4" x2="182.2" y2="1270.4" stroke="#404040" stroke-width="3.2" stroke-linecap="round"/>
<text x="195.5" y="1162.5" font-size="28" fill="#000" font-family='"Liberation Sans", Arial, sans-serif' transform="translate(195.5 1162.5) scale(1 1.09) translate(-195.5 -1162.5)" >50<tspan dy="-10" font-size="18">th</tspan></text>
<text x="189" y="1202" font-size="28" fill="#000" font-family='"Liberation Sans", Arial, sans-serif' transform="translate(189 1202) scale(1 1.09) translate(-189 -1202)" >100<tspan dy="-10" font-size="18">th</tspan></text>
<text x="189" y="1240.8" font-size="28" fill="#000" font-family='"Liberation Sans", Arial, sans-serif' transform="translate(189 1240.8) scale(1 1.09) translate(-189 -1240.8)" >150<tspan dy="-10" font-size="18">th</tspan></text>
<text x="188" y="1279.4" font-size="28" fill="#000" font-family='"Liberation Sans", Arial, sans-serif' transform="translate(188 1279.4) scale(1 1.09) translate(-188 -1279.4)" >200<tspan dy="-10" font-size="18">th</tspan></text>
<text x="169.4" y="1457.6" font-size="28" fill="#000" font-family='"Liberation Sans", Arial, sans-serif' transform="translate(169.4 1457.6) scale(1 1.09) translate(-169.4 -1457.6)" >25 <tspan font-family='"DejaVu Serif", serif' font-size="25.2">℃</tspan></text>
<text x="100.5" y="1496.3" font-size="28" fill="#000" font-family='"Liberation Sans", Arial, sans-serif' transform="translate(100.5 1496.3) scale(1 1.09) translate(-100.5 -1496.3)" >1 M LiFSI in DME</text>
<line x1="471.3" y1="1494.5" x2="407.2" y2="1382.6" stroke="#3c3c3c" stroke-width="3" />
<path d="M395.8 1362.6 L414.2 1379.7 L401.2 1387.2 Z" fill="#3c3c3c"/>
<text x="202" y="1352.7" font-size="28" fill="#000" font-family='"Liberation Sans", Arial, sans-serif' transform="translate(202 1352.7) scale(1 1.09) translate(-202 -1352.7)" >Insufficient stripping</text>
<text x="667.7" y="1118.9" font-size="45" font-weight="bold" fill="#000" font-family='"Liberation Sans", Arial, sans-serif' transform="translate(667.7 1118.9) scale(1 1.03) translate(-667.7 -1118.9)" >f</text>
<g clip-path="url(#clipf)">
<path d="M756 1531.3 L762.4 1519.5 L768.9 1517.1 L775.3 1516.6 L781.7 1516.5 L788.1 1516.5 L794.6 1516.5 L801 1516.5 L807.4 1516.5 L813.9 1516.5 L820.3 1516.5 L826.7 1516.5 L833.1 1516.5 L839.6 1516.5 L846 1516.5 L852.4 1516.5 L858.8 1516.5 L865.3 1516.5 L871.7 1516.5 L878.1 1516.5 L884.6 1516.5 L891 1516.5 L897.4 1516.5 L903.8 1516.5 L910.3 1516.5 L916.7 1516.5 L923.1 1516.5 L929.6 1516.5 L936 1516.5 L942.4 1516.5 L948.8 1516.5 L955.3 1516.5 L961.7 1516.5 L968.1 1516.5 L974.5 1516.5 L981 1516.5 L987.4 1516.5 L993.8 1516.5 L1000.3 1516.5 L1006.7 1516.5 L1013.1 1516.5 L1019.5 1516.5 L1026 1516.5 L1032.4 1516.5 L1038.8 1516.5 L1045.3 1516.5 L1051.7 1516.5 L1058.1 1516.5 L1064.5 1516.5 L1071 1516.5 L1077.4 1516.5 L1083.8 1516.5 L1090.2 1516.6 L1096.7 1516.6 L1103.1 1516.6 L1109.5 1516.7 L1116 1516.7 L1122.4 1516.8 L1128.8 1516.8 L1135.2 1516.9 L1141.7 1517 L1148.1 1517.1 L1154.5 1517.2 L1161 1517.2 L1167.4 1517.3 L1173.8 1517.5 L1180.2 1517.6 L1186.7 1517.7 L1193.1 1517.8 L1199.5 1517.9 L1205.9 1518.1 L1212.4 1518.2 L1218.8 1518.4 L1225.2 1518.5 L1231.7 1518.7 L1238.1 1518.9 L1244.5 1519 L1250.9 1519.2 L1257.4 1519.4 L1263.8 1519.6" stroke="#c0c0c0" stroke-width="3" fill="none" stroke-linejoin="round" />
<path d="M756 1531.3 L762.4 1519.8 L768.9 1517.5 L775.3 1517 L781.7 1516.9 L788.1 1516.9 L794.6 1516.9 L801 1516.9 L807.4 1516.9 L813.9 1516.9 L820.3 1516.9 L826.7 1516.9 L833.1 1516.9 L839.6 1516.9 L846 1516.9 L852.4 1516.9 L858.8 1516.9 L865.3 1516.9 L871.7 1516.9 L878.1 1516.9 L884.6 1516.9 L891 1516.9 L897.4 1516.9 L903.8 1516.9 L910.3 1516.9 L916.7 1516.9 L923.1 1516.9 L929.6 1516.9 L936 1516.9 L942.4 1516.9 L948.8 1516.9 L955.3 1516.9 L961.7 1516.9 L968.1 1516.9 L974.5 1516.9 L981 1516.9 L987.4 1516.9 L993.8 1516.9 L1000.3 1516.9 L1006.7 1516.9 L1013.1 1516.9 L1019.5 1516.9 L1026 1516.9 L1032.4 1516.9 L1038.8 1516.9 L1045.3 1516.9 L1051.7 1516.9 L1058.1 1516.9 L1064.5 1516.9 L1071 1516.9 L1077.4 1516.9 L1083.8 1516.9 L1090.2 1516.9 L1096.7 1517 L1103.1 1517 L1109.5 1517 L1116 1517.1 L1122.4 1517.1 L1128.8 1517.2 L1135.2 1517.2 L1141.7 1517.3 L1148.1 1517.4 L1154.5 1517.5 L1161 1517.5 L1167.4 1517.6 L1173.8 1517.7 L1180.2 1517.8 L1186.7 1517.9 L1193.1 1518 L1199.5 1518.2 L1205.9 1518.3 L1212.4 1518.4 L1218.8 1518.5 L1225.2 1518.7 L1231.7 1518.8 L1238.1 1519 L1244.5 1519.1 L1250.9 1519.3 L1257.4 1519.4 L1263.8 1519.6" stroke="#10c810" stroke-width="3" fill="none" stroke-linejoin="round" />
<path d="M756 1531.3 L762.4 1519.5 L768.9 1517.1 L775.3 1516.6 L781.7 1516.5 L788.1 1516.5 L794.6 1516.5 L801 1516.5 L807.4 1516.5 L813.9 1516.5 L820.3 1516.5 L826.7 1516.5 L833.1 1516.5 L839.6 1516.5 L846 1516.5 L852.4 1516.5 L858.8 1516.5 L865.3 1516.5 L871.7 1516.5 L878.1 1516.5 L884.6 1516.5 L891 1516.5 L897.4 1516.5 L903.8 1516.5 L910.3 1516.5 L916.7 1516.5 L923.1 1516.5 L929.6 1516.5 L936 1516.5 L942.4 1516.5 L948.8 1516.5 L955.3 1516.5 L961.7 1516.5 L968.1 1516.5 L974.5 1516.5 L981 1516.5 L987.4 1516.5 L993.8 1516.5 L1000.3 1516.5 L1006.7 1516.5 L1013.1 1516.5 L1019.5 1516.5 L1026 1516.5 L1032.4 1516.5 L1038.8 1516.5 L1045.3 1516.5 L1051.7 1516.5 L1058.1 1516.5 L1064.5 1516.5 L1071 1516.5 L1077.4 1516.5 L1083.8 1516.5 L1090.2 1516.6 L1096.7 1516.6 L1103.1 1516.7 L1109.5 1516.7 L1116 1516.8 L1122.4 1516.8 L1128.8 1516.9 L1135.2 1517 L1141.7 1517.1 L1148.1 1517.2 L1154.5 1517.3 L1161 1517.4 L1167.4 1517.6 L1173.8 1517.7 L1180.2 1517.8 L1186.7 1518 L1193.1 1518.1 L1199.5 1518.3 L1205.9 1518.5 L1212.4 1518.7 L1218.8 1518.9 L1225.2 1519 L1231.7 1519.3 L1238.1 1519.5 L1244.5 1519.7 L1250.9 1519.9 L1257.4 1520.1 L1263.8 1520.4" stroke="#1010e8" stroke-width="3" fill="none" stroke-linejoin="round" />
<path d="M756 1531.3 L762.4 1520.1 L768.9 1517.9 L775.3 1517.4 L781.8 1517.3 L788.2 1517.3 L794.7 1517.3 L801.1 1517.3 L807.6 1517.3 L814 1517.3 L820.5 1517.3 L826.9 1517.3 L833.4 1517.3 L839.8 1517.3 L846.3 1517.3 L852.7 1517.3 L859.2 1517.3 L865.6 1517.3 L872 1517.3 L878.5 1517.3 L884.9 1517.3 L891.4 1517.3 L897.8 1517.3 L904.3 1517.3 L910.7 1517.3 L917.2 1517.3 L923.6 1517.3 L930.1 1517.3 L936.5 1517.3 L943 1517.3 L949.4 1517.3 L955.9 1517.3 L962.3 1517.3 L968.8 1517.3 L975.2 1517.3 L981.6 1517.3 L988.1 1517.3 L994.5 1517.3 L1001 1517.3 L1007.4 1517.3 L1013.9 1517.3 L1020.3 1517.3 L1026.8 1517.3 L1033.2 1517.3 L1039.7 1517.3 L1046.1 1517.3 L1052.6 1517.3 L1059 1517.3 L1065.5 1517.3 L1071.9 1517.3 L1078.4 1517.3 L1084.8 1517.3 L1091.3 1517.4 L1097.7 1517.4 L1104.1 1517.4 L1110.6 1517.5 L1117 1517.6 L1123.5 1517.6 L1129.9 1517.7 L1136.4 1517.8 L1142.8 1517.9 L1149.3 1518 L1155.7 1518.1 L1162.2 1518.2 L1168.6 1518.4 L1175.1 1518.5 L1181.5 1518.6 L1188 1518.8 L1194.4 1518.9 L1200.9 1519.1 L1207.3 1519.3 L1213.7 1519.4 L1220.2 1519.6 L1226.6 1519.8 L1233.1 1520 L1239.5 1520.2 L1246 1520.5 L1252.4 1520.7 L1258.9 1520.9 L1265.3 1521.2" stroke="#7cc4f0" stroke-width="3" fill="none" stroke-linejoin="round" />
<path d="M756 1505.6 L768.6 1507.1 L781.3 1507 L793.9 1507 L806.5 1506.9 L819.1 1506.8 L831.8 1506.8 L844.4 1506.7 L857 1506.7 L869.7 1506.6 L882.3 1506.5 L894.9 1506.5 L907.6 1506.4 L920.2 1506.4 L932.8 1506.3 L945.4 1506.2 L958.1 1506.2 L970.7 1506.1 L983.3 1506.1 L996 1506 L1008.6 1505.9 L1021.2 1505.9 L1033.9 1505.8 L1046.5 1505.8 L1059.1 1505.7 L1071.7 1505.6 L1084.4 1505.6 L1097 1505.5 L1109.6 1505.5 L1122.3 1505.4 L1134.9 1505.3 L1147.5 1505.3 L1160.2 1505.2 L1172.8 1505.2 L1185.4 1505.1 L1198 1505.1 L1210.7 1505 L1223.3 1504.9 L1235.9 1504.9 L1248.6 1504.4 L1248.6 1504.4 L1248.8 1504.4 L1249.1 1504.3 L1249.4 1504.2 L1249.6 1504.2 L1249.9 1504.1 L1250.2 1504 L1250.4 1503.8 L1250.7 1503.7 L1251 1503.5 L1251.2 1503.4 L1251.5 1503.2 L1251.8 1502.9 L1252 1502.7 L1252.3 1502.4 L1252.6 1502 L1252.8 1501.6 L1253.1 1501.2 L1253.4 1500.7 L1253.6 1500.1 L1254.4 1488.4 L1255.2 1043.9" stroke="#c0c0c0" stroke-width="3" fill="none" stroke-linejoin="round" />
<path d="M756 1505.6 L768.7 1507.1 L781.4 1507 L794 1507 L806.7 1506.9 L819.4 1506.8 L832.1 1506.8 L844.8 1506.7 L857.5 1506.7 L870.1 1506.6 L882.8 1506.5 L895.5 1506.5 L908.2 1506.4 L920.9 1506.4 L933.5 1506.3 L946.2 1506.2 L958.9 1506.2 L971.6 1506.1 L984.3 1506.1 L997 1506 L1009.6 1505.9 L1022.3 1505.9 L1035 1505.8 L1047.7 1505.8 L1060.4 1505.7 L1073 1505.6 L1085.7 1505.6 L1098.4 1505.5 L1111.1 1505.5 L1123.8 1505.4 L1136.5 1505.3 L1149.1 1505.3 L1161.8 1505.2 L1174.5 1505.2 L1187.2 1505.1 L1199.9 1505.1 L1212.6 1505 L1225.2 1504.9 L1237.9 1504.9 L1250.6 1504.4 L1250.6 1504.4 L1250.9 1504.4 L1251.1 1504.3 L1251.4 1504.2 L1251.7 1504.2 L1251.9 1504.1 L1252.2 1504 L1252.5 1503.8 L1252.7 1503.7 L1253 1503.5 L1253.3 1503.4 L1253.5 1503.2 L1253.8 1502.9 L1254.1 1502.7 L1254.3 1502.4 L1254.6 1502 L1254.9 1501.6 L1255.1 1501.2 L1255.4 1500.7 L1255.7 1500.1 L1256.4 1488.4 L1257.2 1043.9" stroke="#10c810" stroke-width="3" fill="none" stroke-linejoin="round" />
<path d="M756 1505.6 L768.7 1507.1 L781.3 1507 L794 1507 L806.6 1506.9 L819.3 1506.8 L831.9 1506.8 L844.6 1506.7 L857.2 1506.7 L869.9 1506.6 L882.6 1506.5 L895.2 1506.5 L907.9 1506.4 L920.5 1506.4 L933.2 1506.3 L945.8 1506.2 L958.5 1506.2 L971.2 1506.1 L983.8 1506.1 L996.5 1506 L1009.1 1505.9 L1021.8 1505.9 L1034.4 1505.8 L1047.1 1505.8 L1059.7 1505.7 L1072.4 1505.6 L1085.1 1505.6 L1097.7 1505.5 L1110.4 1505.5 L1123 1505.4 L1135.7 1505.3 L1148.3 1505.3 L1161 1505.2 L1173.6 1505.2 L1186.3 1505.1 L1199 1505.1 L1211.6 1505 L1224.3 1504.9 L1236.9 1504.9 L1249.6 1504.4 L1249.6 1504.4 L1249.8 1504.4 L1250.1 1504.3 L1250.4 1504.2 L1250.7 1504.2 L1250.9 1504.1 L1251.2 1504 L1251.5 1503.8 L1251.7 1503.7 L1252 1503.5 L1252.3 1503.4 L1252.5 1503.2 L1252.8 1502.9 L1253.1 1502.7 L1253.3 1502.4 L1253.6 1502 L1253.9 1501.6 L1254.1 1501.2 L1254.4 1500.7 L1254.7 1500.1 L1255.4 1488.4 L1256.2 1043.9" stroke="#1010e8" stroke-width="3" fill="none" stroke-linejoin="round" />
<path d="M756 1505.6 L768.7 1507.1 L781.4 1507 L794.1 1507 L806.8 1506.9 L819.5 1506.8 L832.2 1506.8 L845 1506.7 L857.7 1506.7 L870.4 1506.6 L883.1 1506.5 L895.8 1506.5 L908.5 1506.4 L921.2 1506.4 L933.9 1506.3 L946.6 1506.2 L959.3 1506.2 L972 1506.1 L984.7 1506.1 L997.5 1506 L1010.2 1505.9 L1022.9 1505.9 L1035.6 1505.8 L1048.3 1505.8 L1061 1505.7 L1073.7 1505.6 L1086.4 1505.6 L1099.1 1505.5 L1111.8 1505.5 L1124.5 1505.4 L1137.2 1505.3 L1149.9 1505.3 L1162.7 1505.2 L1175.4 1505.2 L1188.1 1505.1 L1200.8 1505.1 L1213.5 1505 L1226.2 1504.9 L1238.9 1504.9 L1251.6 1504.4 L1251.6 1504.4 L1251.9 1504.4 L1252.1 1504.3 L1252.4 1504.2 L1252.7 1504.2 L1252.9 1504.1 L1253.2 1504 L1253.5 1503.8 L1253.8 1503.7 L1254 1503.5 L1254.3 1503.4 L1254.6 1503.2 L1254.8 1502.9 L1255.1 1502.7 L1255.4 1502.4 L1255.6 1502 L1255.9 1501.6 L1256.2 1501.2 L1256.4 1500.7 L1256.7 1500.1 L1257.5 1488.4 L1258.2 1043.9" stroke="#7cc4f0" stroke-width="3" fill="none" stroke-linejoin="round" />
</g>
<rect x="756" y="1121.9" width="533.9" height="428.9" fill="none" stroke="#000" stroke-width="2" />
<line x1="756" y1="1511.8" x2="748.4" y2="1511.8" stroke="#000" stroke-width="2" />
<line x1="756" y1="1433.8" x2="748.4" y2="1433.8" stroke="#000" stroke-width="2" />
<line x1="756" y1="1355.8" x2="748.4" y2="1355.8" stroke="#000" stroke-width="2" />
<line x1="756" y1="1277.9" x2="748.4" y2="1277.9" stroke="#000" stroke-width="2" />
<line x1="756" y1="1199.9" x2="748.4" y2="1199.9" stroke="#000" stroke-width="2" />
<line x1="756" y1="1121.9" x2="748.4" y2="1121.9" stroke="#000" stroke-width="2" />
<line x1="756" y1="1472.8" x2="752" y2="1472.8" stroke="#000" stroke-width="2" />
<line x1="756" y1="1394.8" x2="752" y2="1394.8" stroke="#000" stroke-width="2" />
<line x1="756" y1="1316.9" x2="752" y2="1316.9" stroke="#000" stroke-width="2" />
<line x1="756" y1="1238.9" x2="752" y2="1238.9" stroke="#000" stroke-width="2" />
<line x1="756" y1="1160.9" x2="752" y2="1160.9" stroke="#000" stroke-width="2" />
<line x1="756" y1="1550.8" x2="752" y2="1550.8" stroke="#000" stroke-width="2" />
<line x1="756" y1="1550.8" x2="756" y2="1558.4" stroke="#000" stroke-width="2" />
<line x1="857.6" y1="1550.8" x2="857.6" y2="1558.4" stroke="#000" stroke-width="2" />
<line x1="959.1" y1="1550.8" x2="959.1" y2="1558.4" stroke="#000" stroke-width="2" />
<line x1="1060.7" y1="1550.8" x2="1060.7" y2="1558.4" stroke="#000" stroke-width="2" />
<line x1="1162.2" y1="1550.8" x2="1162.2" y2="1558.4" stroke="#000" stroke-width="2" />
<line x1="1263.8" y1="1550.8" x2="1263.8" y2="1558.4" stroke="#000" stroke-width="2" />
<line x1="806.8" y1="1550.8" x2="806.8" y2="1554.8" stroke="#000" stroke-width="2" />
<line x1="908.3" y1="1550.8" x2="908.3" y2="1554.8" stroke="#000" stroke-width="2" />
<line x1="1009.9" y1="1550.8" x2="1009.9" y2="1554.8" stroke="#000" stroke-width="2" />
<line x1="1111.5" y1="1550.8" x2="1111.5" y2="1554.8" stroke="#000" stroke-width="2" />
<line x1="1213" y1="1550.8" x2="1213" y2="1554.8" stroke="#000" stroke-width="2" />
<text x="756" y="1585.7" font-size="28" text-anchor="middle" fill="#000" font-family='"Liberation Sans", Arial, sans-serif' transform="translate(756 1585.7) scale(1 1.09) translate(-756 -1585.7)" >0.0</text>
<text x="857.6" y="1585.7" font-size="28" text-anchor="middle" fill="#000" font-family='"Liberation Sans", Arial, sans-serif' transform="translate(857.6 1585.7) scale(1 1.09) translate(-857.6 -1585.7)" >0.2</text>
<text x="959.1" y="1585.7" font-size="28" text-anchor="middle" fill="#000" font-family='"Liberation Sans", Arial, sans-serif' transform="translate(959.1 1585.7) scale(1 1.09) translate(-959.1 -1585.7)" >0.4</text>
<text x="1060.7" y="1585.7" font-size="28" text-anchor="middle" fill="#000" font-family='"Liberation Sans", Arial, sans-serif' transform="translate(1060.7 1585.7) scale(1 1.09) translate(-1060.7 -1585.7)" >0.6</text>
<text x="1162.2" y="1585.7" font-size="28" text-anchor="middle" fill="#000" font-family='"Liberation Sans", Arial, sans-serif' transform="translate(1162.2 1585.7) scale(1 1.09) translate(-1162.2 -1585.7)" >0.8</text>
<text x="1263.8" y="1585.7" font-size="28" text-anchor="middle" fill="#000" font-family='"Liberation Sans", Arial, sans-serif' transform="translate(1263.8 1585.7) scale(1 1.09) translate(-1263.8 -1585.7)" >1.0</text>
<text x="739.5" y="1521.9" font-size="28" text-anchor="end" fill="#000" font-family='"Liberation Sans", Arial, sans-serif' transform="translate(739.5 1521.9) scale(1 1.09) translate(-739.5 -1521.9)" >0.0</text>
<text x="739.5" y="1443.9" font-size="28" text-anchor="end" fill="#000" font-family='"Liberation Sans", Arial, sans-serif' transform="translate(739.5 1443.9) scale(1 1.09) translate(-739.5 -1443.9)" >0.2</text>
<text x="739.5" y="1365.9" font-size="28" text-anchor="end" fill="#000" font-family='"Liberation Sans", Arial, sans-serif' transform="translate(739.5 1365.9) scale(1 1.09) translate(-739.5 -1365.9)" >0.4</text>
<text x="739.5" y="1287.9" font-size="28" text-anchor="end" fill="#000" font-family='"Liberation Sans", Arial, sans-serif' transform="translate(739.5 1287.9) scale(1 1.09) translate(-739.5 -1287.9)" >0.6</text>
<text x="739.5" y="1210" font-size="28" text-anchor="end" fill="#000" font-family='"Liberation Sans", Arial, sans-serif' transform="translate(739.5 1210) scale(1 1.09) translate(-739.5 -1210)" >0.8</text>
<text x="739.5" y="1132" font-size="28" text-anchor="end" fill="#000" font-family='"Liberation Sans", Arial, sans-serif' transform="translate(739.5 1132) scale(1 1.09) translate(-739.5 -1132)" >1.0</text>
<text x="692.7" y="1336.2" font-size="29" text-anchor="middle" fill="#000" font-family='"Liberation Sans", Arial, sans-serif' transform="rotate(-90 692.7 1336.2) translate(692.7 1336.2) scale(1 1.09) translate(-692.7 -1336.2)" >Voltage (V)</text>
<text x="1031.9" y="1637.7" font-size="28" text-anchor="middle" fill="#000" font-family='"Liberation Sans", Arial, sans-serif' transform="translate(1031.9 1637.7) scale(1 1.09) translate(-1031.9 -1637.7)" >Areal capacity (mAh cm<tspan dy="-10" font-size="18">-2</tspan><tspan dy="10">)</tspan></text>
<line x1="757.5" y1="1148.4" x2="823" y2="1148.4" stroke="#c0c0c0" stroke-width="3.2" stroke-linecap="round"/>
<line x1="757.5" y1="1188.9" x2="823" y2="1188.9" stroke="#10c810" stroke-width="3.2" stroke-linecap="round"/>
<line x1="757.5" y1="1228.3" x2="823" y2="1228.3" stroke="#1010e8" stroke-width="3.2" stroke-linecap="round"/>
<line x1="757.5" y1="1267.3" x2="823" y2="1267.3" stroke="#7cc4f0" stroke-width="3.2" stroke-linecap="round"/>
<text x="837" y="1159.4" font-size="28" fill="#000" font-family='"Liberation Sans", Arial, sans-serif' transform="translate(837 1159.4) scale(1 1.09) translate(-837 -1159.4)" >50<tspan dy="-10" font-size="18">th</tspan></text>
<text x="831" y="1199.2" font-size="28" fill="#000" font-family='"Liberation Sans", Arial, sans-serif' transform="translate(831 1199.2) scale(1 1.09) translate(-831 -1199.2)" >100<tspan dy="-10" font-size="18">th</tspan></text>
<text x="831" y="1238.6" font-size="28" fill="#000" font-family='"Liberation Sans", Arial, sans-serif' transform="translate(831 1238.6) scale(1 1.09) translate(-831 -1238.6)" >150<tspan dy="-10" font-size="18">th</tspan></text>
<text x="831" y="1277.2" font-size="28" fill="#000" font-family='"Liberation Sans", Arial, sans-serif' transform="translate(831 1277.2) scale(1 1.09) translate(-831 -1277.2)" >200<tspan dy="-10" font-size="18">th</tspan></text>
<text x="802.8" y="1468" font-size="28" fill="#000" font-family='"Liberation Sans", Arial, sans-serif' transform="translate(802.8 1468) scale(1 1.09) translate(-802.8 -1468)" >25 <tspan font-family='"DejaVu Serif", serif' font-size="25.2">℃</tspan></text>
<text x="762" y="1498.9" font-size="28" fill="#000" font-family='"Liberation Sans", Arial, sans-serif' transform="translate(762 1498.9) scale(1 1.09) translate(-762 -1498.9)" >1 M LiFSI in DEA</text>
<rect x="980.3" y="1177.1" width="238.6" height="201" fill="#fff" stroke="none" stroke-width="0" />
<g clip-path="url(#clipif)">
<path d="M980.3 1364.4 L1018.5 1345.9 L1023.2 1169.1" stroke="#c0c0c0" stroke-width="2.2" fill="none" stroke-linejoin="round" />
<path d="M980.3 1365.2 L1023.2 1363.6 L1054.7 1225.3 L1056.7 1169.1" stroke="#1010e8" stroke-width="2.2" fill="none" stroke-linejoin="round" />
<path d="M980.3 1366 L1023.2 1364.4 L1056.7 1358 L1064.3 1169.1" stroke="#10c810" stroke-width="2.2" fill="none" stroke-linejoin="round" />
<path d="M980.3 1363.6 L1023.2 1363.6 L1056.7 1358.8 L1085.3 1169.1" stroke="#7cc4f0" stroke-width="2.2" fill="none" stroke-linejoin="round" />
</g>
<rect x="980.3" y="1177.1" width="238.6" height="201" fill="none" stroke="#000" stroke-width="2.2" />
<line x1="980.3" y1="1378.1" x2="974.3" y2="1378.1" stroke="#000" stroke-width="2" />
<line x1="980.3" y1="1337.9" x2="974.3" y2="1337.9" stroke="#000" stroke-width="2" />
<line x1="980.3" y1="1297.7" x2="974.3" y2="1297.7" stroke="#000" stroke-width="2" />
<line x1="980.3" y1="1257.5" x2="974.3" y2="1257.5" stroke="#000" stroke-width="2" />
<line x1="980.3" y1="1217.3" x2="974.3" y2="1217.3" stroke="#000" stroke-width="2" />
<line x1="980.3" y1="1177.1" x2="974.3" y2="1177.1" stroke="#000" stroke-width="2" />
<line x1="980.3" y1="1358" x2="976.8" y2="1358" stroke="#000" stroke-width="2" />
<line x1="980.3" y1="1317.8" x2="976.8" y2="1317.8" stroke="#000" stroke-width="2" />
<line x1="980.3" y1="1277.6" x2="976.8" y2="1277.6" stroke="#000" stroke-width="2" />
<line x1="980.3" y1="1237.4" x2="976.8" y2="1237.4" stroke="#000" stroke-width="2" />
<line x1="980.3" y1="1197.2" x2="976.8" y2="1197.2" stroke="#000" stroke-width="2" />
<line x1="1028" y1="1378.1" x2="1028" y2="1384.1" stroke="#000" stroke-width="2" />
<line x1="1123.5" y1="1378.1" x2="1123.5" y2="1384.1" stroke="#000" stroke-width="2" />
<line x1="1218.9" y1="1378.1" x2="1218.9" y2="1384.1" stroke="#000" stroke-width="2" />
<line x1="980.3" y1="1378.1" x2="980.3" y2="1381.6" stroke="#000" stroke-width="2" />
<line x1="1075.7" y1="1378.1" x2="1075.7" y2="1381.6" stroke="#000" stroke-width="2" />
<line x1="1171.2" y1="1378.1" x2="1171.2" y2="1381.6" stroke="#000" stroke-width="2" />
<text x="1028" y="1406.1" font-size="27" text-anchor="middle" fill="#000" font-family='"Liberation Sans", Arial, sans-serif' transform="translate(1028 1406.1) scale(1 1.09) translate(-1028 -1406.1)" >0.98</text>
<text x="1123.5" y="1406.1" font-size="27" text-anchor="middle" fill="#000" font-family='"Liberation Sans", Arial, sans-serif' transform="translate(1123.5 1406.1) scale(1 1.09) translate(-1123.5 -1406.1)" >0.99</text>
<text x="1218.9" y="1406.1" font-size="27" text-anchor="middle" fill="#000" font-family='"Liberation Sans", Arial, sans-serif' transform="translate(1218.9 1406.1) scale(1 1.09) translate(-1218.9 -1406.1)" >1.00</text>
<text x="973.8" y="1387.8" font-size="27" text-anchor="end" fill="#000" font-family='"Liberation Sans", Arial, sans-serif' transform="translate(973.8 1387.8) scale(1 1.09) translate(-973.8 -1387.8)" >0.00</text>
<text x="973.8" y="1347.6" font-size="27" text-anchor="end" fill="#000" font-family='"Liberation Sans", Arial, sans-serif' transform="translate(973.8 1347.6) scale(1 1.09) translate(-973.8 -1347.6)" >0.05</text>
<text x="973.8" y="1307.4" font-size="27" text-anchor="end" fill="#000" font-family='"Liberation Sans", Arial, sans-serif' transform="translate(973.8 1307.4) scale(1 1.09) translate(-973.8 -1307.4)" >0.10</text>
<text x="973.8" y="1267.2" font-size="27" text-anchor="end" fill="#000" font-family='"Liberation Sans", Arial, sans-serif' transform="translate(973.8 1267.2) scale(1 1.09) translate(-973.8 -1267.2)" >0.15</text>
<text x="973.8" y="1227" font-size="27" text-anchor="end" fill="#000" font-family='"Liberation Sans", Arial, sans-serif' transform="translate(973.8 1227) scale(1 1.09) translate(-973.8 -1227)" >0.20</text>
<text x="973.8" y="1186.8" font-size="27" text-anchor="end" fill="#000" font-family='"Liberation Sans", Arial, sans-serif' transform="translate(973.8 1186.8) scale(1 1.09) translate(-973.8 -1186.8)" >0.25</text>
<text x="913" y="1277.2" font-size="27" text-anchor="middle" fill="#000" font-family='"Liberation Sans", Arial, sans-serif' transform="rotate(-90 913 1277.2) translate(913 1277.2) scale(1 1.09) translate(-913 -1277.2)" >Voltage (V)</text>
<text x="1096.5" y="1437.4" font-size="27" text-anchor="middle" fill="#000" font-family='"Liberation Sans", Arial, sans-serif' transform="translate(1096.5 1437.4) scale(1 1.09) translate(-1096.5 -1437.4)" >Areal capacity (mAh cm<tspan dy="-10" font-size="17">-2</tspan><tspan dy="10">)</tspan></text>
<text x="1325.2" y="1112.5" font-size="45" font-weight="bold" fill="#000" font-family='"Liberation Sans", Arial, sans-serif' transform="translate(1325.2 1112.5) scale(1 1.03) translate(-1325.2 -1112.5)" >g</text>
<g clip-path="url(#clipg)">
<path d="M1423.9 1531.3 L1430.3 1519.5 L1436.7 1517.1 L1443.1 1516.6 L1449.5 1516.5 L1455.9 1516.5 L1462.4 1516.5 L1468.8 1516.5 L1475.2 1516.5 L1481.6 1516.5 L1488 1516.5 L1494.4 1516.5 L1500.8 1516.5 L1507.2 1516.5 L1513.6 1516.5 L1520 1516.5 L1526.5 1516.5 L1532.9 1516.5 L1539.3 1516.5 L1545.7 1516.5 L1552.1 1516.5 L1558.5 1516.5 L1564.9 1516.5 L1571.3 1516.5 L1577.7 1516.5 L1584.1 1516.5 L1590.6 1516.5 L1597 1516.5 L1603.4 1516.5 L1609.8 1516.5 L1616.2 1516.5 L1622.6 1516.5 L1629 1516.5 L1635.4 1516.5 L1641.8 1516.5 L1648.2 1516.5 L1654.7 1516.5 L1661.1 1516.5 L1667.5 1516.5 L1673.9 1516.5 L1680.3 1516.5 L1686.7 1516.5 L1693.1 1516.5 L1699.5 1516.5 L1705.9 1516.5 L1712.3 1516.5 L1718.8 1516.5 L1725.2 1516.5 L1731.6 1516.5 L1738 1516.5 L1744.4 1516.5 L1750.8 1516.5 L1757.2 1516.6 L1763.6 1516.6 L1770 1516.6 L1776.4 1516.7 L1782.9 1516.7 L1789.3 1516.8 L1795.7 1516.8 L1802.1 1516.9 L1808.5 1517 L1814.9 1517.1 L1821.3 1517.1 L1827.7 1517.2 L1834.1 1517.3 L1840.5 1517.5 L1847 1517.6 L1853.4 1517.7 L1859.8 1517.8 L1866.2 1517.9 L1872.6 1518.1 L1879 1518.2 L1885.4 1518.4 L1891.8 1518.5 L1898.2 1518.7 L1904.6 1518.9 L1911.1 1519 L1917.5 1519.2 L1923.9 1519.4 L1930.3 1519.6" stroke="#c0c0c0" stroke-width="3" fill="none" stroke-linejoin="round" />
<path d="M1423.9 1531.3 L1430.3 1519.9 L1436.7 1517.5 L1443.1 1517 L1449.5 1516.9 L1455.9 1516.9 L1462.4 1516.9 L1468.8 1516.9 L1475.2 1516.9 L1481.6 1516.9 L1488 1516.9 L1494.4 1516.9 L1500.8 1516.9 L1507.2 1516.9 L1513.6 1516.9 L1520 1516.9 L1526.5 1516.9 L1532.9 1516.9 L1539.3 1516.9 L1545.7 1516.9 L1552.1 1516.9 L1558.5 1516.9 L1564.9 1516.9 L1571.3 1516.9 L1577.7 1516.9 L1584.1 1516.9 L1590.6 1516.9 L1597 1516.9 L1603.4 1516.9 L1609.8 1516.9 L1616.2 1516.9 L1622.6 1516.9 L1629 1516.9 L1635.4 1516.9 L1641.8 1516.9 L1648.2 1516.9 L1654.7 1516.9 L1661.1 1516.9 L1667.5 1516.9 L1673.9 1516.9 L1680.3 1516.9 L1686.7 1516.9 L1693.1 1516.9 L1699.5 1516.9 L1705.9 1516.9 L1712.3 1516.9 L1718.8 1516.9 L1725.2 1516.9 L1731.6 1516.9 L1738 1516.9 L1744.4 1516.9 L1750.8 1516.9 L1757.2 1516.9 L1763.6 1517 L1770 1517 L1776.4 1517 L1782.9 1517.1 L1789.3 1517.1 L1795.7 1517.2 L1802.1 1517.2 L1808.5 1517.3 L1814.9 1517.4 L1821.3 1517.5 L1827.7 1517.5 L1834.1 1517.6 L1840.5 1517.7 L1847 1517.8 L1853.4 1517.9 L1859.8 1518 L1866.2 1518.1 L1872.6 1518.3 L1879 1518.4 L1885.4 1518.5 L1891.8 1518.7 L1898.2 1518.8 L1904.6 1519 L1911.1 1519.1 L1917.5 1519.3 L1923.9 1519.4 L1930.3 1519.6" stroke="#10c810" stroke-width="3" fill="none" stroke-linejoin="round" />
<path d="M1423.9 1531.3 L1430.3 1519.5 L1436.7 1517.1 L1443.2 1516.6 L1449.6 1516.5 L1456 1516.5 L1462.4 1516.5 L1468.9 1516.5 L1475.3 1516.5 L1481.7 1516.5 L1488.1 1516.5 L1494.6 1516.5 L1501 1516.5 L1507.4 1516.5 L1513.8 1516.5 L1520.2 1516.5 L1526.7 1516.5 L1533.1 1516.5 L1539.5 1516.5 L1545.9 1516.5 L1552.4 1516.5 L1558.8 1516.5 L1565.2 1516.5 L1571.6 1516.5 L1578 1516.5 L1584.5 1516.5 L1590.9 1516.5 L1597.3 1516.5 L1603.7 1516.5 L1610.2 1516.5 L1616.6 1516.5 L1623 1516.5 L1629.4 1516.5 L1635.9 1516.5 L1642.3 1516.5 L1648.7 1516.5 L1655.1 1516.5 L1661.5 1516.5 L1668 1516.5 L1674.4 1516.5 L1680.8 1516.5 L1687.2 1516.5 L1693.7 1516.5 L1700.1 1516.5 L1706.5 1516.5 L1712.9 1516.5 L1719.3 1516.5 L1725.8 1516.5 L1732.2 1516.5 L1738.6 1516.5 L1745 1516.5 L1751.5 1516.5 L1757.9 1516.6 L1764.3 1516.6 L1770.7 1516.7 L1777.2 1516.7 L1783.6 1516.8 L1790 1516.8 L1796.4 1516.9 L1802.8 1517 L1809.3 1517.1 L1815.7 1517.2 L1822.1 1517.3 L1828.5 1517.4 L1835 1517.6 L1841.4 1517.7 L1847.8 1517.8 L1854.2 1518 L1860.6 1518.1 L1867.1 1518.3 L1873.5 1518.5 L1879.9 1518.7 L1886.3 1518.9 L1892.8 1519 L1899.2 1519.3 L1905.6 1519.5 L1912 1519.7 L1918.5 1519.9 L1924.9 1520.1 L1931.3 1520.4" stroke="#1010e8" stroke-width="3" fill="none" stroke-linejoin="round" />
<path d="M1423.9 1531.3 L1430.3 1520.1 L1436.8 1517.9 L1443.2 1517.4 L1449.7 1517.3 L1456.1 1517.3 L1462.6 1517.3 L1469 1517.3 L1475.4 1517.3 L1481.9 1517.3 L1488.3 1517.3 L1494.8 1517.3 L1501.2 1517.3 L1507.6 1517.3 L1514.1 1517.3 L1520.5 1517.3 L1527 1517.3 L1533.4 1517.3 L1539.9 1517.3 L1546.3 1517.3 L1552.7 1517.3 L1559.2 1517.3 L1565.6 1517.3 L1572.1 1517.3 L1578.5 1517.3 L1585 1517.3 L1591.4 1517.3 L1597.8 1517.3 L1604.3 1517.3 L1610.7 1517.3 L1617.2 1517.3 L1623.6 1517.3 L1630 1517.3 L1636.5 1517.3 L1642.9 1517.3 L1649.4 1517.3 L1655.8 1517.3 L1662.3 1517.3 L1668.7 1517.3 L1675.1 1517.3 L1681.6 1517.3 L1688 1517.3 L1694.5 1517.3 L1700.9 1517.3 L1707.4 1517.3 L1713.8 1517.3 L1720.2 1517.3 L1726.7 1517.3 L1733.1 1517.3 L1739.6 1517.3 L1746 1517.3 L1752.4 1517.3 L1758.9 1517.4 L1765.3 1517.4 L1771.8 1517.5 L1778.2 1517.5 L1784.7 1517.6 L1791.1 1517.7 L1797.5 1517.8 L1804 1517.9 L1810.4 1518 L1816.9 1518.1 L1823.3 1518.3 L1829.7 1518.4 L1836.2 1518.6 L1842.6 1518.7 L1849.1 1518.9 L1855.5 1519.1 L1862 1519.3 L1868.4 1519.5 L1874.8 1519.7 L1881.3 1519.9 L1887.7 1520.1 L1894.2 1520.3 L1900.6 1520.6 L1907.1 1520.8 L1913.5 1521.1 L1919.9 1521.4 L1926.4 1521.7 L1932.8 1521.9" stroke="#ff5a14" stroke-width="3" fill="none" stroke-linejoin="round" />
<path d="M1423.9 1505.6 L1436.6 1507.1 L1449.2 1507 L1461.9 1507 L1474.6 1506.9 L1487.3 1506.8 L1499.9 1506.8 L1512.6 1506.7 L1525.3 1506.7 L1537.9 1506.6 L1550.6 1506.5 L1563.3 1506.5 L1576 1506.4 L1588.6 1506.4 L1601.3 1506.3 L1614 1506.2 L1626.7 1506.2 L1639.3 1506.1 L1652 1506.1 L1664.7 1506 L1677.3 1505.9 L1690 1505.9 L1702.7 1505.8 L1715.4 1505.8 L1728 1505.7 L1740.7 1505.6 L1753.4 1505.6 L1766 1505.5 L1778.7 1505.5 L1791.4 1505.4 L1804.1 1505.3 L1816.7 1505.3 L1829.4 1505.2 L1842.1 1505.2 L1854.7 1505.1 L1867.4 1505.1 L1880.1 1505 L1892.8 1504.9 L1905.4 1504.9 L1918.1 1504.4 L1918.1 1504.4 L1918.4 1504.4 L1918.6 1504.3 L1918.9 1504.2 L1919.2 1504.2 L1919.4 1504.1 L1919.7 1504 L1920 1503.8 L1920.2 1503.7 L1920.5 1503.5 L1920.8 1503.4 L1921 1503.2 L1921.3 1502.9 L1921.6 1502.7 L1921.8 1502.4 L1922.1 1502 L1922.4 1501.6 L1922.6 1501.2 L1922.9 1500.7 L1923.2 1500.1 L1923.9 1488.4 L1924.7 1043.9" stroke="#c0c0c0" stroke-width="3" fill="none" stroke-linejoin="round" />
<path d="M1423.9 1505.6 L1436.6 1507.1 L1449.3 1507 L1462 1507 L1474.6 1506.9 L1487.3 1506.8 L1500 1506.8 L1512.7 1506.7 L1525.4 1506.7 L1538.1 1506.6 L1550.8 1506.5 L1563.4 1506.5 L1576.1 1506.4 L1588.8 1506.4 L1601.5 1506.3 L1614.2 1506.2 L1626.9 1506.2 L1639.5 1506.1 L1652.2 1506.1 L1664.9 1506 L1677.6 1505.9 L1690.3 1505.9 L1703 1505.8 L1715.7 1505.8 L1728.3 1505.7 L1741 1505.6 L1753.7 1505.6 L1766.4 1505.5 L1779.1 1505.5 L1791.8 1505.4 L1804.4 1505.3 L1817.1 1505.3 L1829.8 1505.2 L1842.5 1505.2 L1855.2 1505.1 L1867.9 1505.1 L1880.6 1505 L1893.2 1504.9 L1905.9 1504.9 L1918.6 1504.4 L1918.6 1504.4 L1918.9 1504.4 L1919.1 1504.3 L1919.4 1504.2 L1919.7 1504.2 L1920 1504.1 L1920.2 1504 L1920.5 1503.8 L1920.8 1503.7 L1921 1503.5 L1921.3 1503.4 L1921.6 1503.2 L1921.8 1502.9 L1922.1 1502.7 L1922.4 1502.4 L1922.6 1502 L1922.9 1501.6 L1923.2 1501.2 L1923.4 1500.7 L1923.7 1500.1 L1924.5 1488.4 L1925.2 1043.9" stroke="#10c810" stroke-width="3" fill="none" stroke-linejoin="round" />
<path d="M1423.9 1505.6 L1436.6 1507.1 L1449.4 1507 L1462.1 1507 L1474.8 1506.9 L1487.6 1506.8 L1500.3 1506.8 L1513.1 1506.7 L1525.8 1506.7 L1538.5 1506.6 L1551.3 1506.5 L1564 1506.5 L1576.7 1506.4 L1589.5 1506.4 L1602.2 1506.3 L1615 1506.2 L1627.7 1506.2 L1640.4 1506.1 L1653.2 1506.1 L1665.9 1506 L1678.6 1505.9 L1691.4 1505.9 L1704.1 1505.8 L1716.9 1505.8 L1729.6 1505.7 L1742.3 1505.6 L1755.1 1505.6 L1767.8 1505.5 L1780.5 1505.5 L1793.3 1505.4 L1806 1505.3 L1818.7 1505.3 L1831.5 1505.2 L1844.2 1505.2 L1857 1505.1 L1869.7 1505.1 L1882.4 1505 L1895.2 1504.9 L1907.9 1504.9 L1920.6 1504.4 L1920.6 1504.4 L1920.9 1504.4 L1921.2 1504.3 L1921.4 1504.2 L1921.7 1504.2 L1922 1504.1 L1922.2 1504 L1922.5 1503.8 L1922.8 1503.7 L1923 1503.5 L1923.3 1503.4 L1923.6 1503.2 L1923.8 1502.9 L1924.1 1502.7 L1924.4 1502.4 L1924.7 1502 L1924.9 1501.6 L1925.2 1501.2 L1925.5 1500.7 L1925.7 1500.1 L1926.5 1488.4 L1927.2 1043.9" stroke="#1010e8" stroke-width="3" fill="none" stroke-linejoin="round" />
<path d="M1423.9 1505.6 L1436.7 1507.1 L1449.5 1507 L1462.3 1507 L1475.1 1506.9 L1487.8 1506.8 L1500.6 1506.8 L1513.4 1506.7 L1526.2 1506.7 L1539 1506.6 L1551.8 1506.5 L1564.6 1506.5 L1577.4 1506.4 L1590.2 1506.4 L1602.9 1506.3 L1615.7 1506.2 L1628.5 1506.2 L1641.3 1506.1 L1654.1 1506.1 L1666.9 1506 L1679.7 1505.9 L1692.5 1505.9 L1705.3 1505.8 L1718 1505.8 L1730.8 1505.7 L1743.6 1505.6 L1756.4 1505.6 L1769.2 1505.5 L1782 1505.5 L1794.8 1505.4 L1807.6 1505.3 L1820.4 1505.3 L1833.2 1505.2 L1845.9 1505.2 L1858.7 1505.1 L1871.5 1505.1 L1884.3 1505 L1897.1 1504.9 L1909.9 1504.9 L1922.7 1504.4 L1922.7 1504.4 L1922.9 1504.4 L1923.2 1504.3 L1923.5 1504.2 L1923.7 1504.2 L1924 1504.1 L1924.3 1504 L1924.5 1503.8 L1924.8 1503.7 L1925.1 1503.5 L1925.3 1503.4 L1925.6 1503.2 L1925.9 1502.9 L1926.1 1502.7 L1926.4 1502.4 L1926.7 1502 L1926.9 1501.6 L1927.2 1501.2 L1927.5 1500.7 L1927.7 1500.1 L1928.5 1488.4 L1929.3 1043.9" stroke="#ff5a14" stroke-width="3" fill="none" stroke-linejoin="round" />
</g>
<rect x="1423.9" y="1121.9" width="533.1" height="428.9" fill="none" stroke="#000" stroke-width="2" />
<line x1="1423.9" y1="1511.8" x2="1416.3" y2="1511.8" stroke="#000" stroke-width="2" />
<line x1="1423.9" y1="1433.8" x2="1416.3" y2="1433.8" stroke="#000" stroke-width="2" />
<line x1="1423.9" y1="1355.8" x2="1416.3" y2="1355.8" stroke="#000" stroke-width="2" />
<line x1="1423.9" y1="1277.9" x2="1416.3" y2="1277.9" stroke="#000" stroke-width="2" />
<line x1="1423.9" y1="1199.9" x2="1416.3" y2="1199.9" stroke="#000" stroke-width="2" />
<line x1="1423.9" y1="1121.9" x2="1416.3" y2="1121.9" stroke="#000" stroke-width="2" />
<line x1="1423.9" y1="1472.8" x2="1419.9" y2="1472.8" stroke="#000" stroke-width="2" />
<line x1="1423.9" y1="1394.8" x2="1419.9" y2="1394.8" stroke="#000" stroke-width="2" />
<line x1="1423.9" y1="1316.9" x2="1419.9" y2="1316.9" stroke="#000" stroke-width="2" />
<line x1="1423.9" y1="1238.9" x2="1419.9" y2="1238.9" stroke="#000" stroke-width="2" />
<line x1="1423.9" y1="1160.9" x2="1419.9" y2="1160.9" stroke="#000" stroke-width="2" />
<line x1="1423.9" y1="1550.8" x2="1419.9" y2="1550.8" stroke="#000" stroke-width="2" />
<line x1="1423.9" y1="1550.8" x2="1423.9" y2="1558.4" stroke="#000" stroke-width="2" />
<line x1="1525.4" y1="1550.8" x2="1525.4" y2="1558.4" stroke="#000" stroke-width="2" />
<line x1="1626.9" y1="1550.8" x2="1626.9" y2="1558.4" stroke="#000" stroke-width="2" />
<line x1="1728.3" y1="1550.8" x2="1728.3" y2="1558.4" stroke="#000" stroke-width="2" />
<line x1="1829.8" y1="1550.8" x2="1829.8" y2="1558.4" stroke="#000" stroke-width="2" />
<line x1="1931.3" y1="1550.8" x2="1931.3" y2="1558.4" stroke="#000" stroke-width="2" />
<line x1="1474.6" y1="1550.8" x2="1474.6" y2="1554.8" stroke="#000" stroke-width="2" />
<line x1="1576.1" y1="1550.8" x2="1576.1" y2="1554.8" stroke="#000" stroke-width="2" />
<line x1="1677.6" y1="1550.8" x2="1677.6" y2="1554.8" stroke="#000" stroke-width="2" />
<line x1="1779.1" y1="1550.8" x2="1779.1" y2="1554.8" stroke="#000" stroke-width="2" />
<line x1="1880.6" y1="1550.8" x2="1880.6" y2="1554.8" stroke="#000" stroke-width="2" />
<text x="1423.9" y="1585.7" font-size="28" text-anchor="middle" fill="#000" font-family='"Liberation Sans", Arial, sans-serif' transform="translate(1423.9 1585.7) scale(1 1.09) translate(-1423.9 -1585.7)" >0.0</text>
<text x="1525.4" y="1585.7" font-size="28" text-anchor="middle" fill="#000" font-family='"Liberation Sans", Arial, sans-serif' transform="translate(1525.4 1585.7) scale(1 1.09) translate(-1525.4 -1585.7)" >0.2</text>
<text x="1626.9" y="1585.7" font-size="28" text-anchor="middle" fill="#000" font-family='"Liberation Sans", Arial, sans-serif' transform="translate(1626.9 1585.7) scale(1 1.09) translate(-1626.9 -1585.7)" >0.4</text>
<text x="1728.3" y="1585.7" font-size="28" text-anchor="middle" fill="#000" font-family='"Liberation Sans", Arial, sans-serif' transform="translate(1728.3 1585.7) scale(1 1.09) translate(-1728.3 -1585.7)" >0.6</text>
<text x="1829.8" y="1585.7" font-size="28" text-anchor="middle" fill="#000" font-family='"Liberation Sans", Arial, sans-serif' transform="translate(1829.8 1585.7) scale(1 1.09) translate(-1829.8 -1585.7)" >0.8</text>
<text x="1931.3" y="1585.7" font-size="28" text-anchor="middle" fill="#000" font-family='"Liberation Sans", Arial, sans-serif' transform="translate(1931.3 1585.7) scale(1 1.09) translate(-1931.3 -1585.7)" >1.0</text>
<text x="1407.4" y="1521.9" font-size="28" text-anchor="end" fill="#000" font-family='"Liberation Sans", Arial, sans-serif' transform="translate(1407.4 1521.9) scale(1 1.09) translate(-1407.4 -1521.9)" >0.0</text>
<text x="1407.4" y="1443.9" font-size="28" text-anchor="end" fill="#000" font-family='"Liberation Sans", Arial, sans-serif' transform="translate(1407.4 1443.9) scale(1 1.09) translate(-1407.4 -1443.9)" >0.2</text>
<text x="1407.4" y="1365.9" font-size="28" text-anchor="end" fill="#000" font-family='"Liberation Sans", Arial, sans-serif' transform="translate(1407.4 1365.9) scale(1 1.09) translate(-1407.4 -1365.9)" >0.4</text>
<text x="1407.4" y="1287.9" font-size="28" text-anchor="end" fill="#000" font-family='"Liberation Sans", Arial, sans-serif' transform="translate(1407.4 1287.9) scale(1 1.09) translate(-1407.4 -1287.9)" >0.6</text>
<text x="1407.4" y="1210" font-size="28" text-anchor="end" fill="#000" font-family='"Liberation Sans", Arial, sans-serif' transform="translate(1407.4 1210) scale(1 1.09) translate(-1407.4 -1210)" >0.8</text>
<text x="1407.4" y="1132" font-size="28" text-anchor="end" fill="#000" font-family='"Liberation Sans", Arial, sans-serif' transform="translate(1407.4 1132) scale(1 1.09) translate(-1407.4 -1132)" >1.0</text>
<text x="1360.6" y="1336.2" font-size="29" text-anchor="middle" fill="#000" font-family='"Liberation Sans", Arial, sans-serif' transform="rotate(-90 1360.6 1336.2) translate(1360.6 1336.2) scale(1 1.09) translate(-1360.6 -1336.2)" >Voltage (V)</text>
<text x="1695.4" y="1637.7" font-size="28" text-anchor="middle" fill="#000" font-family='"Liberation Sans", Arial, sans-serif' transform="translate(1695.4 1637.7) scale(1 1.09) translate(-1695.4 -1637.7)" >Areal capacity (mAh cm<tspan dy="-10" font-size="18">-2</tspan><tspan dy="10">)</tspan></text>
<line x1="1427.9" y1="1151.3" x2="1485" y2="1151.3" stroke="#c0c0c0" stroke-width="3.2" stroke-linecap="round"/>
<line x1="1427.9" y1="1190.7" x2="1485" y2="1190.7" stroke="#10c810" stroke-width="3.2" stroke-linecap="round"/>
<line x1="1427.9" y1="1230.1" x2="1485" y2="1230.1" stroke="#1010e8" stroke-width="3.2" stroke-linecap="round"/>
<line x1="1427.9" y1="1269.1" x2="1485" y2="1269.1" stroke="#ff5a14" stroke-width="3.2" stroke-linecap="round"/>
<text x="1497.5" y="1162" font-size="28" fill="#000" font-family='"Liberation Sans", Arial, sans-serif' transform="translate(1497.5 1162) scale(1 1.09) translate(-1497.5 -1162)" >50<tspan dy="-10" font-size="18">th</tspan></text>
<text x="1491" y="1201.5" font-size="28" fill="#000" font-family='"Liberation Sans", Arial, sans-serif' transform="translate(1491 1201.5) scale(1 1.09) translate(-1491 -1201.5)" >100<tspan dy="-10" font-size="18">th</tspan></text>
<text x="1491" y="1241" font-size="28" fill="#000" font-family='"Liberation Sans", Arial, sans-serif' transform="translate(1491 1241) scale(1 1.09) translate(-1491 -1241)" >150<tspan dy="-10" font-size="18">th</tspan></text>
<text x="1491" y="1280" font-size="28" fill="#000" font-family='"Liberation Sans", Arial, sans-serif' transform="translate(1491 1280) scale(1 1.09) translate(-1491 -1280)" >200<tspan dy="-10" font-size="18">th</tspan></text>
<text x="1477.6" y="1449.5" font-size="28" fill="#000" font-family='"Liberation Sans", Arial, sans-serif' transform="translate(1477.6 1449.5) scale(1 1.09) translate(-1477.6 -1449.5)" >25 <tspan font-family='"DejaVu Serif", serif' font-size="25.2">℃</tspan></text>
<text x="1433" y="1490.8" font-size="28" fill="#000" font-family='"Liberation Sans", Arial, sans-serif' transform="translate(1433 1490.8) scale(1 1.09) translate(-1433 -1490.8)" >1 M LiFSI in DEA/FB (1:1 v/v)</text>
<rect x="1650" y="1161.3" width="241.9" height="203.6" fill="#fff" stroke="none" stroke-width="0" />
<g clip-path="url(#clipig)">
<path d="M1650 1344.5 L1698.4 1336.4 L1740 1283.5 L1742.9 1153.2" stroke="#c0c0c0" stroke-width="2.2" fill="none" stroke-linejoin="round" />
<path d="M1650 1347 L1698.4 1342.9 L1741 1329.9 L1746.8 1153.2" stroke="#10c810" stroke-width="2.2" fill="none" stroke-linejoin="round" />
<path d="M1650 1348.6 L1740 1344.5 L1780.6 1334 L1785.5 1153.2" stroke="#1010e8" stroke-width="2.2" fill="none" stroke-linejoin="round" />
<path d="M1650 1349.4 L1740 1346.2 L1780.6 1338.8 L1822.2 1153.2" stroke="#ff5a14" stroke-width="2.2" fill="none" stroke-linejoin="round" />
</g>
<rect x="1650" y="1161.3" width="241.9" height="203.6" fill="none" stroke="#000" stroke-width="2.2" />
<line x1="1650" y1="1364.9" x2="1644" y2="1364.9" stroke="#000" stroke-width="2" />
<line x1="1650" y1="1324.2" x2="1644" y2="1324.2" stroke="#000" stroke-width="2" />
<line x1="1650" y1="1283.5" x2="1644" y2="1283.5" stroke="#000" stroke-width="2" />
<line x1="1650" y1="1242.7" x2="1644" y2="1242.7" stroke="#000" stroke-width="2" />
<line x1="1650" y1="1202" x2="1644" y2="1202" stroke="#000" stroke-width="2" />
<line x1="1650" y1="1161.3" x2="1644" y2="1161.3" stroke="#000" stroke-width="2" />
<line x1="1650" y1="1344.5" x2="1646.5" y2="1344.5" stroke="#000" stroke-width="2" />
<line x1="1650" y1="1303.8" x2="1646.5" y2="1303.8" stroke="#000" stroke-width="2" />
<line x1="1650" y1="1263.1" x2="1646.5" y2="1263.1" stroke="#000" stroke-width="2" />
<line x1="1650" y1="1222.4" x2="1646.5" y2="1222.4" stroke="#000" stroke-width="2" />
<line x1="1650" y1="1181.7" x2="1646.5" y2="1181.7" stroke="#000" stroke-width="2" />
<line x1="1698.4" y1="1364.9" x2="1698.4" y2="1370.9" stroke="#000" stroke-width="2" />
<line x1="1795.1" y1="1364.9" x2="1795.1" y2="1370.9" stroke="#000" stroke-width="2" />
<line x1="1891.9" y1="1364.9" x2="1891.9" y2="1370.9" stroke="#000" stroke-width="2" />
<line x1="1650" y1="1364.9" x2="1650" y2="1368.4" stroke="#000" stroke-width="2" />
<line x1="1746.8" y1="1364.9" x2="1746.8" y2="1368.4" stroke="#000" stroke-width="2" />
<line x1="1843.5" y1="1364.9" x2="1843.5" y2="1368.4" stroke="#000" stroke-width="2" />
<text x="1698.4" y="1393.2" font-size="27" text-anchor="middle" fill="#000" font-family='"Liberation Sans", Arial, sans-serif' transform="translate(1698.4 1393.2) scale(1 1.09) translate(-1698.4 -1393.2)" >0.98</text>
<text x="1795.1" y="1393.2" font-size="27" text-anchor="middle" fill="#000" font-family='"Liberation Sans", Arial, sans-serif' transform="translate(1795.1 1393.2) scale(1 1.09) translate(-1795.1 -1393.2)" >0.99</text>
<text x="1891.9" y="1393.2" font-size="27" text-anchor="middle" fill="#000" font-family='"Liberation Sans", Arial, sans-serif' transform="translate(1891.9 1393.2) scale(1 1.09) translate(-1891.9 -1393.2)" >1.00</text>
<text x="1643.5" y="1374.6" font-size="27" text-anchor="end" fill="#000" font-family='"Liberation Sans", Arial, sans-serif' transform="translate(1643.5 1374.6) scale(1 1.09) translate(-1643.5 -1374.6)" >0.00</text>
<text x="1643.5" y="1333.9" font-size="27" text-anchor="end" fill="#000" font-family='"Liberation Sans", Arial, sans-serif' transform="translate(1643.5 1333.9) scale(1 1.09) translate(-1643.5 -1333.9)" >0.05</text>
<text x="1643.5" y="1293.2" font-size="27" text-anchor="end" fill="#000" font-family='"Liberation Sans", Arial, sans-serif' transform="translate(1643.5 1293.2) scale(1 1.09) translate(-1643.5 -1293.2)" >0.10</text>
<text x="1643.5" y="1252.5" font-size="27" text-anchor="end" fill="#000" font-family='"Liberation Sans", Arial, sans-serif' transform="translate(1643.5 1252.5) scale(1 1.09) translate(-1643.5 -1252.5)" >0.15</text>
<text x="1643.5" y="1211.7" font-size="27" text-anchor="end" fill="#000" font-family='"Liberation Sans", Arial, sans-serif' transform="translate(1643.5 1211.7) scale(1 1.09) translate(-1643.5 -1211.7)" >0.20</text>
<text x="1643.5" y="1171" font-size="27" text-anchor="end" fill="#000" font-family='"Liberation Sans", Arial, sans-serif' transform="translate(1643.5 1171) scale(1 1.09) translate(-1643.5 -1171)" >0.25</text>
<text x="1580" y="1269.9" font-size="27" text-anchor="middle" fill="#000" font-family='"Liberation Sans", Arial, sans-serif' transform="rotate(-90 1580 1269.9) translate(1580 1269.9) scale(1 1.09) translate(-1580 -1269.9)" >Voltage (V)</text>
<text x="1754" y="1422.7" font-size="27" text-anchor="middle" fill="#000" font-family='"Liberation Sans", Arial, sans-serif' transform="translate(1754 1422.7) scale(1 1.09) translate(-1754 -1422.7)" >Areal capacity (mAh cm<tspan dy="-10" font-size="17">-2</tspan><tspan dy="10">)</tspan></text>
<text x="4.1" y="1669.7" font-size="45" font-weight="bold" fill="#000" font-family='"Liberation Sans", Arial, sans-serif' transform="translate(4.1 1669.7) scale(1 1.03) translate(-4.1 -1669.7)" >h</text>
<g clip-path="url(#cliph)">
<path d="M97.4 2096.3 L98.5 2088.8 L99.6 2084.2 L100.7 2081.3 L101.8 2079.6 L102.9 2078.5 L103.9 2077.8 L105 2077.3 L106.1 2077 L107.2 2076.8 L108.3 2076.6 L109.4 2076.5 L110.5 2076.3 L111.6 2076.2 L112.7 2076.1 L113.8 2076.1 L114.9 2076 L116 2075.9 L117.1 2075.8 L118.2 2075.7 L119.3 2075.7 L120.4 2075.6 L121.5 2075.5 L122.6 2075.4 L123.7 2075.4 L124.8 2075.3 L125.9 2075.2 L127 2075.2 L128 2075.1 L129.1 2075.1 L130.2 2075 L131.3 2074.9 L132.4 2074.9 L133.5 2074.8 L134.6 2074.8 L135.7 2074.7 L136.8 2074.7 L137.9 2074.6 L139 2074.6 L140.1 2074.5 L141.2 2074.5 L142.3 2074.4 L143.4 2074.4 L144.5 2074.3 L145.6 2074.3 L146.7 2074.2 L147.8 2074.2 L148.9 2074.1 L150 2074.1 L151.1 2074.1 L152.1 2074 L153.2 2074 L154.3 2073.9 L155.4 2073.9 L156.5 2073.9 L157.6 2073.8 L158.7 2073.8 L159.8 2073.7 L160.9 2073.7 L162 2073.7 L163.1 2073.6 L164.2 2073.6 L165.3 2073.5 L166.4 2073.5 L167.5 2073.5 L168.6 2073.4 L169.7 2073.4 L170.8 2073.4 L171.9 2073.3 L173 2073.3 L174.1 2073.3 L175.2 2073.2 L176.2 2073.2 L177.3 2073.1 L178.4 2073.1 L179.5 2073.1 L180.6 2073 L181.7 2073 L182.8 2073 L183.9 2072.9 L183.9 2074 L184.4 2028.8 L184.8 2029.4 L185.7 2030.5 L186.5 2031.5 L187.4 2032.5 L188.3 2033.3 L189.1 2034.1 L190 2034.8 L190.9 2035.4 L191.8 2035.9 L192.6 2036.5 L193.5 2036.9 L194.4 2037.3 L195.2 2037.7 L196.1 2038.1 L197 2038.4 L197.9 2038.6 L198.7 2038.9 L199.6 2039.1 L200.5 2039.3 L201.4 2039.5 L202.2 2039.7 L203.1 2039.8 L204 2040 L204.8 2040.1 L205.7 2040.2 L206.6 2040.3 L207.5 2040.4 L208.3 2040.5 L209.2 2040.6 L210.1 2040.6 L210.9 2040.7 L211.8 2040.8 L212.7 2040.8 L213.6 2040.8 L214.4 2040.9 L215.3 2040.9 L216.2 2041 L217 2041 L217.9 2041 L218.8 2041 L219.7 2041.1 L220.5 2041.1 L221.4 2041.1 L222.3 2041.1 L223.2 2041.1 L224 2041.2 L224.9 2041.2 L225.8 2041.2 L226.6 2041.2 L227.5 2041.2 L228.4 2041.2 L229.3 2041.2 L230.1 2041.2 L231 2041.2 L231.9 2041.2 L232.7 2041.2 L233.6 2041.2 L234.5 2041.2 L235.4 2041.2 L236.2 2041.2 L237.1 2041.2 L238 2041.2 L238.9 2041.2 L239.7 2041.2 L240.6 2041.2 L241.5 2041.2 L242.3 2041.2 L243.2 2041.2 L244.1 2041.2 L245 2041.2 L245.8 2041.2 L246.7 2041.1 L247.6 2041.1 L248.4 2041 L249.3 2040.9 L250.2 2040.8 L251.1 2040.7 L251.9 2040.5 L252.8 2040.2 L253.7 2039.8 L254.5 2039.3 L255.4 2038.7 L256.3 2037.8 L257.2 2036.7 L258 2035.1 L258.9 2033.1 L259.8 2030.4 L260.7 2026.7 L261.5 2021.9 L262.4 2015.4 L262.8 1933.4 L263.3 2069.3 L263.7 2069.3 L264.8 2067.6 L265.9 2066.6 L267 2065.9 L268.1 2065.4 L269.2 2065.1 L270.3 2064.9 L271.4 2064.8 L272.5 2064.7 L273.6 2064.6 L274.7 2064.6 L275.8 2064.6 L276.9 2064.5 L278 2064.5 L279.1 2064.5 L280.2 2064.5 L281.3 2064.5 L282.4 2064.5 L283.5 2064.5 L284.6 2064.5 L285.6 2064.5 L286.7 2064.5 L287.8 2064.5 L288.9 2064.5 L290 2064.5 L291.1 2064.5 L292.2 2064.5 L293.3 2064.5 L294.4 2064.5 L295.5 2064.5 L296.6 2064.5 L297.7 2064.5 L298.8 2064.5 L299.9 2064.5 L301 2064.5 L302.1 2064.5 L303.2 2064.5 L304.3 2064.5 L305.4 2064.5 L306.5 2064.5 L307.6 2064.5 L308.7 2064.5 L309.8 2064.5 L310.9 2064.6 L312 2064.7 L313.1 2064.9 L314.2 2065.1 L315.3 2065.3 L316.4 2065.5 L317.5 2065.8 L318.6 2066.1 L319.7 2066.4 L320.8 2066.7 L321.9 2067 L323 2067.4 L324.1 2067.7 L325.2 2068.1 L326.3 2068.5 L327.4 2068.9 L328.5 2069.3 L329.6 2069.7 L330.7 2070.1 L331.8 2070.6 L332.8 2071 L333.9 2071.5 L335 2072 L336.1 2072.5 L337.2 2073 L338.3 2073.5 L339.4 2074 L340.5 2074.5 L341.6 2075.1 L342.7 2075.6 L343.8 2076.2 L344.9 2076.4 L346 2076.4 L347.1 2076.4 L348.2 2076.4 L349.3 2076.4 L350.4 2076.4 L351.3 2075.2 L351.7 2034.7 L352.6 2035.9 L359.5 2035.9 L360 2062.1 L367.8 2075.2 L368.6 2075.2 L369.1 2034.7 L369.9 2035.9 L376.9 2035.9 L377.3 2062.1 L385.1 2075.2 L386 2075.2 L386.4 2034.7 L387.3 2035.9 L394.2 2035.9 L394.6 2062.1 L402.4 2075.2 L403.3 2075.2 L403.7 2034.7 L404.6 2035.9 L411.5 2035.9 L412 2062.1 L419.8 2075.2 L420.7 2075.2 L421.1 2034.7 L422 2035.9 L428.9 2035.9 L429.3 2062.1 L437.1 2075.2 L438 2075.2 L438.4 2034.7 L439.3 2035.9 L446.2 2035.9 L446.7 2062.1 L454.5 2075.2 L455.3 2075.2 L455.8 2034.7 L456.6 2035.9 L463.6 2035.9 L464 2062.1 L471.8 2075.2 L472.7 2075.2 L473.1 2034.7 L474 2035.9 L480.9 2035.9 L481.4 2062.1 L489.2 2075.2 L490 2075.2 L490.5 2034.7 L491.3 2035.9 L498.3 2035.9 L498.7 2062.1 L506.5 2075.2 L507.4 2075.2 L507.8 2034.7 L508.7 2035.9 L515.6 2035.9 L516 2062.1 L523.8 2075.2 L524.7 2072.9 L526.4 2038.3 L527.3 2038.3 L528.3 2038.5 L529.3 2038.6 L530.3 2038.8 L531.3 2038.9 L532.3 2039.1 L533.2 2039.2 L534.2 2039.3 L535.2 2039.4 L536.2 2039.5 L537.2 2039.6 L538.2 2039.6 L539.2 2039.7 L540.2 2039.8 L541.1 2039.9 L542.1 2039.9 L543.1 2040 L544.1 2040 L545.1 2040.1 L546.1 2040.1 L547.1 2040.2 L548.1 2040.2 L549 2040.2 L550 2040.3 L551 2040.3 L552 2040.3 L553 2040.4 L554 2040.4 L555 2040.4 L556 2040.4 L557 2040.4 L557.9 2040.5 L558.9 2040.5 L559.9 2040.5 L560.9 2040.5 L561.9 2040.5 L562.9 2040.5 L563.9 2040.5 L564.9 2040.6 L565.8 2040.6 L566.8 2040.6 L567.8 2040.6 L568.8 2040.6 L569.8 2040.6 L570.8 2040.6 L571.8 2040.6 L572.8 2040.6 L573.7 2040.6 L574.7 2040.6 L575.7 2040.6 L576.7 2040.6 L577.7 2040.6 L578.7 2040.6 L579.7 2040.6 L580.7 2040.6 L581.6 2040.6 L582.6 2040.6 L583.6 2040.6 L584.6 2040.6 L585.6 2040.6 L586.6 2040.6 L587.6 2040.6 L588.6 2040.6 L589.6 2040.5 L590.5 2040.5 L591.5 2040.4 L592.5 2040.4 L593.5 2040.3 L594.5 2040.1 L595.5 2039.9 L596.5 2039.7 L597.5 2039.4 L598.4 2039 L599.4 2038.4 L600.4 2037.6 L601.4 2036.6 L602.4 2035.3 L603.4 2033.5 L604.4 2031.2 L605.4 2028.1 L606.2 1933.4" stroke="#8b5a98" stroke-width="3.4" fill="none" stroke-linejoin="round" />
<path d="M97.2 1778.5 L98.1 1778.5 L98.9 2064.5 L100.7 2063.3 L101.5 2062.9 L102.9 2062.9 L104.3 2062.8 L105.7 2062.8 L107.1 2062.7 L108.5 2062.7 L109.9 2062.6 L111.3 2062.6 L112.7 2062.6 L114.1 2062.5 L115.5 2062.5 L116.9 2062.4 L118.3 2062.4 L119.7 2062.3 L121.1 2062.3 L122.5 2062.2 L123.9 2062.2 L125.3 2062.1 L126.7 2062.1 L128.1 2062 L129.5 2062 L130.9 2061.9 L132.3 2061.9 L133.7 2061.8 L135 2061.8 L136.4 2061.7 L137.8 2061.7 L139.2 2061.6 L140.6 2061.6 L142 2061.5 L143.4 2061.5 L144.8 2061.5 L146.2 2061.4 L147.6 2061.4 L149 2061.3 L150.4 2061.3 L151.8 2061.2 L153.2 2061.2 L154.6 2061.1 L156 2061.1 L157.4 2061 L158.8 2061 L160.2 2060.9 L161.6 2060.9 L163 2060.8 L164.4 2060.8 L165.8 2060.7 L167.2 2060.7 L168.6 2060.6 L170 2060.6 L171.4 2060.5 L172.7 2060.5 L174.1 2060.4 L175.5 2060.4 L176.9 2060.3 L178.3 2060.3 L179.7 2060.3 L181.1 2060.2 L182.5 2060.2 L183.9 2060.1 L183.9 2060.1 L184.4 2045.4 L184.8 2046 L185.8 2046.1 L186.8 2046.1 L187.9 2046.2 L188.9 2046.2 L189.9 2046.2 L191 2046.3 L192 2046.3 L193 2046.3 L194.1 2046.4 L195.1 2046.4 L196.1 2046.4 L197.2 2046.5 L198.2 2046.5 L199.2 2046.5 L200.3 2046.6 L201.3 2046.6 L202.3 2046.6 L203.4 2046.7 L204.4 2046.7 L205.4 2046.8 L206.5 2046.8 L207.5 2046.8 L208.5 2046.9 L209.5 2046.9 L210.6 2046.9 L211.6 2047 L212.6 2047 L213.7 2047 L214.7 2047.1 L215.7 2047.1 L216.8 2047.1 L217.8 2047.2 L218.8 2047.2 L219.9 2047.3 L220.9 2047.3 L221.9 2047.3 L223 2047.4 L224 2047.4 L225 2047.4 L226.1 2047.5 L227.1 2047.5 L228.1 2047.5 L229.2 2047.6 L230.2 2047.6 L231.2 2047.6 L232.2 2047.7 L233.3 2047.7 L234.3 2047.7 L235.3 2047.8 L236.4 2047.8 L237.4 2047.9 L238.4 2047.9 L239.5 2047.9 L240.5 2048 L241.5 2048 L242.6 2048 L243.6 2048.1 L244.6 2048.1 L245.7 2048.1 L246.7 2048.2 L247.7 2048.2 L248.8 2048.2 L249.8 2048.3 L250.8 2048.3 L251.9 2048.3 L252.9 2048.4 L253.9 2048.4 L254.9 2048.4 L256 2048.5 L257 2048.5 L258 2048.5 L259.1 2048.5 L260.1 2048.5 L261.1 2048.3 L262.2 2048.1 L263.2 2047.7 L264.2 2046.8 L265.3 2045.2 L266.3 2042.4 L267.6 2016.8 L268.5 1933.4 L269.3 1933.4 L270.2 2056.2 L270.6 2055.9 L272.1 2056 L273.5 2056.1 L275 2056.1 L276.5 2056.2 L277.9 2056.2 L279.4 2056.3 L280.8 2056.4 L282.3 2056.4 L283.7 2056.5 L285.2 2056.5 L286.6 2056.6 L288.1 2056.7 L289.5 2056.7 L291 2056.8 L292.5 2056.8 L293.9 2056.9 L295.4 2057 L296.8 2057 L298.3 2057.1 L299.7 2057.1 L301.2 2057.2 L302.6 2057.3 L304.1 2057.3 L305.6 2057.4 L307 2057.4 L308.5 2057.5 L309.9 2057.6 L311.4 2057.6 L312.8 2057.7 L314.3 2057.7 L315.7 2057.8 L317.2 2057.9 L318.7 2057.9 L320.1 2058 L321.6 2058 L323 2058.1 L324.5 2058.2 L325.9 2058.2 L327.4 2058.3 L328.8 2058.3 L330.3 2058.4 L331.7 2058.5 L333.2 2058.5 L334.7 2058.6 L336.1 2058.6 L337.6 2058.7 L339 2058.8 L340.5 2058.8 L341.9 2058.9 L343.4 2058.9 L344.8 2059 L346.3 2059.1 L347.8 2059.1 L349.2 2059.2 L350.7 2059.2 L352.1 2059.3 L353.6 2059.4 L355 2059.4 L356.5 2059.5 L359.1 2059.8 L359.3 2047.6 L367.3 2047.6 L367.8 2057.4 L375.6 2059.8 L376.4 2059.8 L376.7 2047.6 L384.7 2047.6 L385.1 2057.4 L392.9 2059.8 L393.8 2059.8 L394 2047.6 L402 2047.6 L402.4 2057.4 L410.2 2059.8 L411.1 2059.8 L411.4 2047.6 L419.4 2047.6 L419.8 2057.4 L427.6 2059.8 L428.5 2059.8 L428.7 2047.6 L436.7 2047.6 L437.1 2057.4 L444.9 2059.8 L445.8 2059.8 L446.1 2047.6 L454 2047.6 L454.5 2057.4 L462.3 2059.8 L463.1 2059.8 L463.4 2047.6 L471.4 2047.6 L471.8 2057.4 L479.6 2059.8 L480.5 2059.8 L480.7 2047.6 L488.7 2047.6 L489.2 2057.4 L497 2059.8 L497.8 2059.8 L498.1 2047.6 L506.1 2047.6 L506.5 2057.4 L514.3 2059.8 L515.2 2059.8 L515.4 2047.6 L523.4 2047.6 L523.8 2057.4 L531.7 2059.8 L531.7 2060.9 L532.5 2049 L533.4 2049.6 L534.4 2049.6 L535.4 2049.6 L536.3 2049.5 L537.3 2049.5 L538.3 2049.5 L539.3 2049.5 L540.3 2049.4 L541.3 2049.4 L542.3 2049.4 L543.3 2049.3 L544.3 2049.3 L545.2 2049.3 L546.2 2049.3 L547.2 2049.2 L548.2 2049.2 L549.2 2049.2 L550.2 2049.2 L551.2 2049.1 L552.2 2049.1 L553.1 2049.1 L554.1 2049.1 L555.1 2049 L556.1 2049 L557.1 2049 L558.1 2048.9 L559.1 2048.9 L560.1 2048.9 L561 2048.9 L562 2048.8 L563 2048.8 L564 2048.8 L565 2048.8 L566 2048.7 L567 2048.7 L568 2048.7 L568.9 2048.6 L569.9 2048.6 L570.9 2048.6 L571.9 2048.6 L572.9 2048.5 L573.9 2048.5 L574.9 2048.5 L575.9 2048.5 L576.9 2048.4 L577.8 2048.4 L578.8 2048.4 L579.8 2048.3 L580.8 2048.3 L581.8 2048.3 L582.8 2048.3 L583.8 2048.2 L584.8 2048.2 L585.7 2048.2 L586.7 2048.2 L587.7 2048.1 L588.7 2048.1 L589.7 2048.1 L590.7 2048 L591.7 2048 L592.7 2048 L593.6 2048 L594.6 2047.9 L595.6 2047.9 L596.6 2047.9 L597.6 2047.9 L598.6 2047.8 L599.6 2047.8 L600.6 2047.8 L601.6 2047.7 L602.5 2047.7 L603.5 2047.7 L604.5 2047.6 L605.5 2047.5 L606.5 2047.4 L607.5 2047.2 L608.5 2046.6 L609.5 2045.6 L610.4 2043.3 L611.4 2038.4 L612.7 2004.9 L613.2 1933.4" stroke="#52bdf3" stroke-width="3.4" fill="none" stroke-linejoin="round" />
</g>
<rect x="95.7" y="1695.1" width="530.2" height="429.3" fill="none" stroke="#000" stroke-width="2" />
<line x1="95.7" y1="2112.2" x2="88.2" y2="2112.2" stroke="#000" stroke-width="2" />
<line x1="95.7" y1="2052.6" x2="88.2" y2="2052.6" stroke="#000" stroke-width="2" />
<line x1="95.7" y1="1993" x2="88.2" y2="1993" stroke="#000" stroke-width="2" />
<line x1="95.7" y1="1933.4" x2="88.2" y2="1933.4" stroke="#000" stroke-width="2" />
<line x1="95.7" y1="1873.8" x2="88.2" y2="1873.8" stroke="#000" stroke-width="2" />
<line x1="95.7" y1="1814.3" x2="88.2" y2="1814.3" stroke="#000" stroke-width="2" />
<line x1="95.7" y1="1754.7" x2="88.2" y2="1754.7" stroke="#000" stroke-width="2" />
<line x1="95.7" y1="1695.1" x2="88.2" y2="1695.1" stroke="#000" stroke-width="2" />
<line x1="95.7" y1="2082.4" x2="91.7" y2="2082.4" stroke="#000" stroke-width="2" />
<line x1="95.7" y1="2022.8" x2="91.7" y2="2022.8" stroke="#000" stroke-width="2" />
<line x1="95.7" y1="1963.2" x2="91.7" y2="1963.2" stroke="#000" stroke-width="2" />
<line x1="95.7" y1="1903.6" x2="91.7" y2="1903.6" stroke="#000" stroke-width="2" />
<line x1="95.7" y1="1844.1" x2="91.7" y2="1844.1" stroke="#000" stroke-width="2" />
<line x1="95.7" y1="1784.5" x2="91.7" y2="1784.5" stroke="#000" stroke-width="2" />
<line x1="95.7" y1="1724.9" x2="91.7" y2="1724.9" stroke="#000" stroke-width="2" />
<line x1="97.2" y1="2124.4" x2="97.2" y2="2131.9" stroke="#000" stroke-width="2" />
<line x1="183.9" y1="2124.4" x2="183.9" y2="2131.9" stroke="#000" stroke-width="2" />
<line x1="270.6" y1="2124.4" x2="270.6" y2="2131.9" stroke="#000" stroke-width="2" />
<line x1="357.3" y1="2124.4" x2="357.3" y2="2131.9" stroke="#000" stroke-width="2" />
<line x1="444.1" y1="2124.4" x2="444.1" y2="2131.9" stroke="#000" stroke-width="2" />
<line x1="530.8" y1="2124.4" x2="530.8" y2="2131.9" stroke="#000" stroke-width="2" />
<line x1="617.5" y1="2124.4" x2="617.5" y2="2131.9" stroke="#000" stroke-width="2" />
<line x1="140.6" y1="2124.4" x2="140.6" y2="2128.4" stroke="#000" stroke-width="2" />
<line x1="227.3" y1="2124.4" x2="227.3" y2="2128.4" stroke="#000" stroke-width="2" />
<line x1="314" y1="2124.4" x2="314" y2="2128.4" stroke="#000" stroke-width="2" />
<line x1="400.7" y1="2124.4" x2="400.7" y2="2128.4" stroke="#000" stroke-width="2" />
<line x1="487.4" y1="2124.4" x2="487.4" y2="2128.4" stroke="#000" stroke-width="2" />
<line x1="574.1" y1="2124.4" x2="574.1" y2="2128.4" stroke="#000" stroke-width="2" />
<text x="97.2" y="2159.6" font-size="29.5" text-anchor="middle" fill="#000" font-family='"Liberation Sans", Arial, sans-serif' transform="translate(97.2 2159.6) scale(1 1.09) translate(-97.2 -2159.6)" >0</text>
<text x="183.9" y="2159.6" font-size="29.5" text-anchor="middle" fill="#000" font-family='"Liberation Sans", Arial, sans-serif' transform="translate(183.9 2159.6) scale(1 1.09) translate(-183.9 -2159.6)" >10</text>
<text x="270.6" y="2159.6" font-size="29.5" text-anchor="middle" fill="#000" font-family='"Liberation Sans", Arial, sans-serif' transform="translate(270.6 2159.6) scale(1 1.09) translate(-270.6 -2159.6)" >20</text>
<text x="357.3" y="2159.6" font-size="29.5" text-anchor="middle" fill="#000" font-family='"Liberation Sans", Arial, sans-serif' transform="translate(357.3 2159.6) scale(1 1.09) translate(-357.3 -2159.6)" >30</text>
<text x="444.1" y="2159.6" font-size="29.5" text-anchor="middle" fill="#000" font-family='"Liberation Sans", Arial, sans-serif' transform="translate(444.1 2159.6) scale(1 1.09) translate(-444.1 -2159.6)" >40</text>
<text x="530.8" y="2159.6" font-size="29.5" text-anchor="middle" fill="#000" font-family='"Liberation Sans", Arial, sans-serif' transform="translate(530.8 2159.6) scale(1 1.09) translate(-530.8 -2159.6)" >50</text>
<text x="617.5" y="2159.6" font-size="29.5" text-anchor="middle" fill="#000" font-family='"Liberation Sans", Arial, sans-serif' transform="translate(617.5 2159.6) scale(1 1.09) translate(-617.5 -2159.6)" >60</text>
<text x="84.5" y="2122.8" font-size="29.5" text-anchor="end" fill="#000" font-family='"Liberation Sans", Arial, sans-serif' transform="translate(84.5 2122.8) scale(1 1.09) translate(-84.5 -2122.8)" >−0.5</text>
<text x="84.5" y="2063.2" font-size="29.5" text-anchor="end" fill="#000" font-family='"Liberation Sans", Arial, sans-serif' transform="translate(84.5 2063.2) scale(1 1.09) translate(-84.5 -2063.2)" >0.0</text>
<text x="84.5" y="2003.6" font-size="29.5" text-anchor="end" fill="#000" font-family='"Liberation Sans", Arial, sans-serif' transform="translate(84.5 2003.6) scale(1 1.09) translate(-84.5 -2003.6)" >0.5</text>
<text x="84.5" y="1944.1" font-size="29.5" text-anchor="end" fill="#000" font-family='"Liberation Sans", Arial, sans-serif' transform="translate(84.5 1944.1) scale(1 1.09) translate(-84.5 -1944.1)" >1.0</text>
<text x="84.5" y="1884.5" font-size="29.5" text-anchor="end" fill="#000" font-family='"Liberation Sans", Arial, sans-serif' transform="translate(84.5 1884.5) scale(1 1.09) translate(-84.5 -1884.5)" >1.5</text>
<text x="84.5" y="1824.9" font-size="29.5" text-anchor="end" fill="#000" font-family='"Liberation Sans", Arial, sans-serif' transform="translate(84.5 1824.9) scale(1 1.09) translate(-84.5 -1824.9)" >2.0</text>
<text x="84.5" y="1765.3" font-size="29.5" text-anchor="end" fill="#000" font-family='"Liberation Sans", Arial, sans-serif' transform="translate(84.5 1765.3) scale(1 1.09) translate(-84.5 -1765.3)" >2.5</text>
<text x="84.5" y="1705.7" font-size="29.5" text-anchor="end" fill="#000" font-family='"Liberation Sans", Arial, sans-serif' transform="translate(84.5 1705.7) scale(1 1.09) translate(-84.5 -1705.7)" >3.0</text>
<text x="23" y="1911" font-size="29" text-anchor="middle" fill="#000" font-family='"Liberation Sans", Arial, sans-serif' transform="rotate(-90 23 1911) translate(23 1911) scale(1 1.09) translate(-23 -1911)" >Voltage (V)</text>
<text x="366.7" y="2198.5" font-size="30" text-anchor="middle" fill="#000" font-family='"Liberation Sans", Arial, sans-serif' transform="translate(366.7 2198.5) scale(1 1.09) translate(-366.7 -2198.5)" >Time (h)</text>
<line x1="301.9" y1="1737.8" x2="370" y2="1737.8" stroke="#52bdf3" stroke-width="3.2" stroke-linecap="round"/>
<line x1="301.9" y1="1775.4" x2="370" y2="1775.4" stroke="#8b5a98" stroke-width="3.2" stroke-linecap="round"/>
<text x="376.5" y="1748.1" font-size="29" fill="#000" font-family='"Liberation Sans", Arial, sans-serif' transform="translate(376.5 1748.1) scale(1 1.09) translate(-376.5 -1748.1)" >-20 <tspan font-family='"DejaVu Serif", serif' font-size="26.1">℃</tspan></text>
<text x="376.5" y="1785.7" font-size="29" fill="#000" font-family='"Liberation Sans", Arial, sans-serif' transform="translate(376.5 1785.7) scale(1 1.09) translate(-376.5 -1785.7)" >-40 <tspan font-family='"DejaVu Serif", serif' font-size="26.1">℃</tspan></text>
<text x="491.5" y="1748.1" font-size="29" fill="#000" font-family='"Liberation Sans", Arial, sans-serif' transform="translate(491.5 1748.1) scale(1 1.09) translate(-491.5 -1748.1)" >98.41%</text>
<text x="491.5" y="1785.7" font-size="29" fill="#000" font-family='"Liberation Sans", Arial, sans-serif' transform="translate(491.5 1785.7) scale(1 1.09) translate(-491.5 -1785.7)" >97.74%</text>
<text x="211" y="1874" font-size="29.6" fill="#000" font-family='"Liberation Sans", Arial, sans-serif' transform="translate(211 1874) scale(1 1.09) translate(-211 -1874)" >1 M LiFSI in DEA/FB (1:1 v/v)</text>
<text x="461" y="2111.5" font-size="29.8" fill="#000" font-family='"Liberation Sans", Arial, sans-serif' transform="translate(461 2111.5) scale(1 1.09) translate(-461 -2111.5)" >0.2 mA cm<tspan dy="-11" font-size="19">-2</tspan></text>
<text x="677.1" y="1675.8" font-size="45" font-weight="bold" fill="#000" font-family='"Liberation Sans", Arial, sans-serif' transform="translate(677.1 1675.8) scale(1 1.03) translate(-677.1 -1675.8)" >i</text>
<g clip-path="url(#clipim)">
<rect x="963.8" y="1713" width="998.8" height="52.2" fill="#bfe4f9" stroke="none" stroke-width="0" />
<g fill="url(#gS)"><circle cx="766.6" cy="1911.9" r="9.3"/><circle cx="769" cy="1774.6" r="9.3"/><circle cx="771.4" cy="1772.6" r="9.3"/><circle cx="773.8" cy="1768.4" r="9.3"/><circle cx="776.2" cy="1765.9" r="9.3"/><circle cx="778.6" cy="1763.9" r="9.3"/><circle cx="781" cy="1758" r="9.3"/><circle cx="783.4" cy="1757.7" r="9.3"/><circle cx="785.8" cy="1753.2" r="9.3"/><circle cx="788.2" cy="1759.4" r="9.3"/><circle cx="790.6" cy="1747.2" r="9.3"/><circle cx="793" cy="1750.9" r="9.3"/><circle cx="795.4" cy="1747.1" r="9.3"/><circle cx="797.8" cy="1748.4" r="9.3"/><circle cx="800.2" cy="1748.1" r="9.3"/><circle cx="802.5" cy="1744.4" r="9.3"/><circle cx="804.9" cy="1742.4" r="9.3"/><circle cx="807.3" cy="1744.8" r="9.3"/><circle cx="809.7" cy="1743.9" r="9.3"/><circle cx="812.1" cy="1740.6" r="9.3"/><circle cx="814.5" cy="1744.8" r="9.3"/><circle cx="816.9" cy="1746.3" r="9.3"/><circle cx="819.3" cy="1739.9" r="9.3"/><circle cx="821.7" cy="1742.7" r="9.3"/><circle cx="824.1" cy="1746.2" r="9.3"/><circle cx="826.5" cy="1742.4" r="9.3"/><circle cx="828.9" cy="1741" r="9.3"/><circle cx="831.3" cy="1742.9" r="9.3"/><circle cx="833.7" cy="1743.6" r="9.3"/><circle cx="836.1" cy="1738.6" r="9.3"/><circle cx="838.5" cy="1735.7" r="9.3"/><circle cx="840.9" cy="1739" r="9.3"/><circle cx="843.3" cy="1740.4" r="9.3"/><circle cx="845.7" cy="1736.7" r="9.3"/><circle cx="848.1" cy="1735.6" r="9.3"/><circle cx="850.5" cy="1738.6" r="9.3"/><circle cx="852.9" cy="1735.8" r="9.3"/><circle cx="855.3" cy="1734.2" r="9.3"/><circle cx="857.7" cy="1738" r="9.3"/><circle cx="860.1" cy="1739.7" r="9.3"/><circle cx="862.5" cy="1736.1" r="9.3"/><circle cx="864.9" cy="1736.3" r="9.3"/><circle cx="867.3" cy="1733.6" r="9.3"/><circle cx="869.7" cy="1740.9" r="9.3"/><circle cx="872.1" cy="1738.9" r="9.3"/><circle cx="874.5" cy="1739.4" r="9.3"/><circle cx="876.8" cy="1742.2" r="9.3"/><circle cx="879.2" cy="1736.4" r="9.3"/><circle cx="881.6" cy="1735.1" r="9.3"/><circle cx="884" cy="1739" r="9.3"/><circle cx="886.4" cy="1732.3" r="9.3"/><circle cx="888.8" cy="1734.1" r="9.3"/><circle cx="891.2" cy="1734.6" r="9.3"/><circle cx="893.6" cy="1735.3" r="9.3"/><circle cx="896" cy="1733.6" r="9.3"/><circle cx="898.4" cy="1740.7" r="9.3"/><circle cx="900.8" cy="1734.6" r="9.3"/><circle cx="903.2" cy="1734.6" r="9.3"/><circle cx="905.6" cy="1742" r="9.3"/><circle cx="908" cy="1735.4" r="9.3"/><circle cx="910.4" cy="1737.2" r="9.3"/><circle cx="912.8" cy="1734" r="9.3"/><circle cx="915.2" cy="1737.8" r="9.3"/><circle cx="917.6" cy="1736.5" r="9.3"/><circle cx="920" cy="1735.4" r="9.3"/><circle cx="922.4" cy="1739.1" r="9.3"/><circle cx="924.8" cy="1734.6" r="9.3"/><circle cx="927.2" cy="1736.7" r="9.3"/><circle cx="929.6" cy="1734.9" r="9.3"/><circle cx="932" cy="1738" r="9.3"/><circle cx="934.4" cy="1733" r="9.3"/><circle cx="936.8" cy="1734.5" r="9.3"/><circle cx="939.2" cy="1736.9" r="9.3"/><circle cx="941.6" cy="1734.4" r="9.3"/><circle cx="944" cy="1732.5" r="9.3"/><circle cx="946.4" cy="1730.8" r="9.3"/><circle cx="948.8" cy="1741.3" r="9.3"/><circle cx="951.2" cy="1733.6" r="9.3"/><circle cx="953.5" cy="1734.9" r="9.3"/><circle cx="955.9" cy="1736.7" r="9.3"/><circle cx="958.3" cy="1739.5" r="9.3"/><circle cx="960.7" cy="1732.5" r="9.3"/><circle cx="963.1" cy="1740.3" r="9.3"/><circle cx="965.5" cy="1734.6" r="9.3"/><circle cx="967.9" cy="1732.3" r="9.3"/><circle cx="970.3" cy="1741.3" r="9.3"/><circle cx="972.7" cy="1737.3" r="9.3"/><circle cx="975.1" cy="1740.4" r="9.3"/><circle cx="977.5" cy="1735.6" r="9.3"/><circle cx="979.9" cy="1731.7" r="9.3"/><circle cx="982.3" cy="1730.1" r="9.3"/><circle cx="984.7" cy="1741.9" r="9.3"/><circle cx="987.1" cy="1738.1" r="9.3"/><circle cx="989.5" cy="1734.2" r="9.3"/><circle cx="991.9" cy="1731.5" r="9.3"/><circle cx="994.3" cy="1735.1" r="9.3"/><circle cx="996.7" cy="1738.7" r="9.3"/><circle cx="999.1" cy="1735.4" r="9.3"/><circle cx="1001.5" cy="1736.4" r="9.3"/><circle cx="1003.9" cy="1737" r="9.3"/><circle cx="1006.3" cy="1738.6" r="9.3"/><circle cx="1008.7" cy="1735.2" r="9.3"/><circle cx="1011.1" cy="1735.4" r="9.3"/><circle cx="1013.5" cy="1736.6" r="9.3"/><circle cx="1015.9" cy="1737" r="9.3"/><circle cx="1018.3" cy="1740.3" r="9.3"/><circle cx="1020.7" cy="1737.9" r="9.3"/><circle cx="1023.1" cy="1732.6" r="9.3"/><circle cx="1025.5" cy="1737" r="9.3"/><circle cx="1027.8" cy="1740.8" r="9.3"/><circle cx="1030.2" cy="1732.2" r="9.3"/><circle cx="1032.6" cy="1734.7" r="9.3"/><circle cx="1035" cy="1729.8" r="9.3"/><circle cx="1037.4" cy="1736.2" r="9.3"/><circle cx="1039.8" cy="1737.8" r="9.3"/><circle cx="1042.2" cy="1740.9" r="9.3"/><circle cx="1044.6" cy="1732.3" r="9.3"/><circle cx="1047" cy="1728.4" r="9.3"/><circle cx="1049.4" cy="1738.9" r="9.3"/><circle cx="1051.8" cy="1738.4" r="9.3"/><circle cx="1054.2" cy="1734.5" r="9.3"/><circle cx="1056.6" cy="1738.9" r="9.3"/><circle cx="1059" cy="1737.2" r="9.3"/><circle cx="1061.4" cy="1737.4" r="9.3"/><circle cx="1063.8" cy="1735.8" r="9.3"/><circle cx="1066.2" cy="1733" r="9.3"/><circle cx="1068.6" cy="1736.3" r="9.3"/><circle cx="1071" cy="1733.5" r="9.3"/><circle cx="1073.4" cy="1737.7" r="9.3"/><circle cx="1075.8" cy="1735.3" r="9.3"/><circle cx="1078.2" cy="1743" r="9.3"/><circle cx="1080.6" cy="1740.9" r="9.3"/><circle cx="1083" cy="1733.9" r="9.3"/><circle cx="1085.4" cy="1738.2" r="9.3"/><circle cx="1087.8" cy="1734.6" r="9.3"/><circle cx="1090.2" cy="1734.7" r="9.3"/><circle cx="1092.6" cy="1732.3" r="9.3"/><circle cx="1095" cy="1733.8" r="9.3"/><circle cx="1097.4" cy="1733.2" r="9.3"/><circle cx="1099.8" cy="1736.7" r="9.3"/><circle cx="1102.1" cy="1738.5" r="9.3"/><circle cx="1104.5" cy="1738.6" r="9.3"/><circle cx="1106.9" cy="1737.9" r="9.3"/><circle cx="1109.3" cy="1739.9" r="9.3"/><circle cx="1111.7" cy="1738.1" r="9.3"/><circle cx="1114.1" cy="1736.6" r="9.3"/><circle cx="1116.5" cy="1735.6" r="9.3"/><circle cx="1118.9" cy="1737.4" r="9.3"/><circle cx="1121.3" cy="1742.3" r="9.3"/><circle cx="1123.7" cy="1736.6" r="9.3"/><circle cx="1126.1" cy="1735.7" r="9.3"/><circle cx="1128.5" cy="1733" r="9.3"/><circle cx="1130.9" cy="1734.6" r="9.3"/><circle cx="1133.3" cy="1738.4" r="9.3"/><circle cx="1135.7" cy="1738.6" r="9.3"/><circle cx="1138.1" cy="1730.1" r="9.3"/><circle cx="1140.5" cy="1734" r="9.3"/><circle cx="1142.9" cy="1730.7" r="9.3"/><circle cx="1145.3" cy="1729.8" r="9.3"/><circle cx="1147.7" cy="1738.9" r="9.3"/><circle cx="1150.1" cy="1735.2" r="9.3"/><circle cx="1152.5" cy="1734.9" r="9.3"/><circle cx="1154.9" cy="1734.6" r="9.3"/><circle cx="1157.3" cy="1734.7" r="9.3"/><circle cx="1159.7" cy="1735.7" r="9.3"/><circle cx="1162.1" cy="1735.8" r="9.3"/><circle cx="1164.5" cy="1741" r="9.3"/><circle cx="1166.9" cy="1736.9" r="9.3"/><circle cx="1169.3" cy="1738.7" r="9.3"/><circle cx="1171.7" cy="1736" r="9.3"/><circle cx="1174.1" cy="1737.8" r="9.3"/><circle cx="1176.4" cy="1734.4" r="9.3"/><circle cx="1178.8" cy="1733.8" r="9.3"/><circle cx="1181.2" cy="1735.4" r="9.3"/><circle cx="1183.6" cy="1735.4" r="9.3"/><circle cx="1186" cy="1736.1" r="9.3"/><circle cx="1188.4" cy="1737.7" r="9.3"/><circle cx="1190.8" cy="1736.9" r="9.3"/><circle cx="1193.2" cy="1737.9" r="9.3"/><circle cx="1195.6" cy="1735.2" r="9.3"/><circle cx="1198" cy="1736.3" r="9.3"/><circle cx="1200.4" cy="1734.6" r="9.3"/><circle cx="1202.8" cy="1740.5" r="9.3"/><circle cx="1205.2" cy="1733.6" r="9.3"/><circle cx="1207.6" cy="1738.7" r="9.3"/><circle cx="1210" cy="1738.6" r="9.3"/><circle cx="1212.4" cy="1737" r="9.3"/><circle cx="1214.8" cy="1738.1" r="9.3"/><circle cx="1217.2" cy="1735.5" r="9.3"/><circle cx="1219.6" cy="1738.1" r="9.3"/><circle cx="1222" cy="1739.7" r="9.3"/><circle cx="1224.4" cy="1739" r="9.3"/><circle cx="1226.8" cy="1732.3" r="9.3"/><circle cx="1229.2" cy="1736.2" r="9.3"/><circle cx="1231.6" cy="1740" r="9.3"/><circle cx="1234" cy="1736.3" r="9.3"/><circle cx="1236.4" cy="1741.2" r="9.3"/><circle cx="1238.8" cy="1730.8" r="9.3"/><circle cx="1241.2" cy="1741.1" r="9.3"/><circle cx="1243.6" cy="1734.9" r="9.3"/><circle cx="1246" cy="1734.7" r="9.3"/><circle cx="1248.4" cy="1740.9" r="9.3"/><circle cx="1250.8" cy="1735.4" r="9.3"/><circle cx="1253.1" cy="1733.3" r="9.3"/><circle cx="1255.5" cy="1734.9" r="9.3"/><circle cx="1257.9" cy="1735.5" r="9.3"/><circle cx="1260.3" cy="1733.4" r="9.3"/><circle cx="1262.7" cy="1735.9" r="9.3"/><circle cx="1265.1" cy="1735.3" r="9.3"/><circle cx="1267.5" cy="1736.8" r="9.3"/><circle cx="1269.9" cy="1734.4" r="9.3"/><circle cx="1272.3" cy="1739.3" r="9.3"/><circle cx="1274.7" cy="1733.9" r="9.3"/><circle cx="1277.1" cy="1737.9" r="9.3"/><circle cx="1279.5" cy="1739.7" r="9.3"/><circle cx="1281.9" cy="1735.2" r="9.3"/><circle cx="1284.3" cy="1731.1" r="9.3"/><circle cx="1286.7" cy="1733.4" r="9.3"/><circle cx="1289.1" cy="1738" r="9.3"/><circle cx="1291.5" cy="1734.2" r="9.3"/><circle cx="1293.9" cy="1737.8" r="9.3"/><circle cx="1296.3" cy="1736.7" r="9.3"/><circle cx="1298.7" cy="1736.1" r="9.3"/><circle cx="1301.1" cy="1743.6" r="9.3"/><circle cx="1303.5" cy="1735.8" r="9.3"/><circle cx="1305.9" cy="1739.6" r="9.3"/><circle cx="1308.3" cy="1738.5" r="9.3"/><circle cx="1310.7" cy="1740.9" r="9.3"/><circle cx="1313.1" cy="1741.1" r="9.3"/><circle cx="1315.5" cy="1739.3" r="9.3"/><circle cx="1317.9" cy="1733.8" r="9.3"/><circle cx="1320.3" cy="1731.2" r="9.3"/><circle cx="1322.7" cy="1736.4" r="9.3"/><circle cx="1325.1" cy="1733" r="9.3"/><circle cx="1327.4" cy="1737.2" r="9.3"/><circle cx="1329.8" cy="1742.3" r="9.3"/><circle cx="1332.2" cy="1735.9" r="9.3"/><circle cx="1334.6" cy="1735" r="9.3"/><circle cx="1337" cy="1737.7" r="9.3"/><circle cx="1339.4" cy="1735.4" r="9.3"/><circle cx="1341.8" cy="1734.6" r="9.3"/><circle cx="1344.2" cy="1739" r="9.3"/><circle cx="1346.6" cy="1740.9" r="9.3"/><circle cx="1349" cy="1737" r="9.3"/><circle cx="1351.4" cy="1737" r="9.3"/><circle cx="1353.8" cy="1737.5" r="9.3"/><circle cx="1356.2" cy="1733.3" r="9.3"/><circle cx="1358.6" cy="1731" r="9.3"/><circle cx="1361" cy="1737.7" r="9.3"/><circle cx="1363.4" cy="1734.2" r="9.3"/><circle cx="1365.8" cy="1733.4" r="9.3"/><circle cx="1368.2" cy="1734.1" r="9.3"/><circle cx="1370.6" cy="1733.1" r="9.3"/><circle cx="1373" cy="1737.6" r="9.3"/><circle cx="1375.4" cy="1734.1" r="9.3"/><circle cx="1377.8" cy="1730.1" r="9.3"/><circle cx="1380.2" cy="1733.9" r="9.3"/><circle cx="1382.6" cy="1738.3" r="9.3"/><circle cx="1385" cy="1734.5" r="9.3"/><circle cx="1387.4" cy="1732.4" r="9.3"/><circle cx="1389.8" cy="1735.2" r="9.3"/><circle cx="1392.2" cy="1738.1" r="9.3"/><circle cx="1394.6" cy="1731.6" r="9.3"/><circle cx="1397" cy="1740.2" r="9.3"/><circle cx="1399.4" cy="1734.8" r="9.3"/><circle cx="1401.7" cy="1736.4" r="9.3"/><circle cx="1404.1" cy="1740.1" r="9.3"/><circle cx="1406.5" cy="1732.6" r="9.3"/><circle cx="1408.9" cy="1735.3" r="9.3"/><circle cx="1411.3" cy="1740" r="9.3"/><circle cx="1413.7" cy="1734.5" r="9.3"/><circle cx="1416.1" cy="1737.7" r="9.3"/><circle cx="1418.5" cy="1742.3" r="9.3"/><circle cx="1420.9" cy="1738.5" r="9.3"/><circle cx="1423.3" cy="1735.5" r="9.3"/><circle cx="1425.7" cy="1734.4" r="9.3"/><circle cx="1428.1" cy="1735.8" r="9.3"/><circle cx="1430.5" cy="1736.2" r="9.3"/><circle cx="1432.9" cy="1734.9" r="9.3"/><circle cx="1435.3" cy="1737" r="9.3"/><circle cx="1437.7" cy="1732.7" r="9.3"/><circle cx="1440.1" cy="1735.9" r="9.3"/><circle cx="1442.5" cy="1735.4" r="9.3"/><circle cx="1444.9" cy="1734.7" r="9.3"/><circle cx="1447.3" cy="1739.6" r="9.3"/><circle cx="1449.7" cy="1738.6" r="9.3"/><circle cx="1452.1" cy="1731.6" r="9.3"/><circle cx="1454.5" cy="1735.3" r="9.3"/><circle cx="1456.9" cy="1737.2" r="9.3"/><circle cx="1459.3" cy="1735.3" r="9.3"/><circle cx="1461.7" cy="1737.9" r="9.3"/><circle cx="1464.1" cy="1735.5" r="9.3"/><circle cx="1466.5" cy="1738.4" r="9.3"/><circle cx="1468.9" cy="1735.5" r="9.3"/><circle cx="1471.3" cy="1741.3" r="9.3"/><circle cx="1473.7" cy="1732.2" r="9.3"/><circle cx="1476" cy="1738" r="9.3"/><circle cx="1478.4" cy="1741.3" r="9.3"/><circle cx="1480.8" cy="1737.1" r="9.3"/><circle cx="1483.2" cy="1737.5" r="9.3"/><circle cx="1485.6" cy="1735.9" r="9.3"/><circle cx="1488" cy="1739.9" r="9.3"/><circle cx="1490.4" cy="1735.1" r="9.3"/><circle cx="1492.8" cy="1725.1" r="9.3"/><circle cx="1495.2" cy="1740.3" r="9.3"/><circle cx="1497.6" cy="1735.3" r="9.3"/><circle cx="1500" cy="1737.3" r="9.3"/><circle cx="1502.4" cy="1735.8" r="9.3"/><circle cx="1504.8" cy="1742" r="9.3"/><circle cx="1507.2" cy="1739.9" r="9.3"/><circle cx="1509.6" cy="1734.9" r="9.3"/><circle cx="1512" cy="1736.5" r="9.3"/><circle cx="1514.4" cy="1731.3" r="9.3"/><circle cx="1516.8" cy="1738.5" r="9.3"/><circle cx="1519.2" cy="1735.8" r="9.3"/><circle cx="1521.6" cy="1727.3" r="9.3"/><circle cx="1524" cy="1738.7" r="9.3"/><circle cx="1526.4" cy="1739.2" r="9.3"/><circle cx="1528.8" cy="1736.5" r="9.3"/><circle cx="1531.2" cy="1736.5" r="9.3"/><circle cx="1533.6" cy="1733.7" r="9.3"/><circle cx="1536" cy="1736" r="9.3"/><circle cx="1538.4" cy="1738.7" r="9.3"/><circle cx="1540.8" cy="1735.7" r="9.3"/><circle cx="1543.2" cy="1728.2" r="9.3"/><circle cx="1545.6" cy="1732.4" r="9.3"/><circle cx="1548" cy="1745" r="9.3"/><circle cx="1550.4" cy="1736.8" r="9.3"/><circle cx="1552.7" cy="1739.1" r="9.3"/><circle cx="1555.1" cy="1734.4" r="9.3"/><circle cx="1557.5" cy="1736.9" r="9.3"/><circle cx="1559.9" cy="1730.4" r="9.3"/><circle cx="1562.3" cy="1733.5" r="9.3"/><circle cx="1564.7" cy="1733.6" r="9.3"/><circle cx="1567.1" cy="1735.8" r="9.3"/><circle cx="1569.5" cy="1736.5" r="9.3"/><circle cx="1571.9" cy="1735.3" r="9.3"/><circle cx="1574.3" cy="1732.3" r="9.3"/><circle cx="1576.7" cy="1734.7" r="9.3"/><circle cx="1579.1" cy="1737.4" r="9.3"/><circle cx="1581.5" cy="1732.4" r="9.3"/><circle cx="1583.9" cy="1735.8" r="9.3"/><circle cx="1586.3" cy="1736.6" r="9.3"/><circle cx="1588.7" cy="1738.8" r="9.3"/><circle cx="1591.1" cy="1738.1" r="9.3"/><circle cx="1593.5" cy="1738.3" r="9.3"/><circle cx="1595.9" cy="1745" r="9.3"/><circle cx="1598.3" cy="1733.2" r="9.3"/><circle cx="1600.7" cy="1734.6" r="9.3"/><circle cx="1603.1" cy="1737" r="9.3"/><circle cx="1605.5" cy="1733.1" r="9.3"/><circle cx="1607.9" cy="1735" r="9.3"/><circle cx="1610.3" cy="1735.2" r="9.3"/><circle cx="1612.7" cy="1744" r="9.3"/><circle cx="1615.1" cy="1737.1" r="9.3"/><circle cx="1617.5" cy="1734.7" r="9.3"/><circle cx="1619.9" cy="1731.4" r="9.3"/><circle cx="1622.3" cy="1730.6" r="9.3"/><circle cx="1624.7" cy="1731.9" r="9.3"/><circle cx="1627" cy="1740" r="9.3"/><circle cx="1629.4" cy="1743.2" r="9.3"/><circle cx="1631.8" cy="1734.6" r="9.3"/><circle cx="1634.2" cy="1736.3" r="9.3"/><circle cx="1636.6" cy="1733.4" r="9.3"/><circle cx="1639" cy="1736.7" r="9.3"/><circle cx="1641.4" cy="1735.7" r="9.3"/><circle cx="1643.8" cy="1741" r="9.3"/><circle cx="1646.2" cy="1735" r="9.3"/><circle cx="1648.6" cy="1737.7" r="9.3"/><circle cx="1651" cy="1735.3" r="9.3"/><circle cx="1653.4" cy="1734.9" r="9.3"/><circle cx="1655.8" cy="1736.7" r="9.3"/><circle cx="1658.2" cy="1735.4" r="9.3"/><circle cx="1660.6" cy="1736.4" r="9.3"/><circle cx="1663" cy="1734" r="9.3"/><circle cx="1665.4" cy="1734.8" r="9.3"/><circle cx="1667.8" cy="1738.1" r="9.3"/><circle cx="1670.2" cy="1738.2" r="9.3"/><circle cx="1672.6" cy="1730.9" r="9.3"/><circle cx="1675" cy="1736.7" r="9.3"/><circle cx="1677.4" cy="1733.3" r="9.3"/><circle cx="1679.8" cy="1735.1" r="9.3"/><circle cx="1682.2" cy="1738.1" r="9.3"/><circle cx="1684.6" cy="1738.7" r="9.3"/><circle cx="1687" cy="1736" r="9.3"/><circle cx="1689.4" cy="1735.6" r="9.3"/><circle cx="1691.8" cy="1734.5" r="9.3"/><circle cx="1694.2" cy="1740.3" r="9.3"/><circle cx="1696.6" cy="1738.2" r="9.3"/><circle cx="1699" cy="1736.7" r="9.3"/><circle cx="1701.3" cy="1731.4" r="9.3"/><circle cx="1703.7" cy="1743.7" r="9.3"/><circle cx="1706.1" cy="1735" r="9.3"/><circle cx="1708.5" cy="1738" r="9.3"/><circle cx="1710.9" cy="1735" r="9.3"/><circle cx="1713.3" cy="1737.9" r="9.3"/><circle cx="1715.7" cy="1735.2" r="9.3"/><circle cx="1718.1" cy="1731.5" r="9.3"/><circle cx="1720.5" cy="1735.3" r="9.3"/><circle cx="1722.9" cy="1735" r="9.3"/><circle cx="1725.3" cy="1735.2" r="9.3"/><circle cx="1727.7" cy="1738.7" r="9.3"/><circle cx="1730.1" cy="1734.7" r="9.3"/><circle cx="1732.5" cy="1737" r="9.3"/><circle cx="1734.9" cy="1738.9" r="9.3"/><circle cx="1737.3" cy="1736.5" r="9.3"/><circle cx="1739.7" cy="1737.1" r="9.3"/><circle cx="1742.1" cy="1734" r="9.3"/><circle cx="1744.5" cy="1736.5" r="9.3"/><circle cx="1746.9" cy="1738" r="9.3"/><circle cx="1749.3" cy="1731.8" r="9.3"/><circle cx="1751.7" cy="1733.3" r="9.3"/><circle cx="1754.1" cy="1732.4" r="9.3"/><circle cx="1756.5" cy="1734.5" r="9.3"/><circle cx="1758.9" cy="1736.7" r="9.3"/><circle cx="1761.3" cy="1737.7" r="9.3"/><circle cx="1763.7" cy="1737.2" r="9.3"/><circle cx="1766.1" cy="1733.4" r="9.3"/><circle cx="1768.5" cy="1736" r="9.3"/><circle cx="1770.9" cy="1741" r="9.3"/><circle cx="1773.3" cy="1736.5" r="9.3"/><circle cx="1775.6" cy="1740.8" r="9.3"/><circle cx="1778" cy="1735.8" r="9.3"/><circle cx="1780.4" cy="1740.1" r="9.3"/><circle cx="1782.8" cy="1740.3" r="9.3"/><circle cx="1785.2" cy="1736" r="9.3"/><circle cx="1787.6" cy="1736.6" r="9.3"/><circle cx="1790" cy="1741.5" r="9.3"/><circle cx="1792.4" cy="1734" r="9.3"/><circle cx="1794.8" cy="1729.6" r="9.3"/><circle cx="1797.2" cy="1741" r="9.3"/><circle cx="1799.6" cy="1730.7" r="9.3"/><circle cx="1802" cy="1738.5" r="9.3"/><circle cx="1804.4" cy="1737.9" r="9.3"/><circle cx="1806.8" cy="1736.9" r="9.3"/><circle cx="1809.2" cy="1740.8" r="9.3"/><circle cx="1811.6" cy="1732.3" r="9.3"/><circle cx="1814" cy="1734.8" r="9.3"/><circle cx="1816.4" cy="1738.7" r="9.3"/><circle cx="1818.8" cy="1737.2" r="9.3"/><circle cx="1821.2" cy="1741.1" r="9.3"/><circle cx="1823.6" cy="1737.4" r="9.3"/><circle cx="1826" cy="1733.5" r="9.3"/><circle cx="1828.4" cy="1741.7" r="9.3"/><circle cx="1830.8" cy="1737.7" r="9.3"/><circle cx="1833.2" cy="1735.9" r="9.3"/><circle cx="1835.6" cy="1733.1" r="9.3"/><circle cx="1838" cy="1732.2" r="9.3"/><circle cx="1840.4" cy="1737.8" r="9.3"/><circle cx="1842.8" cy="1738.7" r="9.3"/><circle cx="1845.2" cy="1735" r="9.3"/><circle cx="1847.6" cy="1737.5" r="9.3"/><circle cx="1850" cy="1737.3" r="9.3"/><circle cx="1852.3" cy="1733" r="9.3"/><circle cx="1854.7" cy="1731.1" r="9.3"/><circle cx="1857.1" cy="1735.5" r="9.3"/><circle cx="1859.5" cy="1737" r="9.3"/><circle cx="1861.9" cy="1734.6" r="9.3"/><circle cx="1864.3" cy="1742.2" r="9.3"/><circle cx="1866.7" cy="1736.4" r="9.3"/><circle cx="1869.1" cy="1739.7" r="9.3"/><circle cx="1871.5" cy="1728.9" r="9.3"/><circle cx="1873.9" cy="1734.1" r="9.3"/><circle cx="1876.3" cy="1735.9" r="9.3"/><circle cx="1878.7" cy="1737" r="9.3"/><circle cx="1881.1" cy="1744.2" r="9.3"/><circle cx="1883.5" cy="1734.1" r="9.3"/><circle cx="1885.9" cy="1731.3" r="9.3"/><circle cx="1888.3" cy="1738.6" r="9.3"/><circle cx="1890.7" cy="1734.2" r="9.3"/><circle cx="1893.1" cy="1734.1" r="9.3"/><circle cx="1895.5" cy="1741.2" r="9.3"/><circle cx="1897.9" cy="1733.5" r="9.3"/><circle cx="1900.3" cy="1732.2" r="9.3"/><circle cx="1902.7" cy="1735.6" r="9.3"/><circle cx="1905.1" cy="1736.6" r="9.3"/><circle cx="1907.5" cy="1733.9" r="9.3"/><circle cx="1909.9" cy="1741.1" r="9.3"/><circle cx="1912.3" cy="1736.1" r="9.3"/><circle cx="1914.7" cy="1733.1" r="9.3"/><circle cx="1917.1" cy="1740.2" r="9.3"/><circle cx="1919.5" cy="1733.3" r="9.3"/><circle cx="1921.9" cy="1737.7" r="9.3"/><circle cx="1924.3" cy="1742.8" r="9.3"/><circle cx="1926.6" cy="1736.7" r="9.3"/><circle cx="1929" cy="1739.4" r="9.3"/><circle cx="1931.4" cy="1735.4" r="9.3"/><circle cx="1933.8" cy="1740" r="9.3"/><circle cx="1936.2" cy="1733.1" r="9.3"/><circle cx="1938.6" cy="1738.7" r="9.3"/><circle cx="1941" cy="1735.3" r="9.3"/><circle cx="1943.4" cy="1738.2" r="9.3"/><circle cx="1945.8" cy="1737.4" r="9.3"/><circle cx="1948.2" cy="1732.7" r="9.3"/><circle cx="1950.6" cy="1735.7" r="9.3"/><circle cx="1953" cy="1737.6" r="9.3"/><circle cx="1955.4" cy="1740.2" r="9.3"/><circle cx="1957.8" cy="1732.8" r="9.3"/><circle cx="1960.2" cy="1734.1" r="9.3"/><circle cx="1962.6" cy="1737.4" r="9.3"/><circle cx="922.4" cy="1722.2" r="9.3"/><circle cx="1013.5" cy="1722.9" r="9.3"/><circle cx="1526.4" cy="1723.6" r="9.3"/></g>
</g>
<rect x="764.2" y="1675.8" width="1198.4" height="461.6" fill="none" stroke="#000" stroke-width="2" />
<line x1="764.2" y1="2137.4" x2="757.6" y2="2137.4" stroke="#000" stroke-width="2" />
<line x1="764.2" y1="1999.5" x2="757.6" y2="1999.5" stroke="#000" stroke-width="2" />
<line x1="764.2" y1="1861.5" x2="757.6" y2="1861.5" stroke="#000" stroke-width="2" />
<line x1="764.2" y1="1723.6" x2="757.6" y2="1723.6" stroke="#000" stroke-width="2" />
<line x1="764.2" y1="2068.4" x2="760.7" y2="2068.4" stroke="#000" stroke-width="2" />
<line x1="764.2" y1="1930.5" x2="760.7" y2="1930.5" stroke="#000" stroke-width="2" />
<line x1="764.2" y1="1792.6" x2="760.7" y2="1792.6" stroke="#000" stroke-width="2" />
<line x1="764.2" y1="2137.4" x2="764.2" y2="2144" stroke="#000" stroke-width="2" />
<line x1="884" y1="2137.4" x2="884" y2="2144" stroke="#000" stroke-width="2" />
<line x1="1003.9" y1="2137.4" x2="1003.9" y2="2144" stroke="#000" stroke-width="2" />
<line x1="1123.7" y1="2137.4" x2="1123.7" y2="2144" stroke="#000" stroke-width="2" />
<line x1="1243.6" y1="2137.4" x2="1243.6" y2="2144" stroke="#000" stroke-width="2" />
<line x1="1363.4" y1="2137.4" x2="1363.4" y2="2144" stroke="#000" stroke-width="2" />
<line x1="1483.2" y1="2137.4" x2="1483.2" y2="2144" stroke="#000" stroke-width="2" />
<line x1="1603.1" y1="2137.4" x2="1603.1" y2="2144" stroke="#000" stroke-width="2" />
<line x1="1722.9" y1="2137.4" x2="1722.9" y2="2144" stroke="#000" stroke-width="2" />
<line x1="1842.8" y1="2137.4" x2="1842.8" y2="2144" stroke="#000" stroke-width="2" />
<line x1="1962.6" y1="2137.4" x2="1962.6" y2="2144" stroke="#000" stroke-width="2" />
<line x1="824.1" y1="2137.4" x2="824.1" y2="2140.9" stroke="#000" stroke-width="2" />
<line x1="944" y1="2137.4" x2="944" y2="2140.9" stroke="#000" stroke-width="2" />
<line x1="1063.8" y1="2137.4" x2="1063.8" y2="2140.9" stroke="#000" stroke-width="2" />
<line x1="1183.6" y1="2137.4" x2="1183.6" y2="2140.9" stroke="#000" stroke-width="2" />
<line x1="1303.5" y1="2137.4" x2="1303.5" y2="2140.9" stroke="#000" stroke-width="2" />
<line x1="1423.3" y1="2137.4" x2="1423.3" y2="2140.9" stroke="#000" stroke-width="2" />
<line x1="1543.2" y1="2137.4" x2="1543.2" y2="2140.9" stroke="#000" stroke-width="2" />
<line x1="1663" y1="2137.4" x2="1663" y2="2140.9" stroke="#000" stroke-width="2" />
<line x1="1782.8" y1="2137.4" x2="1782.8" y2="2140.9" stroke="#000" stroke-width="2" />
<line x1="1902.7" y1="2137.4" x2="1902.7" y2="2140.9" stroke="#000" stroke-width="2" />
<text x="764.2" y="2173" font-size="29.5" text-anchor="middle" fill="#000" font-family='"Liberation Sans", Arial, sans-serif' transform="translate(764.2 2173) scale(1 1.09) translate(-764.2 -2173)" >0</text>
<text x="884" y="2173" font-size="29.5" text-anchor="middle" fill="#000" font-family='"Liberation Sans", Arial, sans-serif' transform="translate(884 2173) scale(1 1.09) translate(-884 -2173)" >50</text>
<text x="1003.9" y="2173" font-size="29.5" text-anchor="middle" fill="#000" font-family='"Liberation Sans", Arial, sans-serif' transform="translate(1003.9 2173) scale(1 1.09) translate(-1003.9 -2173)" >100</text>
<text x="1123.7" y="2173" font-size="29.5" text-anchor="middle" fill="#000" font-family='"Liberation Sans", Arial, sans-serif' transform="translate(1123.7 2173) scale(1 1.09) translate(-1123.7 -2173)" >150</text>
<text x="1243.6" y="2173" font-size="29.5" text-anchor="middle" fill="#000" font-family='"Liberation Sans", Arial, sans-serif' transform="translate(1243.6 2173) scale(1 1.09) translate(-1243.6 -2173)" >200</text>
<text x="1363.4" y="2173" font-size="29.5" text-anchor="middle" fill="#000" font-family='"Liberation Sans", Arial, sans-serif' transform="translate(1363.4 2173) scale(1 1.09) translate(-1363.4 -2173)" >250</text>
<text x="1483.2" y="2173" font-size="29.5" text-anchor="middle" fill="#000" font-family='"Liberation Sans", Arial, sans-serif' transform="translate(1483.2 2173) scale(1 1.09) translate(-1483.2 -2173)" >300</text>
<text x="1603.1" y="2173" font-size="29.5" text-anchor="middle" fill="#000" font-family='"Liberation Sans", Arial, sans-serif' transform="translate(1603.1 2173) scale(1 1.09) translate(-1603.1 -2173)" >350</text>
<text x="1722.9" y="2173" font-size="29.5" text-anchor="middle" fill="#000" font-family='"Liberation Sans", Arial, sans-serif' transform="translate(1722.9 2173) scale(1 1.09) translate(-1722.9 -2173)" >400</text>
<text x="1842.8" y="2173" font-size="29.5" text-anchor="middle" fill="#000" font-family='"Liberation Sans", Arial, sans-serif' transform="translate(1842.8 2173) scale(1 1.09) translate(-1842.8 -2173)" >450</text>
<text x="1962.6" y="2173" font-size="29.5" text-anchor="middle" fill="#000" font-family='"Liberation Sans", Arial, sans-serif' transform="translate(1962.6 2173) scale(1 1.09) translate(-1962.6 -2173)" >500</text>
<text x="751.5" y="2148" font-size="29.5" text-anchor="end" fill="#000" font-family='"Liberation Sans", Arial, sans-serif' transform="translate(751.5 2148) scale(1 1.09) translate(-751.5 -2148)" >40</text>
<text x="751.5" y="2010.1" font-size="29.5" text-anchor="end" fill="#000" font-family='"Liberation Sans", Arial, sans-serif' transform="translate(751.5 2010.1) scale(1 1.09) translate(-751.5 -2010.1)" >60</text>
<text x="751.5" y="1872.2" font-size="29.5" text-anchor="end" fill="#000" font-family='"Liberation Sans", Arial, sans-serif' transform="translate(751.5 1872.2) scale(1 1.09) translate(-751.5 -1872.2)" >80</text>
<text x="751.5" y="1734.2" font-size="29.5" text-anchor="end" fill="#000" font-family='"Liberation Sans", Arial, sans-serif' transform="translate(751.5 1734.2) scale(1 1.09) translate(-751.5 -1734.2)" >100</text>
<text x="690.6" y="1906" font-size="29.5" text-anchor="middle" fill="#000" font-family='"Liberation Sans", Arial, sans-serif' transform="rotate(-90 690.6 1906) translate(690.6 1906) scale(1 1.09) translate(-690.6 -1906)" >Coulomic effciency (%)</text>
<text x="1413" y="2211.8" font-size="30.5" text-anchor="middle" fill="#000" font-family='"Liberation Sans", Arial, sans-serif' transform="translate(1413 2211.8) scale(1 1.09) translate(-1413 -2211.8)" >Cycle number</text>
<text x="1630.5" y="1707.1" font-size="31" fill="#000" font-family='"Liberation Sans", Arial, sans-serif' transform="translate(1630.5 1707.1) scale(1 1.09) translate(-1630.5 -1707.1)" >Average CE 98.05%</text>
<rect x="870.6" y="1780.7" width="382.2" height="274.3" fill="#fff" stroke="none" stroke-width="0" />
<g clip-path="url(#clipi1)">
<path d="M870.6 2041.6 L876.7 2039.6 L882.9 2038.4 L889 2037.5 L895.1 2037 L901.3 2036.6 L907.4 2036.4 L913.5 2036.2 L919.7 2036.1 L925.8 2036.1 L932 2036 L938.1 2036 L944.2 2036 L950.4 2036 L956.5 2036 L962.6 2036 L968.8 2036 L974.9 2036 L981 2035.9 L987.2 2035.9 L993.3 2035.9 L999.4 2035.9 L1005.6 2035.9 L1011.7 2035.9 L1017.8 2035.9 L1024 2035.9 L1030.1 2035.9 L1036.3 2035.9 L1042.4 2035.9 L1048.5 2035.9 L1054.7 2035.9 L1060.8 2035.9 L1066.9 2035.9 L1073.1 2035.9 L1079.2 2035.9 L1085.3 2035.9 L1091.5 2035.9 L1097.6 2035.9 L1103.7 2035.9 L1109.9 2035.9 L1116 2035.9 L1122.1 2035.9 L1128.3 2035.9 L1134.4 2035.9 L1140.6 2035.9 L1146.7 2035.9 L1152.8 2035.9 L1159 2035.9 L1165.1 2035.9 L1171.2 2035.9 L1177.4 2035.9 L1183.5 2035.9 L1189.6 2035.9 L1195.8 2035.9 L1201.9 2035.9 L1208 2035.9 L1214.2 2035.9 L1220.3 2035.9 L1226.4 2035.9 L1232.6 2035.9" stroke="#c0c0c0" stroke-width="3.6" fill="none" stroke-linejoin="round" />
<path d="M870.6 2041.6 L876.7 2039.6 L882.9 2038.4 L889 2037.5 L895.1 2037 L901.3 2036.6 L907.4 2036.4 L913.5 2036.2 L919.7 2036.1 L925.8 2036.1 L932 2036 L938.1 2036 L944.2 2036 L950.4 2036 L956.5 2036 L962.6 2036 L968.8 2036 L974.9 2036 L981 2035.9 L987.2 2035.9 L993.3 2035.9 L999.4 2035.9 L1005.6 2035.9 L1011.7 2035.9 L1017.8 2035.9 L1024 2035.9 L1030.1 2035.9 L1036.3 2035.9 L1042.4 2035.9 L1048.5 2035.9 L1054.7 2035.9 L1060.8 2035.9 L1066.9 2035.9 L1073.1 2035.9 L1079.2 2035.9 L1085.3 2035.9 L1091.5 2035.9 L1097.6 2035.9 L1103.7 2035.9 L1109.9 2035.9 L1116 2035.9 L1122.1 2035.9 L1128.3 2035.9 L1134.4 2035.9 L1140.6 2035.9 L1146.7 2035.9 L1152.8 2035.9 L1159 2035.9 L1165.1 2035.9 L1171.2 2035.9 L1177.4 2035.9 L1183.5 2035.9 L1189.6 2035.9 L1195.8 2035.9 L1201.9 2035.9 L1208 2035.9 L1214.2 2035.9 L1220.3 2035.9 L1226.4 2035.9 L1232.6 2035.9" stroke="#2ca05a" stroke-width="3.6" fill="none" stroke-linejoin="round" />
<path d="M870.6 2041.6 L876.7 2039.6 L882.9 2038.4 L889 2037.5 L895.1 2037 L901.3 2036.6 L907.4 2036.4 L913.5 2036.2 L919.7 2036.1 L925.8 2036.1 L932 2036 L938.1 2036 L944.2 2036 L950.4 2036 L956.5 2036 L962.6 2036 L968.8 2036 L974.9 2036 L981 2035.9 L987.2 2035.9 L993.3 2035.9 L999.4 2035.9 L1005.6 2035.9 L1011.7 2035.9 L1017.8 2035.9 L1024 2035.9 L1030.1 2035.9 L1036.3 2035.9 L1042.4 2035.9 L1048.5 2035.9 L1054.7 2035.9 L1060.8 2035.9 L1066.9 2035.9 L1073.1 2035.9 L1079.2 2035.9 L1085.3 2035.9 L1091.5 2035.9 L1097.6 2035.9 L1103.7 2035.9 L1109.9 2035.9 L1116 2035.9 L1122.1 2035.9 L1128.3 2035.9 L1134.4 2035.9 L1140.6 2035.9 L1146.7 2035.9 L1152.8 2035.9 L1159 2035.9 L1165.1 2035.9 L1171.2 2035.9 L1177.4 2035.9 L1183.5 2035.9 L1189.6 2035.9 L1195.8 2035.9 L1201.9 2035.9 L1208 2035.9 L1214.2 2035.9 L1220.3 2035.9 L1226.4 2035.9 L1232.6 2035.9" stroke="#d4a017" stroke-width="3.6" fill="none" stroke-linejoin="round" />
<path d="M870.6 2041.6 L876.7 2039.6 L882.9 2038.4 L889 2037.5 L895.1 2037 L901.3 2036.5 L907.4 2035.9 L913.5 2034.7 L919.7 2033.5 L925.8 2033.8 L932 2034.9 L938.1 2035.7 L944.2 2035.9 L950.4 2036 L956.5 2036 L962.6 2036 L968.8 2036 L974.9 2036 L981 2035.9 L987.2 2035.9 L993.3 2035.9 L999.4 2035.9 L1005.6 2035.9 L1011.7 2035.9 L1017.8 2035.9 L1024 2035.9 L1030.1 2035.9 L1036.3 2035.9 L1042.4 2035.9 L1048.5 2035.9 L1054.7 2035.9 L1060.8 2035.9 L1066.9 2035.9 L1073.1 2035.9 L1079.2 2035.9 L1085.3 2035.9 L1091.5 2035.9 L1097.6 2035.9 L1103.7 2035.9 L1109.9 2035.9 L1116 2035.9 L1122.1 2035.9 L1128.3 2035.9 L1134.4 2035.9 L1140.6 2035.9 L1146.7 2035.9 L1152.8 2035.9 L1159 2035.9 L1165.1 2035.9 L1171.2 2035.9 L1177.4 2035.9 L1183.5 2035.9 L1189.6 2035.9 L1195.8 2035.9 L1201.9 2035.9 L1208 2035.9 L1214.2 2035.9 L1220.3 2035.9 L1226.4 2035.9 L1232.6 2035.9" stroke="#8000ff" stroke-width="3.6" fill="none" stroke-linejoin="round" />
<path d="M870.6 2041.6 L876.7 2039.6 L882.9 2038.4 L889 2037.5 L895.1 2037 L901.3 2036.6 L907.4 2036.4 L913.5 2036.2 L919.7 2036.1 L925.8 2036.1 L932 2036 L938.1 2036 L944.2 2036 L950.4 2036 L956.5 2036 L962.6 2036 L968.8 2036 L974.9 2036 L981 2035.9 L987.2 2035.9 L993.3 2035.9 L999.4 2035.9 L1005.6 2035.9 L1011.7 2035.9 L1017.8 2035.9 L1024 2035.9 L1030.1 2035.9 L1036.3 2035.9 L1042.4 2035.9 L1048.5 2035.9 L1054.7 2035.9 L1060.8 2035.9 L1066.9 2035.9 L1073.1 2035.9 L1079.2 2035.9 L1085.3 2035.9 L1091.5 2035.9 L1097.6 2035.9 L1103.7 2035.9 L1109.9 2035.9 L1116 2035.9 L1122.1 2035.9 L1128.3 2035.9 L1134.4 2035.9 L1140.6 2035.9 L1146.7 2035.9 L1152.8 2035.9 L1159 2035.9 L1165.1 2035.9 L1171.2 2035.9 L1177.4 2035.9 L1183.5 2035.9 L1189.6 2035.9 L1195.8 2035.9 L1201.9 2035.9 L1208 2035.9 L1214.2 2035.9 L1220.3 2035.9 L1226.4 2035.9 L1232.6 2035.9" stroke="#52bdf3" stroke-width="3.6" fill="none" stroke-linejoin="round" />
<path d="M870.6 2022.3 L876.6 2022.3 L882.7 2022.3 L888.7 2022.3 L894.7 2022.3 L900.7 2022.3 L906.8 2022.3 L912.8 2022.3 L918.8 2022.3 L924.8 2022.3 L930.9 2022.3 L936.9 2022.3 L942.9 2022.3 L949 2022.3 L955 2022.3 L961 2022.3 L967 2022.3 L973.1 2022.3 L979.1 2022.3 L985.1 2022.3 L991.1 2022.3 L997.2 2022.3 L1003.2 2022.3 L1009.2 2022.3 L1015.3 2022.3 L1021.3 2022.3 L1027.3 2022.3 L1033.3 2022.3 L1039.4 2022.3 L1045.4 2022.3 L1051.4 2022.3 L1057.4 2022.3 L1063.5 2022.3 L1069.5 2022.3 L1075.5 2022.3 L1081.6 2022.3 L1087.6 2022.3 L1093.6 2022.3 L1099.6 2022.3 L1105.7 2022.3 L1111.7 2022.3 L1117.7 2022.3 L1123.7 2022.3 L1129.8 2022.3 L1135.8 2022.3 L1141.8 2022.3 L1147.9 2022.3 L1153.9 2022.3 L1159.9 2022.3 L1165.9 2022.2 L1172 2022.2 L1178 2022.2 L1184 2022.1 L1190.1 2022 L1196.1 2021.9 L1202.1 2021.5 L1208.1 2021 L1214.2 2020.1 L1220.2 2018.4 L1226.2 2015.6 L1228 1972 L1228.8 1803.9" stroke="#c0c0c0" stroke-width="3.6" fill="none" stroke-linejoin="round" />
<path d="M870.6 2022.3 L876.6 2022.3 L882.7 2022.3 L888.7 2022.3 L894.7 2022.3 L900.8 2022.3 L906.8 2022.3 L912.9 2022.3 L918.9 2022.3 L924.9 2022.3 L931 2022.3 L937 2022.3 L943 2022.3 L949.1 2022.3 L955.1 2022.3 L961.1 2022.3 L967.2 2022.3 L973.2 2022.3 L979.3 2022.3 L985.3 2022.3 L991.3 2022.3 L997.4 2022.3 L1003.4 2022.3 L1009.4 2022.3 L1015.5 2022.3 L1021.5 2022.3 L1027.6 2022.3 L1033.6 2022.3 L1039.6 2022.3 L1045.7 2022.3 L1051.7 2022.3 L1057.7 2022.3 L1063.8 2022.3 L1069.8 2022.3 L1075.8 2022.3 L1081.9 2022.3 L1087.9 2022.3 L1094 2022.3 L1100 2022.3 L1106 2022.3 L1112.1 2022.3 L1118.1 2022.3 L1124.1 2022.3 L1130.2 2022.3 L1136.2 2022.3 L1142.2 2022.3 L1148.3 2022.3 L1154.3 2022.3 L1160.4 2022.3 L1166.4 2022.2 L1172.4 2022.2 L1178.5 2022.2 L1184.5 2022.1 L1190.5 2022 L1196.6 2021.9 L1202.6 2021.5 L1208.7 2021 L1214.7 2020.1 L1220.7 2018.5 L1226.8 2015.6 L1228.6 1972 L1229.3 1803.9" stroke="#2ca05a" stroke-width="3.6" fill="none" stroke-linejoin="round" />
<path d="M870.6 2022.3 L876.7 2022.3 L882.7 2022.3 L888.8 2022.3 L894.9 2022.3 L900.9 2022.3 L907 2022.3 L913.1 2022.3 L919.1 2022.3 L925.2 2022.3 L931.3 2022.3 L937.3 2022.3 L943.4 2022.3 L949.5 2022.3 L955.5 2022.3 L961.6 2022.3 L967.7 2022.3 L973.7 2022.3 L979.8 2022.3 L985.9 2022.3 L991.9 2022.3 L998 2022.3 L1004.1 2022.3 L1010.2 2022.3 L1016.2 2022.3 L1022.3 2022.3 L1028.4 2022.3 L1034.4 2022.3 L1040.5 2022.3 L1046.6 2022.3 L1052.6 2022.3 L1058.7 2022.3 L1064.8 2022.3 L1070.8 2022.3 L1076.9 2022.3 L1083 2022.3 L1089 2022.3 L1095.1 2022.3 L1101.2 2022.3 L1107.2 2022.3 L1113.3 2022.3 L1119.4 2022.3 L1125.4 2022.3 L1131.5 2022.3 L1137.6 2022.3 L1143.6 2022.3 L1149.7 2022.3 L1155.8 2022.3 L1161.8 2022.3 L1167.9 2022.2 L1174 2022.2 L1180 2022.2 L1186.1 2022.1 L1192.2 2022 L1198.2 2021.9 L1204.3 2021.6 L1210.4 2021 L1216.4 2020.1 L1222.5 2018.5 L1228.6 2015.6 L1230.4 1972 L1231.1 1803.9" stroke="#d4a017" stroke-width="3.6" fill="none" stroke-linejoin="round" />
<path d="M870.6 2022.3 L876.6 2022.3 L882.5 2022.3 L888.5 2022.3 L894.5 2022.3 L900.5 2022.3 L906.4 2022.3 L912.4 2022.3 L918.4 2022.3 L924.4 2022.3 L930.3 2022.3 L936.3 2022.3 L942.3 2022.3 L948.3 2022.3 L954.2 2022.3 L960.2 2022.3 L966.2 2022.3 L972.2 2022.3 L978.1 2022.3 L984.1 2022.3 L990.1 2022.3 L996.1 2022.3 L1002 2022.3 L1008 2022.3 L1014 2022.3 L1020 2022.3 L1025.9 2022.3 L1031.9 2022.3 L1037.9 2022.3 L1043.9 2022.3 L1049.8 2022.3 L1055.8 2022.3 L1061.8 2022.3 L1067.8 2022.3 L1073.7 2022.3 L1079.7 2022.3 L1085.7 2022.3 L1091.7 2022.3 L1097.6 2022.3 L1103.6 2022.3 L1109.6 2022.3 L1115.6 2022.3 L1121.5 2022.3 L1127.5 2022.3 L1133.5 2022.3 L1139.5 2022.3 L1145.4 2022.3 L1151.4 2022.3 L1157.4 2022.3 L1163.4 2022.2 L1169.3 2022.2 L1175.3 2022.2 L1181.3 2022.1 L1187.3 2022 L1193.2 2021.8 L1199.2 2021.5 L1205.2 2021 L1211.2 2020 L1217.1 2018.4 L1223.1 2015.6 L1224.9 1972 L1225.7 1803.9" stroke="#8000ff" stroke-width="3.6" fill="none" stroke-linejoin="round" />
<path d="M870.6 2022.3 L876.6 2022.3 L882.6 2022.3 L888.6 2022.3 L894.6 2022.3 L900.6 2022.3 L906.6 2022.3 L912.6 2022.3 L918.6 2022.3 L924.7 2022.3 L930.7 2022.3 L936.7 2022.3 L942.7 2022.3 L948.7 2022.3 L954.7 2022.3 L960.7 2022.3 L966.7 2022.3 L972.7 2022.3 L978.7 2022.3 L984.7 2022.3 L990.7 2022.3 L996.7 2022.3 L1002.7 2022.3 L1008.7 2022.3 L1014.7 2022.3 L1020.7 2022.3 L1026.8 2022.3 L1032.8 2022.3 L1038.8 2022.3 L1044.8 2022.3 L1050.8 2022.3 L1056.8 2022.3 L1062.8 2022.3 L1068.8 2022.3 L1074.8 2022.3 L1080.8 2022.3 L1086.8 2022.3 L1092.8 2022.3 L1098.8 2022.3 L1104.8 2022.3 L1110.8 2022.3 L1116.8 2022.3 L1122.8 2022.3 L1128.8 2022.3 L1134.9 2022.3 L1140.9 2022.3 L1146.9 2022.3 L1152.9 2022.3 L1158.9 2022.3 L1164.9 2022.2 L1170.9 2022.2 L1176.9 2022.2 L1182.9 2022.1 L1188.9 2022 L1194.9 2021.8 L1200.9 2021.5 L1206.9 2021 L1212.9 2020.1 L1218.9 2018.4 L1224.9 2015.6 L1226.8 1972 L1227.5 1803.9" stroke="#52bdf3" stroke-width="3.6" fill="none" stroke-linejoin="round" />
</g>
<rect x="870.6" y="1780.7" width="382.2" height="274.3" fill="none" stroke="#000" stroke-width="2.2" />
<line x1="870.6" y1="2028.1" x2="864.6" y2="2028.1" stroke="#000" stroke-width="2" />
<line x1="870.6" y1="1916" x2="864.6" y2="1916" stroke="#000" stroke-width="2" />
<line x1="870.6" y1="1803.9" x2="864.6" y2="1803.9" stroke="#000" stroke-width="2" />
<line x1="870.6" y1="1972" x2="867.1" y2="1972" stroke="#000" stroke-width="2" />
<line x1="870.6" y1="1860" x2="867.1" y2="1860" stroke="#000" stroke-width="2" />
<line x1="870.6" y1="2055" x2="870.6" y2="2061" stroke="#000" stroke-width="2" />
<line x1="961.6" y1="2055" x2="961.6" y2="2061" stroke="#000" stroke-width="2" />
<line x1="1052.5" y1="2055" x2="1052.5" y2="2061" stroke="#000" stroke-width="2" />
<line x1="1143.5" y1="2055" x2="1143.5" y2="2061" stroke="#000" stroke-width="2" />
<line x1="1234.4" y1="2055" x2="1234.4" y2="2061" stroke="#000" stroke-width="2" />
<line x1="916.1" y1="2055" x2="916.1" y2="2058.5" stroke="#000" stroke-width="2" />
<line x1="1007" y1="2055" x2="1007" y2="2058.5" stroke="#000" stroke-width="2" />
<line x1="1098" y1="2055" x2="1098" y2="2058.5" stroke="#000" stroke-width="2" />
<line x1="1188.9" y1="2055" x2="1188.9" y2="2058.5" stroke="#000" stroke-width="2" />
<text x="870.6" y="2084.5" font-size="31" text-anchor="middle" fill="#000" font-family='"Liberation Sans", Arial, sans-serif' transform="translate(870.6 2084.5) scale(1 1.09) translate(-870.6 -2084.5)" >0.00</text>
<text x="961.6" y="2084.5" font-size="31" text-anchor="middle" fill="#000" font-family='"Liberation Sans", Arial, sans-serif' transform="translate(961.6 2084.5) scale(1 1.09) translate(-961.6 -2084.5)" >0.05</text>
<text x="1052.5" y="2084.5" font-size="31" text-anchor="middle" fill="#000" font-family='"Liberation Sans", Arial, sans-serif' transform="translate(1052.5 2084.5) scale(1 1.09) translate(-1052.5 -2084.5)" >0.10</text>
<text x="1143.5" y="2084.5" font-size="31" text-anchor="middle" fill="#000" font-family='"Liberation Sans", Arial, sans-serif' transform="translate(1143.5 2084.5) scale(1 1.09) translate(-1143.5 -2084.5)" >0.15</text>
<text x="1234.4" y="2084.5" font-size="31" text-anchor="middle" fill="#000" font-family='"Liberation Sans", Arial, sans-serif' transform="translate(1234.4 2084.5) scale(1 1.09) translate(-1234.4 -2084.5)" >0.20</text>
<text x="862" y="2039.3" font-size="31" text-anchor="end" fill="#000" font-family='"Liberation Sans", Arial, sans-serif' transform="translate(862 2039.3) scale(1 1.09) translate(-862 -2039.3)" >0.0</text>
<text x="862" y="1927.2" font-size="31" text-anchor="end" fill="#000" font-family='"Liberation Sans", Arial, sans-serif' transform="translate(862 1927.2) scale(1 1.09) translate(-862 -1927.2)" >0.5</text>
<text x="862" y="1815.1" font-size="31" text-anchor="end" fill="#000" font-family='"Liberation Sans", Arial, sans-serif' transform="translate(862 1815.1) scale(1 1.09) translate(-862 -1815.1)" >1.0</text>
<text x="816" y="1918.8" font-size="31" text-anchor="middle" fill="#000" font-family='"Liberation Sans", Arial, sans-serif' transform="rotate(-90 816 1918.8) translate(816 1918.8) scale(1 1.09) translate(-816 -1918.8)" >Voltage (V)</text>
<text x="1061.5" y="2119.4" font-size="32" text-anchor="middle" fill="#000" font-family='"Liberation Sans", Arial, sans-serif' transform="translate(1061.5 2119.4) scale(1 1.09) translate(-1061.5 -2119.4)" >Areal capacity (mAh cm<tspan dy="-12" font-size="20">-2</tspan><tspan dy="12">)</tspan></text>
<line x1="945.3" y1="1815.7" x2="1017.1" y2="1815.7" stroke="#c0c0c0" stroke-width="3.2" stroke-linecap="round"/>
<text x="1024.5" y="1826" font-size="33" fill="#000" font-family='"Liberation Sans", Arial, sans-serif' transform="translate(1024.5 1826) scale(1 1.09) translate(-1024.5 -1826)" >100<tspan dy="-12" font-size="21">th</tspan></text>
<line x1="945.3" y1="1859.1" x2="1017.1" y2="1859.1" stroke="#2ca05a" stroke-width="3.2" stroke-linecap="round"/>
<text x="1024.5" y="1869.3" font-size="33" fill="#000" font-family='"Liberation Sans", Arial, sans-serif' transform="translate(1024.5 1869.3) scale(1 1.09) translate(-1024.5 -1869.3)" >200<tspan dy="-12" font-size="21">th</tspan></text>
<line x1="945.3" y1="1903.3" x2="1017.1" y2="1903.3" stroke="#d4a017" stroke-width="3.2" stroke-linecap="round"/>
<text x="1024.5" y="1913.4" font-size="33" fill="#000" font-family='"Liberation Sans", Arial, sans-serif' transform="translate(1024.5 1913.4) scale(1 1.09) translate(-1024.5 -1913.4)" >300<tspan dy="-12" font-size="21">th</tspan></text>
<line x1="945.3" y1="1946.4" x2="1017.1" y2="1946.4" stroke="#8000ff" stroke-width="3.2" stroke-linecap="round"/>
<text x="1024.5" y="1956.9" font-size="33" fill="#000" font-family='"Liberation Sans", Arial, sans-serif' transform="translate(1024.5 1956.9) scale(1 1.09) translate(-1024.5 -1956.9)" >400<tspan dy="-12" font-size="21">th</tspan></text>
<line x1="945.3" y1="1989.5" x2="1017.1" y2="1989.5" stroke="#52bdf3" stroke-width="3.2" stroke-linecap="round"/>
<text x="1024.5" y="2000" font-size="33" fill="#000" font-family='"Liberation Sans", Arial, sans-serif' transform="translate(1024.5 2000) scale(1 1.09) translate(-1024.5 -2000)" >500<tspan dy="-12" font-size="21">th</tspan></text>
<rect x="1388.3" y="1795.8" width="544.6" height="150.5" fill="#fff" stroke="none" stroke-width="0" />
<g clip-path="url(#clipi2)">
<g fill="url(#gS)"><circle cx="1388.3" cy="1850.5" r="8.8"/><circle cx="1391" cy="1860" r="8.8"/><circle cx="1393.7" cy="1859.9" r="8.8"/><circle cx="1396.5" cy="1858.5" r="8.8"/><circle cx="1399.2" cy="1849.7" r="8.8"/><circle cx="1401.9" cy="1850.1" r="8.8"/><circle cx="1404.6" cy="1857.9" r="8.8"/><circle cx="1407.4" cy="1846.8" r="8.8"/><circle cx="1410.1" cy="1846.5" r="8.8"/><circle cx="1412.8" cy="1851" r="8.8"/><circle cx="1415.5" cy="1844.6" r="8.8"/><circle cx="1418.3" cy="1854.5" r="8.8"/><circle cx="1421" cy="1853.2" r="8.8"/><circle cx="1423.7" cy="1848.8" r="8.8"/><circle cx="1426.4" cy="1852.6" r="8.8"/><circle cx="1429.1" cy="1846.4" r="8.8"/><circle cx="1431.9" cy="1861.7" r="8.8"/><circle cx="1434.6" cy="1841.7" r="8.8"/><circle cx="1437.3" cy="1858.1" r="8.8"/><circle cx="1440" cy="1853.5" r="8.8"/><circle cx="1442.8" cy="1862.6" r="8.8"/><circle cx="1445.5" cy="1847.8" r="8.8"/><circle cx="1448.2" cy="1842.8" r="8.8"/><circle cx="1450.9" cy="1844.3" r="8.8"/><circle cx="1453.7" cy="1846.1" r="8.8"/><circle cx="1456.4" cy="1863.9" r="8.8"/><circle cx="1459.1" cy="1858.2" r="8.8"/><circle cx="1461.8" cy="1855.8" r="8.8"/><circle cx="1464.5" cy="1859.3" r="8.8"/><circle cx="1467.3" cy="1843.9" r="8.8"/><circle cx="1470" cy="1850.9" r="8.8"/><circle cx="1472.7" cy="1852.5" r="8.8"/><circle cx="1475.4" cy="1848.7" r="8.8"/><circle cx="1478.2" cy="1859.4" r="8.8"/><circle cx="1480.9" cy="1859.1" r="8.8"/><circle cx="1483.6" cy="1858.9" r="8.8"/><circle cx="1486.3" cy="1848.6" r="8.8"/><circle cx="1489.1" cy="1849.8" r="8.8"/><circle cx="1491.8" cy="1848" r="8.8"/><circle cx="1494.5" cy="1844.3" r="8.8"/><circle cx="1497.2" cy="1862.4" r="8.8"/><circle cx="1499.9" cy="1856.5" r="8.8"/><circle cx="1502.7" cy="1851.2" r="8.8"/><circle cx="1505.4" cy="1862.4" r="8.8"/><circle cx="1508.1" cy="1856.3" r="8.8"/><circle cx="1510.8" cy="1844.8" r="8.8"/><circle cx="1513.6" cy="1844.1" r="8.8"/><circle cx="1516.3" cy="1844.3" r="8.8"/><circle cx="1519" cy="1852" r="8.8"/><circle cx="1521.7" cy="1853.9" r="8.8"/><circle cx="1524.5" cy="1844.3" r="8.8"/><circle cx="1527.2" cy="1855.1" r="8.8"/><circle cx="1529.9" cy="1849.8" r="8.8"/><circle cx="1532.6" cy="1842.4" r="8.8"/><circle cx="1535.3" cy="1855.1" r="8.8"/><circle cx="1538.1" cy="1856.9" r="8.8"/><circle cx="1540.8" cy="1852.4" r="8.8"/><circle cx="1543.5" cy="1847.9" r="8.8"/><circle cx="1546.2" cy="1848.7" r="8.8"/><circle cx="1549" cy="1851.2" r="8.8"/><circle cx="1551.7" cy="1848.2" r="8.8"/><circle cx="1554.4" cy="1864.2" r="8.8"/><circle cx="1557.1" cy="1858.7" r="8.8"/><circle cx="1559.8" cy="1851.1" r="8.8"/><circle cx="1562.6" cy="1859.2" r="8.8"/><circle cx="1565.3" cy="1862.3" r="8.8"/><circle cx="1568" cy="1861.3" r="8.8"/><circle cx="1570.7" cy="1859.2" r="8.8"/><circle cx="1573.5" cy="1853.7" r="8.8"/><circle cx="1576.2" cy="1859.9" r="8.8"/><circle cx="1578.9" cy="1850.6" r="8.8"/><circle cx="1581.6" cy="1839.7" r="8.8"/><circle cx="1584.4" cy="1853.4" r="8.8"/><circle cx="1587.1" cy="1842.8" r="8.8"/><circle cx="1589.8" cy="1850.2" r="8.8"/><circle cx="1592.5" cy="1860.7" r="8.8"/><circle cx="1595.2" cy="1854.2" r="8.8"/><circle cx="1598" cy="1859.6" r="8.8"/><circle cx="1600.7" cy="1846.6" r="8.8"/><circle cx="1603.4" cy="1860.9" r="8.8"/><circle cx="1606.1" cy="1842.5" r="8.8"/><circle cx="1608.9" cy="1848" r="8.8"/><circle cx="1611.6" cy="1867.4" r="8.8"/><circle cx="1614.3" cy="1846.5" r="8.8"/><circle cx="1617" cy="1840.7" r="8.8"/><circle cx="1619.8" cy="1858.2" r="8.8"/><circle cx="1622.5" cy="1845" r="8.8"/><circle cx="1625.2" cy="1865.7" r="8.8"/><circle cx="1627.9" cy="1850.4" r="8.8"/><circle cx="1630.6" cy="1864.7" r="8.8"/><circle cx="1633.4" cy="1848.7" r="8.8"/><circle cx="1636.1" cy="1865.7" r="8.8"/><circle cx="1638.8" cy="1872" r="8.8"/><circle cx="1641.5" cy="1849.4" r="8.8"/><circle cx="1644.3" cy="1835.3" r="8.8"/><circle cx="1647" cy="1856.8" r="8.8"/><circle cx="1649.7" cy="1846.1" r="8.8"/><circle cx="1652.4" cy="1851.5" r="8.8"/><circle cx="1655.2" cy="1854.7" r="8.8"/><circle cx="1657.9" cy="1847.7" r="8.8"/><circle cx="1660.6" cy="1840.1" r="8.8"/><circle cx="1663.3" cy="1861.5" r="8.8"/><circle cx="1666" cy="1848.1" r="8.8"/><circle cx="1668.8" cy="1849.7" r="8.8"/><circle cx="1671.5" cy="1862.9" r="8.8"/><circle cx="1674.2" cy="1840.3" r="8.8"/><circle cx="1676.9" cy="1837.8" r="8.8"/><circle cx="1679.7" cy="1859.4" r="8.8"/><circle cx="1682.4" cy="1839.4" r="8.8"/><circle cx="1685.1" cy="1851.9" r="8.8"/><circle cx="1687.8" cy="1853.5" r="8.8"/><circle cx="1690.6" cy="1841.1" r="8.8"/><circle cx="1693.3" cy="1850.6" r="8.8"/><circle cx="1696" cy="1849.9" r="8.8"/><circle cx="1698.7" cy="1841" r="8.8"/><circle cx="1701.4" cy="1842.7" r="8.8"/><circle cx="1704.2" cy="1845.7" r="8.8"/><circle cx="1706.9" cy="1862.8" r="8.8"/><circle cx="1709.6" cy="1864" r="8.8"/><circle cx="1712.3" cy="1843.9" r="8.8"/><circle cx="1715.1" cy="1859.2" r="8.8"/><circle cx="1717.8" cy="1851.2" r="8.8"/><circle cx="1720.5" cy="1860.3" r="8.8"/><circle cx="1723.2" cy="1853.7" r="8.8"/><circle cx="1726" cy="1861.9" r="8.8"/><circle cx="1728.7" cy="1840.2" r="8.8"/><circle cx="1731.4" cy="1859.9" r="8.8"/><circle cx="1734.1" cy="1853.2" r="8.8"/><circle cx="1736.8" cy="1853.7" r="8.8"/><circle cx="1739.6" cy="1843.3" r="8.8"/><circle cx="1742.3" cy="1862.9" r="8.8"/><circle cx="1745" cy="1852.6" r="8.8"/><circle cx="1747.7" cy="1853.9" r="8.8"/><circle cx="1750.5" cy="1848.4" r="8.8"/><circle cx="1753.2" cy="1848.8" r="8.8"/><circle cx="1755.9" cy="1855.8" r="8.8"/><circle cx="1758.6" cy="1850.5" r="8.8"/><circle cx="1761.4" cy="1855.1" r="8.8"/><circle cx="1764.1" cy="1848.8" r="8.8"/><circle cx="1766.8" cy="1853.1" r="8.8"/><circle cx="1769.5" cy="1857.2" r="8.8"/><circle cx="1772.2" cy="1852.5" r="8.8"/><circle cx="1775" cy="1849.6" r="8.8"/><circle cx="1777.7" cy="1835.4" r="8.8"/><circle cx="1780.4" cy="1856" r="8.8"/><circle cx="1783.1" cy="1850" r="8.8"/><circle cx="1785.9" cy="1841.4" r="8.8"/><circle cx="1788.6" cy="1867.8" r="8.8"/><circle cx="1791.3" cy="1865.3" r="8.8"/><circle cx="1794" cy="1861.2" r="8.8"/><circle cx="1796.8" cy="1853.2" r="8.8"/><circle cx="1799.5" cy="1834.1" r="8.8"/><circle cx="1802.2" cy="1849.4" r="8.8"/><circle cx="1804.9" cy="1843.3" r="8.8"/><circle cx="1807.6" cy="1854" r="8.8"/><circle cx="1810.4" cy="1870.7" r="8.8"/><circle cx="1813.1" cy="1869.6" r="8.8"/><circle cx="1815.8" cy="1844.7" r="8.8"/><circle cx="1818.5" cy="1850.9" r="8.8"/><circle cx="1821.3" cy="1862" r="8.8"/><circle cx="1824" cy="1844" r="8.8"/><circle cx="1826.7" cy="1863.8" r="8.8"/><circle cx="1829.4" cy="1843.9" r="8.8"/><circle cx="1832.1" cy="1841.5" r="8.8"/><circle cx="1834.9" cy="1858" r="8.8"/><circle cx="1837.6" cy="1860.6" r="8.8"/><circle cx="1840.3" cy="1846" r="8.8"/><circle cx="1843" cy="1860.5" r="8.8"/><circle cx="1845.8" cy="1845.9" r="8.8"/><circle cx="1848.5" cy="1861.2" r="8.8"/><circle cx="1851.2" cy="1846.3" r="8.8"/><circle cx="1853.9" cy="1851.6" r="8.8"/><circle cx="1856.7" cy="1855.5" r="8.8"/><circle cx="1859.4" cy="1859" r="8.8"/><circle cx="1862.1" cy="1850.5" r="8.8"/><circle cx="1864.8" cy="1866.4" r="8.8"/><circle cx="1867.5" cy="1854.4" r="8.8"/><circle cx="1870.3" cy="1855.3" r="8.8"/><circle cx="1873" cy="1847.3" r="8.8"/><circle cx="1875.7" cy="1861.7" r="8.8"/><circle cx="1878.4" cy="1839.5" r="8.8"/><circle cx="1881.2" cy="1854.6" r="8.8"/><circle cx="1883.9" cy="1860.8" r="8.8"/><circle cx="1886.6" cy="1842" r="8.8"/><circle cx="1889.3" cy="1839.9" r="8.8"/><circle cx="1892.1" cy="1853.7" r="8.8"/><circle cx="1894.8" cy="1859" r="8.8"/><circle cx="1897.5" cy="1852.2" r="8.8"/><circle cx="1900.2" cy="1857.5" r="8.8"/><circle cx="1902.9" cy="1854.6" r="8.8"/><circle cx="1905.7" cy="1840.7" r="8.8"/><circle cx="1908.4" cy="1849.4" r="8.8"/><circle cx="1911.1" cy="1851.2" r="8.8"/><circle cx="1913.8" cy="1849.7" r="8.8"/><circle cx="1916.6" cy="1852.8" r="8.8"/><circle cx="1919.3" cy="1846" r="8.8"/><circle cx="1922" cy="1845.8" r="8.8"/><circle cx="1924.7" cy="1855.1" r="8.8"/><circle cx="1927.5" cy="1851.5" r="8.8"/><circle cx="1930.2" cy="1834.3" r="8.8"/><circle cx="1932.9" cy="1849.2" r="8.8"/><circle cx="1437.3" cy="1826.6" r="8.8"/><circle cx="1578.9" cy="1829.3" r="8.8"/><circle cx="1840.3" cy="1830.6" r="8.8"/><circle cx="1878.4" cy="1832" r="8.8"/></g>
</g>
<line x1="1388.3" y1="1853" x2="1932.9" y2="1853" stroke="#000" stroke-width="3.2" stroke-dasharray="4 2.2"/>
<rect x="1388.3" y="1795.8" width="544.6" height="150.5" fill="none" stroke="#000" stroke-width="2.2" />
<line x1="1388.3" y1="1893" x2="1382.3" y2="1893" stroke="#000" stroke-width="2" />
<line x1="1388.3" y1="1825.2" x2="1382.3" y2="1825.2" stroke="#000" stroke-width="2" />
<line x1="1388.3" y1="1946.3" x2="1388.3" y2="1952.3" stroke="#000" stroke-width="2" />
<line x1="1524.5" y1="1946.3" x2="1524.5" y2="1952.3" stroke="#000" stroke-width="2" />
<line x1="1660.6" y1="1946.3" x2="1660.6" y2="1952.3" stroke="#000" stroke-width="2" />
<line x1="1796.8" y1="1946.3" x2="1796.8" y2="1952.3" stroke="#000" stroke-width="2" />
<line x1="1932.9" y1="1946.3" x2="1932.9" y2="1952.3" stroke="#000" stroke-width="2" />
<line x1="1456.4" y1="1946.3" x2="1456.4" y2="1949.8" stroke="#000" stroke-width="2" />
<line x1="1592.5" y1="1946.3" x2="1592.5" y2="1949.8" stroke="#000" stroke-width="2" />
<line x1="1728.7" y1="1946.3" x2="1728.7" y2="1949.8" stroke="#000" stroke-width="2" />
<line x1="1864.8" y1="1946.3" x2="1864.8" y2="1949.8" stroke="#000" stroke-width="2" />
<text x="1388.3" y="1977.5" font-size="32" text-anchor="middle" fill="#000" font-family='"Liberation Sans", Arial, sans-serif' transform="translate(1388.3 1977.5) scale(1 1.09) translate(-1388.3 -1977.5)" >300</text>
<text x="1524.5" y="1977.5" font-size="32" text-anchor="middle" fill="#000" font-family='"Liberation Sans", Arial, sans-serif' transform="translate(1524.5 1977.5) scale(1 1.09) translate(-1524.5 -1977.5)" >350</text>
<text x="1660.6" y="1977.5" font-size="32" text-anchor="middle" fill="#000" font-family='"Liberation Sans", Arial, sans-serif' transform="translate(1660.6 1977.5) scale(1 1.09) translate(-1660.6 -1977.5)" >400</text>
<text x="1796.8" y="1977.5" font-size="32" text-anchor="middle" fill="#000" font-family='"Liberation Sans", Arial, sans-serif' transform="translate(1796.8 1977.5) scale(1 1.09) translate(-1796.8 -1977.5)" >450</text>
<text x="1932.9" y="1977.5" font-size="32" text-anchor="middle" fill="#000" font-family='"Liberation Sans", Arial, sans-serif' transform="translate(1932.9 1977.5) scale(1 1.09) translate(-1932.9 -1977.5)" >500</text>
<text x="1386" y="1904.5" font-size="32" text-anchor="end" fill="#000" font-family='"Liberation Sans", Arial, sans-serif' transform="translate(1386 1904.5) scale(1 1.09) translate(-1386 -1904.5)" >95</text>
<text x="1386" y="1836.7" font-size="32" text-anchor="end" fill="#000" font-family='"Liberation Sans", Arial, sans-serif' transform="translate(1386 1836.7) scale(1 1.09) translate(-1386 -1836.7)" >100</text>
<text x="1323" y="1884.2" font-size="27" text-anchor="middle" fill="#000" font-family='"Liberation Sans", Arial, sans-serif' transform="rotate(-90 1323 1884.2) translate(1323 1884.2) scale(1 1.09) translate(-1323 -1884.2)" >Coulomic effciency (%)</text>
<text x="1691" y="2011.8" font-size="32" text-anchor="middle" fill="#000" font-family='"Liberation Sans", Arial, sans-serif' transform="translate(1691 2011.8) scale(1 1.09) translate(-1691 -2011.8)" >Cycle number</text>

<text x="1803.5" y="1832" font-size="32" fill="#000" font-family='"Liberation Sans", Arial, sans-serif' transform="translate(1803.5 1832) scale(1 1.09) translate(-1803.5 -1832)" >98.00%</text>
<g fill="url(#gS)"><circle cx="1306.5" cy="2058.6" r="11.5"/></g>
<text x="1331.5" y="2067" font-size="33.7" fill="#000" font-family='"Liberation Sans", Arial, sans-serif' transform="translate(1331.5 2067) scale(1 1.09) translate(-1331.5 -2067)" >1 M LiFSI in DEA/FB (1:1 v/v)</text>
<text x="1353" y="2118.4" font-size="31.6" fill="#000" font-family='"Liberation Sans", Arial, sans-serif' transform="translate(1353 2118.4) scale(1 1.09) translate(-1353 -2118.4)" >0.1 mA cm<tspan dy="-12" font-size="20">-2</tspan><tspan dy="12">  0.2 mAh cm</tspan><tspan dy="-12" font-size="20">-2</tspan></text>
<text x="1835" y="2015.6" font-size="32" fill="#000" font-family='"Liberation Sans", Arial, sans-serif' transform="translate(1835 2015.6) scale(1 1.09) translate(-1835 -2015.6)" >-20 <tspan font-family='"DejaVu Serif", serif' font-size="28.8">℃</tspan></text>
<path d="M1798.0 2092.3 L1798.0 2046.9 A8.5 8.5 0 0 1 1815.0 2046.9 L1815.0 2092.3 A16 16 0 1 1 1798.0 2092.3 Z" fill="#fff" stroke="#0ab4ee" stroke-width="4.5"/>
<rect x="1802.7" y="2076.4" width="7.6" height="27.9" fill="#9cc8f2"/>
<circle cx="1806.5" cy="2104.3" r="10.0" fill="#9cc8f2"/>
<g stroke="#0cc8fa" stroke-width="7" stroke-linecap="butt" fill="none"><g transform="rotate(90 1902.4 2074.6)"><line x1="1911.4" y1="2074.6" x2="1954.4" y2="2074.6"/><line x1="1923.4" y1="2074.6" x2="1937.4" y2="2060.6"/><line x1="1923.4" y1="2074.6" x2="1937.4" y2="2088.6"/><line x1="1937.4" y1="2074.6" x2="1947.4" y2="2064.6"/><line x1="1937.4" y1="2074.6" x2="1947.4" y2="2084.6"/></g><g transform="rotate(150 1902.4 2074.6)"><line x1="1911.4" y1="2074.6" x2="1954.4" y2="2074.6"/><line x1="1923.4" y1="2074.6" x2="1937.4" y2="2060.6"/><line x1="1923.4" y1="2074.6" x2="1937.4" y2="2088.6"/><line x1="1937.4" y1="2074.6" x2="1947.4" y2="2064.6"/><line x1="1937.4" y1="2074.6" x2="1947.4" y2="2084.6"/></g><g transform="rotate(210 1902.4 2074.6)"><line x1="1911.4" y1="2074.6" x2="1954.4" y2="2074.6"/><line x1="1923.4" y1="2074.6" x2="1937.4" y2="2060.6"/><line x1="1923.4" y1="2074.6" x2="1937.4" y2="2088.6"/><line x1="1937.4" y1="2074.6" x2="1947.4" y2="2064.6"/><line x1="1937.4" y1="2074.6" x2="1947.4" y2="2084.6"/></g><g transform="rotate(270 1902.4 2074.6)"><line x1="1911.4" y1="2074.6" x2="1954.4" y2="2074.6"/><line x1="1923.4" y1="2074.6" x2="1937.4" y2="2060.6"/><line x1="1923.4" y1="2074.6" x2="1937.4" y2="2088.6"/><line x1="1937.4" y1="2074.6" x2="1947.4" y2="2064.6"/><line x1="1937.4" y1="2074.6" x2="1947.4" y2="2084.6"/></g><g transform="rotate(330 1902.4 2074.6)"><line x1="1911.4" y1="2074.6" x2="1954.4" y2="2074.6"/><line x1="1923.4" y1="2074.6" x2="1937.4" y2="2060.6"/><line x1="1923.4" y1="2074.6" x2="1937.4" y2="2088.6"/><line x1="1937.4" y1="2074.6" x2="1947.4" y2="2064.6"/><line x1="1937.4" y1="2074.6" x2="1947.4" y2="2084.6"/></g><g transform="rotate(390 1902.4 2074.6)"><line x1="1911.4" y1="2074.6" x2="1954.4" y2="2074.6"/><line x1="1923.4" y1="2074.6" x2="1937.4" y2="2060.6"/><line x1="1923.4" y1="2074.6" x2="1937.4" y2="2088.6"/><line x1="1937.4" y1="2074.6" x2="1947.4" y2="2064.6"/><line x1="1937.4" y1="2074.6" x2="1947.4" y2="2084.6"/></g></g>
<polygon points="1913.4,2074.6 1907.9,2084.1 1896.9,2084.1 1891.4,2074.6 1896.9,2065.1 1907.9,2065.1" fill="#fff" stroke="#0cc8fa" stroke-width="6"/></svg></body></html>
